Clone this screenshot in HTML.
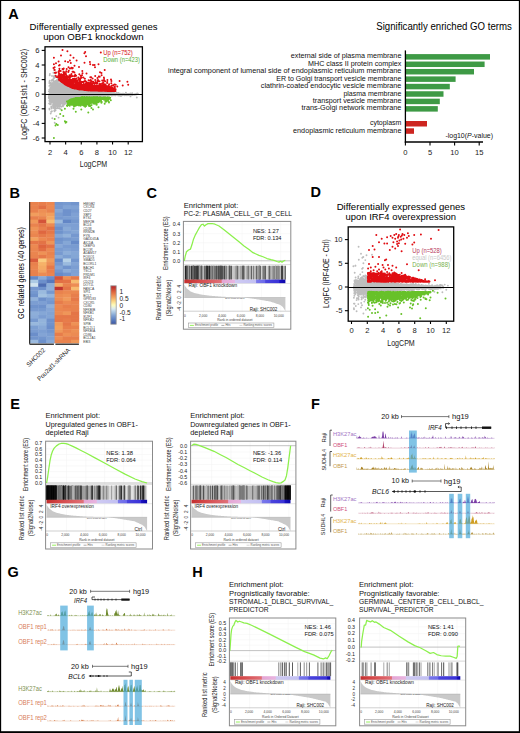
<!DOCTYPE html>
<html><head><meta charset="utf-8"><title>Figure</title>
<style>html,body{margin:0;padding:0;background:#fff;overflow:hidden}svg{display:block}text{font-family:"Liberation Sans",sans-serif}</style>
</head><body>
<svg width="520" height="733" viewBox="0 0 520 733" font-family="Liberation Sans, sans-serif"><rect x="0" y="0" width="1.15" height="733" fill="#000" />
<rect x="0" y="0" width="520" height="1" fill="#000" />
<rect x="518.85" y="0" width="1.15" height="733" fill="#000" />
<rect x="0" y="731.2" width="520" height="1.8" fill="#000" />
<text x="8.2" y="18.6" font-size="14.5" font-weight="bold">A</text>
<text x="93.6" y="29.6" font-size="9.4" text-anchor="middle" textLength="128" lengthAdjust="spacingAndGlyphs">Differentially expressed genes</text>
<text x="93.4" y="40.1" font-size="9.4" text-anchor="middle" textLength="100.5" lengthAdjust="spacingAndGlyphs">upon OBF1 knockdown</text>
<path d="M75.7 94.0h0M75.4 95.1h0M87.1 94.3h0M62.7 92.5h0M76.1 93.3h0M70.4 96.8h0M60.5 101.3h0M63.4 97.3h0M70.6 96.1h0M60.1 95.0h0M70.1 93.6h0M96.6 94.6h0M67.4 91.0h0M73.4 95.5h0M68.1 100.0h0M57.0 86.6h0M119.0 93.6h0M81.8 94.9h0M53.3 87.9h0M71.7 102.9h0M61.1 96.5h0M58.5 104.3h0M71.5 94.1h0M63.1 95.4h0M86.8 94.4h0M59.7 94.8h0M63.1 96.8h0M57.3 95.8h0M69.7 97.6h0M65.5 94.0h0M74.4 94.3h0M57.0 101.4h0M63.6 86.6h0M83.9 96.7h0M74.1 95.9h0M65.7 99.7h0M83.7 98.6h0M86.9 94.8h0M54.3 86.6h0M63.8 89.4h0M73.1 95.4h0M56.3 86.9h0M82.2 93.6h0M70.0 95.3h0M78.0 97.8h0M74.1 90.7h0M66.2 88.0h0M50.6 89.5h0M70.5 95.9h0M75.5 92.8h0M86.1 93.7h0M82.0 94.9h0M76.4 94.6h0M54.1 97.9h0M68.3 91.2h0M72.3 96.9h0M85.9 97.8h0M70.2 92.6h0M78.0 94.0h0M81.9 92.4h0M54.0 97.5h0M80.9 93.7h0M58.0 87.7h0M80.3 95.3h0M63.1 99.1h0M79.2 95.7h0M74.5 91.0h0M59.4 98.7h0M58.4 94.3h0M56.9 94.7h0M101.0 93.6h0M69.2 94.0h0M64.1 91.4h0M77.2 96.5h0M56.6 83.9h0M62.1 75.7h0M58.9 92.9h0M105.9 94.4h0M72.5 98.6h0M69.9 90.6h0M66.5 97.9h0M73.7 91.4h0M81.8 90.9h0M73.3 91.0h0M68.1 88.2h0M71.7 98.1h0M72.7 99.2h0M85.4 91.6h0M56.5 93.3h0M97.2 93.8h0M72.5 96.7h0M56.8 99.4h0M71.3 97.4h0M72.7 99.3h0M94.8 93.2h0M49.4 85.9h0M53.5 90.9h0M72.7 91.7h0M57.4 96.5h0M118.3 95.6h0M76.2 96.4h0M69.6 90.2h0M113.2 93.4h0M65.7 96.3h0M61.5 94.2h0M62.4 89.7h0M56.5 93.9h0M66.9 97.5h0M70.8 96.4h0M83.7 93.6h0M67.9 96.4h0M62.9 91.4h0M79.0 94.9h0M60.4 92.3h0M76.8 95.6h0M74.2 93.7h0M84.1 93.3h0M56.9 90.6h0M67.3 91.3h0M53.5 78.8h0M62.0 91.8h0M80.9 94.6h0M75.3 93.5h0M69.1 100.2h0M60.4 96.1h0M63.5 97.3h0M71.2 91.0h0M66.6 93.4h0M81.0 91.2h0M57.7 92.2h0M55.1 98.1h0M69.1 93.5h0M58.8 98.4h0M75.5 93.2h0M60.6 91.5h0M69.4 94.9h0M81.1 95.4h0M63.8 98.6h0M78.3 92.9h0M77.4 96.8h0M61.2 88.5h0M66.7 89.8h0M89.3 94.0h0M84.3 93.1h0M74.3 90.6h0M81.9 93.1h0M65.6 94.4h0M67.6 95.9h0M60.9 93.8h0M65.8 93.2h0M70.0 94.0h0M88.1 93.3h0M100.4 96.2h0M59.8 100.3h0M68.3 98.3h0M69.4 93.8h0M99.2 95.0h0M61.5 96.8h0M64.6 88.4h0M57.6 82.3h0M67.2 93.9h0M87.8 95.4h0M70.2 97.2h0M55.3 93.4h0M69.5 100.2h0M105.1 93.9h0M74.2 97.1h0M80.4 90.8h0M63.2 97.0h0M80.8 94.6h0M59.9 99.4h0M86.6 92.6h0M53.1 104.1h0M77.0 94.1h0M65.2 95.8h0M57.4 94.5h0M63.3 94.6h0M89.4 94.3h0M69.2 92.8h0M93.9 94.1h0M56.1 93.9h0M83.6 95.4h0M53.1 101.6h0M97.6 95.3h0M56.3 99.2h0M89.7 97.1h0M79.4 94.8h0M102.7 94.7h0M89.0 94.7h0M67.3 92.8h0M92.6 93.2h0M60.4 97.4h0M84.1 95.3h0M66.2 96.8h0M53.0 86.2h0M73.8 95.0h0M83.5 96.6h0M62.6 97.4h0M79.8 91.8h0M76.3 93.0h0M57.9 93.9h0M84.0 93.8h0M65.3 99.6h0M90.5 95.2h0M60.7 86.3h0M71.9 96.7h0M70.9 94.4h0M80.9 92.5h0M65.0 97.8h0M61.9 92.3h0M77.1 99.7h0M63.1 96.4h0M72.8 97.2h0M61.2 99.7h0M70.7 97.2h0M56.9 97.4h0M61.2 106.8h0M98.7 93.4h0M75.9 96.8h0M70.8 89.3h0M122.1 94.0h0M65.9 93.4h0M63.4 89.0h0M67.3 95.6h0M112.2 93.5h0M98.3 95.7h0M71.2 91.9h0M82.9 96.1h0M74.3 93.2h0M66.6 90.9h0M72.3 92.8h0M59.0 97.9h0M54.0 88.8h0M81.0 96.2h0M74.7 93.2h0M61.3 94.5h0M78.8 92.3h0M76.6 91.6h0M68.6 94.4h0M95.9 95.3h0M59.7 98.7h0M72.6 95.7h0M74.4 95.4h0M64.7 95.5h0M51.0 95.9h0M70.4 96.7h0M123.6 94.9h0M57.3 106.5h0M91.9 95.1h0M82.0 91.5h0M74.2 97.9h0M61.9 95.5h0M55.6 99.2h0M67.6 100.0h0M74.1 94.4h0M57.4 95.8h0M79.9 93.3h0M103.3 92.6h0M60.2 101.1h0M99.3 90.5h0M62.4 91.3h0M80.7 93.4h0M55.9 89.6h0M113.5 94.0h0M89.0 92.3h0M88.9 95.7h0M83.7 97.1h0M92.4 95.8h0M57.2 94.7h0M94.6 94.1h0M62.5 96.6h0M54.2 85.4h0M97.0 93.3h0M73.9 92.4h0M73.9 92.4h0M86.8 93.6h0M87.7 91.2h0M72.8 97.4h0M67.5 88.9h0M90.6 92.6h0M72.8 99.6h0M76.7 95.0h0M82.3 94.1h0M70.5 90.0h0M52.4 93.7h0M68.1 94.0h0M82.4 95.1h0M88.3 94.5h0M60.9 87.9h0M58.8 96.1h0M57.4 99.5h0M48.8 96.9h0M65.3 95.1h0M54.3 105.1h0M62.6 97.5h0M76.3 94.1h0M59.3 92.4h0M114.2 94.3h0M75.1 91.9h0M69.6 97.5h0M54.7 92.7h0M123.7 94.1h0M70.1 102.2h0M72.0 91.7h0M66.4 93.1h0M83.0 93.9h0M108.5 93.6h0M65.6 99.4h0M59.4 102.9h0M65.4 100.5h0M112.5 94.9h0M65.3 89.5h0M52.1 89.1h0M88.1 94.3h0M63.4 96.9h0M81.8 92.8h0M76.7 98.4h0M70.4 90.7h0M60.6 97.1h0M52.6 91.0h0M62.6 94.9h0M72.8 97.7h0M57.4 90.9h0M64.3 85.1h0M54.6 93.4h0M89.7 94.5h0M66.5 97.4h0M72.9 94.6h0M51.2 86.9h0M111.7 95.6h0M93.2 93.7h0M64.2 99.7h0M84.4 93.1h0M62.9 89.1h0M59.2 96.1h0M58.5 102.2h0M57.1 96.7h0M74.1 91.9h0M59.6 97.1h0M85.6 95.1h0M57.4 97.4h0M77.9 91.8h0M65.6 93.6h0M60.6 93.4h0M53.0 104.1h0M62.6 87.2h0M62.8 89.6h0M62.2 100.1h0M57.1 105.1h0M103.9 94.2h0M62.3 95.7h0M56.7 90.2h0M70.0 94.6h0M88.1 91.8h0M64.5 89.2h0M60.0 94.4h0M61.8 94.8h0M88.8 92.1h0M85.6 94.0h0M96.0 94.2h0M74.5 92.9h0M56.7 91.1h0M74.4 90.2h0M80.3 97.9h0M67.3 96.7h0M62.8 98.1h0M88.2 91.1h0M93.7 93.4h0M55.6 94.0h0M56.4 88.0h0M94.1 97.3h0M61.9 95.6h0M73.0 95.4h0M72.1 99.9h0M62.5 94.9h0M72.4 97.2h0M59.5 98.4h0M73.2 92.0h0M57.9 88.3h0M87.4 94.0h0M60.3 91.9h0M68.9 96.8h0M64.8 90.8h0M66.1 92.3h0M66.1 97.0h0M65.7 99.5h0M61.2 90.4h0M54.0 97.6h0M68.5 94.8h0M56.1 88.5h0M70.5 94.5h0M110.4 92.7h0M56.5 95.2h0M96.4 97.6h0M60.9 89.4h0M86.6 94.7h0M71.5 99.4h0M79.3 94.1h0M55.7 95.9h0M63.3 95.8h0M69.4 87.7h0M58.6 102.8h0M61.3 96.9h0M68.2 98.3h0M61.6 100.5h0M89.7 93.9h0M65.5 91.6h0M73.5 91.9h0M72.6 94.0h0M76.9 98.6h0M79.2 94.1h0M73.8 93.8h0M66.0 99.6h0M56.0 94.5h0M68.3 88.9h0M80.4 91.9h0M92.9 94.5h0M70.0 95.3h0M63.4 94.6h0M86.5 94.9h0M64.2 90.8h0M71.0 98.7h0M103.8 94.4h0M64.4 93.7h0M83.2 96.1h0M61.1 89.0h0M70.4 92.9h0M98.5 92.9h0M57.9 91.7h0M73.6 96.5h0M74.0 96.4h0M76.8 91.4h0M55.2 97.9h0M73.7 90.8h0M66.8 91.9h0M95.9 94.6h0M60.1 93.8h0M75.7 92.0h0M65.0 94.1h0M121.2 94.5h0M70.7 90.5h0M83.1 93.6h0M56.8 89.3h0M59.1 95.3h0M91.9 93.8h0M67.8 96.5h0M68.8 97.2h0M55.0 98.2h0M65.4 99.2h0M67.9 92.7h0M94.3 94.0h0M54.9 85.7h0M54.9 89.6h0M72.2 97.6h0M89.7 93.9h0M64.2 91.9h0M67.8 103.6h0M72.8 95.3h0M66.1 94.7h0M64.0 95.7h0M59.8 86.5h0M71.4 95.3h0M83.2 92.2h0M84.4 95.9h0M54.5 93.1h0M84.6 94.5h0M82.7 91.7h0M86.4 95.1h0M75.5 97.7h0M81.9 90.4h0M70.4 99.7h0M58.0 92.5h0M63.3 97.0h0M79.9 94.2h0M85.6 93.3h0M70.2 101.4h0M66.3 91.1h0M56.7 95.0h0M55.8 88.2h0M86.3 94.6h0M81.6 91.2h0M60.3 92.4h0M86.5 95.4h0M91.5 93.5h0M66.5 92.4h0M57.9 95.0h0M88.1 95.9h0M65.0 98.6h0M64.9 97.6h0M50.1 99.9h0M64.4 97.0h0M73.1 97.2h0M69.5 96.1h0M108.4 94.9h0M65.8 88.7h0M58.9 99.4h0M54.5 95.1h0M55.2 102.2h0M69.5 89.8h0M75.2 94.6h0M136.8 93.7h0M69.1 98.3h0M66.2 95.4h0M71.1 98.2h0M81.6 91.2h0M62.3 83.9h0M117.3 94.3h0M77.9 92.7h0M99.6 94.3h0M63.3 87.3h0M65.5 95.6h0M68.4 93.0h0M74.7 96.6h0M80.3 94.8h0M88.0 94.5h0M56.0 88.5h0M59.3 92.3h0M85.1 95.1h0M62.6 91.9h0M73.1 93.2h0M54.1 99.6h0M53.7 96.8h0M98.4 93.4h0M78.8 95.1h0M61.9 97.2h0M93.4 92.5h0M68.1 94.3h0M72.4 94.4h0M59.9 85.3h0M104.5 94.8h0M54.7 92.5h0M56.8 101.8h0M66.4 91.3h0M61.9 99.7h0M58.6 102.5h0M85.7 94.0h0M59.6 93.5h0M77.6 89.8h0M66.4 93.1h0M64.3 95.8h0M62.4 95.8h0M70.6 95.7h0M66.7 92.1h0M58.8 97.3h0M59.3 97.4h0M76.1 95.1h0M86.9 92.7h0M96.7 94.7h0M60.0 93.0h0M71.5 100.3h0M62.6 93.3h0M81.3 92.7h0M69.5 97.8h0M87.0 96.9h0M78.5 91.0h0M70.2 92.1h0M71.3 98.9h0M71.4 94.9h0M75.1 93.8h0M67.2 90.1h0M77.3 91.5h0M58.2 89.4h0M74.3 90.2h0M65.3 95.3h0M74.1 93.9h0M61.1 96.6h0M76.1 92.2h0M53.5 78.2h0M52.6 92.2h0M59.4 96.9h0M51.6 106.5h0M84.4 92.0h0M80.5 91.9h0M118.2 93.2h0M95.8 96.2h0M65.9 92.2h0M102.5 95.8h0M63.5 103.9h0M92.0 94.9h0M69.5 96.1h0M93.7 95.0h0M52.3 95.9h0M57.0 94.3h0M72.6 89.8h0M63.2 98.2h0M73.0 97.7h0M81.7 96.9h0M82.6 94.6h0M53.4 107.6h0M90.5 93.2h0M61.3 99.7h0M54.7 99.5h0M78.8 96.7h0M63.7 94.4h0M62.2 99.2h0M63.7 95.7h0M70.9 92.3h0M65.6 89.9h0M113.4 93.3h0M75.6 95.9h0M85.3 93.7h0M101.4 95.5h0M62.6 92.7h0M76.8 94.4h0M131.8 94.4h0M56.5 88.7h0M55.3 86.8h0M83.5 97.1h0M57.6 92.5h0M58.2 96.7h0M81.6 93.3h0M67.6 95.9h0M73.6 93.7h0M67.4 88.2h0M55.2 89.1h0M60.9 101.1h0M95.1 92.1h0M72.1 100.0h0M74.6 97.1h0M82.5 95.6h0M103.1 94.2h0M68.3 92.5h0M78.0 93.7h0M85.8 94.1h0M91.9 94.3h0M69.4 95.7h0M68.5 92.7h0M53.5 99.9h0M95.3 92.1h0M65.7 99.5h0M57.4 97.8h0M79.9 90.5h0M50.2 91.6h0M83.9 96.1h0M63.3 90.9h0M58.3 89.8h0M84.5 94.1h0M51.8 94.2h0M102.0 92.6h0M84.5 96.0h0M65.1 92.8h0M76.4 94.1h0M65.6 101.7h0M56.6 94.5h0M62.2 98.7h0M100.2 93.7h0M91.1 93.1h0M83.8 91.0h0M120.3 94.8h0M68.3 89.4h0M65.2 101.8h0M75.1 97.6h0M49.7 80.8h0M78.1 95.2h0M67.7 93.0h0M89.9 95.1h0M101.2 96.1h0M55.8 88.4h0M50.0 99.1h0M95.4 92.9h0M71.5 94.5h0M73.9 91.8h0M73.9 87.2h0M83.4 93.7h0M89.2 93.6h0M85.9 96.6h0M64.2 91.4h0M87.0 96.6h0M107.1 95.0h0M62.9 97.1h0M71.6 94.0h0M129.0 95.0h0M62.9 91.4h0M80.2 97.3h0M59.5 85.6h0M81.9 93.8h0M49.6 95.3h0M66.9 94.0h0M86.2 94.7h0M57.8 93.4h0M66.9 99.1h0M66.0 93.2h0M75.0 91.1h0M92.6 97.9h0M98.4 96.4h0M51.9 80.9h0M58.3 91.4h0M57.7 100.1h0M66.2 97.8h0M60.9 98.3h0M71.2 97.5h0M52.0 88.8h0M55.7 97.6h0M68.5 98.2h0M64.2 100.9h0M52.0 95.4h0M59.5 92.5h0M69.6 88.3h0M67.5 101.5h0M76.5 93.9h0M64.1 101.0h0M57.4 86.9h0M69.3 100.9h0M79.3 93.8h0M73.3 92.0h0M56.3 96.6h0M65.5 97.5h0M82.4 93.5h0M71.0 90.3h0M57.1 89.7h0M66.2 92.5h0M71.7 87.9h0M81.5 93.7h0M62.2 92.9h0M81.2 96.0h0M62.9 95.0h0M73.2 92.1h0M49.4 100.8h0M123.2 94.4h0M79.6 93.3h0M90.7 94.9h0M59.4 104.5h0M61.1 93.5h0M51.9 87.8h0M85.8 94.7h0M72.6 93.0h0M57.3 103.2h0M57.2 88.9h0M57.9 97.0h0M61.4 94.3h0M53.9 100.5h0M68.9 88.6h0M70.4 93.5h0M83.8 90.0h0M62.1 96.5h0M57.2 91.7h0M99.5 93.7h0M51.5 107.4h0M60.0 96.9h0M59.0 96.5h0M76.5 90.1h0M123.3 94.0h0M98.1 95.2h0M64.3 92.5h0M119.9 95.5h0M94.2 93.9h0M80.4 94.0h0M112.4 93.1h0M84.2 94.3h0M67.6 100.5h0M106.5 93.6h0M70.0 86.8h0M61.8 97.3h0M64.2 93.8h0M60.1 98.1h0M58.5 93.5h0M56.4 103.7h0M106.3 93.1h0M61.0 82.7h0M61.4 99.0h0M62.2 92.6h0M99.0 94.8h0M96.8 94.1h0M73.8 91.1h0M68.6 91.5h0M68.8 88.6h0M86.2 93.4h0M96.5 93.8h0M55.2 75.7h0M96.7 92.7h0M90.1 93.6h0M62.7 96.0h0M64.9 91.9h0M73.8 90.7h0M66.3 91.2h0M64.4 94.0h0M49.7 93.5h0M99.8 94.1h0M64.6 97.7h0M55.8 100.1h0M54.9 103.9h0M76.6 95.5h0M79.6 91.0h0M78.5 93.9h0M66.1 98.6h0M57.6 98.9h0M64.2 102.2h0M57.3 93.1h0M137.9 93.7h0M60.8 99.0h0M82.1 96.0h0M80.9 94.7h0M64.9 92.3h0M63.7 92.6h0M70.3 94.3h0M78.1 92.7h0M75.7 94.8h0M52.6 92.4h0M78.1 90.7h0M89.3 94.9h0M62.2 95.9h0M69.8 90.9h0M56.8 96.1h0M89.1 94.2h0M62.7 101.2h0M86.0 95.3h0M120.6 94.2h0M76.1 93.4h0M76.4 92.4h0M59.8 89.8h0M63.8 92.2h0M60.3 93.4h0M69.0 92.1h0M57.8 90.7h0M63.1 87.6h0M136.8 94.2h0M107.3 94.0h0M53.6 83.1h0M53.7 88.1h0M66.5 98.4h0M82.6 94.6h0M64.1 94.3h0M70.5 93.8h0M74.1 97.4h0M68.2 100.0h0M57.0 89.3h0M107.9 94.2h0M82.1 93.7h0M75.5 95.9h0M65.8 90.1h0M75.0 96.0h0M80.0 89.8h0M83.0 94.4h0M61.6 85.2h0M82.7 93.6h0M50.1 92.1h0M66.9 89.3h0M85.8 94.3h0M64.4 92.7h0M55.4 88.8h0M77.7 97.9h0M62.1 93.1h0M88.0 94.6h0M96.3 93.2h0M55.5 97.3h0M52.2 88.4h0M84.2 95.2h0M69.2 97.3h0M95.4 94.7h0M84.8 91.2h0M64.8 99.3h0M61.9 98.0h0M103.9 93.7h0M55.0 102.8h0M81.3 92.6h0M93.2 95.0h0M61.4 96.8h0M92.1 96.4h0M68.4 95.7h0M76.3 91.6h0M84.4 94.9h0M59.1 92.7h0M59.1 91.6h0M60.6 90.0h0M58.7 97.9h0M60.9 91.0h0M76.0 90.6h0M78.0 93.9h0M76.7 96.3h0M68.4 94.3h0M82.0 96.8h0M108.2 93.8h0M57.0 102.1h0M92.9 94.7h0M82.3 92.6h0M121.1 95.0h0M102.6 94.5h0M63.6 90.3h0M101.9 95.5h0M59.3 96.5h0M99.9 94.4h0M96.2 95.9h0M66.9 92.7h0M80.1 92.2h0M74.5 92.0h0M57.3 98.8h0M69.8 90.5h0M78.5 92.5h0M79.1 94.6h0M71.8 92.5h0M99.1 94.6h0M65.4 93.6h0M68.8 90.5h0M62.5 92.6h0M62.4 88.7h0M121.2 94.4h0M65.0 94.6h0M52.8 100.4h0M79.6 93.9h0M53.8 91.6h0M57.8 107.7h0M92.7 96.1h0M65.4 93.4h0M92.0 94.6h0M65.4 101.1h0M83.7 95.0h0M65.8 88.4h0M69.2 93.2h0M61.6 100.9h0M81.6 94.6h0M66.9 101.3h0M69.4 95.0h0M73.5 95.5h0M72.6 92.0h0M88.9 95.0h0M55.6 99.9h0M60.9 94.2h0M79.6 89.8h0M74.7 96.1h0M95.7 93.4h0M80.1 96.1h0M86.0 95.8h0M82.7 93.7h0M73.7 95.4h0M74.1 92.2h0M71.7 92.4h0M60.3 91.0h0M54.7 94.4h0M55.9 88.8h0M119.1 94.2h0M116.5 93.8h0M80.8 97.7h0M59.6 94.2h0M63.6 93.6h0M84.7 93.3h0M54.2 94.3h0M60.9 90.9h0M57.7 97.4h0M116.5 94.9h0M82.9 93.9h0M57.9 95.6h0M101.5 94.1h0M107.5 95.7h0M61.1 100.9h0M77.0 90.8h0M65.3 91.4h0M62.6 92.5h0M49.4 81.9h0M63.5 94.0h0M80.5 91.7h0M77.4 95.2h0M81.3 89.7h0M97.8 96.9h0M66.4 94.3h0M55.0 109.3h0M72.7 93.5h0M95.4 93.1h0M55.7 91.5h0M96.4 94.0h0M58.5 93.8h0M68.8 95.4h0M70.4 95.9h0M79.8 93.7h0M68.0 93.5h0M68.5 88.9h0M75.2 93.2h0M59.0 91.0h0M69.6 93.0h0M120.2 94.6h0M84.4 95.7h0M72.2 90.6h0M69.4 97.9h0M73.7 93.0h0M66.8 91.1h0M117.9 94.7h0M64.5 86.5h0M95.7 93.5h0M97.4 94.3h0M69.9 95.3h0M95.0 92.3h0M77.2 97.5h0M64.4 92.2h0M88.5 94.7h0M65.2 88.0h0M72.1 93.6h0M64.4 96.0h0M107.0 93.1h0M62.3 95.9h0M66.8 89.2h0M71.5 91.8h0M81.7 93.5h0M67.5 90.6h0M59.2 96.1h0M85.6 93.0h0M56.0 97.1h0M53.6 92.1h0M54.0 102.6h0M113.2 93.2h0M98.0 96.4h0M84.1 96.4h0M69.9 92.9h0M65.9 93.6h0M76.9 92.1h0M59.2 102.2h0M70.9 95.8h0M100.7 93.9h0M62.1 95.5h0M93.0 94.2h0M65.6 92.4h0M65.4 94.1h0M98.5 95.3h0M65.7 101.0h0M65.7 96.5h0M54.8 101.4h0M70.9 99.7h0M91.7 93.5h0M98.5 93.1h0M78.2 94.6h0M73.9 90.4h0M71.5 90.1h0M59.3 91.6h0M89.2 97.0h0M79.9 94.7h0M64.9 88.3h0M69.6 95.9h0M71.3 91.5h0M62.4 91.2h0M55.0 98.1h0M74.7 95.6h0M67.7 93.2h0M91.1 96.2h0M75.9 93.8h0M69.7 94.0h0M60.3 97.4h0M57.8 97.2h0M62.4 100.2h0M73.0 99.3h0M64.6 98.7h0M106.2 92.1h0M71.8 94.3h0M95.7 94.2h0M93.5 94.8h0M72.4 93.1h0M60.5 87.1h0M66.5 96.2h0M93.4 94.7h0M119.6 93.8h0M56.2 92.4h0M58.4 90.8h0M73.1 100.4h0M89.2 95.3h0M77.1 89.4h0M61.1 97.7h0M59.2 91.1h0M84.0 91.8h0M55.1 89.4h0M57.6 90.1h0M64.3 96.8h0M55.3 108.5h0M60.6 95.2h0M61.6 91.1h0M72.3 93.9h0M67.6 93.0h0M90.2 95.0h0M73.3 96.0h0M60.2 95.6h0M60.9 91.6h0M96.0 90.9h0M77.5 94.0h0M118.5 94.4h0M63.0 93.5h0M58.7 90.5h0M73.3 93.0h0M75.0 94.1h0M52.2 99.1h0M59.0 95.7h0M122.3 93.6h0M67.4 90.5h0M55.6 100.7h0M90.9 92.9h0M72.1 97.3h0M90.8 91.0h0M72.5 92.7h0M88.1 92.6h0M57.1 94.3h0M54.0 93.0h0M73.1 89.7h0M58.2 105.6h0M102.9 94.6h0M109.4 93.0h0M54.4 97.0h0M95.0 94.0h0M51.9 100.9h0M67.9 89.1h0M49.5 109.5h0M86.6 98.3h0M52.2 92.9h0M106.4 93.8h0M61.9 97.1h0M80.1 98.3h0M75.9 93.6h0M84.7 94.3h0M75.4 94.4h0M52.2 99.8h0M64.9 97.2h0M68.1 90.4h0M101.0 93.2h0M57.0 94.0h0M61.3 93.5h0M64.0 91.1h0M58.6 84.9h0M85.8 97.8h0M68.7 90.4h0M58.8 95.2h0M62.6 98.6h0M67.7 95.4h0M71.4 93.3h0M72.5 95.2h0M70.9 94.2h0M65.3 94.4h0M83.7 95.9h0M103.8 94.1h0M64.4 94.5h0M66.1 94.0h0M49.3 89.8h0M51.6 90.6h0M97.4 94.3h0M50.5 91.7h0M102.3 93.5h0M95.6 93.9h0M93.5 92.5h0M81.4 95.6h0M96.3 95.3h0M60.4 103.8h0M83.5 92.9h0M96.8 94.6h0M83.6 94.9h0M85.5 91.6h0M68.1 91.0h0M53.0 96.5h0M68.7 95.1h0M80.4 93.7h0M59.0 87.9h0M69.0 94.4h0M68.1 93.7h0M61.5 102.7h0M73.8 92.8h0M59.7 95.3h0M54.4 101.4h0M65.2 100.5h0M96.1 93.4h0M54.2 104.3h0M66.7 85.6h0M72.4 100.7h0M74.8 95.7h0M93.6 96.3h0M64.0 96.4h0M67.8 88.8h0M67.8 97.6h0M63.5 102.0h0M69.4 92.9h0M62.0 91.0h0M61.5 93.6h0M73.0 99.6h0M65.7 92.5h0M59.1 100.2h0M53.0 95.2h0M69.6 88.5h0M88.8 96.1h0M86.5 92.3h0M80.1 93.3h0M56.2 104.1h0M82.2 90.3h0M107.0 95.2h0M69.0 94.8h0M76.1 95.4h0M66.5 90.8h0M93.9 95.2h0M77.7 97.0h0M77.4 91.4h0M90.1 94.9h0M69.7 93.3h0M72.5 93.1h0M67.6 90.7h0M59.7 95.7h0M76.8 95.2h0M49.6 95.3h0M67.6 95.1h0M70.9 92.5h0M55.1 95.6h0M62.2 99.1h0M68.2 97.2h0M71.4 94.1h0M75.4 93.9h0M53.7 97.9h0M62.6 95.8h0M75.1 93.9h0M73.5 93.5h0M67.2 96.4h0M61.3 97.5h0M72.2 90.8h0M56.4 100.7h0M77.1 94.4h0M64.9 93.0h0M87.1 95.3h0M67.2 91.7h0M77.1 96.9h0M74.9 91.2h0M64.0 91.1h0M58.1 94.9h0M61.2 92.1h0M66.8 95.8h0M76.2 92.4h0M54.2 87.5h0M50.7 99.8h0M82.8 93.5h0M66.6 94.9h0M86.8 92.1h0M58.2 98.4h0M73.0 91.5h0M93.9 94.0h0M74.0 93.6h0M94.6 94.9h0M59.4 90.2h0M61.7 87.2h0M95.4 95.1h0M60.1 89.0h0M98.9 91.9h0M84.0 98.2h0M64.8 88.9h0M65.0 93.2h0M53.4 97.7h0M72.3 98.1h0M91.2 94.8h0M83.1 94.3h0M60.1 89.9h0M75.9 97.9h0M78.7 92.1h0M94.7 95.2h0M64.4 88.8h0M92.4 94.3h0M69.2 97.7h0M56.5 94.4h0M97.9 94.9h0M63.0 89.3h0M89.5 94.6h0M90.4 95.1h0M76.8 93.8h0M91.8 91.7h0M83.5 94.8h0M69.0 95.7h0M115.4 95.2h0M55.9 88.4h0M130.4 94.8h0M90.3 95.1h0M63.7 96.2h0M65.8 93.1h0M80.5 92.4h0M111.3 95.2h0M65.2 97.4h0M75.8 92.8h0M98.4 93.6h0M69.5 92.6h0M66.2 88.9h0M73.2 88.9h0M60.4 95.7h0M78.7 97.2h0M62.9 99.3h0M95.3 94.9h0M90.1 93.5h0M90.0 96.1h0M74.8 95.0h0M82.8 93.9h0M70.4 92.5h0M86.4 91.4h0M91.6 91.4h0M69.1 102.6h0M56.0 99.2h0M69.4 90.6h0M64.1 88.1h0M58.3 94.2h0M80.1 93.6h0M78.0 93.5h0M62.1 95.9h0M69.8 90.9h0M62.6 99.7h0M55.2 100.6h0M52.3 84.8h0M64.6 93.6h0M98.0 95.5h0M89.4 97.0h0M93.1 91.7h0M51.9 90.0h0M88.2 96.1h0M85.4 95.7h0M67.3 95.1h0M85.1 92.6h0M74.1 92.5h0M61.8 102.1h0M65.6 87.9h0M70.4 91.4h0M80.8 94.9h0M98.6 96.0h0M62.7 95.4h0M72.0 92.0h0M57.3 99.9h0M63.1 90.6h0M68.9 92.5h0M71.9 95.7h0M62.5 91.9h0M60.4 87.8h0M129.1 94.0h0M63.4 97.8h0M75.4 94.9h0M69.8 96.3h0M53.2 95.3h0M68.6 89.2h0M83.7 96.0h0M71.5 87.2h0M88.6 96.2h0M65.1 81.8h0M79.1 91.2h0M60.1 94.1h0M54.4 98.9h0M58.6 91.8h0M66.0 103.3h0M71.8 97.4h0M69.1 88.1h0M54.3 95.2h0M95.7 94.1h0M54.3 110.5h0M60.8 96.6h0M77.2 98.3h0M80.7 95.9h0M69.4 96.9h0M71.3 97.5h0M61.5 86.6h0M86.6 95.7h0M76.0 93.8h0M68.5 90.9h0M79.4 91.2h0M75.6 93.0h0M57.4 103.2h0M60.2 88.1h0M54.8 93.4h0M87.6 92.5h0M67.9 92.0h0M55.2 90.9h0M78.5 94.1h0M72.6 94.7h0M94.0 96.3h0M80.8 97.0h0M52.1 93.1h0M81.4 93.9h0M57.1 92.7h0M76.7 93.2h0M62.7 94.8h0M64.5 97.3h0M75.1 97.0h0M65.6 93.8h0M79.1 95.5h0M68.4 97.5h0M60.1 96.1h0M54.7 93.0h0M62.1 99.3h0M96.4 93.5h0M60.6 84.7h0M72.9 94.8h0M52.4 86.5h0M79.3 92.8h0M60.8 97.8h0M73.3 88.0h0M79.8 94.3h0M51.8 93.9h0M63.2 94.0h0M51.6 92.4h0M63.2 92.1h0M88.4 93.3h0M62.2 94.3h0M57.4 96.1h0M66.4 88.8h0M81.2 94.0h0M88.4 96.2h0M66.8 94.6h0M50.3 90.1h0M60.8 92.2h0M57.6 96.6h0M69.0 94.8h0M74.6 97.3h0M88.4 93.8h0M82.9 92.9h0M64.2 86.0h0M100.7 95.0h0M63.0 93.0h0M70.1 93.9h0M55.1 107.9h0M67.6 89.3h0M88.7 92.4h0M58.5 91.5h0M85.3 93.5h0M83.1 94.6h0M78.5 93.4h0M82.2 93.7h0M78.8 93.6h0M104.8 95.1h0M55.5 106.6h0M81.4 97.8h0M114.3 93.5h0M58.0 83.6h0M81.7 91.9h0M57.8 94.3h0M94.2 95.8h0M65.4 93.6h0M82.4 95.6h0M85.4 93.6h0M51.4 93.5h0M74.4 97.7h0M66.1 91.2h0M74.2 92.5h0M79.8 92.1h0M69.8 93.9h0M85.5 95.0h0M59.5 88.1h0M91.2 94.1h0M61.1 90.4h0M77.4 94.3h0M92.1 95.7h0M80.6 95.1h0M62.4 100.2h0M72.1 97.0h0M59.5 96.5h0M110.4 94.7h0M82.8 89.7h0M55.3 100.1h0M105.5 94.6h0M80.2 93.3h0M90.3 91.1h0M82.1 94.1h0M65.9 91.9h0M67.7 95.0h0M67.0 97.6h0M102.5 94.8h0M64.9 90.4h0M97.3 94.3h0M63.4 94.1h0M80.9 94.3h0M68.1 89.7h0M76.0 90.1h0M79.3 94.1h0M84.7 95.1h0M71.5 95.4h0M62.6 100.9h0M63.9 95.5h0M116.9 93.8h0M74.6 92.7h0M56.4 97.7h0M54.2 94.3h0M128.7 94.4h0M78.5 94.1h0M79.0 91.9h0M73.7 93.5h0M124.0 94.7h0M65.3 95.8h0M56.6 98.3h0M101.1 94.1h0M83.1 94.8h0M77.1 97.5h0M54.8 98.1h0M88.0 93.1h0M70.3 97.9h0M58.8 99.7h0M75.2 93.4h0M63.6 85.3h0M68.3 93.1h0M69.1 97.1h0M104.2 94.5h0M73.8 92.9h0M80.3 91.0h0M67.3 88.6h0M83.8 96.1h0M125.7 94.5h0M81.7 94.7h0M95.7 94.2h0M61.5 91.2h0M83.0 93.5h0M92.3 94.4h0M78.9 90.8h0M91.8 94.1h0M58.8 102.1h0M85.1 94.2h0M75.7 95.4h0M72.2 94.8h0M80.9 90.3h0M60.2 91.7h0M64.5 99.7h0M64.4 93.6h0M57.3 91.5h0M61.2 96.3h0M54.2 88.4h0M64.5 96.2h0M98.9 93.4h0M78.9 95.5h0M81.8 95.8h0M95.0 93.1h0M78.8 97.6h0M87.3 90.8h0M79.3 94.5h0M82.6 98.3h0M61.3 100.1h0M54.2 100.2h0M57.9 106.7h0M63.1 87.4h0M61.1 81.2h0M64.4 97.1h0M78.4 93.1h0M77.4 89.3h0M52.5 97.5h0M83.9 92.9h0M67.0 90.5h0M94.0 96.3h0M66.9 93.0h0M50.3 85.2h0M80.4 93.9h0M80.6 93.8h0M74.5 90.8h0M84.0 91.7h0M60.2 94.5h0M66.0 101.7h0M55.4 96.2h0M55.4 94.5h0M79.6 94.1h0M61.8 93.3h0M78.0 95.8h0M89.1 94.1h0M64.5 100.3h0M83.3 89.8h0M69.9 95.3h0M80.9 95.1h0M72.9 90.2h0M59.4 95.0h0M59.5 93.1h0M89.4 90.8h0M67.3 97.5h0M90.0 94.1h0M58.6 92.3h0M66.6 90.7h0M95.3 95.1h0M83.1 95.1h0M90.7 96.7h0M66.5 90.8h0M99.9 94.6h0M96.0 94.9h0M70.8 93.2h0M118.6 93.4h0M73.9 96.3h0M65.8 101.8h0M111.7 95.0h0M61.2 91.6h0M56.6 92.9h0M82.6 95.8h0M59.9 92.5h0M81.2 95.0h0M83.7 94.2h0M62.2 98.1h0M72.0 98.4h0M70.9 93.6h0M69.7 92.7h0M89.9 94.2h0M100.3 96.0h0M59.9 90.9h0M72.3 91.2h0M54.8 98.1h0M61.6 94.9h0M70.2 94.6h0M56.3 96.4h0M56.0 94.4h0M71.1 91.2h0M55.7 90.8h0M58.7 104.1h0M69.3 95.3h0M80.0 94.7h0M78.3 96.9h0M55.6 110.2h0M98.8 93.3h0M62.1 92.5h0M70.7 92.9h0M57.6 96.0h0M80.5 91.6h0M84.0 91.1h0M90.5 92.4h0M68.0 91.7h0M111.3 92.9h0M56.2 93.0h0M67.1 92.0h0M83.8 96.5h0M67.2 95.6h0M56.6 88.1h0M69.9 91.2h0M62.0 91.1h0M54.7 94.6h0M61.9 102.2h0M65.5 96.3h0M64.9 90.7h0M75.7 98.4h0M88.0 93.7h0M73.7 96.4h0M65.9 96.4h0M66.5 98.7h0M53.9 85.3h0M63.1 93.5h0M65.4 94.3h0M87.4 90.1h0M85.6 95.4h0M55.8 92.7h0M69.1 91.7h0M70.1 93.5h0M94.0 94.0h0M59.9 101.6h0M83.5 95.5h0M51.3 100.1h0M64.5 98.9h0M72.5 93.3h0M92.0 96.3h0M65.5 90.3h0M83.5 92.4h0M83.8 94.6h0M60.0 93.9h0M64.0 92.6h0M87.8 96.0h0M66.9 95.0h0M104.4 93.1h0M49.0 95.6h0M59.3 86.6h0M107.2 93.6h0M57.5 95.9h0M63.3 95.7h0M92.4 92.9h0M70.4 94.6h0M99.5 93.2h0M59.5 105.9h0M87.1 95.0h0M77.9 98.0h0M64.5 92.5h0M66.5 94.6h0M76.0 91.1h0M83.5 95.9h0M53.9 84.8h0M57.1 88.0h0M65.2 97.0h0M54.2 84.6h0M93.7 92.8h0M72.8 97.1h0M58.8 92.3h0M59.4 93.6h0M61.3 92.3h0M93.3 94.3h0M58.4 88.1h0M70.0 94.8h0M81.0 93.4h0M56.1 95.7h0M78.3 95.5h0M68.5 100.8h0M60.1 92.2h0M124.0 94.3h0M68.0 93.4h0M93.0 94.2h0M80.2 95.7h0M77.5 96.7h0M75.2 94.3h0M68.9 99.6h0M92.5 95.4h0M58.5 93.9h0M61.1 95.3h0M53.5 94.2h0M104.8 95.5h0M52.1 98.2h0M63.1 99.2h0M60.5 89.2h0M59.5 94.5h0M76.1 94.5h0M69.1 92.0h0M59.6 87.8h0M73.2 97.6h0M52.0 91.8h0M77.5 96.5h0M71.3 96.9h0M78.1 95.3h0M56.2 98.8h0M81.5 92.7h0M97.9 94.0h0M56.7 101.2h0M55.3 98.4h0M66.8 96.4h0M87.1 92.4h0M60.5 87.9h0M62.2 83.5h0M76.2 98.4h0M61.9 95.4h0M76.7 89.2h0M52.8 93.3h0M71.2 92.9h0M50.1 93.1h0M75.4 94.8h0M57.5 82.5h0M64.4 99.0h0M65.0 85.7h0M61.8 94.7h0M76.5 89.1h0M86.7 95.3h0M79.0 94.4h0M67.3 99.1h0M66.8 94.5h0M57.8 91.1h0M53.4 92.4h0M65.3 93.2h0M72.4 95.4h0M65.6 91.6h0M87.8 93.0h0M53.8 76.3h0M85.4 95.4h0M103.3 93.1h0M72.3 89.3h0M62.7 86.7h0M87.1 93.7h0M51.3 93.0h0M69.8 92.7h0M72.0 91.7h0M72.0 95.0h0M77.7 93.6h0M59.0 88.7h0M59.1 88.4h0M60.0 93.1h0M54.8 99.7h0M70.2 91.9h0M108.9 94.4h0M65.9 97.3h0M58.6 91.7h0M69.1 96.0h0M71.2 96.7h0M57.6 94.9h0M67.7 100.9h0M81.7 94.3h0M82.5 93.3h0M58.0 95.8h0M89.1 94.6h0M90.2 94.6h0M79.8 91.8h0M83.1 89.7h0M54.4 100.5h0M67.0 99.5h0M89.5 92.6h0M67.9 98.9h0M76.3 96.5h0M102.0 93.6h0M75.0 94.6h0M64.5 97.9h0M87.9 92.9h0M98.8 95.9h0M84.2 91.5h0M65.1 97.8h0M65.0 93.4h0M51.9 96.7h0M80.3 91.3h0M64.8 98.2h0M65.8 97.4h0M60.5 90.8h0M72.4 89.7h0M66.0 94.5h0M66.8 93.3h0M53.2 87.7h0M59.4 94.5h0M82.0 92.8h0M78.7 97.8h0M71.5 96.8h0M60.7 90.9h0M70.5 93.7h0M56.7 99.8h0M60.9 97.1h0M90.8 92.5h0M64.5 100.2h0M126.3 94.7h0M62.4 88.1h0M56.8 90.3h0M53.0 97.4h0M68.8 95.0h0M55.2 91.4h0M70.8 99.2h0M93.2 92.2h0M71.0 97.6h0M97.6 94.5h0M70.6 92.3h0M80.3 95.1h0M92.3 92.2h0M60.4 94.9h0M51.8 94.2h0M72.6 89.2h0M68.4 96.7h0M65.5 96.3h0M64.2 89.7h0M65.0 98.3h0M57.9 94.5h0M92.8 93.4h0M66.8 93.3h0M79.0 92.4h0M62.7 94.3h0M86.2 93.3h0M70.9 97.9h0M88.5 96.5h0M59.8 83.2h0M61.7 94.9h0M75.3 89.7h0M69.3 98.5h0M58.6 95.0h0M62.2 91.7h0M95.7 91.4h0M56.1 84.9h0M75.9 96.0h0M51.5 83.2h0M94.3 93.2h0M71.1 92.7h0M82.0 90.2h0M70.3 93.6h0M88.7 94.3h0M69.4 101.3h0M70.4 92.1h0M72.5 98.6h0M68.9 90.9h0M64.3 101.3h0M77.7 95.6h0M116.7 93.0h0M71.1 94.8h0M71.6 95.8h0M59.3 89.9h0M104.8 95.8h0M61.4 89.9h0M74.1 93.4h0M61.5 90.5h0M59.9 98.0h0M63.4 96.0h0M77.4 98.4h0M62.8 85.6h0M96.9 94.3h0M101.2 95.7h0M67.2 95.8h0M62.5 101.2h0M90.6 96.5h0M87.2 94.8h0M74.0 95.3h0M52.8 99.2h0M60.9 86.8h0M60.0 98.3h0M80.3 93.0h0M63.1 97.8h0M73.0 93.9h0M70.3 100.6h0M64.9 97.0h0M108.6 95.4h0M67.9 89.7h0M55.2 95.9h0M68.6 97.4h0M75.3 91.4h0M61.4 86.1h0M77.8 94.4h0M76.6 95.4h0M88.9 93.5h0M79.5 93.4h0M57.6 100.2h0M65.2 98.2h0M53.8 72.9h0M57.6 97.6h0M60.8 91.3h0M51.2 96.2h0M53.2 104.0h0M90.1 93.7h0M64.8 96.3h0M54.0 98.0h0M61.2 87.1h0M73.8 93.9h0M73.1 93.9h0M65.6 103.5h0M88.8 93.7h0M63.1 94.3h0M53.4 99.3h0M81.4 95.1h0M67.3 92.3h0M67.7 97.7h0M81.1 94.4h0M51.6 108.6h0M62.4 97.7h0M103.3 94.9h0M92.1 94.4h0M107.3 91.9h0M66.2 81.5h0M70.3 98.7h0M87.4 91.8h0M109.3 93.3h0M100.7 92.7h0M84.2 92.1h0M99.9 94.2h0M71.2 92.4h0M65.2 89.9h0M70.1 97.5h0M80.4 94.3h0M62.9 92.4h0M51.7 80.3h0M84.7 92.5h0M59.3 99.3h0M104.1 93.7h0M81.2 94.3h0M70.1 94.9h0M54.4 94.0h0M55.0 96.5h0M71.8 92.0h0M103.0 93.6h0M57.1 93.5h0M107.7 93.7h0M64.6 98.1h0M61.7 91.5h0M65.6 91.9h0M67.8 94.9h0M90.6 93.7h0M59.9 98.0h0M54.7 92.4h0M63.2 97.7h0M95.5 91.8h0M114.6 94.6h0M86.5 93.1h0M55.8 94.8h0M65.8 90.2h0M64.7 96.4h0M67.6 93.7h0M67.7 95.4h0M56.2 94.2h0M88.7 93.6h0M72.8 87.1h0M66.7 88.1h0M71.1 97.0h0M64.3 93.0h0M52.5 85.6h0M76.6 90.7h0M96.5 93.2h0M50.0 92.1h0M68.2 93.2h0M77.6 92.2h0M85.9 94.7h0M66.9 91.1h0M65.1 91.0h0M78.7 94.2h0M97.6 95.8h0M56.1 91.9h0M63.1 96.1h0M67.1 92.9h0M91.4 94.5h0M60.0 93.2h0M98.8 94.5h0M59.2 88.3h0M68.5 97.2h0M57.3 86.1h0M66.9 93.1h0M61.9 95.6h0M50.4 84.8h0M49.9 74.0h0M54.9 100.3h0M92.4 95.0h0M67.6 93.4h0M78.6 92.7h0M81.9 93.5h0M96.9 93.3h0M59.5 95.9h0M108.8 93.0h0M111.0 94.0h0M61.8 82.6h0M62.6 96.5h0M59.6 93.8h0M75.0 93.4h0M89.2 94.6h0M65.0 89.9h0M72.6 97.6h0M85.1 95.2h0M72.1 87.7h0M73.4 94.4h0M85.1 94.2h0M101.3 92.7h0M67.7 96.5h0M61.1 102.4h0M123.3 94.4h0M73.5 97.4h0M102.5 92.4h0M54.1 91.3h0M61.3 96.3h0M68.9 90.7h0M93.3 92.9h0M55.6 102.4h0M67.8 92.6h0M57.2 99.0h0M53.7 87.3h0M57.7 86.7h0M115.0 93.5h0M72.0 93.2h0M62.5 94.7h0M81.2 91.0h0M65.5 96.0h0M94.8 91.2h0M76.3 95.0h0M82.7 94.4h0M63.1 101.1h0M73.7 91.2h0M66.1 95.7h0M130.2 94.3h0M72.1 95.2h0M97.7 93.5h0M89.5 95.7h0M90.4 95.9h0M88.1 94.3h0M56.6 93.5h0M77.9 94.7h0M52.5 98.1h0M65.3 84.4h0M57.3 98.2h0M72.0 94.5h0M57.8 92.3h0M62.6 88.1h0M90.9 93.7h0M90.2 98.4h0M56.2 85.1h0M59.3 95.3h0M106.9 94.3h0M70.4 95.5h0M65.8 95.7h0M66.6 90.4h0M65.2 92.2h0M65.7 92.7h0M68.8 94.9h0M119.5 93.8h0M55.0 89.7h0M70.5 94.8h0M113.4 95.0h0M67.7 87.9h0M65.6 90.2h0M54.5 101.1h0M59.4 92.6h0M53.3 89.4h0M60.5 88.7h0M53.8 88.0h0M85.6 94.5h0M84.1 93.3h0M77.0 89.0h0M123.0 94.1h0M65.7 90.4h0M62.8 88.8h0M67.2 92.2h0M75.6 95.5h0M62.1 98.3h0M67.4 92.6h0M85.2 93.7h0M74.3 94.3h0M59.2 102.4h0M79.3 96.7h0M72.0 94.0h0M68.1 88.3h0M83.2 95.4h0M106.6 94.4h0M70.8 96.9h0M68.1 87.6h0M78.8 91.9h0M106.6 95.3h0M65.4 95.2h0M65.7 97.6h0M82.3 94.1h0M79.4 94.5h0M76.6 89.9h0M76.3 96.9h0M59.7 97.3h0M65.1 95.1h0M75.6 94.9h0M76.7 93.7h0M54.1 94.0h0M95.5 93.3h0M93.2 96.5h0M74.0 94.6h0M60.7 94.5h0M55.3 81.0h0M81.1 93.5h0M121.0 95.0h0M89.3 94.1h0M65.8 97.8h0M80.1 93.4h0M107.5 95.1h0M75.4 92.5h0M72.9 94.8h0M74.5 97.4h0M59.6 96.2h0M72.5 89.2h0M90.0 96.4h0M51.4 96.4h0M82.1 93.0h0M57.8 89.1h0M57.6 98.2h0M54.1 90.2h0M87.0 92.4h0M83.6 95.0h0M91.1 92.8h0M56.4 102.0h0M77.3 91.8h0M80.8 93.2h0M63.2 98.9h0M70.2 99.6h0M90.1 92.1h0M57.9 97.9h0M63.7 87.5h0M81.4 92.8h0M72.4 93.0h0M69.4 93.1h0M84.3 93.1h0M69.0 94.2h0M61.4 99.6h0M80.8 93.8h0M84.0 93.7h0M61.1 94.8h0M79.3 96.5h0M51.7 101.5h0M59.0 97.1h0M61.9 94.7h0M63.2 97.7h0M95.9 92.6h0M63.5 96.0h0M74.7 93.2h0M55.7 100.0h0M69.8 93.2h0M54.8 92.0h0M82.5 93.9h0M62.9 98.9h0M62.4 91.1h0M54.6 97.6h0M70.3 91.9h0M80.9 95.1h0M113.3 94.4h0M69.1 91.2h0M61.1 94.0h0M75.2 94.0h0M88.6 95.8h0M68.0 92.2h0M128.0 93.9h0M108.6 93.4h0M61.9 91.0h0M51.9 89.8h0M70.0 91.6h0M71.3 93.9h0M95.4 95.1h0M73.2 95.6h0M58.5 95.9h0M70.0 95.9h0M79.9 96.2h0M63.6 91.6h0M60.4 104.6h0M68.7 91.3h0M60.6 96.4h0M54.3 91.1h0M49.5 96.6h0M62.5 95.9h0M79.8 99.0h0M56.4 100.8h0M51.7 96.2h0M96.4 94.5h0M94.1 93.7h0M61.5 95.5h0M93.3 92.9h0M68.6 89.1h0M130.8 94.6h0M79.5 97.6h0M82.2 95.5h0M69.9 92.1h0M77.8 91.5h0M74.7 94.8h0M57.1 91.1h0M58.8 95.8h0M63.6 105.1h0M80.6 96.8h0M56.9 96.5h0M70.4 89.4h0M103.0 95.3h0M55.4 96.8h0M60.1 94.9h0M63.5 95.8h0M88.3 94.2h0M74.6 89.4h0M75.3 98.0h0M58.4 90.1h0M106.6 93.9h0M56.9 94.8h0M75.2 95.9h0M71.3 96.1h0M107.7 92.8h0M72.0 90.0h0M62.4 96.6h0M58.1 97.9h0M67.2 93.9h0M69.4 92.8h0M89.4 93.4h0M76.3 95.5h0M59.8 101.2h0M76.8 98.1h0M72.7 95.9h0M81.2 91.6h0M65.2 97.0h0M52.2 92.3h0M66.7 96.2h0M81.2 94.2h0M102.4 93.1h0M89.5 93.2h0M63.5 94.6h0M72.9 93.4h0M92.7 95.6h0M100.4 95.9h0M75.7 93.9h0M55.4 100.2h0M76.1 94.7h0M84.9 95.1h0M74.5 94.7h0M62.5 86.8h0M129.6 93.9h0M52.9 80.2h0M66.7 93.6h0M70.9 94.4h0M82.5 94.5h0M65.1 85.0h0M68.7 91.7h0M78.2 90.5h0M65.9 88.6h0M63.6 92.3h0M59.2 95.1h0M83.1 95.8h0M67.9 94.6h0M67.9 90.1h0M72.0 91.4h0M52.4 98.0h0M89.8 95.2h0M95.2 93.9h0M68.5 92.0h0M60.4 87.8h0M58.4 81.3h0M83.9 96.5h0M68.4 98.3h0M88.1 95.8h0M107.6 93.8h0M60.9 89.5h0M81.1 93.6h0M60.0 93.5h0M135.9 94.6h0M86.9 94.7h0M77.6 95.3h0M52.8 90.6h0M56.8 99.9h0M51.7 91.4h0M69.7 93.7h0M62.6 98.8h0M72.0 95.1h0M66.2 89.1h0M99.4 92.8h0M77.0 92.6h0M75.4 92.6h0M74.6 99.7h0M61.4 97.5h0M54.0 84.5h0M95.2 94.2h0M83.6 92.3h0M88.4 91.9h0M79.3 99.6h0M63.2 93.3h0M61.5 89.8h0M58.0 95.4h0M55.5 86.5h0M83.0 94.4h0M61.7 94.3h0M87.8 93.7h0M60.2 89.6h0M75.8 95.0h0M64.9 92.1h0M67.1 93.6h0M69.1 94.6h0M81.1 95.9h0M59.8 96.0h0M64.6 94.2h0M77.8 98.0h0M77.5 97.4h0M78.9 94.4h0M85.1 93.8h0M72.2 91.8h0M70.3 96.8h0M69.8 95.7h0M60.5 91.3h0M94.1 93.6h0M93.1 94.8h0M60.3 85.2h0M53.1 104.2h0M85.4 94.5h0M58.9 93.1h0M68.5 96.8h0M60.2 90.6h0M50.2 82.6h0M54.1 90.2h0M68.8 93.9h0M58.7 90.4h0M88.6 94.7h0M70.1 92.7h0M89.3 93.0h0M51.1 86.2h0M70.3 100.1h0M57.7 98.3h0M73.9 92.9h0M79.8 92.7h0M92.8 94.1h0M59.2 97.0h0M56.1 95.0h0M76.3 96.6h0M66.0 98.4h0M63.5 92.0h0M67.5 96.6h0M63.9 98.5h0M63.6 85.5h0M87.7 94.7h0M95.0 95.3h0M57.3 94.0h0M53.4 72.8h0M80.8 94.4h0M51.4 86.2h0M65.7 87.0h0M64.1 90.5h0M64.1 97.0h0M51.9 95.5h0M69.9 90.2h0M70.6 89.1h0M73.0 101.5h0M81.4 91.8h0M64.4 95.1h0M64.2 92.4h0M75.9 91.6h0M71.4 95.5h0M65.5 92.0h0M78.7 88.5h0M86.1 91.0h0M76.8 97.4h0M66.4 91.8h0M78.1 97.9h0M69.3 98.5h0M70.9 91.7h0M58.7 99.4h0M53.5 97.4h0M113.0 94.0h0M87.1 93.0h0M61.0 100.2h0M69.0 97.2h0M95.7 94.3h0M66.1 99.4h0M109.2 93.5h0M74.3 91.8h0M61.5 88.1h0M59.5 98.4h0M74.1 92.6h0M96.2 95.9h0M55.8 94.4h0M76.6 96.4h0M53.3 92.0h0M99.4 94.5h0M81.4 97.5h0M54.7 87.1h0M73.3 99.3h0M65.8 88.3h0M100.6 93.0h0M68.0 90.7h0M57.8 92.9h0M68.3 91.8h0M50.0 99.6h0M60.0 98.6h0M69.1 102.3h0M86.6 93.4h0M89.7 96.3h0M84.1 95.3h0M74.9 96.5h0M76.0 92.1h0M71.4 93.5h0M68.9 101.3h0M58.9 92.3h0M65.4 91.5h0M62.7 97.4h0M64.4 99.3h0M68.4 93.2h0M82.5 96.4h0M61.9 94.3h0M52.9 91.3h0M72.1 90.3h0M82.4 98.5h0M70.2 95.6h0M59.3 102.6h0M88.5 94.5h0M57.9 100.9h0M71.8 99.1h0M82.0 95.6h0M65.2 92.3h0M52.2 101.2h0M59.2 96.9h0M80.1 95.0h0M61.7 83.8h0M70.6 90.8h0M54.0 106.4h0M60.1 96.4h0M62.6 91.8h0M78.4 91.9h0M63.8 87.7h0M58.2 87.8h0M68.6 96.7h0M66.4 95.6h0M70.1 88.9h0M95.0 95.4h0M56.1 102.2h0M67.9 94.2h0M79.4 95.8h0M59.8 96.8h0M86.1 94.9h0M54.2 90.6h0M68.4 89.1h0M71.9 96.2h0M65.5 95.7h0M65.0 96.3h0M71.3 96.2h0M73.4 92.6h0M88.1 95.5h0M55.1 83.4h0M74.1 97.8h0M63.1 90.2h0M71.9 87.8h0M54.9 88.9h0M102.9 94.6h0M95.5 95.3h0M77.9 97.4h0M56.8 96.6h0M57.9 94.8h0M67.1 96.9h0M110.6 93.3h0M79.7 95.3h0M127.9 94.2h0M100.0 94.7h0M51.9 91.9h0M84.0 94.0h0M58.2 102.2h0M67.8 99.3h0M79.4 92.8h0M58.7 91.5h0M65.6 95.2h0M56.5 105.4h0M58.2 91.3h0M71.8 92.0h0M52.8 79.6h0M57.9 95.3h0M66.5 94.7h0M61.0 88.0h0M53.7 98.2h0M61.6 90.4h0M83.4 94.9h0M56.5 91.5h0M66.8 90.6h0M78.4 96.1h0M63.0 92.9h0M88.4 93.2h0M56.0 98.4h0M62.7 91.4h0M55.6 90.3h0M74.2 95.4h0M57.3 100.0h0M55.1 90.0h0M54.3 96.2h0M57.2 93.2h0M59.0 83.8h0M81.0 95.0h0M81.9 91.3h0M78.7 91.9h0M57.8 91.9h0M66.4 98.5h0M100.8 94.4h0M96.5 94.0h0M66.2 93.9h0M63.2 94.9h0M56.5 103.0h0M91.7 97.8h0M62.0 97.2h0M65.4 102.0h0M51.2 102.7h0M78.5 95.4h0M61.3 91.9h0M95.4 94.7h0M80.7 95.9h0M65.9 94.6h0M70.3 100.9h0M65.1 93.9h0M54.1 99.5h0M91.2 94.3h0M61.8 94.3h0M86.5 94.9h0M73.0 89.1h0M59.0 97.1h0M64.6 93.6h0M58.1 90.5h0M63.2 93.4h0M68.1 85.6h0M77.6 95.4h0M77.9 94.8h0M58.7 95.5h0M119.5 93.6h0M57.2 99.2h0M75.0 95.4h0M70.8 95.7h0M56.8 90.4h0M88.5 93.4h0M65.9 93.1h0M80.8 92.7h0M60.9 90.4h0M84.0 94.8h0M118.2 94.2h0M61.5 91.6h0M100.1 92.2h0M51.1 100.2h0M85.3 93.9h0M71.6 96.1h0M80.6 94.1h0M64.5 92.6h0M77.9 94.5h0M76.5 88.3h0M85.0 93.3h0M108.0 96.2h0M63.3 95.6h0M58.3 98.9h0M60.7 81.8h0M81.2 95.3h0M73.2 93.1h0M60.9 97.2h0M127.3 94.3h0M104.1 94.5h0M72.8 95.3h0M84.6 95.9h0M62.1 88.3h0M53.6 91.0h0M55.5 93.2h0M76.9 91.7h0M87.8 93.1h0M76.4 94.6h0M62.6 92.6h0M61.8 92.3h0M62.8 99.4h0M61.0 100.6h0M81.7 94.5h0M53.1 101.4h0M64.9 90.4h0M73.0 92.6h0M55.3 99.4h0M72.3 92.6h0M50.6 98.0h0M81.2 91.8h0M72.3 96.3h0M104.2 95.3h0M84.2 90.6h0M66.3 101.2h0M65.5 93.8h0M55.5 101.3h0M62.3 92.1h0M63.2 94.9h0M66.2 90.6h0M103.4 93.4h0M67.4 99.7h0M91.7 95.1h0M54.1 102.9h0M121.4 95.7h0M72.7 96.3h0M93.0 95.5h0M72.9 98.4h0M78.1 91.1h0M64.3 88.8h0M69.6 95.6h0M61.4 91.4h0M79.4 90.2h0M84.6 94.3h0M63.5 96.6h0M59.6 92.9h0M75.1 94.3h0M65.9 90.2h0M80.6 94.1h0M61.8 99.1h0M55.2 98.2h0M61.8 95.4h0M66.4 98.4h0M58.6 96.5h0M67.0 102.3h0M55.2 91.6h0M104.1 93.5h0M72.8 92.7h0M132.0 95.1h0M65.7 97.7h0M58.4 92.9h0M100.5 97.3h0M62.5 94.1h0M64.2 91.6h0M58.8 90.6h0M64.2 99.1h0M92.8 92.7h0M59.5 86.5h0M50.3 92.3h0M70.7 91.3h0M98.9 93.0h0M62.4 89.6h0M63.3 99.7h0M81.3 91.6h0M64.9 95.7h0M56.5 96.8h0M104.1 95.3h0M84.8 95.2h0M67.4 97.5h0M55.8 95.5h0M70.7 91.6h0M56.3 98.0h0M61.6 100.3h0M75.1 92.5h0M58.2 81.8h0M66.6 96.3h0M89.5 96.4h0M84.6 95.1h0M56.8 90.4h0M124.9 94.1h0M58.8 98.5h0M66.1 95.5h0M73.9 94.8h0M85.7 92.4h0M106.9 95.2h0M53.6 86.8h0M72.1 96.1h0M73.3 92.0h0M90.0 93.3h0M66.1 96.2h0M58.4 94.3h0M80.1 94.7h0M70.6 93.9h0M62.7 94.2h0M58.9 90.6h0M56.4 103.8h0M69.4 96.4h0M83.4 91.1h0M79.6 96.3h0M78.4 94.6h0M56.8 105.4h0M57.0 81.4h0M68.9 90.6h0M53.5 86.8h0M85.3 92.8h0M101.5 92.7h0M95.5 93.1h0M82.5 97.0h0M89.1 95.8h0M60.7 101.9h0M55.6 100.3h0M79.1 92.6h0M67.7 95.7h0M69.3 94.3h0M61.3 94.5h0M76.2 90.9h0M73.7 92.8h0M61.4 84.8h0M60.7 88.7h0M65.5 97.0h0M59.0 99.6h0M72.7 95.8h0M54.1 92.6h0M61.2 97.2h0M59.1 100.9h0M86.4 92.8h0M73.9 94.7h0M74.9 89.3h0M82.7 94.8h0M80.4 90.7h0M60.1 97.4h0M58.6 104.6h0M70.0 96.3h0M64.2 84.8h0M72.4 91.1h0M70.3 91.7h0M50.6 93.1h0M81.8 95.8h0M59.2 85.0h0M49.0 94.1h0M106.4 94.0h0M73.2 95.7h0M80.0 94.4h0M59.5 93.4h0M82.1 92.9h0M51.9 88.9h0M73.5 93.9h0M71.5 92.6h0M68.3 99.4h0M74.4 94.1h0M57.6 98.5h0M71.4 95.2h0M81.9 90.8h0M66.0 95.6h0M70.0 96.7h0M84.9 93.2h0M68.7 98.1h0M54.5 103.7h0M63.7 92.4h0M83.9 94.0h0M99.0 95.1h0M80.5 96.4h0M75.2 97.4h0M83.1 95.5h0M63.9 83.1h0M66.4 97.0h0M66.1 97.9h0M63.3 93.8h0M70.9 90.3h0M89.4 97.6h0M93.0 95.5h0M52.6 90.5h0M98.1 94.9h0M72.7 93.1h0M94.1 94.9h0M54.1 94.7h0M56.1 100.3h0M57.3 96.4h0M93.0 94.1h0M81.3 94.5h0M63.6 86.6h0M58.6 93.7h0M77.6 96.3h0M74.6 97.1h0M78.5 97.5h0M54.5 93.9h0M59.7 92.2h0M62.6 91.4h0M98.3 96.7h0M91.6 96.7h0M79.0 92.3h0M57.7 78.9h0M55.2 88.0h0M68.7 91.4h0M86.8 95.1h0M49.4 98.6h0M70.0 93.0h0M70.2 97.0h0M69.6 99.2h0M80.7 93.7h0M54.2 102.3h0M69.2 98.1h0M50.7 113.5h0M70.7 92.6h0M81.6 93.3h0M78.2 94.2h0M61.0 99.0h0M86.9 95.6h0M51.1 96.9h0M63.2 93.9h0M63.2 96.3h0M65.4 96.8h0M97.0 94.8h0M49.1 103.4h0M58.1 100.7h0M76.4 93.9h0M58.5 98.0h0M101.4 94.2h0M66.9 91.9h0M87.5 95.7h0M52.5 92.4h0M65.5 93.1h0M70.5 94.6h0M57.3 83.7h0M60.9 96.1h0M77.0 90.0h0M66.3 90.3h0M62.8 94.2h0M78.6 92.2h0M114.6 94.3h0M74.7 89.6h0M52.8 90.2h0M71.9 88.5h0M58.5 98.2h0M62.6 97.2h0M65.4 83.5h0M86.6 93.9h0M90.8 94.9h0M51.8 102.3h0M68.3 92.9h0M61.8 89.8h0M111.6 93.3h0M72.7 93.7h0M80.1 96.0h0M57.0 92.3h0M108.8 94.5h0M92.7 96.5h0M71.7 92.3h0M60.5 98.3h0M80.1 95.6h0M66.8 91.9h0M62.1 95.0h0M77.6 95.9h0M88.5 96.6h0M70.2 88.2h0M78.0 98.0h0M78.9 93.2h0M64.1 94.4h0M69.6 97.9h0M99.0 94.5h0M52.6 95.2h0M85.7 93.4h0M53.6 92.6h0M82.7 91.6h0M77.5 92.6h0M60.6 99.1h0M51.1 84.1h0M82.2 93.7h0M71.1 99.5h0M83.6 91.4h0M84.9 95.6h0M72.7 95.1h0M55.8 92.3h0M62.1 90.5h0M54.7 92.7h0M86.3 91.3h0M64.1 98.4h0M56.7 96.7h0M70.7 95.0h0M84.0 90.8h0M91.3 91.9h0M63.5 99.7h0M60.4 88.9h0M71.7 94.7h0M78.7 100.3h0M60.4 89.9h0M75.6 98.9h0M86.6 97.7h0M61.4 90.7h0M69.0 91.9h0M69.4 95.4h0M74.1 97.4h0M51.1 94.3h0M101.5 95.1h0M103.7 94.5h0M87.5 95.1h0M80.0 94.6h0M108.6 95.2h0M53.0 99.7h0M74.9 92.8h0M61.5 101.9h0M74.6 92.9h0M84.9 94.0h0M62.1 99.1h0M88.3 96.0h0M99.0 95.3h0M89.8 94.9h0M78.3 96.2h0M83.7 92.6h0M95.4 95.4h0M62.4 93.0h0M104.4 94.8h0M96.9 93.6h0M102.9 93.6h0M66.6 98.4h0M54.1 97.9h0M82.9 94.0h0M51.4 87.6h0M86.8 94.1h0M59.8 90.9h0M71.7 95.2h0M54.0 96.2h0M71.3 98.2h0M67.5 101.6h0M90.2 95.7h0M65.0 91.9h0M88.6 93.6h0M57.0 97.0h0M71.5 91.1h0M102.0 93.7h0M86.7 97.0h0M82.0 92.6h0M78.0 94.3h0M68.5 95.7h0M75.3 96.1h0M81.1 93.7h0M90.6 93.2h0M62.3 97.3h0M57.9 92.5h0M61.8 101.3h0M100.9 94.7h0M59.4 90.2h0M93.6 92.9h0M108.9 94.7h0M69.0 91.3h0M70.8 95.4h0M56.4 94.3h0M74.7 96.1h0M54.1 70.1h0M69.5 94.8h0M67.5 95.1h0M70.4 96.0h0M72.2 90.6h0M62.3 84.9h0M76.8 96.4h0M78.0 93.8h0M72.2 95.6h0M59.7 92.8h0M58.7 96.5h0M132.2 93.2h0M57.2 96.6h0M74.6 91.5h0M60.6 88.8h0M71.1 95.4h0M90.5 92.1h0M72.1 94.2h0M58.8 96.9h0M72.3 96.9h0M57.9 92.1h0M71.3 92.8h0M94.7 95.7h0M65.0 94.5h0M63.7 100.5h0M58.2 105.1h0M67.4 89.0h0M78.1 97.4h0M77.5 97.5h0M73.7 93.6h0M90.8 95.4h0M86.9 94.8h0M78.1 95.3h0M71.3 95.7h0M57.6 89.9h0M63.6 91.1h0M106.7 93.8h0M74.6 90.2h0M54.2 100.4h0M64.9 94.0h0M52.5 82.9h0M69.5 94.7h0M64.4 86.7h0M93.4 93.6h0M101.2 95.7h0M95.2 94.8h0M88.0 93.6h0M87.2 93.8h0M53.2 92.3h0M63.2 93.0h0M76.0 97.3h0M61.9 94.1h0M75.7 93.2h0M75.1 93.6h0M87.1 92.1h0M73.6 95.9h0M64.9 86.4h0M94.6 92.6h0M60.4 89.9h0M56.2 97.0h0M73.0 92.9h0M83.1 91.5h0M59.1 89.2h0M89.2 91.1h0M72.0 99.4h0M92.5 95.2h0M90.2 97.8h0M52.5 95.0h0M75.2 93.0h0M60.2 94.8h0M61.2 89.0h0M80.8 91.7h0M84.8 97.1h0M81.9 94.2h0M106.5 94.2h0M59.9 104.1h0M65.9 90.7h0M93.7 94.9h0M78.0 98.8h0M63.2 95.3h0M78.2 93.3h0M70.1 94.8h0M56.3 92.5h0M65.0 93.0h0M73.3 97.0h0M75.1 92.5h0M72.5 98.6h0M51.5 100.9h0M62.7 101.1h0M59.2 89.2h0M71.3 85.9h0M72.0 96.0h0M71.0 90.4h0M63.0 94.9h0M82.6 95.6h0M81.7 95.2h0M91.2 95.2h0M75.8 95.2h0M61.1 98.7h0M77.0 95.6h0M89.0 95.0h0M67.6 89.9h0M77.5 92.4h0M54.3 84.6h0M70.3 85.8h0M51.9 111.3h0M63.0 106.4h0M57.6 91.0h0M69.8 92.8h0M75.5 96.1h0M57.9 94.9h0M65.7 100.6h0M50.7 95.3h0M53.0 100.5h0M67.1 84.3h0M65.5 94.3h0M62.1 91.2h0M67.0 86.4h0M57.8 92.7h0M64.8 95.6h0M67.7 93.9h0M89.5 95.6h0M60.5 87.6h0M64.7 101.1h0M79.3 96.8h0M67.7 89.8h0M94.0 95.7h0M90.8 96.3h0M77.9 95.2h0M63.0 95.7h0M95.8 93.7h0M98.0 94.1h0M100.9 93.8h0M60.7 88.0h0M63.6 99.1h0M84.6 93.0h0M53.9 81.6h0M58.6 91.4h0M77.8 92.8h0M70.9 94.2h0M84.2 94.6h0M88.2 95.7h0M91.3 96.0h0M66.0 90.4h0M73.2 93.8h0M71.5 92.3h0M67.2 96.7h0M102.5 93.9h0M60.8 90.8h0M59.6 93.9h0M73.5 92.5h0M55.8 104.2h0M55.0 93.1h0M91.8 96.8h0M85.7 95.0h0M88.0 93.7h0M55.2 87.1h0M71.6 90.2h0M75.5 94.7h0M61.7 96.3h0M61.0 92.5h0M78.3 91.6h0M86.7 92.9h0M83.1 93.7h0M55.8 96.1h0M74.1 96.7h0M70.7 96.1h0M66.0 93.3h0M118.5 93.8h0M91.5 97.5h0M75.0 93.4h0M80.2 94.6h0M63.8 91.1h0M74.0 94.7h0M56.3 88.0h0M57.4 97.0h0M90.4 95.2h0M87.9 93.1h0M56.6 95.9h0M89.9 95.0h0M65.9 103.4h0M81.6 96.4h0M49.7 75.3h0M86.6 93.9h0M76.1 94.0h0M62.0 98.4h0M93.3 94.2h0M77.8 94.7h0M58.6 90.6h0M69.0 92.1h0M87.2 95.7h0M83.9 96.2h0M62.7 97.1h0M51.5 87.6h0M58.3 97.8h0M70.6 93.2h0M82.2 92.1h0M53.5 103.3h0M112.7 95.4h0M77.3 96.8h0M58.3 98.0h0M56.6 85.5h0M69.9 96.9h0M62.6 92.9h0M63.1 91.7h0M70.6 92.1h0M59.1 101.1h0M61.6 94.0h0M69.8 97.5h0M56.4 102.2h0M74.4 98.1h0M72.0 96.1h0M100.0 94.6h0M65.4 86.7h0M65.8 88.5h0M88.0 97.5h0M78.4 95.1h0M66.0 92.0h0M79.0 91.9h0M52.6 79.9h0M84.7 94.0h0M93.6 93.2h0M64.8 92.4h0M57.2 88.7h0M59.4 98.8h0M58.2 102.2h0M84.1 91.2h0M59.6 100.8h0M73.4 93.9h0M60.5 98.7h0M70.7 93.7h0M72.9 95.7h0M101.6 93.0h0M61.2 97.9h0M57.8 97.5h0M58.6 95.6h0M54.4 100.4h0M59.9 98.4h0M75.9 93.5h0M54.4 90.3h0M85.7 91.2h0M56.8 99.5h0M58.5 87.5h0M73.9 92.7h0M62.4 90.5h0M91.0 93.0h0M60.9 91.8h0M104.8 93.7h0M75.9 89.8h0M63.2 94.4h0M58.5 93.6h0M93.5 94.4h0M103.7 93.4h0M79.3 90.4h0M59.3 103.5h0M100.5 92.7h0M70.5 92.0h0M78.5 89.3h0M91.6 94.1h0M74.8 97.5h0M72.7 90.9h0M57.6 95.2h0M60.0 91.9h0M100.8 93.4h0M79.9 90.3h0M70.1 96.5h0M72.5 101.2h0M71.1 90.7h0M52.6 97.6h0M54.6 96.2h0M62.9 94.3h0M56.3 99.8h0M61.2 92.8h0M62.9 94.3h0M62.2 92.8h0M75.7 99.9h0M57.4 101.4h0M55.1 77.3h0M64.9 100.4h0M71.9 90.1h0M64.1 89.8h0M79.2 95.5h0M103.4 94.2h0M84.7 94.6h0M57.3 105.8h0M95.7 96.9h0M79.4 92.3h0M72.8 95.7h0M79.8 96.1h0M73.8 96.9h0M64.5 91.6h0M66.4 93.8h0M56.1 94.0h0M69.8 94.4h0M96.2 94.4h0M66.3 98.6h0M81.2 93.7h0M76.6 91.3h0M79.6 95.8h0M73.8 94.0h0M58.8 95.3h0M73.2 94.5h0M86.8 93.2h0M81.3 94.9h0M56.2 102.8h0M116.5 93.6h0M57.2 102.2h0M56.5 98.8h0M73.7 95.0h0M83.1 93.5h0M84.4 94.9h0M54.7 91.5h0M77.4 92.7h0M90.3 94.9h0M61.3 98.5h0M127.9 94.4h0M68.8 97.1h0M79.2 94.7h0M68.5 86.6h0M66.0 94.8h0M78.2 96.6h0M65.8 89.9h0M76.4 92.6h0M67.3 90.3h0M62.9 100.5h0M108.8 94.4h0M116.4 94.5h0M53.4 89.2h0M66.7 100.0h0M61.5 89.2h0M49.6 101.3h0M64.8 87.0h0M87.2 94.8h0M75.0 91.7h0M83.7 93.2h0M91.4 95.2h0M72.3 97.9h0M63.4 94.3h0M55.9 94.3h0M60.8 93.6h0M62.9 99.0h0M97.0 95.4h0M126.2 95.2h0M83.8 94.3h0M58.2 88.0h0M69.9 93.5h0M81.5 96.3h0M67.2 95.7h0M74.5 93.1h0M88.1 91.9h0M81.5 96.9h0M54.8 90.2h0M93.7 94.4h0M68.0 96.1h0M64.1 90.3h0M68.4 93.2h0M60.4 97.6h0M49.4 100.5h0M86.8 90.5h0M81.3 95.9h0M64.5 96.2h0M62.2 82.6h0M62.7 95.2h0M87.7 93.5h0M81.9 92.9h0M93.9 93.6h0M78.9 94.5h0M57.9 82.4h0M91.0 95.6h0M59.4 105.0h0M75.0 87.9h0M102.2 94.9h0M87.6 96.0h0M69.6 90.3h0M99.2 93.0h0M79.6 92.9h0M87.7 93.8h0M65.2 97.3h0M58.8 89.5h0M65.7 92.6h0M81.3 96.4h0M76.1 95.1h0M58.5 96.1h0M66.8 96.3h0M75.2 99.3h0M61.7 103.2h0M70.5 94.6h0M67.1 93.0h0M62.5 96.2h0M55.3 87.7h0M64.8 101.8h0M52.3 96.0h0M62.6 91.2h0M86.7 94.7h0M60.2 100.7h0M102.0 93.4h0M85.1 93.9h0M79.7 94.8h0M137.1 93.4h0M74.4 98.7h0M72.7 96.4h0M65.4 95.7h0M52.9 88.6h0M55.3 99.5h0M63.2 94.3h0M89.9 96.9h0M71.2 94.3h0M85.2 95.7h0M84.5 96.9h0M71.6 94.6h0M86.7 95.6h0M90.5 95.0h0M88.1 94.7h0M59.8 93.3h0M115.3 94.3h0M57.7 100.0h0M93.2 94.6h0M97.6 96.0h0M65.3 98.4h0M120.6 94.6h0M84.2 93.5h0M79.6 91.1h0M62.0 83.6h0M102.4 94.4h0M70.7 100.4h0M77.8 95.6h0M85.0 91.6h0M112.2 93.6h0M69.3 93.1h0M67.0 94.2h0M63.3 91.8h0M62.8 101.0h0M54.8 103.0h0M81.8 94.0h0M58.5 98.3h0M63.8 96.5h0M69.9 93.8h0M88.0 95.8h0M60.7 92.2h0M70.0 95.0h0M64.3 93.5h0M74.8 92.7h0M59.3 95.3h0M65.2 93.5h0M87.3 95.3h0M50.8 104.2h0M90.1 95.3h0M61.6 92.8h0M61.6 96.5h0M76.9 93.4h0M54.0 78.3h0M76.0 95.0h0M82.2 93.5h0M82.9 94.7h0M52.7 89.0h0M78.1 94.3h0M59.1 98.6h0M64.7 94.3h0M71.7 94.0h0M56.8 95.1h0M73.3 94.4h0M50.0 95.6h0M61.2 92.5h0M85.5 95.4h0M75.0 92.5h0M87.8 93.8h0M60.3 99.0h0M63.4 99.1h0M63.8 92.9h0M67.1 94.1h0M81.8 92.9h0M74.8 94.6h0M72.4 94.6h0M62.5 101.4h0M60.3 100.3h0M69.0 93.1h0M62.4 95.9h0M74.5 94.9h0M60.4 91.9h0M75.2 97.1h0M101.9 95.2h0M63.3 100.3h0M52.7 93.6h0M62.6 95.1h0M87.1 97.3h0M101.7 91.9h0M66.5 92.0h0M89.0 92.7h0M73.5 93.8h0M59.2 88.7h0M77.1 96.7h0M74.3 98.0h0M66.4 95.9h0M77.8 96.1h0M110.5 94.1h0M71.0 91.8h0M55.7 97.4h0M66.7 94.5h0M86.5 95.0h0M54.4 94.9h0M106.6 93.3h0M61.1 91.6h0M52.7 87.9h0M58.2 81.5h0M58.2 93.3h0M54.0 92.0h0M121.4 93.9h0M63.8 96.0h0M92.7 93.8h0M83.6 96.8h0M86.8 96.4h0M67.4 94.2h0M73.8 94.3h0M75.8 94.6h0M72.3 92.4h0M54.3 90.8h0M116.6 93.7h0M80.7 94.3h0M54.9 97.8h0M61.2 94.3h0M108.6 95.7h0M76.1 95.9h0M54.1 97.0h0M73.1 98.2h0M69.1 97.3h0M80.8 95.9h0M92.5 96.4h0M63.6 93.1h0M67.8 96.0h0M57.7 88.3h0M69.8 97.0h0M66.2 89.8h0M55.9 98.7h0M55.9 95.6h0M83.6 97.0h0M69.0 101.1h0M107.0 93.5h0M53.5 97.8h0M53.2 100.0h0M73.4 93.4h0M60.0 102.7h0M65.3 92.7h0M97.7 94.1h0M64.4 93.8h0M71.9 97.7h0M58.0 102.6h0M83.1 93.7h0M77.7 92.2h0M62.0 91.8h0M64.9 90.9h0M65.9 93.9h0M77.9 95.7h0M62.7 89.3h0M57.1 91.3h0M60.9 88.1h0M57.2 98.3h0M78.6 94.0h0M61.4 89.8h0M77.9 96.5h0M74.7 92.6h0M78.2 94.6h0M62.7 100.5h0M66.1 101.8h0M69.4 92.5h0M76.0 97.8h0M61.9 90.2h0M62.8 93.9h0M78.6 95.3h0M62.4 91.0h0M78.9 93.1h0M80.5 94.6h0M65.7 97.8h0M68.7 100.3h0M61.5 93.6h0M64.8 98.0h0M60.5 101.3h0M63.7 94.2h0M84.3 96.3h0M54.6 83.5h0M57.9 108.2h0M63.0 90.7h0M113.4 94.8h0M72.4 101.4h0M60.8 89.9h0M77.4 97.0h0M52.0 75.9h0M62.6 101.6h0M69.6 96.3h0M54.6 87.8h0M79.8 96.1h0M70.7 86.0h0M69.6 93.1h0M61.8 101.1h0M56.5 94.2h0M107.4 95.3h0M59.9 88.4h0M90.6 92.5h0M72.7 92.5h0M58.3 100.7h0M96.5 94.3h0M65.5 88.6h0M53.4 99.3h0M85.9 96.5h0M58.5 100.3h0M75.5 91.6h0M61.8 88.7h0M63.7 100.7h0M66.3 98.8h0M82.0 97.2h0M70.7 92.1h0M115.1 94.8h0M53.5 90.1h0M80.7 92.9h0M94.1 94.6h0M58.0 85.0h0M76.7 95.9h0M64.6 90.3h0M98.7 94.9h0M60.7 97.3h0M58.9 98.6h0M51.2 85.0h0M84.7 92.8h0M54.0 89.9h0M81.2 93.2h0M68.8 95.1h0M56.5 87.1h0M79.3 92.3h0M68.7 93.7h0M58.8 78.6h0M98.1 93.9h0M72.4 97.5h0M53.4 98.9h0M98.9 93.2h0M78.5 90.9h0M71.0 88.7h0M68.8 90.2h0M59.0 97.6h0M63.7 94.1h0M61.7 87.1h0M113.0 94.4h0M65.1 89.4h0M89.3 91.7h0M82.1 92.0h0M61.7 86.9h0M81.5 93.6h0M91.8 92.9h0M76.3 100.5h0M73.4 91.2h0M87.9 92.2h0M84.4 94.6h0M63.3 89.3h0M92.4 92.2h0M60.6 92.6h0M87.7 93.6h0M70.4 96.2h0M93.0 94.3h0M65.4 95.7h0M83.5 94.6h0M61.9 98.7h0M56.0 88.0h0M77.0 92.9h0M53.4 99.6h0M96.7 94.2h0M112.2 93.9h0M53.6 91.7h0M84.7 95.1h0M67.2 94.6h0M76.2 93.3h0M82.4 94.9h0M57.8 98.8h0M85.9 95.1h0M52.3 88.8h0M134.1 94.2h0M67.0 93.4h0M79.6 92.8h0M61.6 94.6h0M58.8 92.6h0M102.5 95.1h0M69.8 99.6h0M60.9 89.1h0M81.5 97.0h0M64.0 98.8h0M112.5 94.2h0M60.1 90.5h0M129.8 94.4h0M62.1 95.4h0M117.2 94.3h0M87.0 95.9h0M58.1 88.1h0M93.9 92.0h0M82.8 94.0h0M61.0 94.9h0M59.2 92.1h0M79.4 93.9h0M103.9 94.8h0M55.4 94.9h0M57.5 92.9h0M81.0 92.9h0M108.8 95.7h0M67.0 96.6h0M56.6 94.8h0M86.3 95.4h0M75.6 92.0h0M110.2 94.0h0M94.7 95.9h0M59.7 89.3h0M57.4 100.8h0M58.1 93.7h0M64.7 93.6h0M73.0 92.6h0M114.4 94.7h0M57.9 97.7h0M54.6 92.6h0M68.8 97.2h0M63.2 97.6h0M52.3 90.5h0M74.0 100.1h0M77.4 91.6h0M91.8 95.7h0M94.0 93.1h0M82.1 94.9h0M103.2 94.8h0M64.6 101.1h0M68.5 91.5h0M89.5 97.0h0M60.2 99.4h0M69.8 96.7h0M62.5 105.3h0M80.1 92.9h0M57.7 88.4h0M54.9 92.9h0M59.3 97.8h0M63.9 87.3h0M70.3 94.0h0M74.1 93.8h0M71.7 93.6h0M68.9 96.2h0M87.2 94.1h0M75.2 99.4h0M60.4 94.1h0M64.7 99.3h0M105.0 93.2h0M55.9 94.0h0M72.9 92.9h0M75.9 95.9h0M60.2 90.3h0M67.4 94.3h0M50.7 96.0h0M68.2 92.9h0M61.9 98.2h0M91.7 91.7h0M64.3 99.7h0M60.7 94.2h0M58.3 90.7h0M70.5 89.7h0M60.9 100.4h0M51.4 107.0h0M63.6 97.0h0M60.0 89.2h0M69.0 95.7h0M56.6 93.9h0M59.3 95.9h0M82.3 94.2h0M57.6 96.6h0M57.6 90.1h0M63.8 97.7h0M83.5 90.1h0M57.7 100.7h0M69.7 94.5h0M62.2 93.6h0M81.8 94.8h0M120.0 94.7h0M69.2 88.8h0M90.1 96.0h0M82.1 100.3h0M67.4 89.5h0M71.3 95.5h0M80.4 92.5h0M75.3 91.2h0M82.9 91.9h0M48.8 98.1h0M74.4 98.0h0M61.2 94.5h0M68.5 90.8h0M58.5 86.2h0M79.7 98.9h0M52.3 88.9h0M82.4 90.4h0M82.4 89.9h0M93.2 91.4h0M71.9 95.9h0M64.0 98.7h0M91.7 94.2h0M59.3 92.4h0M77.7 95.0h0M64.6 96.1h0M56.4 90.7h0M70.0 94.5h0M52.4 92.8h0M88.3 91.7h0M120.0 93.8h0M72.6 97.1h0M61.5 83.4h0M75.3 93.5h0M62.1 88.5h0M58.7 97.0h0M61.6 100.2h0M84.3 92.1h0M58.9 98.3h0M56.5 96.0h0M49.7 98.1h0M80.9 92.7h0M91.1 93.6h0M81.7 95.5h0M82.6 96.0h0M71.8 96.8h0M77.0 87.7h0M66.0 91.0h0M55.9 98.3h0M70.7 94.0h0M57.5 95.4h0M58.0 94.8h0M86.2 93.6h0M70.5 95.1h0M58.8 101.7h0M65.4 93.8h0M53.1 80.2h0M58.5 88.7h0M84.7 92.6h0M65.2 92.9h0M115.3 94.1h0M56.8 94.0h0M67.4 91.1h0M75.8 93.0h0M90.4 94.6h0M85.2 94.8h0M69.1 95.0h0M64.9 94.6h0M51.3 90.2h0M55.7 99.6h0M52.6 86.3h0M77.1 90.8h0M75.9 93.7h0M62.7 85.3h0M69.4 97.4h0M71.4 101.4h0M105.7 94.8h0M88.0 94.4h0M57.4 103.7h0M86.2 92.0h0M67.5 98.5h0M75.3 100.8h0M72.5 89.2h0M91.4 95.8h0M73.2 94.4h0M66.8 92.6h0M51.1 107.0h0M59.7 95.8h0M60.0 105.7h0M78.7 94.8h0M50.0 93.6h0M96.9 95.0h0M102.8 94.2h0M68.8 98.5h0M72.8 99.1h0M80.7 93.5h0M95.8 93.6h0M71.2 94.1h0M79.6 96.4h0M70.3 97.4h0M51.7 93.9h0M57.8 94.4h0M77.1 96.7h0M76.5 98.3h0M61.7 92.6h0M67.8 89.5h0M64.9 88.6h0M56.5 95.6h0M77.9 96.7h0M72.0 95.0h0M104.2 96.4h0M57.5 95.7h0M76.4 96.8h0M58.4 98.9h0M64.2 99.7h0M55.9 88.4h0M73.2 100.0h0M76.9 94.6h0M87.7 96.1h0M51.9 101.4h0M68.3 92.7h0M55.7 94.2h0M77.2 96.2h0M55.7 89.9h0M52.1 96.8h0M75.8 93.9h0M54.4 94.4h0M100.8 94.8h0M52.5 94.7h0M89.1 94.6h0M67.3 94.2h0M52.4 99.8h0M76.3 91.7h0M57.4 90.6h0M61.9 96.3h0M97.5 93.1h0M88.6 94.9h0M86.1 95.7h0M84.8 94.1h0M52.1 96.0h0M54.6 99.3h0M98.9 94.2h0M69.2 94.8h0M76.5 97.0h0M64.5 96.8h0M86.1 91.0h0M61.5 95.3h0M80.4 94.0h0M50.6 104.3h0M67.3 90.3h0M77.5 95.4h0M80.6 96.1h0M90.9 95.3h0M76.2 92.3h0M71.8 96.3h0M53.0 105.4h0M60.3 89.4h0M71.5 95.5h0M55.7 107.9h0M61.3 92.1h0M90.0 94.6h0M76.3 95.9h0M71.8 98.5h0M87.3 93.2h0M78.3 92.8h0M90.9 95.1h0M81.6 93.4h0M89.9 92.4h0M51.4 86.7h0M61.6 92.5h0M62.6 99.8h0M88.4 94.0h0M61.7 97.3h0M52.0 88.6h0M65.4 89.5h0M113.3 94.3h0M66.8 89.7h0M60.6 84.0h0M83.4 94.0h0M52.2 92.4h0M76.2 94.9h0M89.5 92.6h0M65.3 96.5h0M80.7 97.3h0M64.5 87.8h0M62.6 97.2h0M49.4 83.2h0M68.4 92.8h0M66.1 92.9h0M58.2 85.2h0M81.9 94.7h0M54.1 85.0h0M108.9 92.6h0M60.2 99.0h0M62.8 82.6h0M82.8 93.2h0M79.2 91.3h0M99.4 95.7h0M74.1 96.8h0M63.0 92.1h0M55.1 105.8h0M68.0 97.0h0M57.8 96.6h0M77.8 86.4h0M85.8 94.5h0M96.6 95.2h0M91.1 96.8h0M67.6 96.6h0M68.8 96.0h0M60.6 103.1h0M76.1 91.9h0M91.4 93.0h0M60.6 97.1h0M63.7 94.5h0M63.0 81.5h0M84.0 96.7h0M76.8 89.8h0M81.6 95.1h0M90.9 95.5h0M62.7 103.2h0M82.7 92.5h0M61.5 99.1h0M94.2 94.3h0M61.5 94.4h0M64.5 98.8h0M50.0 101.4h0M66.5 100.9h0M101.0 92.0h0M54.1 99.4h0M105.9 93.7h0M68.9 93.8h0M62.5 92.8h0M78.3 90.0h0M57.4 101.6h0M65.4 97.6h0M61.6 100.0h0M76.1 90.0h0M96.0 95.6h0M64.1 95.6h0M80.9 91.1h0M89.4 95.5h0M73.2 94.0h0M61.2 95.5h0M75.9 98.9h0M61.9 91.2h0M64.5 93.7h0M57.8 101.0h0M80.7 94.4h0M65.5 98.2h0M71.7 91.4h0M58.9 90.8h0M52.5 100.6h0M72.8 101.8h0M68.0 93.6h0M65.2 90.0h0M54.4 92.4h0M93.0 93.0h0M53.3 93.7h0M83.9 95.6h0M59.8 97.4h0M59.5 93.8h0M57.8 87.6h0M62.4 92.1h0M62.7 93.3h0M88.9 92.3h0M54.7 93.8h0M59.4 91.3h0M90.7 92.1h0M60.9 97.5h0M59.2 98.1h0M84.9 92.6h0M93.5 94.9h0M77.0 97.4h0M62.2 94.8h0M68.1 88.6h0M79.8 96.6h0M69.4 97.5h0M57.3 92.7h0M62.3 93.0h0M67.7 95.7h0M59.4 93.9h0M54.6 100.7h0M67.5 87.1h0M58.0 92.7h0M77.0 97.2h0M67.3 87.2h0M85.6 92.1h0M83.2 94.1h0M102.8 93.5h0M88.4 92.7h0M55.4 97.1h0M56.5 94.4h0M65.2 90.6h0M62.9 98.1h0M69.0 97.2h0M60.6 99.3h0M66.9 94.0h0M80.5 96.1h0M59.9 94.4h0M62.0 94.5h0M73.0 91.8h0M51.2 111.8h0M56.6 86.2h0M59.8 85.5h0M74.1 92.3h0M82.5 98.3h0M93.4 93.7h0M52.3 93.6h0M78.1 99.9h0M59.5 99.6h0M57.6 93.2h0M59.6 108.5h0M65.2 90.8h0M56.6 96.3h0M83.6 91.1h0M64.0 92.7h0M65.0 97.7h0M96.9 93.5h0M107.5 95.2h0M86.4 96.1h0M93.5 92.4h0M77.6 93.0h0M54.4 95.6h0M75.0 95.4h0M82.5 91.6h0M64.1 98.2h0M99.2 93.9h0M70.9 93.1h0M58.5 80.4h0M67.8 95.8h0M61.1 84.0h0M69.8 88.9h0M76.7 96.2h0M63.8 95.9h0M62.5 94.2h0M66.4 95.5h0M74.7 95.0h0M61.9 92.0h0M82.2 98.2h0M62.2 101.7h0M70.9 91.2h0M58.6 83.9h0M92.3 95.8h0M82.3 95.0h0M64.6 95.6h0M85.0 96.3h0M84.7 92.1h0M76.0 88.5h0M59.9 96.7h0M64.9 93.1h0M58.3 95.9h0M124.8 94.1h0M82.8 98.0h0M113.9 93.0h0M65.5 93.4h0M108.6 93.9h0M76.2 94.1h0M75.1 89.1h0M75.1 96.9h0M81.7 96.6h0M73.7 97.2h0M64.1 91.1h0M74.0 89.9h0M63.8 87.4h0M80.8 91.4h0M67.8 102.1h0M96.5 92.5h0M105.2 93.1h0M54.3 92.3h0M72.2 96.8h0M67.7 98.8h0M81.6 93.2h0M57.8 94.4h0M78.8 97.6h0M101.4 93.8h0M119.3 93.5h0M74.5 97.8h0M101.2 94.6h0M78.5 97.0h0M88.4 93.6h0M62.1 96.7h0M74.0 94.5h0M53.2 97.2h0M76.6 92.6h0M60.0 89.9h0M72.7 90.8h0M64.7 95.3h0M68.3 94.3h0M83.8 94.6h0M62.3 95.0h0M71.2 94.2h0M61.7 100.9h0M77.6 97.3h0M55.3 93.1h0M75.5 100.2h0M88.3 95.8h0M91.4 93.5h0M63.9 93.9h0M99.6 93.5h0M58.9 97.2h0M79.7 93.7h0M61.5 98.5h0M74.8 92.8h0M85.2 93.5h0M119.1 94.6h0M68.0 99.5h0M81.0 96.7h0M71.7 93.7h0M99.0 94.0h0M66.1 95.1h0M57.8 97.4h0M81.1 95.4h0M56.4 100.0h0M104.3 96.0h0M68.5 90.9h0M57.4 90.9h0M102.2 93.4h0M54.6 101.0h0M69.8 88.7h0M56.2 93.8h0M82.1 93.1h0M69.1 97.3h0M76.7 96.3h0M57.4 92.5h0M57.1 93.9h0M70.7 95.4h0M75.0 92.4h0M63.7 100.4h0M83.3 95.1h0M63.1 89.8h0M61.7 92.4h0M59.3 88.4h0M65.5 95.8h0M77.8 92.7h0M74.8 92.0h0M70.3 96.7h0M103.4 94.1h0M67.8 91.0h0M56.6 88.7h0M68.5 91.2h0M64.4 104.3h0M83.5 93.8h0M51.4 88.1h0M82.3 97.2h0M61.6 93.6h0M92.4 93.5h0M80.2 91.9h0M65.7 94.9h0M65.8 94.4h0M63.9 91.1h0M91.6 94.6h0M56.6 88.6h0M60.8 92.2h0M90.4 93.7h0M67.5 96.1h0M56.1 93.6h0M56.0 95.3h0M63.5 89.2h0M90.0 95.4h0M73.2 97.7h0M85.2 95.7h0M69.8 89.7h0M98.6 93.6h0M74.0 92.4h0M59.5 96.7h0M64.1 90.8h0M65.9 92.8h0M69.1 99.1h0M81.9 95.1h0M70.6 93.2h0M71.9 92.8h0M63.0 98.7h0M81.9 97.3h0M61.7 92.7h0M59.5 87.1h0M73.0 95.3h0M66.4 92.2h0M65.0 88.7h0M53.0 99.9h0M77.6 94.8h0M53.8 89.6h0M53.6 91.0h0M79.5 94.8h0M60.1 93.7h0M93.8 94.1h0M59.4 103.4h0M56.1 98.1h0M72.7 89.3h0M78.7 93.6h0M65.5 96.9h0M76.9 95.3h0M58.7 90.0h0M56.0 91.5h0M67.1 94.5h0M115.3 93.8h0M61.6 95.3h0M117.1 93.5h0M59.0 89.7h0M82.8 94.6h0M80.8 91.0h0M111.9 94.9h0M89.9 92.8h0M59.7 86.1h0M55.0 97.1h0M72.4 96.9h0M56.3 102.9h0M67.1 98.4h0M75.3 95.5h0M59.0 99.5h0M56.9 98.0h0M72.4 89.7h0M58.4 98.8h0M137.9 94.1h0M97.3 93.1h0M64.6 95.1h0M85.9 95.2h0M66.3 91.0h0M67.7 89.6h0M65.3 97.0h0M74.4 96.5h0M55.1 81.3h0M58.1 93.2h0M63.7 86.6h0M114.5 94.6h0M93.9 94.0h0M63.2 98.4h0M70.2 97.3h0M95.4 94.5h0M71.1 97.5h0M106.2 93.2h0M76.8 89.4h0M53.1 94.4h0M66.5 94.6h0M73.1 92.6h0M101.2 95.2h0M56.2 98.4h0M69.5 91.0h0M74.7 97.2h0M49.6 81.6h0M68.4 93.0h0M57.5 103.7h0M64.2 87.2h0M69.4 93.0h0M71.7 98.3h0M86.5 95.4h0M57.3 97.9h0M98.5 97.8h0M72.9 89.3h0M64.8 95.4h0M81.3 91.5h0M58.5 96.8h0M93.9 94.5h0M85.1 94.8h0M79.2 94.0h0M66.7 90.7h0M92.3 95.1h0M69.5 95.2h0M70.9 100.3h0M82.2 98.3h0M60.9 88.3h0M52.2 96.3h0M87.9 97.2h0M77.3 93.0h0M72.0 93.1h0M81.1 94.1h0M90.4 95.2h0M83.1 95.5h0M55.1 96.4h0M91.8 90.0h0M86.4 95.3h0M83.9 95.8h0M68.6 91.3h0M88.3 92.0h0M74.2 93.2h0M76.4 95.4h0M87.5 94.5h0M65.3 96.6h0M79.3 96.1h0M76.5 92.8h0M116.3 93.4h0M58.2 95.6h0M108.8 93.5h0M55.3 90.7h0M77.4 94.5h0M79.3 91.3h0M70.3 90.9h0M82.2 96.1h0M70.1 91.1h0M74.2 93.2h0M83.3 93.0h0M60.8 102.1h0M83.9 96.6h0M66.9 97.1h0M79.3 92.3h0M63.4 90.0h0M57.7 102.6h0M83.8 92.5h0M85.3 93.0h0M74.4 94.5h0M72.5 85.8h0M65.2 99.4h0M58.7 98.9h0M69.5 95.6h0M70.7 93.0h0M102.0 96.0h0M65.6 99.2h0M128.8 94.0h0M84.0 97.2h0M108.8 94.5h0M61.8 89.0h0M101.1 95.7h0M72.4 97.8h0M93.0 93.6h0M82.5 91.5h0M68.2 89.8h0M67.5 97.7h0M68.2 89.2h0M61.8 90.4h0M82.9 95.4h0M115.6 94.3h0M69.6 93.3h0M63.2 98.2h0M70.9 92.3h0M86.0 94.6h0M63.5 91.3h0M103.6 93.7h0M95.0 94.3h0M77.0 93.9h0M85.4 91.7h0M97.0 93.7h0M73.2 94.9h0M75.9 92.4h0M58.6 98.3h0M88.3 93.3h0M55.1 85.8h0M55.7 84.1h0M54.9 94.5h0M101.4 93.8h0M58.9 89.8h0M59.4 106.6h0M63.1 102.8h0M73.8 95.6h0M64.7 95.3h0M63.5 87.3h0M69.0 87.6h0M77.8 93.8h0M78.5 94.0h0M61.4 96.4h0M79.2 93.8h0M86.0 95.9h0M81.8 94.5h0M70.8 93.0h0M99.5 95.3h0M59.0 95.6h0M77.4 95.5h0M49.3 94.3h0M48.9 91.4h0M68.3 91.3h0M75.7 92.5h0M89.4 95.3h0M70.6 93.6h0M59.6 92.3h0M68.0 92.8h0M80.1 93.1h0M65.9 95.9h0M87.5 94.1h0M56.0 105.1h0M60.3 91.1h0M82.4 93.2h0M109.9 94.1h0M69.6 90.7h0M81.3 95.1h0M76.6 94.4h0M70.0 90.0h0M65.5 89.4h0M65.3 91.4h0M62.2 95.2h0M61.0 87.6h0M78.3 92.3h0M66.1 99.5h0M68.3 102.2h0M57.4 93.6h0M72.9 88.3h0M86.6 92.8h0M95.2 97.4h0M58.0 98.8h0M68.5 95.3h0M75.8 97.7h0M82.7 91.0h0M93.8 94.0h0M111.5 94.1h0M63.7 90.4h0M51.8 92.2h0M55.6 100.8h0M79.5 95.0h0M65.3 93.6h0M60.9 92.6h0M79.4 95.7h0M52.4 84.6h0M56.7 80.3h0M65.4 93.9h0M71.0 93.9h0M68.1 93.7h0M88.5 93.2h0M80.3 93.5h0M54.5 111.3h0M63.6 84.2h0M71.4 93.0h0M60.7 109.1h0M77.9 98.2h0M103.0 96.1h0M75.3 88.7h0M67.9 97.1h0M53.5 95.6h0M73.0 92.6h0M61.5 99.8h0M72.0 93.9h0M97.5 95.1h0M101.1 94.1h0M59.6 94.5h0M56.1 87.4h0M74.7 97.7h0M61.1 89.4h0M63.3 91.8h0M52.8 87.8h0M75.1 95.2h0M72.1 95.9h0M88.3 94.2h0M89.6 94.9h0M87.3 93.2h0M67.2 98.6h0M136.6 93.8h0M98.7 93.9h0M76.7 98.0h0M59.2 90.0h0M86.8 92.3h0M89.9 94.2h0M57.7 100.6h0M55.9 103.2h0M67.3 95.7h0M73.0 93.7h0M89.5 94.2h0M81.9 94.5h0M91.7 96.2h0M69.2 96.2h0M63.9 97.8h0M49.8 103.2h0M61.9 97.3h0M97.3 91.2h0M53.8 107.1h0M68.0 93.9h0M100.2 94.2h0M86.2 96.5h0M59.0 85.5h0M79.4 95.1h0M78.9 95.8h0M60.6 96.5h0M86.6 94.0h0M78.8 94.6h0M59.5 102.5h0M85.8 92.7h0M54.8 94.3h0M94.3 92.4h0M108.1 93.1h0M97.3 95.1h0M58.1 100.1h0M86.3 92.4h0M92.5 95.0h0M50.1 101.0h0M94.7 95.3h0M90.7 95.1h0M57.9 102.1h0M62.0 98.5h0M57.9 91.6h0M52.8 84.8h0M69.4 97.4h0M80.3 92.6h0M67.0 92.6h0M87.2 94.7h0M66.9 88.3h0M96.5 92.3h0M72.9 92.3h0M80.3 97.2h0M80.9 96.5h0M52.4 84.2h0M78.7 94.4h0M58.2 91.7h0M70.3 87.6h0M63.7 89.6h0M65.1 93.1h0M61.0 87.8h0M86.8 92.5h0M49.9 93.8h0M77.5 97.4h0M56.6 83.7h0M82.7 96.3h0M77.6 94.4h0M57.9 89.6h0M56.3 87.6h0M71.5 90.3h0M75.9 95.9h0M81.2 94.5h0M64.3 94.3h0M49.4 108.6h0M66.8 97.9h0M56.7 101.5h0M54.0 99.1h0M59.8 93.6h0M67.8 95.9h0M61.8 95.9h0M59.3 99.8h0M80.1 95.6h0M54.3 100.2h0M88.9 94.1h0M123.6 93.6h0M70.1 97.8h0M83.5 95.6h0M102.5 94.4h0M105.0 95.0h0M51.1 91.5h0M79.3 90.8h0M66.8 94.1h0M52.5 86.8h0M65.9 86.4h0M100.2 92.6h0M67.6 98.8h0M67.1 93.4h0M99.6 93.9h0M91.4 94.5h0M54.1 92.8h0M56.7 96.2h0M67.4 99.9h0M127.9 95.2h0M86.6 97.7h0M56.7 91.3h0M61.5 99.9h0M78.9 92.1h0M79.1 95.5h0M60.5 92.7h0M84.9 90.2h0M91.7 96.0h0M76.6 93.0h0M49.8 95.7h0M75.2 94.3h0M77.8 94.3h0M73.4 92.1h0M105.3 94.1h0M68.0 91.5h0M106.3 95.4h0M82.5 91.8h0M74.3 94.4h0M94.7 95.8h0M89.3 93.9h0M66.4 89.9h0M90.6 93.6h0M53.9 92.2h0M56.6 90.7h0M68.6 90.9h0M86.4 95.3h0M59.4 90.7h0M57.3 97.9h0M60.0 88.1h0M73.4 96.1h0M78.8 90.9h0M61.6 94.9h0M59.8 95.6h0M66.0 96.9h0M76.1 98.4h0M86.8 96.2h0M95.4 92.4h0M110.5 94.8h0M69.8 93.5h0M70.7 95.5h0M71.9 97.6h0M92.3 96.8h0M71.0 93.8h0M88.8 93.4h0M75.2 97.3h0M72.3 100.1h0M62.0 83.2h0M66.0 96.7h0M55.8 101.1h0M62.3 96.7h0M62.6 93.4h0M70.9 91.6h0M63.0 85.3h0M62.8 93.0h0M55.6 100.5h0M85.8 93.8h0M68.9 89.7h0M61.8 96.7h0M63.4 90.3h0M77.1 97.4h0M70.2 92.5h0M59.0 91.7h0M63.4 87.6h0M65.1 96.2h0M60.1 92.9h0M67.1 87.5h0M97.3 92.9h0M51.9 97.1h0M65.6 96.7h0M102.2 94.4h0M58.8 95.2h0M53.3 97.9h0M71.8 91.1h0M61.8 93.3h0M66.2 87.0h0M56.3 98.0h0M55.2 87.5h0M84.5 92.8h0M67.4 92.9h0M63.5 94.3h0M74.9 90.5h0M58.7 102.2h0M87.6 96.3h0M55.2 91.9h0M87.7 89.0h0M66.3 89.6h0M118.0 94.9h0M55.4 82.2h0M81.6 92.6h0M59.4 98.5h0M59.6 102.2h0M58.5 93.9h0M55.7 96.3h0M62.0 90.1h0M63.3 99.1h0M65.2 92.0h0M62.2 89.1h0M68.4 96.2h0M53.2 101.8h0M70.9 90.1h0M68.6 96.7h0M86.3 92.8h0M79.3 89.6h0M53.1 92.8h0M57.8 89.2h0M82.8 93.1h0M51.5 93.0h0M86.2 92.5h0M62.8 85.5h0M56.5 91.4h0M81.7 92.1h0M80.3 94.6h0M68.3 93.6h0M82.2 92.9h0M69.2 93.2h0M111.6 93.9h0M71.8 96.6h0M64.3 91.3h0M73.2 92.5h0M84.3 91.6h0M81.2 95.4h0M74.5 95.5h0M79.0 93.0h0M135.6 94.1h0M58.2 93.2h0M52.0 93.1h0M55.8 100.3h0M86.8 94.3h0M66.8 97.3h0M59.4 92.2h0M64.5 97.3h0M96.9 93.1h0M59.0 99.2h0M53.3 87.7h0M58.2 95.1h0M88.5 93.9h0M56.0 99.5h0M49.4 98.1h0M58.4 106.2h0M80.8 93.6h0M95.3 93.2h0M59.4 95.6h0M55.8 105.9h0M89.7 95.3h0M69.0 89.6h0M54.6 88.9h0M54.8 96.2h0M66.1 100.2h0M74.2 90.7h0M57.9 90.0h0M66.8 99.1h0M68.4 93.4h0M64.6 92.0h0M116.4 93.5h0M63.3 94.8h0M62.4 94.4h0M74.9 89.8h0M58.0 88.9h0M80.6 97.4h0M57.7 95.6h0M56.0 90.5h0M63.8 96.3h0M57.2 99.5h0M86.9 95.1h0M90.8 94.9h0M63.4 95.4h0M87.5 95.2h0M60.1 104.6h0M65.4 88.5h0M73.6 94.2h0M104.1 94.0h0M76.3 95.3h0M64.1 103.3h0M77.3 94.8h0M52.5 95.1h0M85.8 93.6h0M63.5 88.7h0M61.8 95.2h0M55.7 83.2h0M83.3 95.6h0M83.5 93.2h0M75.4 100.4h0M73.2 89.2h0M61.3 94.0h0M57.4 99.0h0M114.8 94.4h0M57.2 94.6h0M105.9 92.0h0M94.9 94.0h0M67.7 95.7h0M50.9 84.3h0M78.2 95.0h0M86.6 94.7h0M77.4 92.1h0M70.8 95.1h0M83.6 94.1h0M62.4 91.3h0M61.7 97.9h0M68.7 91.9h0M90.5 93.6h0M60.1 96.1h0M68.6 95.0h0M81.1 94.1h0M71.4 97.6h0M74.9 95.9h0M85.3 93.5h0M52.2 88.9h0M57.9 99.1h0M103.0 93.7h0M94.2 94.4h0M67.9 97.2h0M87.4 93.6h0M54.5 99.7h0M93.7 91.2h0M87.3 94.6h0M76.2 93.9h0M70.4 98.5h0M81.9 94.9h0M58.9 93.0h0M55.0 83.6h0M59.4 95.9h0M57.3 86.7h0M78.9 97.9h0M79.5 94.8h0M75.6 93.2h0M68.2 94.1h0M51.6 95.2h0M76.6 92.5h0M71.1 100.3h0M65.3 97.9h0M74.7 88.5h0M83.2 91.1h0M94.0 93.3h0M79.9 97.8h0M58.2 89.9h0M69.0 99.6h0M74.7 92.2h0M99.6 94.1h0M53.7 100.6h0M78.4 90.2h0M79.1 93.3h0M50.2 89.7h0M57.7 93.6h0M84.3 96.1h0M64.2 98.1h0M108.6 94.0h0M102.5 93.5h0M69.1 89.8h0M56.3 88.1h0M66.4 94.6h0M53.2 105.8h0M58.4 92.7h0M64.4 96.0h0M90.4 94.9h0M75.5 92.6h0M69.2 92.8h0M58.4 87.3h0M59.9 93.7h0M66.2 91.2h0M74.5 89.2h0M83.9 91.0h0M97.3 94.8h0M70.4 94.8h0M87.5 96.3h0M117.0 94.4h0M53.5 108.1h0M63.3 102.6h0M54.0 92.9h0M88.1 92.9h0M71.0 90.7h0M77.0 94.9h0M63.8 94.3h0M52.6 88.3h0M78.9 89.9h0M74.3 97.6h0M63.4 100.8h0M65.2 96.0h0M63.2 103.8h0M84.9 94.6h0M63.7 93.4h0M64.6 95.8h0M56.4 97.8h0M94.7 94.9h0M54.9 94.2h0M103.8 93.8h0M64.0 96.3h0M72.2 94.7h0M83.9 93.9h0M78.8 92.0h0M64.2 95.7h0M62.3 94.6h0M70.2 86.2h0M65.3 96.8h0M68.9 97.3h0M104.5 93.9h0M57.6 85.4h0M81.5 95.1h0M71.1 91.4h0M131.1 94.2h0M67.6 92.5h0M75.3 99.5h0M72.7 92.3h0M54.0 81.7h0M55.2 89.3h0M61.8 96.4h0M96.4 92.8h0M64.5 96.8h0M55.0 96.8h0M85.0 93.4h0M117.7 93.8h0M57.4 94.7h0M70.7 89.0h0M76.9 93.2h0M81.2 97.3h0M65.6 87.3h0M120.7 93.7h0M90.5 95.1h0M74.0 98.4h0M60.4 91.7h0M77.1 91.8h0M91.8 92.0h0M85.6 92.6h0M64.6 97.6h0M60.7 99.1h0M51.3 90.4h0M51.0 84.5h0M63.4 94.7h0M60.3 91.4h0M63.8 85.6h0M66.9 97.1h0M57.7 94.7h0M105.8 91.9h0M57.4 91.5h0M96.1 93.8h0M65.2 95.1h0M64.6 98.7h0M68.1 99.6h0M80.9 96.4h0M77.2 93.3h0M99.3 93.2h0M66.9 96.9h0M58.5 92.9h0M62.1 93.6h0M71.8 97.0h0M79.0 95.1h0M73.8 91.7h0M76.0 94.5h0M78.3 96.1h0M60.9 91.1h0M78.6 95.0h0M71.3 95.8h0M60.9 94.7h0M89.5 93.7h0M51.6 102.3h0M82.5 91.4h0M77.3 94.4h0M65.1 97.1h0M78.3 93.5h0M66.7 86.1h0M60.3 96.9h0M81.5 93.0h0M55.7 91.3h0M103.4 95.0h0M66.5 96.0h0M77.6 94.4h0M76.2 95.7h0M68.4 96.3h0M62.3 91.5h0M51.1 86.1h0M74.7 98.6h0M79.1 94.9h0M56.1 82.8h0M65.7 96.2h0M58.2 94.8h0M75.0 95.3h0M98.2 93.0h0M66.0 89.8h0M56.5 90.9h0M69.7 91.0h0M94.5 92.6h0M82.5 93.3h0M62.0 94.5h0M61.1 98.9h0M110.6 95.1h0M65.4 99.9h0M72.2 93.0h0M72.0 95.5h0M100.6 93.8h0M58.7 92.3h0M63.1 83.3h0M72.8 94.8h0M67.5 96.8h0M70.8 92.9h0M77.0 94.9h0M60.4 93.3h0M110.5 94.8h0M118.0 93.2h0M77.1 93.2h0M52.2 92.0h0M58.1 92.8h0M64.8 96.0h0M61.6 99.7h0M64.2 98.1h0M55.9 96.6h0M59.9 88.5h0M126.7 93.6h0M65.1 100.1h0M130.4 93.5h0M70.2 87.3h0M99.6 94.6h0M69.7 92.9h0M81.7 92.9h0M62.6 91.2h0M54.7 99.4h0M61.9 95.3h0M77.0 93.6h0M67.6 95.9h0M59.0 97.8h0M62.6 92.8h0M81.2 91.9h0M73.2 101.7h0M90.3 95.1h0M93.3 94.4h0M68.5 92.7h0M70.7 96.0h0M67.2 99.2h0M79.2 92.7h0M71.8 93.6h0M58.3 94.0h0M62.6 93.1h0M59.9 95.6h0M104.1 92.7h0M80.2 93.5h0M75.5 97.7h0M102.0 93.4h0M80.5 96.7h0M101.5 94.3h0M58.5 94.2h0M53.1 105.0h0M80.2 96.6h0M54.0 87.9h0M66.1 94.8h0M73.2 89.8h0M63.9 102.1h0M68.0 91.3h0M70.0 95.1h0M70.0 91.8h0M67.5 94.2h0M65.3 98.4h0M73.8 97.4h0M77.1 91.5h0M69.6 99.9h0M124.6 95.2h0M57.3 87.9h0M100.1 92.8h0M74.9 94.7h0M72.9 98.7h0M59.0 86.0h0M82.2 97.0h0M89.0 93.1h0M82.0 91.5h0M87.0 96.7h0M99.0 95.6h0M86.1 95.6h0M64.4 96.7h0M68.6 88.8h0M82.3 95.1h0M60.4 91.4h0M62.7 85.3h0M71.7 99.2h0M61.9 101.0h0M76.3 96.2h0M103.9 94.8h0M68.5 92.8h0M69.0 97.7h0M69.4 93.0h0M80.8 93.0h0M74.9 95.7h0M69.6 94.5h0M111.5 94.4h0M66.4 99.6h0M82.0 92.3h0M61.3 87.2h0M112.5 93.4h0M64.4 96.5h0M84.6 95.4h0M79.5 94.1h0M78.7 96.5h0M62.4 95.4h0M63.6 97.3h0M77.9 94.2h0M57.9 101.0h0M65.5 91.2h0M71.0 95.1h0M97.2 95.4h0M68.0 90.5h0M68.2 95.1h0M60.3 96.8h0M66.0 97.0h0M80.8 93.1h0M83.7 96.5h0M58.9 89.7h0M79.4 91.5h0M63.9 90.7h0M67.6 94.6h0M64.8 98.5h0M86.1 93.2h0M95.4 94.5h0M70.9 97.8h0M112.6 93.2h0M52.5 98.4h0M71.3 94.2h0M55.3 93.5h0M61.5 85.0h0M72.0 94.7h0M59.3 102.3h0M96.6 95.0h0M64.9 96.9h0M62.6 103.1h0M76.9 91.7h0M66.0 84.5h0M60.7 89.7h0M72.3 96.5h0M61.7 90.8h0M50.0 104.3h0M70.4 90.1h0M67.7 97.1h0M59.5 98.2h0M59.8 91.0h0M77.1 93.3h0M62.3 91.2h0M96.5 93.3h0M62.4 88.5h0M101.0 94.2h0M67.0 98.3h0M96.4 96.1h0M69.7 93.3h0M82.7 90.1h0M79.7 91.9h0M57.1 93.2h0M68.1 91.0h0M80.7 91.6h0M85.6 95.7h0M50.9 85.5h0M59.8 91.1h0M73.5 95.9h0M72.8 95.9h0M106.4 94.8h0M75.1 92.7h0M88.2 90.0h0M56.3 102.1h0M82.3 95.1h0M96.3 96.0h0M75.5 95.4h0M73.5 98.5h0M91.0 93.1h0M73.5 94.2h0M81.0 95.5h0M122.2 94.3h0M85.3 92.3h0M57.0 91.5h0M91.5 95.6h0M98.5 94.4h0M78.6 99.0h0M60.2 96.4h0M87.7 97.0h0M65.6 97.5h0M67.8 91.9h0M52.4 98.4h0M94.5 95.3h0M63.6 94.7h0M71.2 95.0h0M84.4 94.6h0M75.0 98.1h0M54.4 86.5h0M52.3 90.0h0M60.3 93.3h0M59.7 96.4h0M63.5 100.6h0M74.8 89.7h0M90.3 93.8h0M99.3 96.6h0M107.2 93.9h0M73.9 97.8h0M65.7 93.3h0M75.1 101.0h0M73.3 95.8h0M74.9 97.3h0M92.0 93.4h0M85.6 92.9h0M79.3 95.4h0M75.7 91.0h0M66.1 92.1h0M69.4 89.8h0M122.9 95.1h0M51.8 98.3h0M89.9 97.0h0M103.4 94.7h0M115.2 93.8h0M82.5 93.5h0M78.5 91.9h0M94.1 92.9h0M63.1 97.0h0M77.0 93.3h0M81.7 93.4h0M79.8 90.9h0M56.1 96.4h0M118.0 94.9h0M84.2 94.9h0M134.6 94.7h0M62.6 94.1h0M106.1 94.0h0M90.6 90.5h0M55.9 95.4h0M70.1 93.2h0M62.9 103.1h0M64.2 91.1h0M65.8 95.4h0M60.7 97.4h0M58.7 103.1h0M69.6 93.0h0M96.4 96.4h0M83.8 94.4h0M57.5 92.5h0M69.3 96.8h0M88.1 91.4h0M55.7 92.7h0M60.3 101.1h0M77.7 90.4h0M82.7 89.4h0M100.7 95.8h0M95.1 94.3h0M70.4 92.9h0M126.4 94.2h0M62.7 89.5h0M72.7 93.5h0M94.5 93.8h0M84.7 92.7h0M64.8 99.8h0M76.9 94.6h0M56.2 108.2h0M60.9 99.1h0M93.2 95.7h0M77.2 95.4h0M88.5 93.2h0M55.9 97.7h0M53.4 91.2h0M77.5 95.6h0M75.0 100.0h0M131.0 94.8h0M53.6 99.8h0M54.0 97.0h0M68.4 91.7h0M63.3 94.3h0M80.1 93.6h0M60.3 101.6h0M67.7 91.3h0M118.6 93.1h0M77.9 94.7h0M50.2 87.9h0M52.4 94.4h0M77.0 94.7h0M63.6 94.7h0M110.0 93.7h0M72.3 97.7h0M63.1 92.8h0M68.8 96.3h0M56.4 87.5h0M61.9 97.2h0M68.1 94.8h0M58.2 99.8h0M62.9 92.2h0M70.9 90.2h0M75.4 100.7h0M62.8 92.7h0M106.0 94.4h0M78.9 94.1h0M57.0 97.0h0M82.9 95.9h0M66.3 89.6h0M69.9 94.2h0M60.1 99.7h0" stroke="#b9b9b9" stroke-width="1.9" stroke-linecap="round"/>
<path d="M88.1 86.3h0M112.5 88.8h0M77.2 87.7h0M107.4 80.1h0M67.4 84.8h0M64.6 79.3h0M66.5 79.1h0M79.3 87.6h0M96.7 89.3h0M76.7 85.5h0M106.8 90.1h0M106.5 86.1h0M110.6 89.2h0M103.4 89.5h0M112.6 91.0h0M59.4 78.1h0M90.8 85.5h0M105.6 90.3h0M75.2 88.0h0M102.6 90.3h0M113.3 90.7h0M94.0 90.2h0M65.7 84.0h0M73.0 83.3h0M110.8 88.8h0M87.0 90.2h0M89.9 90.1h0M91.0 87.2h0M77.3 88.7h0M90.2 89.7h0M89.3 87.7h0M83.9 88.3h0M88.1 86.8h0M83.8 89.2h0M82.3 71.0h0M74.1 79.3h0M88.7 82.7h0M80.3 78.3h0M68.5 76.8h0M54.9 72.7h0M78.1 85.6h0M63.4 72.0h0M101.4 87.9h0M55.7 75.7h0M97.3 89.1h0M104.0 90.5h0M81.8 89.4h0M98.6 90.4h0M84.9 88.6h0M93.3 87.2h0M91.5 84.0h0M70.8 87.0h0M87.0 84.0h0M61.7 79.8h0M59.1 75.4h0M95.0 88.2h0M71.4 85.7h0M72.3 87.6h0M108.3 90.6h0M109.8 88.4h0M109.3 89.3h0M68.0 83.8h0M101.4 90.7h0M92.3 90.4h0M74.1 85.3h0M79.9 81.2h0M76.6 85.4h0M108.6 90.3h0M93.4 82.0h0M69.9 86.8h0M112.4 88.5h0M92.2 85.8h0M100.5 85.9h0M68.6 79.6h0M73.9 86.6h0M113.6 90.7h0M75.2 87.0h0M77.5 88.1h0M67.4 80.6h0M93.9 88.7h0M90.5 89.7h0M90.1 90.2h0M83.6 84.1h0M84.4 85.1h0M64.5 72.3h0M59.3 80.0h0M82.1 88.3h0M56.0 72.8h0M110.7 87.8h0M90.0 89.0h0M88.0 90.2h0M67.0 76.1h0M95.4 90.4h0M104.1 79.1h0M90.3 77.2h0M91.8 88.7h0M78.3 79.5h0M78.4 85.4h0M68.2 85.3h0M85.1 86.4h0M60.3 81.0h0M70.0 68.4h0M79.3 74.2h0M69.1 77.1h0M94.8 90.6h0M76.2 88.6h0M108.9 91.0h0M103.6 90.7h0M73.1 87.8h0M86.2 88.3h0M76.1 88.4h0M76.5 85.5h0M55.2 73.0h0M63.9 77.7h0M74.4 85.3h0M99.9 89.4h0M100.1 90.8h0M57.8 76.9h0M63.2 69.4h0M78.7 84.6h0M66.9 79.9h0M63.8 74.0h0M67.3 85.2h0M64.9 81.4h0M70.1 83.8h0M83.2 86.7h0M107.0 90.9h0M94.2 85.9h0M64.6 81.6h0M61.1 77.1h0M101.3 90.5h0M77.6 88.1h0M76.5 85.4h0M63.8 82.1h0M96.6 89.4h0M66.0 80.8h0M109.4 88.6h0M68.9 81.2h0M69.5 82.3h0M81.8 85.9h0M93.1 90.6h0M102.7 87.5h0M66.0 76.7h0M78.2 89.2h0M63.7 68.4h0M74.2 81.0h0M71.0 82.8h0M63.3 82.2h0M74.7 75.6h0M108.5 91.0h0M78.7 83.3h0M95.3 82.5h0M59.7 78.1h0M76.0 85.2h0M86.8 90.2h0M63.8 73.7h0M102.7 90.7h0M88.7 87.1h0M58.8 74.1h0M85.2 81.0h0M113.5 89.6h0M81.4 84.4h0M97.8 87.6h0M88.4 85.9h0M74.6 86.4h0M75.1 84.1h0M91.0 88.2h0M86.8 88.5h0M89.3 87.9h0M72.1 68.6h0M106.0 89.6h0M72.1 81.1h0M72.0 87.0h0M98.5 89.8h0M74.8 85.1h0M66.1 85.0h0M103.7 89.7h0M86.0 83.3h0M62.7 82.6h0M78.3 86.1h0M111.2 90.0h0M72.6 84.6h0M74.8 87.3h0M100.5 87.3h0M84.0 87.7h0M79.7 87.6h0M96.8 88.2h0M106.7 87.3h0M89.4 88.8h0M72.5 84.0h0M90.8 90.2h0M108.1 89.9h0M92.8 89.5h0M105.9 88.9h0M104.3 89.4h0M66.9 80.4h0M107.9 90.5h0M67.2 81.5h0M73.9 87.0h0M74.2 86.2h0M63.1 77.2h0M101.5 73.1h0M86.8 87.6h0M81.1 78.1h0M102.9 89.3h0M90.2 85.3h0M69.5 82.0h0M71.5 83.3h0M95.1 86.0h0M98.2 88.8h0M113.0 89.9h0M110.0 90.7h0M96.1 90.5h0M63.4 78.1h0M56.0 72.4h0M89.7 89.8h0M86.8 89.1h0M90.3 89.4h0M86.1 88.8h0M82.5 89.5h0M93.5 89.4h0M75.5 86.5h0M74.0 88.1h0M100.9 86.4h0M92.9 90.6h0M60.6 78.3h0M77.5 83.9h0M87.3 88.6h0M72.1 85.3h0M62.6 81.6h0M93.1 90.1h0M90.2 90.5h0M91.0 90.4h0M87.7 87.1h0M83.7 82.1h0M103.9 89.1h0M77.9 84.7h0M70.0 79.3h0M86.7 86.8h0M67.3 82.6h0M88.3 89.7h0M66.4 82.4h0M78.6 87.0h0M91.9 88.9h0M72.8 84.0h0M77.0 84.9h0M71.4 87.4h0M65.6 83.1h0M90.7 80.1h0M96.0 88.4h0M67.0 77.7h0M79.6 89.2h0M71.7 84.0h0M73.3 87.6h0M78.0 86.0h0M83.6 88.3h0M77.7 83.0h0M81.8 86.4h0M115.5 90.9h0M61.8 79.4h0M88.6 80.3h0M83.9 86.2h0M91.4 87.2h0M111.7 90.8h0M73.2 86.0h0M62.6 75.9h0M70.5 55.3h0M72.0 84.1h0M103.8 86.6h0M113.7 85.0h0M79.6 87.7h0M100.0 89.0h0M80.7 86.9h0M95.3 88.1h0M84.3 88.6h0M109.7 86.8h0M99.8 87.2h0M93.5 89.8h0M80.7 88.9h0M67.3 85.5h0M95.9 88.4h0M65.8 83.7h0M74.8 76.3h0M103.1 90.0h0M90.9 89.8h0M107.3 82.0h0M68.3 86.0h0M76.6 83.0h0M90.2 86.6h0M104.8 89.3h0M70.7 82.3h0M104.5 87.5h0M61.0 55.4h0M99.7 85.4h0M111.0 91.0h0M78.2 86.3h0M91.6 87.3h0M108.5 88.7h0M84.9 84.2h0M73.0 86.3h0M102.0 90.7h0M80.1 84.8h0M68.3 71.9h0M65.8 73.9h0M106.9 90.2h0M80.0 79.8h0M84.4 81.3h0M64.5 83.9h0M101.3 90.5h0M66.1 85.1h0M70.0 83.0h0M80.9 84.2h0M75.2 87.8h0M98.8 87.9h0M101.7 90.0h0M76.8 86.5h0M78.3 77.6h0M104.7 90.1h0M63.5 81.9h0M107.3 90.5h0M107.0 90.9h0M113.7 90.9h0M103.9 89.4h0M107.5 89.5h0M75.0 82.2h0M85.4 86.4h0M68.8 83.2h0M61.5 79.6h0M82.7 89.3h0M72.8 67.9h0M100.0 90.2h0M70.8 83.9h0M81.6 85.6h0M80.8 88.0h0M93.6 89.7h0M97.4 89.9h0M101.6 89.3h0M68.0 79.4h0M86.3 87.8h0M105.0 87.5h0M77.3 87.3h0M80.2 83.1h0M63.9 78.3h0M88.2 86.4h0M108.3 91.0h0M73.1 83.7h0M90.8 83.7h0M82.6 86.2h0M93.5 89.5h0M100.0 88.9h0M59.1 73.5h0M85.1 87.2h0M59.0 78.9h0M61.7 82.0h0M112.7 85.4h0M94.6 90.6h0M59.1 70.8h0M100.7 85.8h0M67.6 83.6h0M74.5 78.8h0M66.0 83.3h0M88.9 86.0h0M84.9 78.7h0M66.0 80.2h0M75.9 84.2h0M88.1 85.7h0M101.5 90.0h0M84.1 87.6h0M102.9 88.3h0M90.0 82.9h0M63.7 81.4h0M61.4 81.0h0M68.5 84.6h0M61.2 78.7h0M75.4 80.3h0M113.6 90.6h0M101.3 87.4h0M69.5 75.2h0M76.3 88.1h0M81.2 83.0h0M65.2 61.3h0M76.6 85.6h0M69.6 86.5h0M84.7 86.5h0M88.0 87.4h0M98.6 90.2h0M87.6 82.7h0M86.4 87.5h0M88.8 89.1h0M74.8 86.7h0M88.6 85.8h0M113.1 90.2h0M84.8 89.6h0M81.4 88.0h0M66.8 80.5h0M109.1 90.4h0M92.3 88.5h0M106.7 89.1h0M56.6 76.9h0M81.7 85.5h0M66.0 84.1h0M84.6 89.2h0M99.2 87.4h0M104.7 90.8h0M101.4 89.2h0M75.5 88.6h0M99.8 89.8h0M115.0 90.8h0M93.0 90.6h0M104.0 90.7h0M90.2 64.2h0M72.0 86.0h0M106.7 90.7h0M112.4 90.0h0M107.4 90.7h0M114.4 87.1h0M74.6 84.6h0M59.7 74.3h0M67.0 76.8h0M101.1 89.1h0M73.2 81.2h0M95.4 88.7h0M69.5 80.0h0M73.2 80.6h0M105.3 86.2h0M72.4 82.2h0M111.5 87.5h0M93.9 89.3h0M74.7 85.4h0M105.3 86.8h0M103.8 89.6h0M74.3 81.6h0M109.6 87.4h0M70.8 80.8h0M110.4 90.2h0M107.3 88.9h0M93.0 86.9h0M88.7 89.4h0M75.7 82.9h0M88.0 88.8h0M81.7 85.4h0M77.2 89.0h0M89.1 86.8h0M84.4 86.5h0M72.5 71.8h0M73.7 86.8h0M73.7 86.7h0M60.1 79.9h0M76.5 88.0h0M100.7 90.3h0M85.8 88.3h0M109.1 84.2h0M64.4 75.1h0M88.5 86.2h0M73.0 85.8h0M65.7 74.4h0M91.2 87.5h0M72.1 84.7h0M65.9 83.7h0M93.5 90.6h0M86.8 89.7h0M89.4 85.6h0M88.3 87.0h0M79.3 86.0h0M107.9 87.6h0M67.8 85.4h0M79.0 89.1h0M67.2 82.0h0M87.3 83.0h0M106.4 88.4h0M106.0 87.1h0M97.9 86.1h0M74.4 88.1h0M65.7 84.7h0M79.0 67.0h0M80.5 88.8h0M103.4 90.7h0M67.8 81.5h0M90.5 90.3h0M76.1 84.8h0M89.0 90.0h0M68.4 80.9h0M85.7 89.4h0M67.9 83.7h0M104.5 90.5h0M98.1 90.6h0M71.1 87.0h0M78.0 86.3h0M103.8 89.2h0M89.3 87.5h0M69.9 82.7h0M104.8 88.9h0M90.8 82.0h0M77.1 88.1h0M97.9 89.7h0M109.1 88.7h0M86.8 89.5h0M70.3 80.3h0M85.6 88.3h0M73.8 87.6h0M97.2 87.0h0M75.0 84.0h0M106.9 89.0h0M61.3 74.3h0M88.1 88.4h0M107.2 88.6h0M67.3 78.2h0M66.4 83.9h0M98.5 89.2h0M63.2 81.0h0M106.6 88.0h0M71.5 67.7h0M101.9 90.0h0M101.7 90.6h0M63.6 76.9h0M103.9 89.6h0M72.9 84.9h0M79.4 89.4h0M79.2 87.2h0M62.7 81.2h0M102.7 87.6h0M99.5 81.3h0M83.9 89.4h0M105.1 86.6h0M95.4 88.2h0M60.2 79.1h0M66.0 81.8h0M81.5 77.5h0M74.6 87.4h0M68.5 84.9h0M66.2 84.8h0M67.3 84.4h0M103.5 86.2h0M83.3 87.6h0M98.9 90.7h0M79.0 84.0h0M65.3 84.5h0M93.0 87.9h0M93.6 89.4h0M92.3 84.9h0M77.4 83.5h0M91.8 85.7h0M87.0 88.1h0M78.7 86.0h0M106.8 89.3h0M76.4 86.9h0M79.8 86.5h0M68.5 81.8h0M58.4 72.1h0M104.3 84.2h0M114.4 90.8h0M74.9 86.6h0M86.5 82.2h0M100.9 85.2h0M64.1 75.2h0M101.1 87.6h0M80.7 89.3h0M62.6 75.5h0M89.7 85.5h0M71.9 85.0h0M78.2 87.3h0M60.8 80.9h0M96.5 90.5h0M96.5 90.6h0M95.3 86.1h0M71.3 86.5h0M66.3 71.2h0M65.2 80.5h0M108.1 90.4h0M90.9 88.1h0M69.6 85.0h0M107.5 90.6h0M104.2 88.7h0M66.4 76.4h0M114.7 88.2h0M79.3 89.0h0M81.6 86.2h0M80.8 89.2h0M79.8 89.4h0M76.7 86.0h0M63.6 78.0h0M98.3 86.6h0M107.7 90.4h0M76.1 75.8h0M90.2 90.1h0M65.5 77.8h0M83.4 77.6h0M89.2 87.7h0M76.5 88.4h0M83.8 89.1h0M87.7 90.2h0M64.1 83.5h0M83.2 89.1h0M92.8 88.4h0M105.2 87.6h0M63.6 79.7h0M67.2 83.9h0M62.9 80.6h0M61.9 80.6h0M90.3 90.4h0M95.2 75.9h0M62.3 76.5h0M78.3 84.9h0M98.7 87.7h0M63.8 73.2h0M64.6 81.8h0M89.2 90.3h0M107.9 89.6h0M64.4 79.0h0M74.4 79.2h0M86.2 88.1h0M86.8 84.2h0M91.6 83.3h0M69.7 83.2h0M68.3 81.8h0M90.8 84.0h0M83.6 88.3h0M105.9 90.5h0M112.2 87.8h0M74.5 65.7h0M81.7 89.6h0M67.7 84.3h0M100.3 90.4h0M79.3 87.5h0M97.5 77.9h0M114.7 90.7h0M71.9 87.2h0M64.8 82.0h0M69.2 85.2h0M80.9 85.9h0M78.2 89.1h0M108.6 90.8h0M66.9 79.6h0M70.9 85.3h0M108.9 90.6h0M106.4 90.2h0M84.5 62.8h0M82.5 89.1h0M72.9 82.8h0M104.1 85.6h0M112.6 90.7h0M72.6 83.2h0M90.3 88.6h0M82.6 84.9h0M78.0 88.8h0M96.2 83.8h0M99.9 84.8h0M65.9 84.7h0M99.5 87.1h0M95.4 90.1h0M107.9 90.4h0M60.6 77.5h0M110.4 90.9h0M74.7 86.2h0M92.9 90.0h0M77.3 85.7h0M70.0 85.9h0M93.5 90.2h0M64.7 81.1h0M74.8 86.2h0M106.5 89.8h0M111.5 85.7h0M77.7 87.5h0M66.0 74.4h0M106.8 88.4h0M93.8 90.1h0M72.5 86.7h0M85.9 86.7h0M84.3 89.2h0M63.5 81.2h0M98.1 90.5h0M102.9 90.4h0M68.0 82.4h0M94.7 87.2h0M107.3 90.6h0M109.5 90.9h0M90.7 90.5h0M58.9 71.7h0M112.8 90.3h0M86.1 88.2h0M86.1 85.1h0M89.7 90.2h0M97.5 87.0h0M73.2 87.5h0M83.0 87.7h0M83.7 88.5h0M77.4 88.2h0M70.4 87.1h0M74.4 72.4h0M99.7 87.0h0M89.4 89.3h0M100.3 85.5h0M90.3 90.1h0M75.5 88.3h0M98.8 88.9h0M67.3 85.7h0M86.4 89.1h0M77.7 88.4h0M72.8 79.1h0M112.5 90.2h0M93.0 88.3h0M92.6 89.3h0M60.7 70.9h0M98.0 80.1h0M76.7 87.7h0M93.4 89.0h0M86.0 89.5h0M67.4 83.1h0M112.9 90.9h0M90.1 90.3h0M68.5 83.3h0M115.1 91.0h0M64.2 82.4h0M84.1 90.0h0M79.9 81.3h0M70.2 83.4h0M91.5 90.2h0M58.9 79.8h0M97.0 88.7h0M76.9 88.1h0M78.9 87.3h0M113.2 91.0h0M107.1 89.7h0M78.9 88.2h0M87.5 86.3h0M104.9 86.8h0M99.4 84.1h0M66.7 69.1h0M74.7 88.4h0M64.8 82.5h0M104.7 89.1h0M113.0 89.9h0M82.4 81.9h0M79.8 88.7h0M91.9 89.4h0M62.7 82.2h0M90.2 90.2h0M93.8 88.0h0M105.7 90.3h0M109.8 90.3h0M92.0 90.6h0M90.3 89.1h0M108.2 88.9h0M107.9 87.9h0M81.6 87.8h0M69.1 83.9h0M103.9 77.6h0M87.1 88.8h0M75.9 79.8h0M111.7 91.0h0M66.9 80.1h0M113.8 91.0h0M68.8 70.7h0M65.0 80.1h0M92.7 89.0h0M89.8 84.1h0M65.7 84.5h0M101.1 89.5h0M91.5 85.9h0M86.3 89.2h0M106.0 89.2h0M56.0 63.3h0M67.9 85.1h0M96.9 85.7h0M83.0 82.0h0M61.0 76.5h0M80.2 78.9h0M91.1 77.3h0M96.3 88.6h0M73.4 71.8h0M86.8 84.8h0M81.6 87.0h0M97.9 86.1h0M65.8 82.1h0M82.0 75.3h0M67.6 79.4h0M106.1 89.6h0M107.8 90.9h0M68.9 84.0h0M75.0 86.2h0M66.8 83.0h0M67.7 82.3h0M105.2 90.0h0M94.5 83.5h0M85.0 89.9h0M111.3 90.7h0M97.2 83.3h0M99.5 90.3h0M74.5 87.2h0M98.8 76.4h0M94.6 88.7h0M74.3 88.4h0M62.5 69.0h0M101.3 90.1h0M103.1 86.7h0M59.4 68.7h0M75.7 81.2h0M68.7 80.5h0M92.2 89.1h0M103.3 82.3h0M106.3 87.9h0M72.7 86.7h0M72.8 86.2h0M91.6 86.1h0M95.5 86.6h0M77.1 87.9h0M109.9 86.9h0M102.0 86.4h0M103.1 84.0h0M59.7 65.1h0M93.9 88.8h0M91.1 85.3h0M101.0 88.3h0M105.2 84.6h0M79.2 89.0h0M58.1 76.8h0M75.1 85.2h0M82.4 89.5h0M77.7 88.0h0M65.3 79.7h0M88.0 86.9h0M105.5 89.4h0M103.5 86.6h0M89.4 88.6h0M73.4 84.9h0M69.5 86.5h0M65.7 74.4h0M83.6 89.3h0M106.8 87.1h0M105.3 88.9h0M96.0 89.5h0M101.2 90.7h0M96.2 89.9h0M69.0 84.7h0M67.2 82.1h0M89.9 88.9h0M77.0 81.5h0M108.6 85.6h0M108.4 88.4h0M108.1 90.3h0M67.4 51.2h0M81.3 87.3h0M77.3 88.6h0M70.8 63.1h0M113.7 90.8h0M71.8 85.3h0M90.2 89.5h0M67.7 85.2h0M84.4 89.5h0M86.0 87.8h0M86.6 87.6h0M59.4 78.9h0M81.8 89.1h0M71.3 80.0h0M87.6 90.1h0M86.7 89.0h0M79.4 82.0h0M64.5 75.8h0M97.1 82.4h0M72.2 85.7h0M88.8 89.3h0M86.5 73.4h0M67.0 85.3h0M89.1 83.7h0M68.1 82.8h0M98.3 88.4h0M93.7 88.6h0M78.9 88.4h0M94.0 85.4h0M76.7 88.6h0M71.9 81.9h0M87.5 89.4h0M88.0 88.7h0M103.6 84.4h0M107.0 90.4h0M105.6 89.4h0M97.2 89.6h0M85.8 89.8h0M92.6 78.5h0M89.8 88.3h0M59.5 79.6h0M62.3 75.0h0M86.7 88.0h0M65.8 73.0h0M108.8 90.1h0M69.3 75.4h0M63.5 82.4h0M103.0 89.7h0M98.2 90.7h0M100.0 89.4h0M86.5 85.4h0M86.3 90.0h0M110.4 90.5h0M102.7 89.4h0M66.1 79.9h0M76.4 88.3h0M95.4 89.1h0M91.4 87.5h0M80.6 82.9h0M109.3 89.9h0M104.2 89.3h0M62.7 82.2h0M64.5 83.3h0M98.1 89.0h0M97.9 86.4h0M71.3 85.1h0M86.7 87.9h0M85.7 88.8h0M114.2 90.0h0M77.4 80.7h0M65.0 81.4h0M110.5 89.2h0M102.8 90.2h0M68.5 67.3h0M113.4 90.3h0M66.0 84.5h0M74.3 86.3h0M76.3 86.3h0M99.4 87.1h0M104.2 88.4h0M77.5 85.4h0M89.8 89.9h0M99.8 85.0h0M114.5 84.6h0M65.4 77.7h0M92.3 83.8h0M63.3 83.0h0M62.8 77.5h0M102.8 89.5h0M107.8 90.8h0M72.2 86.7h0M81.4 88.8h0M105.6 90.7h0M107.6 87.0h0M86.9 84.2h0M92.3 90.4h0M62.7 80.4h0M70.0 86.8h0M64.7 75.0h0M83.9 87.7h0M74.1 87.0h0M82.9 87.7h0M90.8 89.4h0M89.8 88.6h0M75.4 87.4h0M110.7 91.0h0M86.0 81.4h0M87.6 89.4h0M65.4 81.5h0M115.5 89.5h0M102.0 86.0h0M90.2 89.5h0M80.5 81.2h0M81.7 87.7h0M73.5 85.6h0M84.9 90.1h0M114.1 89.6h0M64.0 80.6h0M94.2 85.5h0M75.0 85.1h0M107.5 90.7h0M63.1 77.6h0M79.2 78.6h0M84.9 87.3h0M104.2 87.4h0M92.3 90.4h0M66.8 84.7h0M88.7 90.4h0M88.7 82.7h0M86.0 86.7h0M112.9 91.0h0M90.6 88.4h0M93.9 90.6h0M89.9 83.9h0M64.7 82.8h0M76.3 81.3h0M84.4 88.3h0M104.6 89.5h0M69.4 81.2h0M63.3 81.4h0M68.0 85.5h0M73.5 84.3h0M110.2 89.1h0M91.3 83.7h0M65.7 82.2h0M81.2 77.3h0M107.1 86.2h0M103.2 90.1h0M69.9 82.8h0M78.7 83.3h0M71.9 87.4h0M63.3 79.3h0M96.9 90.3h0M68.2 84.7h0M78.8 87.5h0M91.8 88.9h0M89.2 89.1h0M79.4 88.9h0M63.4 82.6h0M71.3 82.4h0M87.6 87.7h0M54.6 67.2h0M90.3 86.4h0M63.1 79.3h0M72.5 82.7h0M115.6 89.2h0M69.2 86.2h0M69.5 85.2h0M76.6 84.3h0M77.3 84.1h0M75.5 87.7h0M78.4 84.4h0M66.5 78.4h0M112.5 89.8h0M60.8 76.0h0M63.2 80.5h0M53.9 57.8h0M61.8 76.1h0M75.9 79.1h0M88.4 90.1h0M92.5 87.6h0M98.4 88.1h0M64.8 81.9h0M65.2 73.8h0M97.5 80.3h0M109.0 90.7h0M93.5 87.1h0M62.9 81.4h0M105.0 90.9h0M115.0 87.0h0M70.8 85.4h0M69.8 84.8h0M70.4 75.5h0M71.1 86.5h0M74.2 85.1h0M84.5 86.6h0M72.4 88.0h0M77.8 89.0h0M98.1 81.2h0M101.9 90.3h0M82.0 85.0h0M99.7 89.1h0M97.2 89.2h0M99.2 89.1h0M63.6 81.6h0M108.1 90.3h0M73.4 81.4h0M79.7 85.6h0M93.7 89.2h0M89.5 86.2h0M81.4 88.0h0M110.0 88.7h0M71.4 85.4h0M86.2 89.0h0M86.7 88.6h0M112.6 90.3h0M94.6 90.1h0M88.4 82.9h0M101.7 90.4h0M73.2 81.3h0M93.2 81.7h0M61.5 77.5h0M92.8 89.0h0M89.8 85.4h0M84.6 85.2h0M75.6 85.3h0M74.8 88.5h0M59.5 76.6h0M83.4 89.0h0M73.8 87.6h0M106.6 89.1h0M70.1 85.3h0M105.4 89.8h0M83.2 89.3h0M114.3 87.7h0M100.3 89.9h0M88.6 84.3h0M69.3 84.2h0M66.1 82.7h0M80.2 89.4h0M86.4 88.6h0M86.4 90.1h0M82.9 89.1h0M99.6 88.9h0M98.8 85.5h0M93.2 88.4h0M103.2 90.5h0M112.4 90.8h0M111.7 90.1h0M89.8 89.9h0M68.3 82.9h0M69.4 78.7h0M67.0 84.0h0M89.3 80.4h0M87.0 89.8h0M69.9 60.5h0M109.1 90.2h0M100.9 84.9h0M82.5 73.3h0M108.4 86.4h0M69.3 86.4h0M82.2 86.6h0M65.7 77.8h0M104.1 90.2h0M71.5 74.0h0M115.4 91.0h0M91.3 88.1h0M100.9 87.1h0M58.4 75.7h0M77.6 81.9h0M78.8 82.4h0M74.4 88.4h0M78.5 85.8h0M80.7 75.8h0M102.9 90.1h0M74.5 88.0h0M86.8 87.8h0M102.4 85.2h0M64.9 82.1h0M75.4 83.7h0M113.3 90.5h0M111.2 90.7h0M88.7 86.0h0M95.7 82.0h0M96.6 90.4h0M108.8 86.3h0M89.8 84.1h0M97.6 89.9h0M91.1 90.2h0M97.8 88.9h0M91.8 90.4h0M111.3 83.3h0M88.0 88.9h0M82.1 85.3h0M88.6 87.1h0M72.5 85.4h0M114.7 88.6h0M105.1 81.3h0M106.7 89.3h0M81.8 86.5h0M75.0 86.3h0M76.4 78.5h0M107.0 90.2h0M73.4 78.9h0M77.2 86.6h0M73.2 83.1h0M102.4 86.3h0M71.1 83.9h0M63.2 82.0h0M71.9 76.1h0M69.0 84.5h0M59.0 65.4h0M79.2 84.6h0M71.1 79.9h0M68.8 83.1h0M97.8 87.4h0M63.9 82.5h0M83.0 89.6h0M88.3 90.3h0M94.5 87.6h0M107.8 86.9h0M100.0 90.0h0M68.1 77.3h0M85.2 89.6h0M96.9 86.4h0M78.1 87.6h0M95.2 88.8h0M105.2 89.9h0M54.5 69.7h0M95.2 79.9h0M99.9 87.7h0M81.3 81.8h0M65.4 80.8h0M88.9 83.6h0M80.6 87.5h0M84.6 87.6h0M102.2 80.6h0M72.3 86.1h0M73.8 88.0h0M99.0 90.4h0M62.6 77.5h0M79.3 80.1h0M64.2 77.4h0M103.4 89.2h0M61.9 81.9h0M83.7 86.7h0M73.2 82.5h0M88.8 88.4h0M106.0 87.7h0M71.2 86.8h0M90.5 86.9h0M69.8 83.5h0M70.0 77.5h0M91.5 81.1h0M93.0 83.0h0M81.1 89.2h0M107.9 88.8h0M92.4 83.0h0M89.3 89.1h0M68.3 84.3h0M89.0 88.9h0M96.1 90.4h0M65.3 78.5h0M100.9 87.1h0M106.6 88.9h0M75.2 81.0h0M83.7 88.9h0M72.3 86.5h0M94.4 90.4h0M87.8 88.3h0M81.2 87.3h0M65.5 81.0h0M102.0 90.1h0M102.1 90.4h0M64.9 82.1h0M68.2 85.1h0M108.0 89.4h0M87.5 87.8h0M98.1 90.7h0M88.4 87.8h0M72.9 76.3h0M60.2 75.8h0M97.5 85.6h0M76.7 85.6h0M79.0 86.7h0M75.3 74.7h0M93.4 87.5h0M84.7 88.7h0M94.5 90.3h0M59.5 70.8h0M87.6 89.5h0M105.7 85.0h0M91.9 90.3h0M66.3 80.2h0M111.6 89.7h0M89.5 86.6h0M77.0 85.3h0M99.7 76.8h0M92.5 86.0h0M100.4 87.5h0M90.5 86.4h0M105.1 89.0h0M64.5 83.4h0M66.1 82.7h0M64.0 80.1h0M76.6 86.7h0M91.5 86.7h0M86.7 88.3h0M73.3 87.9h0M71.1 76.6h0M62.5 50.0h0M85.2 51.9h0M73.5 57.7h0M86.0 56.2h0M68.0 62.1h0M58.6 61.4h0M53.9 64.3h0M53.5 67.9h0M54.7 70.1h0M98.5 64.3h0M104.7 70.1h0M119.6 81.1h0M127.4 81.8h0M128.2 84.7h0M122.7 85.4h0M111.0 79.6h0M94.6 65.0h0M76.6 60.6h0M89.9 62.1h0M84.4 53.3h0M104.0 80.3h0M107.1 82.9h0M111.4 81.1h0M115.7 84.7h0M117.3 86.5h0M100.8 84.0h0M102.4 83.2h0M95.0 67.2h0M93.0 65.0h0M100.0 72.3h0M101.6 75.2h0" stroke="#e00d12" stroke-width="2" stroke-linecap="round"/>
<path d="M52.3 118.3h0M54.7 122.7h0M58.6 117.6h0M56.3 116.1h0M130.5 96.4h0M136.8 97.5h0M120.4 95.7h0M114.9 95.3h0M125.9 92.7h0M132.9 94.9h0" stroke="#b9b9b9" stroke-width="1.9" stroke-linecap="round"/>
<path d="M81.8 97.8h0M83.9 105.7h0M91.2 98.5h0M90.0 100.1h0M94.1 103.7h0M72.6 99.6h0M75.6 98.5h0M83.5 101.1h0M106.0 100.7h0M80.1 98.7h0M95.1 97.4h0M105.7 98.6h0M86.2 101.2h0M90.6 98.4h0M84.3 99.2h0M105.9 100.5h0M86.4 99.8h0M78.0 99.2h0M73.8 100.3h0M81.3 100.6h0M92.3 100.2h0M79.0 98.6h0M88.1 98.3h0M70.7 102.9h0M70.7 102.0h0M105.0 100.0h0M89.1 98.3h0M74.4 99.4h0M85.0 99.6h0M76.7 98.7h0M76.8 98.2h0M93.7 98.2h0M88.1 99.3h0M84.8 101.6h0M70.8 99.7h0M86.4 97.5h0M70.2 103.3h0M76.7 101.5h0M77.6 98.6h0M79.5 98.9h0M83.0 98.0h0M83.7 99.2h0M92.7 97.9h0M80.9 99.7h0M84.0 103.6h0M73.3 104.3h0M76.4 100.6h0M97.9 100.4h0M87.6 101.0h0M88.5 101.4h0M89.4 98.2h0M81.0 103.5h0M73.5 99.1h0M104.0 99.1h0M78.4 98.7h0M81.9 98.6h0M71.8 102.2h0M79.0 98.6h0M80.2 98.2h0M77.6 98.4h0M70.5 101.9h0M75.1 99.8h0M70.9 99.8h0M74.6 104.8h0M72.6 99.7h0M72.3 100.4h0M72.3 100.5h0M81.0 99.3h0M85.9 101.0h0M108.3 97.9h0M75.9 99.2h0M79.1 100.2h0M82.5 98.2h0M77.3 100.8h0M69.1 101.6h0M96.8 99.9h0M74.3 101.5h0M84.5 99.7h0M93.5 100.5h0M79.4 98.5h0M79.2 100.3h0M76.6 99.6h0M85.7 101.0h0M86.9 97.6h0M83.4 99.1h0M91.7 97.4h0M74.5 100.6h0M97.7 99.1h0M89.8 97.5h0M83.5 101.5h0M89.1 102.7h0M73.0 100.3h0M79.8 98.0h0M82.1 98.9h0M80.2 99.7h0M90.9 98.2h0M72.7 101.3h0M73.3 103.4h0M105.4 98.5h0M86.4 99.0h0M76.9 101.6h0M75.9 98.5h0M76.0 105.6h0M76.8 98.7h0M81.1 98.9h0M85.4 98.5h0M91.9 97.4h0M93.5 97.9h0M86.1 104.5h0M74.8 99.3h0M81.2 101.8h0M75.5 99.5h0M76.0 102.9h0M84.2 97.9h0M87.6 98.8h0M74.5 102.2h0M78.7 100.3h0M77.3 99.3h0M68.0 103.5h0M81.6 100.3h0M90.7 97.9h0M95.7 99.8h0M73.3 99.2h0M68.6 103.5h0M78.0 101.3h0M99.7 98.1h0M84.8 98.9h0M71.2 100.8h0M72.9 99.0h0M85.4 97.6h0M77.0 103.3h0M94.2 97.9h0M69.1 101.1h0M77.2 99.3h0M106.1 99.3h0M93.5 97.6h0M94.0 97.9h0M72.1 100.2h0M88.6 99.6h0M68.2 101.2h0M75.0 98.6h0M74.3 99.3h0M71.3 99.5h0M79.4 101.7h0M78.8 98.2h0M85.9 98.0h0M90.6 99.0h0M69.7 100.6h0M97.0 97.7h0M77.1 98.3h0M78.5 100.3h0M76.6 102.3h0M89.6 97.5h0M88.5 101.2h0M71.3 102.5h0M92.7 102.8h0M84.7 98.0h0M77.0 99.8h0M88.4 103.1h0M93.2 97.9h0M81.7 98.9h0M77.8 98.2h0M79.2 98.3h0M97.1 101.4h0M87.9 99.2h0M76.2 101.2h0M95.4 98.4h0M86.4 104.4h0M104.5 98.8h0M78.2 102.2h0M78.0 100.2h0M76.2 101.3h0M85.0 98.1h0M70.0 101.7h0M94.6 97.6h0M74.1 98.9h0M72.7 99.4h0M74.7 101.2h0M79.6 100.4h0M87.0 98.9h0M77.9 99.1h0M76.0 98.8h0M84.1 100.3h0M88.0 98.0h0M85.1 104.7h0M74.9 99.1h0M75.5 100.4h0M80.6 102.1h0M87.3 99.7h0M75.9 104.7h0M95.0 97.3h0M84.8 103.0h0M79.3 99.1h0M79.0 101.2h0M77.0 104.3h0M75.7 100.9h0M72.6 101.9h0M84.6 100.5h0M73.2 99.7h0M105.0 97.6h0M89.2 98.9h0M76.9 101.4h0M77.6 99.8h0M84.0 98.0h0M77.5 99.0h0M86.8 101.8h0M85.3 99.5h0M84.1 98.1h0M102.4 98.6h0M88.0 101.5h0M70.7 100.9h0M78.0 98.7h0M98.7 100.0h0M96.7 104.7h0M82.4 101.5h0M81.2 97.8h0M87.2 98.8h0M106.4 99.5h0M102.9 98.9h0M86.0 98.6h0M79.2 99.4h0M81.0 99.2h0M87.8 97.7h0M75.0 101.4h0M76.8 98.7h0M86.3 97.6h0M78.5 98.7h0M77.7 98.8h0M82.5 97.7h0M77.7 98.7h0M85.5 99.5h0M75.7 99.5h0M76.7 104.8h0M71.4 103.7h0M76.0 99.2h0M70.0 99.9h0M91.9 98.4h0M80.5 100.2h0M71.9 99.7h0M88.5 98.1h0M95.3 98.0h0M74.4 99.5h0M87.4 98.7h0M85.5 103.1h0M80.8 101.5h0M77.1 98.9h0M81.3 98.2h0M74.8 99.0h0M83.7 98.7h0M76.2 100.3h0M107.5 98.5h0M73.5 101.3h0M95.7 98.0h0M96.7 97.9h0M73.6 99.0h0M83.2 99.0h0M82.4 98.1h0M77.0 99.3h0M82.6 100.2h0M77.4 98.7h0M85.7 97.9h0M89.3 97.5h0M73.3 99.3h0M86.9 97.6h0M110.8 100.2h0M97.8 97.8h0M81.1 98.7h0M87.9 99.3h0M106.8 97.4h0M82.4 102.1h0M76.4 101.2h0M72.0 100.0h0M78.9 100.2h0M71.1 99.9h0M88.9 98.8h0M72.5 101.4h0M78.7 102.7h0M79.3 104.6h0M90.8 102.4h0M78.3 100.2h0M73.5 99.6h0M76.8 102.0h0M87.5 102.4h0M69.6 102.1h0M73.1 99.9h0M69.9 100.5h0M86.0 99.9h0M76.9 102.2h0M79.8 105.0h0M92.6 98.0h0M75.4 101.0h0M74.2 102.1h0M85.4 99.5h0M75.3 99.1h0M77.4 98.3h0M72.6 99.9h0M82.9 102.0h0M81.1 101.5h0M85.6 103.1h0M70.0 100.3h0M96.1 97.6h0M89.5 100.7h0M105.1 99.4h0M77.5 99.5h0M72.0 99.5h0M84.3 98.2h0M93.1 98.8h0M83.0 97.8h0M106.3 98.0h0M73.5 99.6h0M74.4 105.3h0M81.9 97.8h0M80.5 99.5h0M77.7 101.8h0M78.2 98.0h0M88.1 103.9h0M85.0 98.9h0M97.0 97.5h0M84.7 98.0h0M70.1 100.0h0M84.4 97.7h0M86.2 100.6h0M81.6 98.0h0M76.0 98.6h0M89.3 99.5h0M69.9 102.7h0M76.8 98.6h0M96.2 98.1h0M69.5 100.2h0M83.3 101.1h0M87.5 97.6h0M73.3 99.2h0M74.6 99.2h0M93.9 99.2h0M84.0 97.7h0M78.9 98.9h0M78.2 98.9h0M82.8 99.8h0M91.4 107.9h0M94.1 97.5h0M81.4 100.8h0M77.5 100.0h0M105.8 98.9h0M74.6 101.1h0M90.0 100.9h0M79.0 101.1h0M72.2 99.5h0M75.6 104.2h0M80.9 100.7h0M78.9 104.4h0M81.0 98.0h0M74.8 99.0h0M86.2 100.2h0M85.0 99.3h0M71.1 100.8h0M83.7 99.3h0M74.0 106.6h0M82.7 104.1h0M69.1 103.4h0M77.8 98.3h0M101.4 102.7h0M79.6 98.0h0M68.7 101.8h0M84.7 98.1h0M85.1 100.3h0M95.8 99.3h0M82.5 97.7h0M71.4 100.5h0M90.1 99.4h0M79.5 100.3h0M83.7 98.0h0M75.8 101.1h0M94.3 98.3h0M89.7 98.0h0M86.4 100.8h0M79.4 98.6h0M88.2 104.2h0M73.3 101.4h0M89.7 97.8h0M84.3 99.0h0M95.7 97.6h0M85.5 98.9h0M77.7 100.8h0M80.1 102.1h0M86.2 102.7h0M85.5 99.3h0M69.1 100.4h0M86.8 102.5h0M69.6 104.1h0M92.6 97.8h0M87.5 102.2h0M74.7 101.1h0M105.9 99.2h0M90.6 98.3h0M92.7 99.7h0M78.5 100.2h0M70.4 100.9h0M75.9 100.5h0M73.7 101.2h0M82.5 99.5h0M68.9 101.9h0M85.5 98.9h0M75.2 102.1h0M74.3 101.5h0M74.5 100.1h0M96.9 97.5h0M74.9 99.5h0M74.1 99.5h0M95.0 98.2h0M84.5 102.1h0M70.9 100.1h0M86.1 99.4h0M76.1 103.8h0M90.9 98.7h0M78.1 99.5h0M77.3 101.0h0M80.6 99.7h0M83.9 98.4h0M109.6 98.8h0M71.4 100.7h0M77.3 104.9h0M84.3 99.0h0M81.1 101.0h0M83.6 99.7h0M77.8 98.2h0M106.9 98.6h0M109.6 98.4h0M94.0 99.6h0M105.8 101.7h0M85.6 98.7h0M78.3 99.6h0M68.7 105.1h0M80.3 99.4h0M84.1 98.0h0M71.6 100.3h0M74.0 100.2h0M84.2 98.6h0M94.5 99.9h0M86.8 100.1h0M105.4 98.8h0M75.8 99.7h0M69.2 103.0h0M70.2 100.3h0M77.3 99.4h0M101.0 99.0h0M75.6 102.3h0M70.9 99.7h0M86.0 100.4h0M73.2 102.1h0M78.8 98.5h0M88.0 97.8h0M73.7 100.0h0M72.9 99.0h0M71.5 101.1h0M101.3 98.5h0M88.4 99.3h0M90.5 103.3h0M80.1 100.7h0M66.9 105.5h0M77.4 100.7h0M83.4 99.1h0M75.8 101.5h0M68.3 101.3h0M78.1 98.4h0M105.1 98.9h0M94.4 98.1h0M89.6 101.4h0M83.6 100.1h0M84.1 100.4h0M79.0 100.5h0M85.9 102.0h0M83.6 99.6h0M94.2 98.9h0M80.6 102.9h0M82.6 99.6h0M89.0 97.7h0M86.4 100.8h0M94.3 98.1h0M88.1 100.5h0M85.0 98.0h0M75.2 99.4h0M85.9 98.0h0M88.1 98.1h0M101.0 97.9h0M73.7 102.9h0M89.5 98.1h0M87.4 97.8h0M69.9 101.3h0M88.0 98.6h0M90.8 98.3h0M77.7 98.9h0M85.4 99.0h0M82.7 100.3h0M82.9 102.3h0M87.1 97.7h0M77.1 102.1h0M102.8 97.7h0M106.4 101.4h0M90.9 103.3h0M86.1 99.2h0M78.7 101.1h0M82.3 97.8h0M89.0 98.7h0M85.5 102.1h0M74.3 101.1h0M82.6 98.8h0M85.7 98.1h0M82.7 105.1h0M88.1 98.6h0M85.5 97.7h0M78.0 99.0h0M73.2 99.5h0M93.4 97.4h0M71.8 101.5h0M94.4 101.9h0M98.0 97.6h0M88.8 97.9h0M78.2 99.8h0M81.2 98.3h0M78.6 98.7h0M69.0 102.6h0M84.9 100.4h0M73.4 99.6h0M90.4 97.7h0M84.4 99.8h0M91.1 98.4h0M70.7 99.6h0M81.4 98.0h0M95.1 97.9h0M80.3 98.2h0M84.4 100.0h0M82.9 97.7h0M80.9 97.8h0M86.4 101.0h0M81.1 98.6h0M76.9 99.3h0M96.5 98.8h0M81.3 98.6h0M97.8 100.3h0M71.2 100.4h0M77.0 98.5h0M82.3 98.7h0M89.7 98.2h0M96.3 97.7h0M87.8 97.8h0M74.1 101.7h0M77.0 101.4h0M85.7 98.4h0M74.9 100.2h0M78.5 100.4h0M74.0 103.2h0M104.5 97.9h0M85.5 102.3h0M76.7 99.0h0M89.6 98.1h0M82.2 101.0h0M83.4 98.8h0M72.6 99.4h0M82.6 97.8h0M85.0 99.8h0M80.2 99.4h0M73.4 102.1h0M90.8 98.5h0M79.6 98.1h0M82.8 104.2h0M90.7 97.5h0M84.5 99.2h0M84.9 99.3h0M68.3 102.5h0M77.5 98.6h0M80.5 102.3h0M77.6 98.4h0M69.2 100.4h0M105.1 97.4h0M92.2 100.4h0M85.1 99.1h0M96.6 99.0h0M98.3 98.0h0M89.6 99.9h0M78.2 99.9h0M82.3 104.4h0M81.1 100.7h0M77.8 101.6h0M90.2 102.9h0M71.4 104.8h0M82.0 102.3h0M76.5 99.9h0M84.8 97.7h0M103.6 99.1h0M73.1 100.0h0M93.9 97.6h0M84.4 99.6h0M83.3 98.9h0M81.5 98.0h0M78.5 98.9h0M82.9 101.0h0M82.1 98.9h0M83.5 99.9h0M84.6 100.6h0M82.7 97.9h0M76.6 99.2h0M89.3 97.7h0M83.6 100.0h0M87.2 99.4h0M88.7 97.5h0M97.9 98.9h0M92.8 100.5h0M82.2 100.4h0M87.7 98.8h0M75.1 99.1h0M97.1 100.9h0M84.7 99.3h0M83.4 97.8h0M90.4 98.6h0M87.0 97.7h0M76.0 98.4h0M76.2 99.6h0M86.6 99.1h0M77.6 98.3h0M83.5 98.4h0M92.7 101.1h0M72.2 101.4h0M94.3 99.0h0M72.5 100.2h0M89.3 98.5h0M91.5 100.1h0M76.4 100.7h0M87.9 97.5h0M98.5 97.9h0M96.8 98.3h0M74.5 99.1h0M92.1 98.9h0M84.3 97.8h0M68.6 102.5h0M93.4 98.4h0M100.4 98.4h0M73.2 101.2h0M89.7 102.6h0M81.4 104.0h0M84.4 99.1h0M89.8 97.4h0M81.4 102.2h0M72.9 99.6h0M79.9 98.8h0M90.0 99.6h0M74.1 100.5h0M84.5 98.3h0M76.2 98.7h0M79.2 99.2h0M82.5 100.0h0M93.9 98.2h0M83.0 99.1h0M68.7 100.9h0M73.7 101.1h0M87.0 99.7h0M85.3 98.3h0M68.5 103.8h0M79.7 97.9h0M74.0 100.7h0M81.0 97.8h0M80.9 101.5h0M88.6 98.0h0M94.0 100.5h0M75.2 100.7h0M77.3 102.6h0M88.8 101.2h0M80.5 98.4h0M76.3 101.7h0M74.8 101.7h0M74.4 98.7h0M71.1 100.9h0M92.6 98.1h0M82.8 99.2h0M78.2 98.1h0M81.8 98.4h0M81.9 98.0h0M77.6 101.3h0M88.6 98.0h0M82.0 101.6h0M92.1 98.6h0M91.4 97.9h0M86.4 97.8h0M75.9 98.4h0M82.2 98.9h0M81.0 101.3h0M81.2 97.9h0M95.2 100.3h0M76.3 101.7h0M68.1 101.6h0M71.6 100.6h0M79.1 101.7h0M82.2 98.3h0M73.4 98.9h0M93.6 98.2h0M80.5 98.8h0M83.3 98.7h0M71.3 99.6h0M91.6 104.9h0M97.5 97.4h0M84.4 100.8h0M74.3 101.3h0M82.9 98.0h0M101.1 97.7h0M106.5 97.7h0M72.0 100.7h0M93.5 99.0h0M73.1 100.1h0M85.2 106.7h0M99.1 100.6h0M79.3 102.4h0M85.5 98.0h0M69.1 100.8h0M77.7 98.3h0M83.7 104.8h0M80.8 99.1h0M96.8 98.8h0M75.4 100.1h0M89.3 101.9h0M87.6 102.5h0M72.6 103.7h0M89.1 97.8h0M72.8 99.4h0M78.9 100.2h0M74.0 100.4h0M108.8 101.8h0M85.0 100.0h0M67.7 101.7h0M89.9 99.4h0M100.1 98.4h0M88.5 99.1h0M95.6 98.5h0M107.0 97.9h0M98.7 100.1h0M84.8 101.5h0M78.5 100.4h0M77.1 98.6h0M74.3 99.5h0M76.2 99.2h0M79.1 100.7h0M82.3 100.3h0M90.1 99.9h0M86.8 98.8h0M71.0 103.7h0M81.6 98.6h0M81.2 98.9h0M93.1 97.9h0M71.1 103.0h0M74.9 99.9h0M87.6 99.8h0M86.0 97.8h0M89.1 99.3h0M79.0 105.4h0M95.8 100.3h0M81.7 98.5h0M90.2 98.4h0M81.8 98.9h0M75.8 99.1h0M83.1 97.9h0M93.1 97.8h0M84.7 100.1h0M72.9 99.9h0M77.3 98.3h0M80.3 97.9h0M88.6 99.2h0M83.5 100.9h0M84.2 102.0h0M73.9 99.6h0M95.9 99.6h0M71.9 102.8h0M73.5 99.1h0M74.7 101.1h0M76.5 98.9h0M86.5 100.6h0M76.9 99.2h0M101.3 99.1h0M84.1 97.7h0M95.4 103.1h0M108.4 97.8h0M73.0 100.4h0M97.4 100.8h0M77.4 99.9h0M75.7 100.5h0M80.7 99.5h0M84.6 97.7h0M85.1 97.7h0M81.4 103.3h0M74.5 99.5h0M74.9 99.2h0M84.5 100.5h0M83.8 98.7h0M91.7 98.9h0M72.3 103.5h0M89.8 98.4h0M97.7 97.8h0M95.5 97.5h0M87.2 99.3h0M86.4 98.2h0M86.8 101.8h0M77.4 100.9h0M71.0 101.4h0M95.9 99.2h0M93.2 98.2h0M78.7 101.0h0M83.4 100.4h0M73.3 99.4h0M70.1 101.8h0M107.7 97.5h0M82.6 98.8h0M97.2 99.3h0M106.0 100.4h0M82.5 98.2h0M85.9 97.8h0M88.2 103.4h0M94.6 102.2h0M75.8 98.4h0M74.0 98.8h0M81.7 98.3h0M72.4 101.5h0M81.3 98.1h0M82.1 98.6h0M73.7 105.5h0M71.2 102.3h0M84.8 100.7h0M90.8 100.6h0M73.2 101.7h0M77.0 99.1h0M74.6 101.1h0M71.9 100.3h0M84.7 102.7h0M76.0 99.0h0M86.5 97.9h0M81.5 99.2h0M75.2 100.7h0M78.0 98.1h0M87.9 100.4h0M94.0 98.0h0M81.8 100.6h0M84.6 97.8h0M84.7 98.7h0M75.6 99.4h0M87.0 97.6h0M73.4 100.8h0M75.4 99.7h0M86.5 100.6h0M91.5 99.8h0M71.0 102.5h0M100.8 98.1h0M89.5 98.6h0M82.5 99.8h0M77.7 98.4h0M74.4 99.1h0M101.1 97.8h0M87.8 98.1h0M85.5 97.8h0M74.8 104.6h0M90.4 99.2h0M83.5 99.0h0M70.3 101.6h0M95.2 100.0h0M71.5 101.3h0M78.6 100.2h0M72.6 100.4h0M95.8 100.0h0M84.5 99.0h0M80.4 100.4h0M73.5 101.8h0M86.6 97.9h0M99.9 97.3h0M91.5 98.3h0M72.8 102.0h0M70.3 99.7h0M80.4 97.9h0M77.6 99.0h0M76.1 100.2h0M80.2 98.2h0M80.6 102.9h0M78.9 99.5h0M71.9 100.8h0M73.9 102.5h0M82.8 98.0h0M73.2 99.0h0M69.6 103.7h0M89.1 98.3h0M86.0 99.0h0M81.9 100.5h0M77.6 99.9h0M75.9 101.8h0M91.7 98.9h0M89.4 100.8h0M83.9 97.7h0M103.8 99.6h0M82.5 99.1h0M67.9 104.9h0M88.0 98.3h0M79.8 98.2h0M98.0 97.9h0M84.5 99.6h0M99.0 99.7h0M80.7 105.7h0M84.4 101.4h0M81.5 98.5h0M88.9 98.6h0M93.6 97.8h0M74.7 100.3h0M78.6 99.2h0M80.8 99.1h0M73.3 100.2h0M80.6 98.8h0M69.4 101.9h0M75.4 98.5h0M80.2 101.2h0M79.2 98.3h0M74.8 98.7h0M92.1 99.1h0M88.0 97.9h0M84.8 101.3h0M76.6 99.5h0M79.4 101.9h0M83.6 97.9h0M95.3 98.4h0M100.7 98.5h0M72.8 104.8h0M89.5 98.1h0M93.7 99.4h0M73.8 98.7h0M91.5 98.2h0M93.5 99.3h0M77.8 98.2h0M73.4 101.1h0M100.2 99.8h0M91.6 99.4h0M82.2 99.4h0M94.4 97.7h0M86.7 97.9h0M77.1 103.5h0M76.1 98.4h0M80.8 99.0h0M86.2 98.6h0M80.1 99.0h0M76.3 98.7h0M94.2 103.7h0M81.3 101.2h0M109.0 98.4h0M86.1 106.1h0M79.0 100.3h0M77.1 98.8h0M82.7 102.2h0M71.3 99.4h0M68.9 101.9h0M108.0 98.1h0M100.2 98.1h0M76.3 102.3h0M73.5 101.2h0M85.1 99.0h0M96.9 97.7h0M74.2 99.8h0M77.9 104.0h0M75.6 100.6h0M80.8 101.5h0M74.9 102.6h0M89.0 98.8h0M74.0 102.6h0M97.6 98.1h0M71.9 100.1h0M91.3 98.6h0M85.8 97.7h0M79.9 97.9h0M91.0 100.6h0M107.6 97.7h0M84.2 98.5h0M102.6 99.0h0M80.3 99.2h0M89.2 98.7h0M83.4 100.0h0M82.6 104.4h0M82.3 99.1h0M97.8 99.6h0M84.5 98.0h0M77.4 99.8h0M89.2 103.1h0M80.5 99.5h0M74.4 98.8h0M85.4 98.1h0M79.4 98.7h0M71.1 102.6h0M73.5 101.2h0M80.6 99.7h0M92.6 97.5h0M81.0 98.5h0M69.8 105.1h0M96.1 103.5h0M74.3 100.1h0M79.6 101.6h0M85.5 98.4h0M80.2 99.9h0M71.7 99.4h0M84.4 98.5h0M88.5 98.5h0M77.2 99.2h0M67.7 104.5h0M89.5 104.3h0M85.9 97.7h0M79.6 99.4h0M70.6 99.7h0M70.7 102.0h0M77.0 99.3h0M96.1 99.6h0M81.2 100.8h0M85.0 98.6h0M75.6 103.3h0M79.4 98.1h0M87.8 98.2h0M95.7 102.7h0M94.9 98.1h0M77.8 101.2h0M75.1 102.7h0M72.8 103.0h0M87.1 99.2h0M79.0 98.0h0M77.7 98.6h0M74.3 99.5h0M80.5 99.4h0M83.2 99.7h0M86.9 98.1h0M83.6 100.3h0M85.7 97.7h0M69.9 101.7h0M93.1 99.8h0M73.9 104.9h0M76.9 100.4h0M72.8 102.7h0M80.0 98.7h0M77.0 98.5h0M93.6 103.6h0M80.4 98.6h0M72.2 104.5h0M78.1 98.6h0M96.4 102.0h0M72.7 103.0h0M101.1 100.5h0M83.9 99.6h0M81.2 102.8h0M85.4 101.6h0M79.1 99.4h0M97.9 97.7h0M66.9 101.5h0M78.8 100.0h0M78.0 99.6h0M69.8 102.9h0M78.6 99.2h0M81.1 99.2h0M79.9 101.2h0M78.4 100.3h0M75.0 104.6h0M70.4 100.1h0M87.0 98.2h0M83.1 98.6h0M82.7 99.2h0M79.5 99.8h0M95.0 100.2h0M73.1 101.5h0M79.3 99.2h0M72.1 100.1h0M76.1 99.0h0M93.8 99.6h0M82.1 101.0h0M81.2 98.0h0M97.2 97.5h0M78.6 100.6h0M79.8 99.1h0M98.9 99.8h0M71.2 101.4h0M74.9 103.3h0M95.7 99.6h0M67.9 101.7h0M83.5 98.3h0M83.1 98.9h0M90.4 105.9h0M81.2 100.0h0M74.6 106.3h0M93.2 98.8h0M93.9 98.1h0M86.4 98.3h0M78.7 99.1h0M78.8 101.9h0M93.5 97.8h0M95.8 99.8h0M79.3 100.3h0M82.9 98.1h0M73.4 99.1h0M77.3 99.7h0M74.0 99.4h0M72.7 99.5h0M100.9 97.6h0M71.3 100.9h0M87.8 104.3h0M71.0 104.3h0M74.0 99.3h0M79.4 103.4h0M108.2 100.0h0M97.9 101.3h0M88.5 99.8h0M93.0 101.0h0M97.7 102.2h0M109.5 97.5h0M83.6 98.0h0M85.7 105.4h0M91.7 97.8h0M90.4 99.7h0M72.9 100.0h0M87.8 102.2h0M99.8 101.4h0M67.7 104.5h0M84.1 97.9h0M75.0 100.9h0M78.1 98.4h0M72.0 103.6h0M85.5 98.1h0M75.2 98.5h0M84.6 98.6h0M79.0 103.6h0M88.2 98.2h0M86.5 100.5h0M95.4 101.2h0M82.3 98.1h0M89.0 97.7h0M85.6 99.6h0M82.9 99.1h0M100.7 98.2h0M67.9 102.8h0M88.9 100.4h0M100.1 98.8h0M86.6 103.6h0M77.2 99.6h0M74.0 99.4h0M78.5 98.2h0M69.7 105.7h0M77.2 102.3h0M85.7 99.2h0M70.4 100.1h0M99.3 99.1h0M93.3 99.0h0M74.9 101.3h0M93.7 98.9h0M87.9 99.1h0M91.2 99.6h0M70.0 99.8h0M83.8 98.8h0M75.5 100.1h0M88.8 99.6h0M77.0 101.4h0M72.7 99.3h0M74.1 98.9h0M106.6 98.0h0M90.7 98.5h0M92.7 98.8h0M98.8 97.9h0M97.7 99.9h0M110.2 97.7h0M86.3 99.2h0M77.3 98.6h0M86.0 99.6h0M77.2 99.2h0M108.9 98.9h0M80.1 98.4h0M71.3 103.2h0M88.3 98.6h0M89.6 97.5h0M86.8 99.1h0M75.1 102.0h0M80.9 105.2h0M98.4 100.6h0M82.9 98.1h0M93.5 99.5h0M88.7 105.5h0M79.4 98.5h0M93.9 97.5h0M71.9 104.1h0M82.7 98.2h0M75.5 104.8h0M104.1 98.7h0M98.2 102.3h0M78.3 98.4h0M88.4 97.8h0M95.2 98.4h0M77.2 100.8h0M71.6 102.9h0M73.2 100.2h0M94.3 99.5h0M79.6 98.3h0M83.2 105.2h0M74.3 99.6h0M79.2 99.8h0M73.7 98.9h0M87.7 102.4h0M86.4 99.4h0M75.8 102.4h0M86.9 98.4h0M89.5 101.1h0M75.9 98.9h0M82.0 98.7h0M81.9 103.8h0M79.5 99.2h0M80.9 100.4h0M96.2 104.6h0M75.6 99.3h0M92.8 98.8h0M77.0 98.2h0M73.7 99.3h0M76.6 98.9h0M84.2 99.5h0M89.1 98.2h0M73.6 99.4h0M69.9 101.8h0M79.6 101.2h0M91.9 97.6h0M84.7 97.9h0M103.8 97.5h0M85.4 99.5h0M77.7 100.9h0M85.6 98.0h0M87.7 100.7h0M77.6 99.7h0M76.5 98.7h0M94.7 100.1h0M74.4 98.8h0M74.0 99.6h0M85.0 97.9h0M94.7 99.7h0M70.8 102.8h0M85.7 100.3h0M99.3 100.9h0M80.4 99.7h0M88.3 99.7h0M82.3 98.9h0M82.2 102.4h0M74.9 99.8h0M81.1 99.3h0M74.7 103.3h0M78.2 98.2h0M74.7 99.9h0M75.2 98.8h0M73.5 98.9h0M86.7 97.9h0M74.6 100.9h0M68.2 101.0h0M89.0 99.8h0M79.0 98.7h0M73.7 99.8h0M81.8 98.1h0M84.7 102.4h0M78.9 99.1h0M75.4 99.8h0M73.3 101.3h0M82.6 97.7h0M84.0 97.7h0M80.8 97.9h0M83.7 98.4h0M94.5 97.5h0M96.0 99.6h0M105.7 97.4h0M75.0 98.7h0M80.5 99.1h0M95.6 97.8h0M81.1 98.3h0M73.7 100.1h0M78.2 98.5h0M94.5 98.8h0M72.6 99.9h0M74.7 100.9h0M87.0 99.6h0M78.9 98.0h0M89.8 97.4h0M91.6 99.6h0M77.2 99.1h0M79.0 98.0h0M77.9 99.2h0M77.3 100.1h0M90.2 101.5h0M98.0 97.8h0M96.4 98.2h0M76.3 102.0h0M86.1 99.2h0M77.9 100.4h0M77.0 101.0h0M68.0 103.8h0M79.1 98.6h0M84.7 98.9h0M70.8 100.2h0M78.4 101.5h0M85.5 98.3h0M82.3 101.6h0M73.8 98.8h0M95.2 101.7h0M88.4 101.2h0M77.5 98.3h0M81.1 98.3h0M74.2 101.4h0M104.1 99.4h0M89.0 100.1h0M76.8 100.1h0M90.3 98.9h0M70.2 100.3h0M80.3 99.1h0M88.4 99.3h0M81.7 97.7h0M77.8 99.4h0M80.4 102.3h0M74.7 99.9h0M95.6 98.5h0M75.9 100.3h0M91.5 98.2h0M81.3 98.1h0M74.3 101.4h0M93.9 100.6h0M87.4 98.5h0M91.1 99.2h0M109.0 102.4h0M70.3 100.3h0M70.7 101.1h0M79.7 101.3h0M73.5 99.4h0M75.4 99.6h0M92.6 98.0h0M83.9 103.2h0M75.9 101.7h0M105.0 97.6h0M107.6 100.4h0M89.0 99.0h0M86.9 102.3h0M67.4 101.5h0M84.3 98.6h0M75.4 99.2h0M72.6 102.4h0M91.8 100.8h0M88.2 98.7h0M79.3 98.6h0M84.4 101.5h0M83.7 98.3h0M85.3 97.8h0M91.8 98.3h0M83.1 98.3h0M86.5 98.8h0M86.3 98.2h0M80.6 98.2h0M84.7 100.5h0M73.3 99.4h0M73.1 101.0h0M84.3 99.2h0M94.9 99.3h0M97.8 98.6h0M96.0 97.6h0M87.4 99.4h0M91.2 97.9h0M84.5 104.0h0M77.0 99.4h0M85.9 97.7h0M81.0 101.8h0M89.5 100.0h0M78.4 99.3h0M87.6 97.8h0M80.9 98.5h0M72.2 99.5h0M83.4 98.9h0M84.6 99.7h0M70.8 101.9h0M83.1 98.3h0M71.0 99.9h0M78.9 102.0h0M80.2 99.6h0M87.2 101.2h0M92.2 102.2h0M82.8 99.5h0M82.5 98.4h0M73.3 100.1h0M77.1 99.0h0M73.3 101.2h0M86.9 99.9h0M69.1 100.6h0M97.1 98.1h0M76.2 99.9h0M71.9 99.6h0M87.6 98.7h0M79.1 98.8h0M78.3 98.8h0M80.5 98.5h0M73.0 99.7h0M77.6 98.7h0M84.3 99.0h0M79.6 98.4h0M89.6 97.7h0M80.2 102.3h0M78.6 98.9h0M80.7 100.2h0M78.7 98.6h0M98.1 99.6h0M75.1 100.2h0M73.7 99.8h0M88.1 97.7h0M81.4 97.9h0M76.9 102.4h0M74.0 99.1h0M79.8 100.7h0M90.2 99.3h0M87.7 100.9h0M86.5 100.5h0M88.8 99.3h0M78.3 98.4h0M74.0 102.2h0M88.8 102.0h0M101.4 99.3h0M105.4 101.8h0M80.9 103.5h0M90.4 99.8h0M96.6 103.2h0M99.4 98.8h0M90.9 98.9h0M79.5 98.3h0M80.1 101.0h0M93.7 99.9h0M74.2 101.9h0M69.9 100.5h0M77.1 99.5h0M92.0 98.2h0M88.2 99.0h0M76.7 101.5h0M93.4 98.9h0M87.8 100.5h0M85.5 97.7h0M87.9 97.8h0M75.1 102.0h0M78.5 99.0h0M77.3 101.4h0M75.1 98.7h0M101.8 101.9h0M74.5 99.5h0M92.7 99.1h0M85.4 104.2h0M86.7 97.7h0M77.9 100.4h0M53.9 138.0h0M55.5 125.6h0M56.3 124.1h0M54.7 119.0h0M60.2 113.9h0M61.7 110.3h0M64.9 121.2h0M65.6 122.7h0M66.4 121.9h0M64.9 108.8h0M67.2 105.9h0M75.8 111.7h0M81.3 109.5h0M73.5 108.8h0M88.3 112.5h0M93.0 109.5h0M89.1 105.9h0M98.5 107.3h0M104.7 103.7h0M107.9 97.9h0M57.8 124.9h0M63.3 116.1h0" stroke="#67c129" stroke-width="2" stroke-linecap="round"/>
<line x1="45" y1="94.5" x2="142.4" y2="94.5" stroke="#000" stroke-width="1" />
<rect x="45" y="46.8" width="97.4" height="94.8" fill="none" stroke="#000" stroke-width="1.3" />
<line x1="41.7" y1="50.4" x2="45" y2="50.4" stroke="#000" stroke-width="1.1" />
<text x="39.6" y="53" font-size="7.6" text-anchor="end" fill="#222">6</text>
<line x1="41.7" y1="65" x2="45" y2="65" stroke="#000" stroke-width="1.1" />
<text x="39.6" y="67.6" font-size="7.6" text-anchor="end" fill="#222">4</text>
<line x1="41.7" y1="79.6" x2="45" y2="79.6" stroke="#000" stroke-width="1.1" />
<text x="39.6" y="82.2" font-size="7.6" text-anchor="end" fill="#222">2</text>
<line x1="41.7" y1="94.2" x2="45" y2="94.2" stroke="#000" stroke-width="1.1" />
<text x="39.6" y="96.8" font-size="7.6" text-anchor="end" fill="#222">0</text>
<line x1="41.7" y1="108.8" x2="45" y2="108.8" stroke="#000" stroke-width="1.1" />
<text x="39.6" y="111.4" font-size="7.6" text-anchor="end" fill="#222">-2</text>
<line x1="41.7" y1="123.4" x2="45" y2="123.4" stroke="#000" stroke-width="1.1" />
<text x="39.6" y="126" font-size="7.6" text-anchor="end" fill="#222">-4</text>
<line x1="41.7" y1="138" x2="45" y2="138" stroke="#000" stroke-width="1.1" />
<text x="39.6" y="140.6" font-size="7.6" text-anchor="end" fill="#222">-6</text>
<line x1="50" y1="141.6" x2="50" y2="144.4" stroke="#000" stroke-width="1.1" />
<text x="50" y="154.6" font-size="7.6" text-anchor="middle" fill="#222">2</text>
<line x1="65.64" y1="141.6" x2="65.64" y2="144.4" stroke="#000" stroke-width="1.1" />
<text x="65.64" y="154.6" font-size="7.6" text-anchor="middle" fill="#222">4</text>
<line x1="81.28" y1="141.6" x2="81.28" y2="144.4" stroke="#000" stroke-width="1.1" />
<text x="81.28" y="154.6" font-size="7.6" text-anchor="middle" fill="#222">6</text>
<line x1="96.92" y1="141.6" x2="96.92" y2="144.4" stroke="#000" stroke-width="1.1" />
<text x="96.92" y="154.6" font-size="7.6" text-anchor="middle" fill="#222">8</text>
<line x1="112.56" y1="141.6" x2="112.56" y2="144.4" stroke="#000" stroke-width="1.1" />
<text x="112.56" y="154.6" font-size="7.6" text-anchor="middle" fill="#222">10</text>
<line x1="128.2" y1="141.6" x2="128.2" y2="144.4" stroke="#000" stroke-width="1.1" />
<text x="128.2" y="154.6" font-size="7.6" text-anchor="middle" fill="#222">12</text>
<text x="93.5" y="167" font-size="9" text-anchor="middle" fill="#222" textLength="27.5" lengthAdjust="spacingAndGlyphs">LogCPM</text>
<text x="26.6" y="94.4" font-size="8.6" text-anchor="middle" fill="#222" textLength="90.8" lengthAdjust="spacingAndGlyphs" transform="rotate(-90 26.6 94.4)">LogFC (OBF1sh1 - SHC002)</text>
<text x="103.2" y="54.6" font-size="6.6" fill="#d40f14" textLength="29.4" lengthAdjust="spacingAndGlyphs">Up (n=752)</text>
<circle cx="100.8" cy="52.5" r="1" fill="#e00d12"/>
<text x="103.2" y="61.6" font-size="6.6" fill="#58ad36" textLength="36.8" lengthAdjust="spacingAndGlyphs">Down (n=423)</text>
<text x="444.1" y="30.1" font-size="10" text-anchor="middle" textLength="135.6" lengthAdjust="spacingAndGlyphs">Significantly enriched GO terms</text>
<rect x="405.6" y="54.1" width="84.4" height="5.5" fill="#3e9a45" />
<text x="401.4" y="58.45" font-size="7" text-anchor="end" fill="#111" textLength="110.6" lengthAdjust="spacingAndGlyphs">external side of plasma membrane</text>
<rect x="405.6" y="61.53" width="79" height="5.5" fill="#3e9a45" />
<text x="401.4" y="65.88" font-size="7" text-anchor="end" fill="#111" textLength="93.4" lengthAdjust="spacingAndGlyphs">MHC class II protein complex</text>
<rect x="405.6" y="68.96" width="68.4" height="5.5" fill="#3e9a45" />
<text x="401.4" y="73.31" font-size="7" text-anchor="end" fill="#111" textLength="233.4" lengthAdjust="spacingAndGlyphs">integral component of lumenal side of endoplasmic reticulum membrane</text>
<rect x="405.6" y="76.39" width="50" height="5.5" fill="#3e9a45" />
<text x="401.4" y="80.74" font-size="7" text-anchor="end" fill="#111" textLength="125.2" lengthAdjust="spacingAndGlyphs">ER to Golgi transport vesicle membrane</text>
<rect x="405.6" y="83.82" width="44.2" height="5.5" fill="#3e9a45" />
<text x="401.4" y="88.17" font-size="7" text-anchor="end" fill="#111" textLength="140.6" lengthAdjust="spacingAndGlyphs">clathrin-coated endocytic vesicle membrane</text>
<rect x="405.6" y="91.25" width="37.9" height="5.5" fill="#3e9a45" />
<text x="401.4" y="95.6" font-size="7" text-anchor="end" fill="#111">plasma membrane</text>
<rect x="405.6" y="98.68" width="34.2" height="5.5" fill="#3e9a45" />
<text x="401.4" y="103.03" font-size="7" text-anchor="end" fill="#111" textLength="88.6" lengthAdjust="spacingAndGlyphs">transport vesicle membrane</text>
<rect x="405.6" y="106.11" width="32.2" height="5.5" fill="#3e9a45" />
<text x="401.4" y="110.46" font-size="7" text-anchor="end" fill="#111" textLength="99.9" lengthAdjust="spacingAndGlyphs">trans-Golgi network membrane</text>
<rect x="405.6" y="121" width="21.4" height="5.5" fill="#cd2520" />
<text x="401.4" y="125.35" font-size="7" text-anchor="end" fill="#111">cytoplasm</text>
<rect x="405.6" y="128.3" width="8.4" height="5.5" fill="#cd2520" />
<text x="401.4" y="132.65" font-size="7" text-anchor="end" fill="#111" textLength="108.3" lengthAdjust="spacingAndGlyphs">endoplasmic reticulum membrane</text>
<line x1="405.4" y1="50.4" x2="405.4" y2="142.6" stroke="#000" stroke-width="1.3" />
<line x1="404.8" y1="142" x2="483" y2="142" stroke="#000" stroke-width="1.3" />
<line x1="405.4" y1="142" x2="405.4" y2="145.6" stroke="#000" stroke-width="1.1" />
<text x="405.4" y="155" font-size="7.6" text-anchor="middle" fill="#222">0</text>
<line x1="430" y1="142" x2="430" y2="145.6" stroke="#000" stroke-width="1.1" />
<text x="430" y="155" font-size="7.6" text-anchor="middle" fill="#222">5</text>
<line x1="454.6" y1="142" x2="454.6" y2="145.6" stroke="#000" stroke-width="1.1" />
<text x="454.6" y="155" font-size="7.6" text-anchor="middle" fill="#222">10</text>
<line x1="479.2" y1="142" x2="479.2" y2="145.6" stroke="#000" stroke-width="1.1" />
<text x="479.2" y="155" font-size="7.6" text-anchor="middle" fill="#222">15</text>
<text x="445.4" y="137.8" font-size="6.9" fill="#111" textLength="47.6" lengthAdjust="spacingAndGlyphs">-log10(<tspan font-style="italic">P</tspan>-value)</text>
<text x="9.6" y="198.2" font-size="14.5" font-weight="bold">B</text>
<rect x="30" y="202" width="8.6" height="3.93" fill="#e9824e" />
<rect x="38.2" y="202" width="8.6" height="3.93" fill="#e87e4c" />
<rect x="46.4" y="202" width="8.6" height="3.93" fill="#eb8650" />
<rect x="54.6" y="202" width="8.6" height="3.93" fill="#7396ce" />
<rect x="62.8" y="202" width="8.6" height="3.93" fill="#779ad0" />
<rect x="71" y="202" width="8.2" height="3.93" fill="#7295cd" />
<rect x="30" y="205.53" width="8.6" height="3.93" fill="#e9824e" />
<rect x="38.2" y="205.53" width="8.6" height="3.93" fill="#e27044" />
<rect x="46.4" y="205.53" width="8.6" height="3.93" fill="#ec8952" />
<rect x="54.6" y="205.53" width="8.6" height="3.93" fill="#7698cf" />
<rect x="62.8" y="205.53" width="8.6" height="3.93" fill="#82a4d5" />
<rect x="71" y="205.53" width="8.2" height="3.93" fill="#80a2d4" />
<rect x="30" y="209.06" width="8.6" height="3.93" fill="#e9814d" />
<rect x="38.2" y="209.06" width="8.6" height="3.93" fill="#ed8f55" />
<rect x="46.4" y="209.06" width="8.6" height="3.93" fill="#e9834e" />
<rect x="54.6" y="209.06" width="8.6" height="3.93" fill="#86a7d6" />
<rect x="62.8" y="209.06" width="8.6" height="3.93" fill="#6e91cc" />
<rect x="71" y="209.06" width="8.2" height="3.93" fill="#779ad0" />
<rect x="30" y="212.6" width="8.6" height="3.93" fill="#f19d5d" />
<rect x="38.2" y="212.6" width="8.6" height="3.93" fill="#ef9558" />
<rect x="46.4" y="212.6" width="8.6" height="3.93" fill="#f19d5c" />
<rect x="54.6" y="212.6" width="8.6" height="3.93" fill="#7a9cd1" />
<rect x="62.8" y="212.6" width="8.6" height="3.93" fill="#6f92cc" />
<rect x="71" y="212.6" width="8.2" height="3.93" fill="#7fa1d4" />
<rect x="30" y="216.13" width="8.6" height="3.93" fill="#e8804d" />
<rect x="38.2" y="216.13" width="8.6" height="3.93" fill="#ea854f" />
<rect x="46.4" y="216.13" width="8.6" height="3.93" fill="#f3a662" />
<rect x="54.6" y="216.13" width="8.6" height="3.93" fill="#7799d0" />
<rect x="62.8" y="216.13" width="8.6" height="3.93" fill="#7c9ed2" />
<rect x="71" y="216.13" width="8.2" height="3.93" fill="#7ea0d3" />
<rect x="30" y="219.66" width="8.6" height="3.93" fill="#f0985a" />
<rect x="38.2" y="219.66" width="8.6" height="3.93" fill="#d45439" />
<rect x="46.4" y="219.66" width="8.6" height="3.93" fill="#f7bb70" />
<rect x="54.6" y="219.66" width="8.6" height="3.93" fill="#9abade" />
<rect x="62.8" y="219.66" width="8.6" height="3.93" fill="#6286c6" />
<rect x="71" y="219.66" width="8.2" height="3.93" fill="#7497ce" />
<rect x="30" y="223.19" width="8.6" height="3.93" fill="#e9834e" />
<rect x="38.2" y="223.19" width="8.6" height="3.93" fill="#e57648" />
<rect x="46.4" y="223.19" width="8.6" height="3.93" fill="#ec8a52" />
<rect x="54.6" y="223.19" width="8.6" height="3.93" fill="#7b9ed2" />
<rect x="62.8" y="223.19" width="8.6" height="3.93" fill="#7ea0d3" />
<rect x="71" y="223.19" width="8.2" height="3.93" fill="#7d9fd3" />
<rect x="30" y="226.73" width="8.6" height="3.93" fill="#ee9457" />
<rect x="38.2" y="226.73" width="8.6" height="3.93" fill="#e9814d" />
<rect x="46.4" y="226.73" width="8.6" height="3.93" fill="#e27044" />
<rect x="54.6" y="226.73" width="8.6" height="3.93" fill="#6c8fcb" />
<rect x="62.8" y="226.73" width="8.6" height="3.93" fill="#88aad7" />
<rect x="71" y="226.73" width="8.2" height="3.93" fill="#7ea0d3" />
<rect x="30" y="230.26" width="8.6" height="3.93" fill="#ec8b53" />
<rect x="38.2" y="230.26" width="8.6" height="3.93" fill="#df6740" />
<rect x="46.4" y="230.26" width="8.6" height="3.93" fill="#e57849" />
<rect x="54.6" y="230.26" width="8.6" height="3.93" fill="#6f93cc" />
<rect x="62.8" y="230.26" width="8.6" height="3.93" fill="#7d9fd3" />
<rect x="71" y="230.26" width="8.2" height="3.93" fill="#84a6d5" />
<rect x="30" y="233.79" width="8.6" height="3.93" fill="#ea854f" />
<rect x="38.2" y="233.79" width="8.6" height="3.93" fill="#e67949" />
<rect x="46.4" y="233.79" width="8.6" height="3.93" fill="#ea834e" />
<rect x="54.6" y="233.79" width="8.6" height="3.93" fill="#85a7d6" />
<rect x="62.8" y="233.79" width="8.6" height="3.93" fill="#92b2da" />
<rect x="71" y="233.79" width="8.2" height="3.93" fill="#7598cf" />
<rect x="30" y="237.32" width="8.6" height="3.93" fill="#f2a25f" />
<rect x="38.2" y="237.32" width="8.6" height="3.93" fill="#ec8951" />
<rect x="46.4" y="237.32" width="8.6" height="3.93" fill="#e9814d" />
<rect x="54.6" y="237.32" width="8.6" height="3.93" fill="#7093cc" />
<rect x="62.8" y="237.32" width="8.6" height="3.93" fill="#7699cf" />
<rect x="71" y="237.32" width="8.2" height="3.93" fill="#7a9dd1" />
<rect x="30" y="240.86" width="8.6" height="3.93" fill="#e57648" />
<rect x="38.2" y="240.86" width="8.6" height="3.93" fill="#e37346" />
<rect x="46.4" y="240.86" width="8.6" height="3.93" fill="#ef9558" />
<rect x="54.6" y="240.86" width="8.6" height="3.93" fill="#7497ce" />
<rect x="62.8" y="240.86" width="8.6" height="3.93" fill="#85a7d6" />
<rect x="71" y="240.86" width="8.2" height="3.93" fill="#678bc8" />
<rect x="30" y="244.39" width="8.6" height="3.93" fill="#ec8951" />
<rect x="38.2" y="244.39" width="8.6" height="3.93" fill="#de643e" />
<rect x="46.4" y="244.39" width="8.6" height="3.93" fill="#e37145" />
<rect x="54.6" y="244.39" width="8.6" height="3.93" fill="#86a7d6" />
<rect x="62.8" y="244.39" width="8.6" height="3.93" fill="#799bd1" />
<rect x="71" y="244.39" width="8.2" height="3.93" fill="#789bd0" />
<rect x="30" y="247.92" width="8.6" height="3.93" fill="#ea8650" />
<rect x="38.2" y="247.92" width="8.6" height="3.93" fill="#e26e43" />
<rect x="46.4" y="247.92" width="8.6" height="3.93" fill="#eb8851" />
<rect x="54.6" y="247.92" width="8.6" height="3.93" fill="#799cd1" />
<rect x="62.8" y="247.92" width="8.6" height="3.93" fill="#80a2d4" />
<rect x="71" y="247.92" width="8.2" height="3.93" fill="#7b9dd2" />
<rect x="30" y="251.46" width="8.6" height="3.93" fill="#ea854f" />
<rect x="38.2" y="251.46" width="8.6" height="3.93" fill="#ee9256" />
<rect x="46.4" y="251.46" width="8.6" height="3.93" fill="#e9834e" />
<rect x="54.6" y="251.46" width="8.6" height="3.93" fill="#789ad0" />
<rect x="62.8" y="251.46" width="8.6" height="3.93" fill="#8daed9" />
<rect x="71" y="251.46" width="8.2" height="3.93" fill="#85a7d6" />
<rect x="30" y="254.99" width="8.6" height="3.93" fill="#e9834e" />
<rect x="38.2" y="254.99" width="8.6" height="3.93" fill="#e67949" />
<rect x="46.4" y="254.99" width="8.6" height="3.93" fill="#eb8750" />
<rect x="54.6" y="254.99" width="8.6" height="3.93" fill="#8bacd8" />
<rect x="62.8" y="254.99" width="8.6" height="3.93" fill="#7c9fd2" />
<rect x="71" y="254.99" width="8.2" height="3.93" fill="#84a6d5" />
<rect x="30" y="258.52" width="8.6" height="3.93" fill="#d95c3c" />
<rect x="38.2" y="258.52" width="8.6" height="3.93" fill="#facc7f" />
<rect x="46.4" y="258.52" width="8.6" height="3.93" fill="#f09a5b" />
<rect x="54.6" y="258.52" width="8.6" height="3.93" fill="#668ac8" />
<rect x="62.8" y="258.52" width="8.6" height="3.93" fill="#b5d0e7" />
<rect x="71" y="258.52" width="8.2" height="3.93" fill="#7396ce" />
<rect x="30" y="262.05" width="8.6" height="3.93" fill="#e8804d" />
<rect x="38.2" y="262.05" width="8.6" height="3.93" fill="#f6b268" />
<rect x="46.4" y="262.05" width="8.6" height="3.93" fill="#ed8e54" />
<rect x="54.6" y="262.05" width="8.6" height="3.93" fill="#7698cf" />
<rect x="62.8" y="262.05" width="8.6" height="3.93" fill="#9abade" />
<rect x="71" y="262.05" width="8.2" height="3.93" fill="#83a4d5" />
<rect x="30" y="265.58" width="8.6" height="3.93" fill="#ea854f" />
<rect x="38.2" y="265.58" width="8.6" height="3.93" fill="#f4aa64" />
<rect x="46.4" y="265.58" width="8.6" height="3.93" fill="#e67949" />
<rect x="54.6" y="265.58" width="8.6" height="3.93" fill="#83a5d5" />
<rect x="62.8" y="265.58" width="8.6" height="3.93" fill="#7194cd" />
<rect x="71" y="265.58" width="8.2" height="3.93" fill="#7c9ed2" />
<rect x="30" y="269.12" width="8.6" height="3.93" fill="#e9824e" />
<rect x="38.2" y="269.12" width="8.6" height="3.93" fill="#f2a25f" />
<rect x="46.4" y="269.12" width="8.6" height="3.93" fill="#e87f4c" />
<rect x="54.6" y="269.12" width="8.6" height="3.93" fill="#7396ce" />
<rect x="62.8" y="269.12" width="8.6" height="3.93" fill="#8aabd8" />
<rect x="71" y="269.12" width="8.2" height="3.93" fill="#7ea1d3" />
<rect x="30" y="272.65" width="8.6" height="3.93" fill="#e9814d" />
<rect x="38.2" y="272.65" width="8.6" height="3.93" fill="#ec8b52" />
<rect x="46.4" y="272.65" width="8.6" height="3.93" fill="#ea844f" />
<rect x="54.6" y="272.65" width="8.6" height="3.93" fill="#678bc8" />
<rect x="62.8" y="272.65" width="8.6" height="3.93" fill="#7093cd" />
<rect x="71" y="272.65" width="8.2" height="3.93" fill="#80a2d4" />
<rect x="30" y="276.18" width="8.6" height="3.93" fill="#6589c8" />
<rect x="38.2" y="276.18" width="8.6" height="3.93" fill="#88a9d7" />
<rect x="46.4" y="276.18" width="8.6" height="3.93" fill="#6a8dca" />
<rect x="54.6" y="276.18" width="8.6" height="3.93" fill="#d45439" />
<rect x="62.8" y="276.18" width="8.6" height="3.93" fill="#ed8e54" />
<rect x="71" y="276.18" width="8.2" height="3.93" fill="#e57848" />
<rect x="30" y="279.72" width="8.6" height="3.93" fill="#accae4" />
<rect x="38.2" y="279.72" width="8.6" height="3.93" fill="#6c8fcb" />
<rect x="46.4" y="279.72" width="8.6" height="3.93" fill="#5879bc" />
<rect x="54.6" y="279.72" width="8.6" height="3.93" fill="#e26f44" />
<rect x="62.8" y="279.72" width="8.6" height="3.93" fill="#e47346" />
<rect x="71" y="279.72" width="8.2" height="3.93" fill="#f7bb70" />
<rect x="30" y="283.25" width="8.6" height="3.93" fill="#d1e4ef" />
<rect x="38.2" y="283.25" width="8.6" height="3.93" fill="#4e6db3" />
<rect x="46.4" y="283.25" width="8.6" height="3.93" fill="#8cadd8" />
<rect x="54.6" y="283.25" width="8.6" height="3.93" fill="#f4aa64" />
<rect x="62.8" y="283.25" width="8.6" height="3.93" fill="#e9824e" />
<rect x="71" y="283.25" width="8.2" height="3.93" fill="#ed8d54" />
<rect x="30" y="286.78" width="8.6" height="3.93" fill="#7698cf" />
<rect x="38.2" y="286.78" width="8.6" height="3.93" fill="#6f92cc" />
<rect x="46.4" y="286.78" width="8.6" height="3.93" fill="#8fafd9" />
<rect x="54.6" y="286.78" width="8.6" height="3.93" fill="#c0352f" />
<rect x="62.8" y="286.78" width="8.6" height="3.93" fill="#e47547" />
<rect x="71" y="286.78" width="8.2" height="3.93" fill="#f7bb70" />
<rect x="30" y="290.31" width="8.6" height="3.93" fill="#7598cf" />
<rect x="38.2" y="290.31" width="8.6" height="3.93" fill="#9abade" />
<rect x="46.4" y="290.31" width="8.6" height="3.93" fill="#7699cf" />
<rect x="54.6" y="290.31" width="8.6" height="3.93" fill="#e9824e" />
<rect x="62.8" y="290.31" width="8.6" height="3.93" fill="#eb8851" />
<rect x="71" y="290.31" width="8.2" height="3.93" fill="#eb8750" />
<rect x="30" y="293.85" width="8.6" height="3.93" fill="#6e91cb" />
<rect x="38.2" y="293.85" width="8.6" height="3.93" fill="#a3c2e1" />
<rect x="46.4" y="293.85" width="8.6" height="3.93" fill="#95b5dc" />
<rect x="54.6" y="293.85" width="8.6" height="3.93" fill="#ec8c53" />
<rect x="62.8" y="293.85" width="8.6" height="3.93" fill="#ee9156" />
<rect x="71" y="293.85" width="8.2" height="3.93" fill="#e77e4c" />
<rect x="30" y="297.38" width="8.6" height="3.93" fill="#91b1da" />
<rect x="38.2" y="297.38" width="8.6" height="3.93" fill="#6d90cb" />
<rect x="46.4" y="297.38" width="8.6" height="3.93" fill="#7a9dd1" />
<rect x="54.6" y="297.38" width="8.6" height="3.93" fill="#ec8b53" />
<rect x="62.8" y="297.38" width="8.6" height="3.93" fill="#f09b5c" />
<rect x="71" y="297.38" width="8.2" height="3.93" fill="#e57849" />
<rect x="30" y="300.91" width="8.6" height="3.93" fill="#7c9ed2" />
<rect x="38.2" y="300.91" width="8.6" height="3.93" fill="#7d9fd3" />
<rect x="46.4" y="300.91" width="8.6" height="3.93" fill="#7497cf" />
<rect x="54.6" y="300.91" width="8.6" height="3.93" fill="#e77c4b" />
<rect x="62.8" y="300.91" width="8.6" height="3.93" fill="#ec8a52" />
<rect x="71" y="300.91" width="8.2" height="3.93" fill="#ea844f" />
<rect x="30" y="304.44" width="8.6" height="3.93" fill="#7093cd" />
<rect x="38.2" y="304.44" width="8.6" height="3.93" fill="#6f92cc" />
<rect x="46.4" y="304.44" width="8.6" height="3.93" fill="#90b0da" />
<rect x="54.6" y="304.44" width="8.6" height="3.93" fill="#ec8952" />
<rect x="62.8" y="304.44" width="8.6" height="3.93" fill="#e87e4c" />
<rect x="71" y="304.44" width="8.2" height="3.93" fill="#e9834e" />
<rect x="30" y="307.98" width="8.6" height="3.93" fill="#789ad0" />
<rect x="38.2" y="307.98" width="8.6" height="3.93" fill="#779ad0" />
<rect x="46.4" y="307.98" width="8.6" height="3.93" fill="#85a6d6" />
<rect x="54.6" y="307.98" width="8.6" height="3.93" fill="#eb8750" />
<rect x="62.8" y="307.98" width="8.6" height="3.93" fill="#ea844f" />
<rect x="71" y="307.98" width="8.2" height="3.93" fill="#e9824e" />
<rect x="30" y="311.51" width="8.6" height="3.93" fill="#8daed9" />
<rect x="38.2" y="311.51" width="8.6" height="3.93" fill="#85a7d6" />
<rect x="46.4" y="311.51" width="8.6" height="3.93" fill="#81a3d4" />
<rect x="54.6" y="311.51" width="8.6" height="3.93" fill="#ec8a52" />
<rect x="62.8" y="311.51" width="8.6" height="3.93" fill="#ef9659" />
<rect x="71" y="311.51" width="8.2" height="3.93" fill="#e47547" />
<rect x="30" y="315.04" width="8.6" height="3.93" fill="#8aabd8" />
<rect x="38.2" y="315.04" width="8.6" height="3.93" fill="#7b9dd2" />
<rect x="46.4" y="315.04" width="8.6" height="3.93" fill="#83a5d5" />
<rect x="54.6" y="315.04" width="8.6" height="3.93" fill="#e57848" />
<rect x="62.8" y="315.04" width="8.6" height="3.93" fill="#e57748" />
<rect x="71" y="315.04" width="8.2" height="3.93" fill="#e57647" />
<rect x="30" y="318.57" width="8.6" height="3.93" fill="#779ad0" />
<rect x="38.2" y="318.57" width="8.6" height="3.93" fill="#93b3db" />
<rect x="46.4" y="318.57" width="8.6" height="3.93" fill="#6f92cc" />
<rect x="54.6" y="318.57" width="8.6" height="3.93" fill="#e57748" />
<rect x="62.8" y="318.57" width="8.6" height="3.93" fill="#e77c4a" />
<rect x="71" y="318.57" width="8.2" height="3.93" fill="#e57648" />
<rect x="30" y="322.11" width="8.6" height="3.93" fill="#98b8dd" />
<rect x="38.2" y="322.11" width="8.6" height="3.93" fill="#92b3db" />
<rect x="46.4" y="322.11" width="8.6" height="3.93" fill="#7093cd" />
<rect x="54.6" y="322.11" width="8.6" height="3.93" fill="#f09a5b" />
<rect x="62.8" y="322.11" width="8.6" height="3.93" fill="#e57748" />
<rect x="71" y="322.11" width="8.2" height="3.93" fill="#ee9156" />
<rect x="30" y="325.64" width="8.6" height="3.93" fill="#7c9fd2" />
<rect x="38.2" y="325.64" width="8.6" height="3.93" fill="#88a9d7" />
<rect x="46.4" y="325.64" width="8.6" height="3.93" fill="#6b8eca" />
<rect x="54.6" y="325.64" width="8.6" height="3.93" fill="#f2a05e" />
<rect x="62.8" y="325.64" width="8.6" height="3.93" fill="#e87f4c" />
<rect x="71" y="325.64" width="8.2" height="3.93" fill="#e9824e" />
<rect x="30" y="329.17" width="8.6" height="3.93" fill="#7a9cd1" />
<rect x="38.2" y="329.17" width="8.6" height="3.93" fill="#7d9fd3" />
<rect x="46.4" y="329.17" width="8.6" height="3.93" fill="#7396ce" />
<rect x="54.6" y="329.17" width="8.6" height="3.93" fill="#ef985a" />
<rect x="62.8" y="329.17" width="8.6" height="3.93" fill="#ea854f" />
<rect x="71" y="329.17" width="8.2" height="3.93" fill="#ed9055" />
<rect x="30" y="332.7" width="8.6" height="3.93" fill="#6b8eca" />
<rect x="38.2" y="332.7" width="8.6" height="3.93" fill="#83a4d5" />
<rect x="46.4" y="332.7" width="8.6" height="3.93" fill="#7c9ed2" />
<rect x="54.6" y="332.7" width="8.6" height="3.93" fill="#e77d4b" />
<rect x="62.8" y="332.7" width="8.6" height="3.93" fill="#ee9055" />
<rect x="71" y="332.7" width="8.2" height="3.93" fill="#ec8b53" />
<rect x="30" y="336.24" width="8.6" height="3.93" fill="#7295cd" />
<rect x="38.2" y="336.24" width="8.6" height="3.93" fill="#7396ce" />
<rect x="46.4" y="336.24" width="8.6" height="3.93" fill="#7fa1d3" />
<rect x="54.6" y="336.24" width="8.6" height="3.93" fill="#ed8d54" />
<rect x="62.8" y="336.24" width="8.6" height="3.93" fill="#e77e4b" />
<rect x="71" y="336.24" width="8.2" height="3.93" fill="#e77e4c" />
<rect x="30" y="339.77" width="8.6" height="3.53" fill="#9bbade" />
<rect x="38.2" y="339.77" width="8.6" height="3.53" fill="#6d91cb" />
<rect x="46.4" y="339.77" width="8.6" height="3.53" fill="#89aad7" />
<rect x="54.6" y="339.77" width="8.6" height="3.53" fill="#ea844f" />
<rect x="62.8" y="339.77" width="8.6" height="3.53" fill="#e9834e" />
<rect x="71" y="339.77" width="8.2" height="3.53" fill="#ef9759" />
<line x1="29.7" y1="202" x2="29.7" y2="343.8" stroke="#000" stroke-width="1" />
<line x1="29.5" y1="344.2" x2="53.9" y2="344.2" stroke="#111" stroke-width="1.2" />
<line x1="55.4" y1="344.2" x2="78.9" y2="344.2" stroke="#111" stroke-width="1.2" />
<text x="83.2" y="204.92" font-size="3.3" fill="#444">HMGB2</text>
<text x="83.2" y="208.45" font-size="3.3" fill="#444">CXCR4</text>
<text x="83.2" y="211.98" font-size="3.3" fill="#444">CD27</text>
<text x="83.2" y="215.51" font-size="3.3" fill="#444">XBP1</text>
<text x="83.2" y="219.05" font-size="3.3" fill="#444">ETS1</text>
<text x="83.2" y="222.58" font-size="3.3" fill="#444">MEF2B</text>
<text x="83.2" y="226.11" font-size="3.3" fill="#444">BCL6</text>
<text x="83.2" y="229.64" font-size="3.3" fill="#444">CD38</text>
<text x="83.2" y="233.18" font-size="3.3" fill="#444">RRM2B</text>
<text x="83.2" y="236.71" font-size="3.3" fill="#444">FYN</text>
<text x="83.2" y="240.24" font-size="3.3" fill="#444">GADD45A</text>
<text x="83.2" y="243.77" font-size="3.3" fill="#444">AICDA</text>
<text x="83.2" y="247.31" font-size="3.3" fill="#444">CEBPG</text>
<text x="83.2" y="250.84" font-size="3.3" fill="#444">BCOR</text>
<text x="83.2" y="254.37" font-size="3.3" fill="#444">ADAM17</text>
<text x="83.2" y="257.9" font-size="3.3" fill="#444">FOXO1</text>
<text x="83.2" y="261.44" font-size="3.3" fill="#444">SMAD5</text>
<text x="83.2" y="264.97" font-size="3.3" fill="#444">BCORL1</text>
<text x="83.2" y="268.5" font-size="3.3" fill="#444">BACH1</text>
<text x="83.2" y="272.03" font-size="3.3" fill="#444">TSC1</text>
<text x="83.2" y="275.57" font-size="3.3" fill="#444">PRDM1</text>
<text x="83.2" y="279.1" font-size="3.3" fill="#444">IRF4</text>
<text x="83.2" y="282.63" font-size="3.3" fill="#444">CD274</text>
<text x="83.2" y="286.16" font-size="3.3" fill="#444">DOT1L</text>
<text x="83.2" y="289.7" font-size="3.3" fill="#444">FANCA</text>
<text x="83.2" y="293.23" font-size="3.3" fill="#444">SPI1</text>
<text x="83.2" y="296.76" font-size="3.3" fill="#444">BCL2</text>
<text x="83.2" y="300.29" font-size="3.3" fill="#444">GPR183</text>
<text x="83.2" y="303.83" font-size="3.3" fill="#444">CXCR5</text>
<text x="83.2" y="307.36" font-size="3.3" fill="#444">CD80</text>
<text x="83.2" y="310.89" font-size="3.3" fill="#444">NFKBIB</text>
<text x="83.2" y="314.42" font-size="3.3" fill="#444">NFKB1</text>
<text x="83.2" y="317.96" font-size="3.3" fill="#444">IKZF1</text>
<text x="83.2" y="321.49" font-size="3.3" fill="#444">NFKB2</text>
<text x="83.2" y="325.02" font-size="3.3" fill="#444">SPIB</text>
<text x="83.2" y="328.55" font-size="3.3" fill="#444">BCL2L1</text>
<text x="83.2" y="332.09" font-size="3.3" fill="#444">NFKBIA</text>
<text x="83.2" y="335.62" font-size="3.3" fill="#444">CD86</text>
<text x="83.2" y="339.15" font-size="3.3" fill="#444">BCL2A1</text>
<text x="83.2" y="342.68" font-size="3.3" fill="#444">EBI3</text>
<text x="24.2" y="273" font-size="8.6" text-anchor="middle" textLength="92" lengthAdjust="spacingAndGlyphs" transform="rotate(-90 24.2 273)">GC related genes (40 genes)</text>
<text x="45.6" y="350.6" font-size="6.4" text-anchor="end" fill="#222" textLength="23.5" lengthAdjust="spacingAndGlyphs" transform="rotate(-45 45.6 350.6)">SHC002</text>
<text x="70.6" y="350.6" font-size="6.4" text-anchor="end" fill="#222" textLength="43.5" lengthAdjust="spacingAndGlyphs" transform="rotate(-45 70.6 350.6)">Pou2af1-shRNA</text>
<defs><linearGradient id="cb" x1="0" y1="0" x2="0" y2="1"><stop offset="0.000" stop-color="#b6262a"/><stop offset="0.050" stop-color="#c0362f"/><stop offset="0.100" stop-color="#ce4c36"/><stop offset="0.150" stop-color="#dc623d"/><stop offset="0.200" stop-color="#e57748"/><stop offset="0.250" stop-color="#ed8d54"/><stop offset="0.300" stop-color="#f2a360"/><stop offset="0.350" stop-color="#f7bb70"/><stop offset="0.400" stop-color="#fbd485"/><stop offset="0.450" stop-color="#fee99f"/><stop offset="0.500" stop-color="#fffbbb"/><stop offset="0.550" stop-color="#eef5d7"/><stop offset="0.600" stop-color="#d9e9f2"/><stop offset="0.650" stop-color="#bed7ea"/><stop offset="0.700" stop-color="#a5c3e1"/><stop offset="0.750" stop-color="#8cadd8"/><stop offset="0.800" stop-color="#779ad0"/><stop offset="0.850" stop-color="#668ac8"/><stop offset="0.900" stop-color="#5779bc"/><stop offset="0.950" stop-color="#4967ae"/><stop offset="1.000" stop-color="#3b55a1"/></linearGradient></defs>
<rect x="110.8" y="285.8" width="5.4" height="38.4" fill="url(#cb)" stroke="#9a9a9a" stroke-width="0.8" />
<text x="119.4" y="294.3" font-size="6.6" fill="#222">1</text>
<text x="119.4" y="301.05" font-size="6.6" fill="#222">0.5</text>
<text x="119.4" y="307.8" font-size="6.6" fill="#222">0</text>
<text x="119.4" y="314.55" font-size="6.6" fill="#222">-0.5</text>
<text x="119.4" y="321.3" font-size="6.6" fill="#222">-1</text>
<defs><linearGradient id="gsbar" x1="0" y1="0" x2="1" y2="0"><stop offset="0" stop-color="#c22e2e"/><stop offset="0.122" stop-color="#d44646"/><stop offset="0.365" stop-color="#e07078"/><stop offset="0.375" stop-color="#e4a6d4"/><stop offset="0.495" stop-color="#e8b4e0"/><stop offset="0.505" stop-color="#cfcaf2"/><stop offset="0.705" stop-color="#c2c0f2"/><stop offset="0.715" stop-color="#7a78ea"/><stop offset="0.795" stop-color="#6c6aea"/><stop offset="0.805" stop-color="#4a44dc"/><stop offset="0.935" stop-color="#3a32d8"/><stop offset="0.945" stop-color="#1a12c0"/><stop offset="1" stop-color="#0c06a8"/></linearGradient><linearGradient id="gsbarH" x1="0" y1="0" x2="1" y2="0"><stop offset="0" stop-color="#c22e2e"/><stop offset="0.104" stop-color="#d44646"/><stop offset="0.310" stop-color="#e07078"/><stop offset="0.320" stop-color="#e4a6d4"/><stop offset="0.450" stop-color="#e8b4e0"/><stop offset="0.460" stop-color="#cfcaf2"/><stop offset="0.680" stop-color="#c2c0f2"/><stop offset="0.690" stop-color="#7a78ea"/><stop offset="0.775" stop-color="#6c6aea"/><stop offset="0.785" stop-color="#4a44dc"/><stop offset="0.960" stop-color="#3a32d8"/><stop offset="0.970" stop-color="#1a12c0"/><stop offset="1" stop-color="#0c06a8"/></linearGradient></defs>
<text x="146.4" y="198.2" font-size="14.5" font-weight="bold">C</text>
<text x="183.8" y="207.6" font-size="7.35" fill="#111" textLength="54.5" lengthAdjust="spacingAndGlyphs">Enrichment plot:</text>
<text x="183.8" y="215.9" font-size="7.35" fill="#111" textLength="108.3" lengthAdjust="spacingAndGlyphs">PC-2: PLASMA_CELL_GT_B_CELL</text>
<line x1="183.8" y1="224.68" x2="290.2" y2="224.68" stroke="#f2f2f2" stroke-width="0.5" />
<text x="180.1" y="226.48" font-size="5.3" text-anchor="end" fill="#222">0.4</text>
<line x1="183.8" y1="233.71" x2="290.2" y2="233.71" stroke="#f2f2f2" stroke-width="0.5" />
<text x="180.1" y="235.51" font-size="5.3" text-anchor="end" fill="#222">0.3</text>
<line x1="183.8" y1="242.74" x2="290.2" y2="242.74" stroke="#f2f2f2" stroke-width="0.5" />
<text x="180.1" y="244.54" font-size="5.3" text-anchor="end" fill="#222">0.2</text>
<line x1="183.8" y1="251.77" x2="290.2" y2="251.77" stroke="#f2f2f2" stroke-width="0.5" />
<text x="180.1" y="253.57" font-size="5.3" text-anchor="end" fill="#222">0.1</text>
<text x="180.1" y="262.6" font-size="5.3" text-anchor="end" fill="#222">0.0</text>
<line x1="203.5" y1="222.4" x2="203.5" y2="264.6" stroke="#f2f2f2" stroke-width="0.5" />
<line x1="203.5" y1="283.9" x2="203.5" y2="312.4" stroke="#f2f2f2" stroke-width="0.5" />
<line x1="222.8" y1="222.4" x2="222.8" y2="264.6" stroke="#f2f2f2" stroke-width="0.5" />
<line x1="222.8" y1="283.9" x2="222.8" y2="312.4" stroke="#f2f2f2" stroke-width="0.5" />
<line x1="242.1" y1="222.4" x2="242.1" y2="264.6" stroke="#f2f2f2" stroke-width="0.5" />
<line x1="242.1" y1="283.9" x2="242.1" y2="312.4" stroke="#f2f2f2" stroke-width="0.5" />
<line x1="261.4" y1="222.4" x2="261.4" y2="264.6" stroke="#f2f2f2" stroke-width="0.5" />
<line x1="261.4" y1="283.9" x2="261.4" y2="312.4" stroke="#f2f2f2" stroke-width="0.5" />
<line x1="280.7" y1="222.4" x2="280.7" y2="264.6" stroke="#f2f2f2" stroke-width="0.5" />
<line x1="280.7" y1="283.9" x2="280.7" y2="312.4" stroke="#f2f2f2" stroke-width="0.5" />
<line x1="183.4" y1="260.8" x2="290.8" y2="260.8" stroke="#a8a8a8" stroke-width="0.7" />
<line x1="183.4" y1="264.6" x2="290.8" y2="264.6" stroke="#c8c8c8" stroke-width="0.6" />
<polyline points="184.3,260.8 185.2,256.29 186.5,251.77 188.5,249.96 190.5,249.06 192,244.55 193.5,239.13 195.5,234.61 197.5,231 199.5,227.39 201.5,224.68 203,224.23 204.5,226.03 206,224.68 208,223.6 212,223.51 215,224.23 219,226.03 224,229.65 229,233.71 234,237.77 239,241.84 244,245.9 249,249.51 253,252.67 256,254.03 259,255.38 263,256.74 267,258.54 271,259.72 274,260.44 277,261.52 279,262.15 280.5,261.25 282,262.15 283.5,260.98 285.3,260.35" fill="none" stroke="#8cf04c" stroke-width="1.25" stroke-linejoin="round" />
<text x="252.9" y="233.2" font-size="6" fill="#111" textLength="26" lengthAdjust="spacingAndGlyphs">NES: 1.27</text>
<text x="252.9" y="240.1" font-size="6" fill="#111" textLength="28.6" lengthAdjust="spacingAndGlyphs">FDR: 0.134</text>
<defs><linearGradient id="rbg183" x1="0" y1="0" x2="1" y2="0"><stop offset="0.000" stop-color="#b0b0b0"/><stop offset="0.500" stop-color="#c8c8c8"/><stop offset="1.000" stop-color="#d8d8d8"/></linearGradient></defs>
<rect x="184.3" y="265.8" width="101.1" height="13.8" fill="url(#rbg183)" />
<line x1="197.3" y1="265.8" x2="197.3" y2="279.6" stroke="#727272" stroke-width="0.75"/>
<line x1="187.2" y1="265.8" x2="187.2" y2="279.6" stroke="#b0b0b0" stroke-width="0.75"/>
<line x1="191.42" y1="265.8" x2="191.42" y2="279.6" stroke="#b4b4b4" stroke-width="0.75"/>
<line x1="247.17" y1="265.8" x2="247.17" y2="279.6" stroke="#616161" stroke-width="0.75"/>
<line x1="251.31" y1="265.8" x2="251.31" y2="279.6" stroke="#1a1a1a" stroke-width="0.75"/>
<line x1="204.98" y1="265.8" x2="204.98" y2="279.6" stroke="#5b5b5b" stroke-width="0.75"/>
<line x1="220.02" y1="265.8" x2="220.02" y2="279.6" stroke="#2c2c2c" stroke-width="0.75"/>
<line x1="197.32" y1="265.8" x2="197.32" y2="279.6" stroke="#343434" stroke-width="0.75"/>
<line x1="192.7" y1="265.8" x2="192.7" y2="279.6" stroke="#515151" stroke-width="0.75"/>
<line x1="199.23" y1="265.8" x2="199.23" y2="279.6" stroke="#262626" stroke-width="0.75"/>
<line x1="275.43" y1="265.8" x2="275.43" y2="279.6" stroke="#060606" stroke-width="0.75"/>
<line x1="204.6" y1="265.8" x2="204.6" y2="279.6" stroke="#595959" stroke-width="0.75"/>
<line x1="218.61" y1="265.8" x2="218.61" y2="279.6" stroke="#1e1e1e" stroke-width="0.75"/>
<line x1="285.04" y1="265.8" x2="285.04" y2="279.6" stroke="#838383" stroke-width="0.75"/>
<line x1="189.83" y1="265.8" x2="189.83" y2="279.6" stroke="#a0a0a0" stroke-width="0.75"/>
<line x1="243.73" y1="265.8" x2="243.73" y2="279.6" stroke="#3c3c3c" stroke-width="0.75"/>
<line x1="193.32" y1="265.8" x2="193.32" y2="279.6" stroke="#040404" stroke-width="0.75"/>
<line x1="269.14" y1="265.8" x2="269.14" y2="279.6" stroke="#181818" stroke-width="0.75"/>
<line x1="259.04" y1="265.8" x2="259.04" y2="279.6" stroke="#0b0b0b" stroke-width="0.75"/>
<line x1="187.02" y1="265.8" x2="187.02" y2="279.6" stroke="#242424" stroke-width="0.75"/>
<line x1="193.69" y1="265.8" x2="193.69" y2="279.6" stroke="#373737" stroke-width="0.75"/>
<line x1="257.81" y1="265.8" x2="257.81" y2="279.6" stroke="#a2a2a2" stroke-width="0.75"/>
<line x1="206.26" y1="265.8" x2="206.26" y2="279.6" stroke="#313131" stroke-width="0.75"/>
<line x1="218.74" y1="265.8" x2="218.74" y2="279.6" stroke="#3b3b3b" stroke-width="0.75"/>
<line x1="259.77" y1="265.8" x2="259.77" y2="279.6" stroke="#0c0c0c" stroke-width="0.75"/>
<line x1="225.15" y1="265.8" x2="225.15" y2="279.6" stroke="#a0a0a0" stroke-width="0.75"/>
<line x1="259.3" y1="265.8" x2="259.3" y2="279.6" stroke="#7d7d7d" stroke-width="0.75"/>
<line x1="278.07" y1="265.8" x2="278.07" y2="279.6" stroke="#767676" stroke-width="0.75"/>
<line x1="198.82" y1="265.8" x2="198.82" y2="279.6" stroke="#959595" stroke-width="0.75"/>
<line x1="187.88" y1="265.8" x2="187.88" y2="279.6" stroke="#1e1e1e" stroke-width="0.75"/>
<line x1="285.28" y1="265.8" x2="285.28" y2="279.6" stroke="#2e2e2e" stroke-width="0.75"/>
<line x1="220.41" y1="265.8" x2="220.41" y2="279.6" stroke="#a5a5a5" stroke-width="0.75"/>
<line x1="248.64" y1="265.8" x2="248.64" y2="279.6" stroke="#5e5e5e" stroke-width="0.75"/>
<line x1="192.25" y1="265.8" x2="192.25" y2="279.6" stroke="#2c2c2c" stroke-width="0.75"/>
<line x1="188.21" y1="265.8" x2="188.21" y2="279.6" stroke="#696969" stroke-width="0.75"/>
<line x1="248.7" y1="265.8" x2="248.7" y2="279.6" stroke="#7a7a7a" stroke-width="0.75"/>
<line x1="219.89" y1="265.8" x2="219.89" y2="279.6" stroke="#3b3b3b" stroke-width="0.75"/>
<line x1="195.99" y1="265.8" x2="195.99" y2="279.6" stroke="#6a6a6a" stroke-width="0.75"/>
<line x1="255.09" y1="265.8" x2="255.09" y2="279.6" stroke="#999999" stroke-width="0.75"/>
<line x1="253.39" y1="265.8" x2="253.39" y2="279.6" stroke="#585858" stroke-width="0.75"/>
<line x1="189.29" y1="265.8" x2="189.29" y2="279.6" stroke="#888888" stroke-width="0.75"/>
<line x1="211.32" y1="265.8" x2="211.32" y2="279.6" stroke="#2f2f2f" stroke-width="0.75"/>
<line x1="198.24" y1="265.8" x2="198.24" y2="279.6" stroke="#5e5e5e" stroke-width="0.75"/>
<line x1="213.2" y1="265.8" x2="213.2" y2="279.6" stroke="#727272" stroke-width="0.75"/>
<line x1="208.55" y1="265.8" x2="208.55" y2="279.6" stroke="#434343" stroke-width="0.75"/>
<line x1="258.58" y1="265.8" x2="258.58" y2="279.6" stroke="#979797" stroke-width="0.75"/>
<line x1="226.27" y1="265.8" x2="226.27" y2="279.6" stroke="#7f7f7f" stroke-width="0.75"/>
<line x1="236.71" y1="265.8" x2="236.71" y2="279.6" stroke="#bababa" stroke-width="0.75"/>
<line x1="194.01" y1="265.8" x2="194.01" y2="279.6" stroke="#686868" stroke-width="0.75"/>
<line x1="187.2" y1="265.8" x2="187.2" y2="279.6" stroke="#979797" stroke-width="0.75"/>
<line x1="214.51" y1="265.8" x2="214.51" y2="279.6" stroke="#404040" stroke-width="0.75"/>
<line x1="260.11" y1="265.8" x2="260.11" y2="279.6" stroke="#1d1d1d" stroke-width="0.75"/>
<line x1="259.59" y1="265.8" x2="259.59" y2="279.6" stroke="#949494" stroke-width="0.75"/>
<line x1="229.58" y1="265.8" x2="229.58" y2="279.6" stroke="#0b0b0b" stroke-width="0.75"/>
<line x1="195.25" y1="265.8" x2="195.25" y2="279.6" stroke="#464646" stroke-width="0.75"/>
<line x1="193.5" y1="265.8" x2="193.5" y2="279.6" stroke="#565656" stroke-width="0.75"/>
<line x1="198.23" y1="265.8" x2="198.23" y2="279.6" stroke="#4e4e4e" stroke-width="0.75"/>
<line x1="237.71" y1="265.8" x2="237.71" y2="279.6" stroke="#191919" stroke-width="0.75"/>
<line x1="201.61" y1="265.8" x2="201.61" y2="279.6" stroke="#0c0c0c" stroke-width="0.75"/>
<line x1="188.77" y1="265.8" x2="188.77" y2="279.6" stroke="#656565" stroke-width="0.75"/>
<line x1="196.45" y1="265.8" x2="196.45" y2="279.6" stroke="#272727" stroke-width="0.75"/>
<line x1="256.5" y1="265.8" x2="256.5" y2="279.6" stroke="#363636" stroke-width="0.75"/>
<line x1="210.12" y1="265.8" x2="210.12" y2="279.6" stroke="#919191" stroke-width="0.75"/>
<line x1="228.4" y1="265.8" x2="228.4" y2="279.6" stroke="#8c8c8c" stroke-width="0.75"/>
<line x1="282.44" y1="265.8" x2="282.44" y2="279.6" stroke="#1e1e1e" stroke-width="0.75"/>
<line x1="220.93" y1="265.8" x2="220.93" y2="279.6" stroke="#0d0d0d" stroke-width="0.75"/>
<line x1="189.71" y1="265.8" x2="189.71" y2="279.6" stroke="#494949" stroke-width="0.75"/>
<line x1="187.25" y1="265.8" x2="187.25" y2="279.6" stroke="#555555" stroke-width="0.75"/>
<line x1="278.23" y1="265.8" x2="278.23" y2="279.6" stroke="#8d8d8d" stroke-width="0.75"/>
<line x1="221.24" y1="265.8" x2="221.24" y2="279.6" stroke="#6d6d6d" stroke-width="0.75"/>
<line x1="193.04" y1="265.8" x2="193.04" y2="279.6" stroke="#999999" stroke-width="0.75"/>
<line x1="276.85" y1="265.8" x2="276.85" y2="279.6" stroke="#161616" stroke-width="0.75"/>
<line x1="282.13" y1="265.8" x2="282.13" y2="279.6" stroke="#7f7f7f" stroke-width="0.75"/>
<line x1="222.04" y1="265.8" x2="222.04" y2="279.6" stroke="#373737" stroke-width="0.75"/>
<line x1="257.16" y1="265.8" x2="257.16" y2="279.6" stroke="#838383" stroke-width="0.75"/>
<line x1="235.07" y1="265.8" x2="235.07" y2="279.6" stroke="#b7b7b7" stroke-width="0.75"/>
<line x1="201.09" y1="265.8" x2="201.09" y2="279.6" stroke="#1e1e1e" stroke-width="0.75"/>
<line x1="279.08" y1="265.8" x2="279.08" y2="279.6" stroke="#3f3f3f" stroke-width="0.75"/>
<line x1="201.32" y1="265.8" x2="201.32" y2="279.6" stroke="#4b4b4b" stroke-width="0.75"/>
<line x1="197.16" y1="265.8" x2="197.16" y2="279.6" stroke="#4a4a4a" stroke-width="0.75"/>
<line x1="243.26" y1="265.8" x2="243.26" y2="279.6" stroke="#ababab" stroke-width="0.75"/>
<line x1="265.15" y1="265.8" x2="265.15" y2="279.6" stroke="#636363" stroke-width="0.75"/>
<line x1="224.47" y1="265.8" x2="224.47" y2="279.6" stroke="#070707" stroke-width="0.75"/>
<line x1="265.06" y1="265.8" x2="265.06" y2="279.6" stroke="#050505" stroke-width="0.75"/>
<line x1="231.46" y1="265.8" x2="231.46" y2="279.6" stroke="#525252" stroke-width="0.75"/>
<line x1="221.11" y1="265.8" x2="221.11" y2="279.6" stroke="#1e1e1e" stroke-width="0.75"/>
<line x1="185.45" y1="265.8" x2="185.45" y2="279.6" stroke="#646464" stroke-width="0.75"/>
<line x1="271.83" y1="265.8" x2="271.83" y2="279.6" stroke="#959595" stroke-width="0.75"/>
<line x1="186.11" y1="265.8" x2="186.11" y2="279.6" stroke="#717171" stroke-width="0.75"/>
<line x1="207.17" y1="265.8" x2="207.17" y2="279.6" stroke="#181818" stroke-width="0.75"/>
<line x1="222.19" y1="265.8" x2="222.19" y2="279.6" stroke="#6b6b6b" stroke-width="0.75"/>
<line x1="274.04" y1="265.8" x2="274.04" y2="279.6" stroke="#222222" stroke-width="0.75"/>
<line x1="242.74" y1="265.8" x2="242.74" y2="279.6" stroke="#494949" stroke-width="0.75"/>
<line x1="216.37" y1="265.8" x2="216.37" y2="279.6" stroke="#090909" stroke-width="0.75"/>
<line x1="240.33" y1="265.8" x2="240.33" y2="279.6" stroke="#8e8e8e" stroke-width="0.75"/>
<line x1="281.1" y1="265.8" x2="281.1" y2="279.6" stroke="#7c7c7c" stroke-width="0.75"/>
<line x1="228.99" y1="265.8" x2="228.99" y2="279.6" stroke="#a8a8a8" stroke-width="0.75"/>
<line x1="197.25" y1="265.8" x2="197.25" y2="279.6" stroke="#252525" stroke-width="0.75"/>
<line x1="225.97" y1="265.8" x2="225.97" y2="279.6" stroke="#535353" stroke-width="0.75"/>
<line x1="191.44" y1="265.8" x2="191.44" y2="279.6" stroke="#090909" stroke-width="0.75"/>
<line x1="209.44" y1="265.8" x2="209.44" y2="279.6" stroke="#818181" stroke-width="0.75"/>
<line x1="225.27" y1="265.8" x2="225.27" y2="279.6" stroke="#9d9d9d" stroke-width="0.75"/>
<line x1="212.08" y1="265.8" x2="212.08" y2="279.6" stroke="#2e2e2e" stroke-width="0.75"/>
<line x1="186.44" y1="265.8" x2="186.44" y2="279.6" stroke="#171717" stroke-width="0.75"/>
<line x1="282.77" y1="265.8" x2="282.77" y2="279.6" stroke="#3a3a3a" stroke-width="0.75"/>
<line x1="243.46" y1="265.8" x2="243.46" y2="279.6" stroke="#484848" stroke-width="0.75"/>
<line x1="194.84" y1="265.8" x2="194.84" y2="279.6" stroke="#040404" stroke-width="0.75"/>
<line x1="206.94" y1="265.8" x2="206.94" y2="279.6" stroke="#353535" stroke-width="0.75"/>
<line x1="211.69" y1="265.8" x2="211.69" y2="279.6" stroke="#a7a7a7" stroke-width="0.75"/>
<line x1="214.21" y1="265.8" x2="214.21" y2="279.6" stroke="#878787" stroke-width="0.75"/>
<line x1="202.4" y1="265.8" x2="202.4" y2="279.6" stroke="#909090" stroke-width="0.75"/>
<line x1="263.14" y1="265.8" x2="263.14" y2="279.6" stroke="#191919" stroke-width="0.75"/>
<line x1="242.57" y1="265.8" x2="242.57" y2="279.6" stroke="#494949" stroke-width="0.75"/>
<line x1="219.01" y1="265.8" x2="219.01" y2="279.6" stroke="#5b5b5b" stroke-width="0.75"/>
<line x1="269.96" y1="265.8" x2="269.96" y2="279.6" stroke="#464646" stroke-width="0.75"/>
<line x1="278" y1="265.8" x2="278" y2="279.6" stroke="#989898" stroke-width="0.75"/>
<line x1="193.68" y1="265.8" x2="193.68" y2="279.6" stroke="#626262" stroke-width="0.75"/>
<line x1="199.73" y1="265.8" x2="199.73" y2="279.6" stroke="#777777" stroke-width="0.75"/>
<line x1="199.62" y1="265.8" x2="199.62" y2="279.6" stroke="#696969" stroke-width="0.75"/>
<line x1="281.53" y1="265.8" x2="281.53" y2="279.6" stroke="#636363" stroke-width="0.75"/>
<line x1="217" y1="265.8" x2="217" y2="279.6" stroke="#737373" stroke-width="0.75"/>
<line x1="236.11" y1="265.8" x2="236.11" y2="279.6" stroke="#5f5f5f" stroke-width="0.75"/>
<line x1="230.96" y1="265.8" x2="230.96" y2="279.6" stroke="#313131" stroke-width="0.75"/>
<line x1="209.96" y1="265.8" x2="209.96" y2="279.6" stroke="#3b3b3b" stroke-width="0.75"/>
<line x1="272.09" y1="265.8" x2="272.09" y2="279.6" stroke="#bababa" stroke-width="0.75"/>
<line x1="200.89" y1="265.8" x2="200.89" y2="279.6" stroke="#929292" stroke-width="0.75"/>
<line x1="241.73" y1="265.8" x2="241.73" y2="279.6" stroke="#898989" stroke-width="0.75"/>
<line x1="229.63" y1="265.8" x2="229.63" y2="279.6" stroke="#2b2b2b" stroke-width="0.75"/>
<line x1="186.46" y1="265.8" x2="186.46" y2="279.6" stroke="#5a5a5a" stroke-width="0.75"/>
<line x1="275.85" y1="265.8" x2="275.85" y2="279.6" stroke="#9b9b9b" stroke-width="0.75"/>
<line x1="281.8" y1="265.8" x2="281.8" y2="279.6" stroke="#1f1f1f" stroke-width="0.75"/>
<line x1="207.38" y1="265.8" x2="207.38" y2="279.6" stroke="#151515" stroke-width="0.75"/>
<line x1="199.53" y1="265.8" x2="199.53" y2="279.6" stroke="#b1b1b1" stroke-width="0.75"/>
<line x1="220.81" y1="265.8" x2="220.81" y2="279.6" stroke="#565656" stroke-width="0.75"/>
<line x1="223.02" y1="265.8" x2="223.02" y2="279.6" stroke="#121212" stroke-width="0.75"/>
<line x1="213.16" y1="265.8" x2="213.16" y2="279.6" stroke="#3a3a3a" stroke-width="0.75"/>
<line x1="217.1" y1="265.8" x2="217.1" y2="279.6" stroke="#3f3f3f" stroke-width="0.75"/>
<line x1="185.53" y1="265.8" x2="185.53" y2="279.6" stroke="#0a0a0a" stroke-width="0.75"/>
<line x1="206.34" y1="265.8" x2="206.34" y2="279.6" stroke="#2e2e2e" stroke-width="0.75"/>
<line x1="236.76" y1="265.8" x2="236.76" y2="279.6" stroke="#979797" stroke-width="0.75"/>
<line x1="209.38" y1="265.8" x2="209.38" y2="279.6" stroke="#080808" stroke-width="0.75"/>
<line x1="213.4" y1="265.8" x2="213.4" y2="279.6" stroke="#ababab" stroke-width="0.75"/>
<line x1="275.51" y1="265.8" x2="275.51" y2="279.6" stroke="#bababa" stroke-width="0.75"/>
<line x1="229.65" y1="265.8" x2="229.65" y2="279.6" stroke="#646464" stroke-width="0.75"/>
<line x1="244.32" y1="265.8" x2="244.32" y2="279.6" stroke="#7f7f7f" stroke-width="0.75"/>
<line x1="188.49" y1="265.8" x2="188.49" y2="279.6" stroke="#afafaf" stroke-width="0.75"/>
<line x1="198.48" y1="265.8" x2="198.48" y2="279.6" stroke="#525252" stroke-width="0.75"/>
<line x1="272.93" y1="265.8" x2="272.93" y2="279.6" stroke="#767676" stroke-width="0.75"/>
<line x1="193.2" y1="265.8" x2="193.2" y2="279.6" stroke="#686868" stroke-width="0.75"/>
<line x1="215.61" y1="265.8" x2="215.61" y2="279.6" stroke="#555555" stroke-width="0.75"/>
<rect x="184.3" y="279.6" width="101.1" height="3.7" fill="url(#gsbar)" />
<line x1="183.4" y1="283.5" x2="290.8" y2="283.5" stroke="#d0d0d0" stroke-width="0.5" />
<text x="188.5" y="287.3" font-size="5.4" fill="#222" textLength="48.7" lengthAdjust="spacingAndGlyphs">Raji: OBF1 knockdown</text>
<polygon points="184.3,297.5 184.3,284.2 184.93,285.64 185.56,286.81 186.2,287.59 186.83,288.38 187.46,289.1 188.09,289.57 188.72,290.05 189.36,290.53 189.99,291.01 190.62,291.41 191.25,291.67 191.88,291.94 192.51,292.2 193.15,292.47 193.78,292.73 194.41,293 195.04,293.14 195.67,293.29 196.31,293.43 196.94,293.57 197.57,293.71 198.2,293.86 198.83,294 199.47,294.14 200.1,294.29 200.73,294.43 201.36,294.57 201.99,294.67 202.62,294.75 203.26,294.84 203.89,294.93 204.52,295.01 205.15,295.1 205.78,295.18 206.42,295.27 207.05,295.36 207.68,295.44 208.31,295.53 208.94,295.61 209.58,295.7 210.21,295.75 210.84,295.8 211.47,295.85 212.1,295.9 212.73,295.95 213.37,295.99 214,296.04 214.63,296.09 215.26,296.14 215.89,296.19 216.53,296.24 217.16,296.29 217.79,296.34 218.42,296.39 219.05,296.44 219.69,296.49 220.32,296.53 220.95,296.58 221.58,296.63 222.21,296.68 222.84,296.73 223.48,296.78 224.11,296.81 224.74,296.84 225.37,296.86 226,296.88 226.64,296.9 227.27,296.93 227.9,296.95 228.53,296.97 229.16,297 229.8,297.02 230.43,297.04 231.06,297.06 231.69,297.09 232.32,297.11 232.95,297.13 233.59,297.15 234.22,297.18 234.85,297.2 235.48,297.22 236.11,297.24 236.75,297.26 237.38,297.28 238.01,297.3 238.64,297.32 239.27,297.35 239.91,297.37 240.54,297.39 241.17,297.41 241.8,297.43 242.43,297.45 243.06,297.47 243.7,297.49 244.33,297.55 244.96,297.64 245.59,297.72 246.22,297.81 246.86,297.89 247.49,297.98 248.12,298.06 248.75,298.15 249.38,298.23 250.02,298.32 250.65,298.4 251.28,298.49 251.91,298.57 252.54,298.66 253.17,298.74 253.81,298.83 254.44,298.91 255.07,299 255.7,299.1 256.33,299.21 256.97,299.31 257.6,299.42 258.23,299.52 258.86,299.62 259.49,299.73 260.12,299.83 260.76,299.94 261.39,300.04 262.02,300.15 262.65,300.25 263.28,300.35 263.92,300.46 264.55,300.56 265.18,300.67 265.81,300.77 266.44,300.88 267.08,300.98 267.71,301.08 268.34,301.19 268.97,301.29 269.6,301.4 270.24,301.5 270.87,301.72 271.5,301.94 272.13,302.16 272.76,302.38 273.39,302.59 274.03,302.81 274.66,303.03 275.29,303.25 275.92,303.47 276.55,303.69 277.19,303.91 277.82,304.12 278.45,304.34 279.08,304.56 279.71,304.78 280.35,305 280.98,305.5 281.61,306 282.24,306.5 282.87,307 283.5,308.04 284.14,309.08 284.77,310.1 285.4,311.1 285.4,297.5" fill="#c9c9c9" />
<line x1="184.3" y1="297.5" x2="285.4" y2="297.5" stroke="#a9a9a9" stroke-width="0.5" />
<line x1="183.4" y1="311.2" x2="290.8" y2="311.2" stroke="#b0b0b0" stroke-width="0.6" />
<text x="234.85" y="298.8" font-size="2.4" text-anchor="middle" fill="#555">Zero cross at 5279</text>
<text x="277.3" y="310.7" font-size="6.2" text-anchor="end" fill="#222" textLength="27.6" lengthAdjust="spacingAndGlyphs">Raji: SHC002</text>
<text x="179.9" y="286.1" font-size="4.6" text-anchor="middle" fill="#333" transform="rotate(-90 179.9 286.1)" dominant-baseline="middle">4</text>
<text x="179.9" y="291.8" font-size="4.6" text-anchor="middle" fill="#333" transform="rotate(-90 179.9 291.8)" dominant-baseline="middle">2</text>
<text x="179.9" y="297.5" font-size="4.6" text-anchor="middle" fill="#333" transform="rotate(-90 179.9 297.5)" dominant-baseline="middle">0</text>
<text x="179.9" y="303.2" font-size="4.6" text-anchor="middle" fill="#333" transform="rotate(-90 179.9 303.2)" dominant-baseline="middle">-2</text>
<text x="179.9" y="308.9" font-size="4.6" text-anchor="middle" fill="#333" transform="rotate(-90 179.9 308.9)" dominant-baseline="middle">-4</text>
<text x="184.9" y="316.6" font-size="3.3" text-anchor="middle" fill="#444">0</text>
<text x="203.2" y="316.6" font-size="3.3" text-anchor="middle" fill="#444">2,000</text>
<text x="222.09" y="316.6" font-size="3.3" text-anchor="middle" fill="#444">4,000</text>
<text x="240.99" y="316.6" font-size="3.3" text-anchor="middle" fill="#444">6,000</text>
<text x="259.89" y="316.6" font-size="3.3" text-anchor="middle" fill="#444">8,000</text>
<text x="278.79" y="316.6" font-size="3.3" text-anchor="middle" fill="#444">10,000</text>
<text x="234.85" y="320.9" font-size="3.3" text-anchor="middle" fill="#444">Rank in ordered dataset</text>
<rect x="188.4" y="323" width="85.5" height="4.6" fill="#fff" stroke="#9a9a9a" stroke-width="0.6" />
<line x1="189.9" y1="325.4" x2="193.9" y2="325.4" stroke="#8cf04c" stroke-width="0.9" />
<text x="194.9" y="326.4" font-size="2.9" fill="#555">Enrichment profile</text>
<line x1="221.4" y1="325.4" x2="224.4" y2="325.4" stroke="#555" stroke-width="0.5" />
<text x="225.4" y="326.4" font-size="2.9" fill="#555">Hits</text>
<line x1="239.4" y1="325.4" x2="242.4" y2="325.4" stroke="#aaa" stroke-width="0.5" />
<text x="243.4" y="326.4" font-size="2.9" fill="#555">Ranking metric scores</text>
<rect x="183.4" y="221.4" width="107.4" height="107.8" fill="none" stroke="#8a8a8a" stroke-width="1" />
<text x="168" y="243.2" font-size="6.3" text-anchor="middle" fill="#222" textLength="53.5" lengthAdjust="spacingAndGlyphs" transform="rotate(-90 168 243.2)">Enrichment score (ES)</text>
<text x="161.5" y="298.1" font-size="6.3" text-anchor="middle" fill="#222" textLength="44.5" lengthAdjust="spacingAndGlyphs" transform="rotate(-90 161.5 298.1)">Ranked list metric</text>
<text x="170.8" y="298" font-size="6.3" text-anchor="middle" fill="#222" textLength="36.5" lengthAdjust="spacingAndGlyphs" transform="rotate(-90 170.8 298)">(Signal2Noise)</text>
<text x="10.2" y="409.2" font-size="14.5" font-weight="bold">E</text>
<text x="45.5" y="418.3" font-size="7.35" fill="#111" textLength="54.5" lengthAdjust="spacingAndGlyphs">Enrichment plot:</text>
<text x="45.5" y="426.8" font-size="7.35" fill="#111" textLength="92.3" lengthAdjust="spacingAndGlyphs">Upregulated genes in OBF1-</text>
<text x="45.5" y="435.3" font-size="7.35" fill="#111" textLength="43.1" lengthAdjust="spacingAndGlyphs">depleted Raji</text>
<line x1="46" y1="443.03" x2="151.9" y2="443.03" stroke="#f2f2f2" stroke-width="0.5" />
<text x="42.3" y="444.83" font-size="5.3" text-anchor="end" fill="#222">0.7</text>
<line x1="46" y1="448.74" x2="151.9" y2="448.74" stroke="#f2f2f2" stroke-width="0.5" />
<text x="42.3" y="450.54" font-size="5.3" text-anchor="end" fill="#222">0.6</text>
<line x1="46" y1="454.45" x2="151.9" y2="454.45" stroke="#f2f2f2" stroke-width="0.5" />
<text x="42.3" y="456.25" font-size="5.3" text-anchor="end" fill="#222">0.5</text>
<line x1="46" y1="460.16" x2="151.9" y2="460.16" stroke="#f2f2f2" stroke-width="0.5" />
<text x="42.3" y="461.96" font-size="5.3" text-anchor="end" fill="#222">0.4</text>
<line x1="46" y1="465.87" x2="151.9" y2="465.87" stroke="#f2f2f2" stroke-width="0.5" />
<text x="42.3" y="467.67" font-size="5.3" text-anchor="end" fill="#222">0.3</text>
<line x1="46" y1="471.58" x2="151.9" y2="471.58" stroke="#f2f2f2" stroke-width="0.5" />
<text x="42.3" y="473.38" font-size="5.3" text-anchor="end" fill="#222">0.2</text>
<line x1="46" y1="477.29" x2="151.9" y2="477.29" stroke="#f2f2f2" stroke-width="0.5" />
<text x="42.3" y="479.09" font-size="5.3" text-anchor="end" fill="#222">0.1</text>
<text x="42.3" y="484.8" font-size="5.3" text-anchor="end" fill="#222">0.0</text>
<line x1="66.5" y1="442.2" x2="66.5" y2="484.4" stroke="#f2f2f2" stroke-width="0.5" />
<line x1="66.5" y1="503.7" x2="66.5" y2="532.2" stroke="#f2f2f2" stroke-width="0.5" />
<line x1="85.8" y1="442.2" x2="85.8" y2="484.4" stroke="#f2f2f2" stroke-width="0.5" />
<line x1="85.8" y1="503.7" x2="85.8" y2="532.2" stroke="#f2f2f2" stroke-width="0.5" />
<line x1="104.6" y1="442.2" x2="104.6" y2="484.4" stroke="#f2f2f2" stroke-width="0.5" />
<line x1="104.6" y1="503.7" x2="104.6" y2="532.2" stroke="#f2f2f2" stroke-width="0.5" />
<line x1="123.7" y1="442.2" x2="123.7" y2="484.4" stroke="#f2f2f2" stroke-width="0.5" />
<line x1="123.7" y1="503.7" x2="123.7" y2="532.2" stroke="#f2f2f2" stroke-width="0.5" />
<line x1="142.1" y1="442.2" x2="142.1" y2="484.4" stroke="#f2f2f2" stroke-width="0.5" />
<line x1="142.1" y1="503.7" x2="142.1" y2="532.2" stroke="#f2f2f2" stroke-width="0.5" />
<line x1="45.6" y1="483" x2="152.5" y2="483" stroke="#a8a8a8" stroke-width="0.7" />
<line x1="45.6" y1="484.4" x2="152.5" y2="484.4" stroke="#c8c8c8" stroke-width="0.6" />
<polyline points="46.6,483 47.6,477.29 48.8,468.73 50,460.73 51.2,455.02 52.6,451.02 54.2,448.17 56.4,445.88 58.8,444.17 61,443.49 63.5,443.32 66,443.6 68.5,444.46 71.2,445.6 76,447.88 81,450.45 86.5,453.31 95,457.88 105,463.3 115,468.73 125,474.15 135,479 142,481.57 147.1,483" fill="none" stroke="#8cf04c" stroke-width="1.25" stroke-linejoin="round" />
<text x="106.3" y="454.6" font-size="6" fill="#111" textLength="26.6" lengthAdjust="spacingAndGlyphs">NES: 1.38</text>
<text x="106.3" y="461.5" font-size="6" fill="#111" textLength="29.5" lengthAdjust="spacingAndGlyphs">FDR: 0.064</text>
<defs><linearGradient id="rbg45" x1="0" y1="0" x2="1" y2="0"><stop offset="0.000" stop-color="#000"/><stop offset="0.100" stop-color="#111"/><stop offset="0.180" stop-color="#555"/><stop offset="0.300" stop-color="#8a8a8a"/><stop offset="0.450" stop-color="#b5b5b5"/><stop offset="0.600" stop-color="#d8d8d8"/><stop offset="1.000" stop-color="#e8e8e8"/></linearGradient></defs>
<rect x="46.5" y="485.6" width="100.6" height="14.2" fill="url(#rbg45)" />
<line x1="65.55" y1="485.6" x2="65.55" y2="499.8" stroke="#454545" stroke-width="0.75"/>
<line x1="58.08" y1="485.6" x2="58.08" y2="499.8" stroke="#ababab" stroke-width="0.75"/>
<line x1="46.78" y1="485.6" x2="46.78" y2="499.8" stroke="#151515" stroke-width="0.75"/>
<line x1="72.45" y1="485.6" x2="72.45" y2="499.8" stroke="#5a5a5a" stroke-width="0.75"/>
<line x1="72.53" y1="485.6" x2="72.53" y2="499.8" stroke="#868686" stroke-width="0.75"/>
<line x1="135.05" y1="485.6" x2="135.05" y2="499.8" stroke="#bbbbbb" stroke-width="0.75"/>
<line x1="87.55" y1="485.6" x2="87.55" y2="499.8" stroke="#9e9e9e" stroke-width="0.75"/>
<line x1="66.76" y1="485.6" x2="66.76" y2="499.8" stroke="#989898" stroke-width="0.75"/>
<line x1="48.54" y1="485.6" x2="48.54" y2="499.8" stroke="#1b1b1b" stroke-width="0.75"/>
<line x1="79.08" y1="485.6" x2="79.08" y2="499.8" stroke="#9c9c9c" stroke-width="0.75"/>
<line x1="137.65" y1="485.6" x2="137.65" y2="499.8" stroke="#2c2c2c" stroke-width="0.75"/>
<line x1="54.72" y1="485.6" x2="54.72" y2="499.8" stroke="#646464" stroke-width="0.75"/>
<line x1="128.87" y1="485.6" x2="128.87" y2="499.8" stroke="#505050" stroke-width="0.75"/>
<line x1="143.3" y1="485.6" x2="143.3" y2="499.8" stroke="#b2b2b2" stroke-width="0.75"/>
<line x1="116.4" y1="485.6" x2="116.4" y2="499.8" stroke="#2a2a2a" stroke-width="0.75"/>
<line x1="65.48" y1="485.6" x2="65.48" y2="499.8" stroke="#898989" stroke-width="0.75"/>
<line x1="54.72" y1="485.6" x2="54.72" y2="499.8" stroke="#8b8b8b" stroke-width="0.75"/>
<line x1="92.55" y1="485.6" x2="92.55" y2="499.8" stroke="#bcbcbc" stroke-width="0.75"/>
<line x1="61.13" y1="485.6" x2="61.13" y2="499.8" stroke="#181818" stroke-width="0.75"/>
<line x1="57.4" y1="485.6" x2="57.4" y2="499.8" stroke="#b1b1b1" stroke-width="0.75"/>
<line x1="124.51" y1="485.6" x2="124.51" y2="499.8" stroke="#1e1e1e" stroke-width="0.75"/>
<line x1="65.52" y1="485.6" x2="65.52" y2="499.8" stroke="#0e0e0e" stroke-width="0.75"/>
<line x1="52.26" y1="485.6" x2="52.26" y2="499.8" stroke="#9b9b9b" stroke-width="0.75"/>
<line x1="65.85" y1="485.6" x2="65.85" y2="499.8" stroke="#bababa" stroke-width="0.75"/>
<line x1="55.61" y1="485.6" x2="55.61" y2="499.8" stroke="#0b0b0b" stroke-width="0.75"/>
<line x1="47.53" y1="485.6" x2="47.53" y2="499.8" stroke="#b8b8b8" stroke-width="0.75"/>
<line x1="47.16" y1="485.6" x2="47.16" y2="499.8" stroke="#606060" stroke-width="0.75"/>
<line x1="54.38" y1="485.6" x2="54.38" y2="499.8" stroke="#9d9d9d" stroke-width="0.75"/>
<line x1="68.88" y1="485.6" x2="68.88" y2="499.8" stroke="#515151" stroke-width="0.75"/>
<line x1="72.81" y1="485.6" x2="72.81" y2="499.8" stroke="#9e9e9e" stroke-width="0.75"/>
<line x1="56.39" y1="485.6" x2="56.39" y2="499.8" stroke="#b0b0b0" stroke-width="0.75"/>
<line x1="90.07" y1="485.6" x2="90.07" y2="499.8" stroke="#b1b1b1" stroke-width="0.75"/>
<line x1="78.06" y1="485.6" x2="78.06" y2="499.8" stroke="#707070" stroke-width="0.75"/>
<line x1="50.86" y1="485.6" x2="50.86" y2="499.8" stroke="#2f2f2f" stroke-width="0.75"/>
<line x1="46.77" y1="485.6" x2="46.77" y2="499.8" stroke="#737373" stroke-width="0.75"/>
<line x1="80.91" y1="485.6" x2="80.91" y2="499.8" stroke="#080808" stroke-width="0.75"/>
<line x1="50.31" y1="485.6" x2="50.31" y2="499.8" stroke="#8a8a8a" stroke-width="0.75"/>
<line x1="68.56" y1="485.6" x2="68.56" y2="499.8" stroke="#232323" stroke-width="0.75"/>
<line x1="59.59" y1="485.6" x2="59.59" y2="499.8" stroke="#303030" stroke-width="0.75"/>
<line x1="94.65" y1="485.6" x2="94.65" y2="499.8" stroke="#737373" stroke-width="0.75"/>
<line x1="52.25" y1="485.6" x2="52.25" y2="499.8" stroke="#010101" stroke-width="0.75"/>
<line x1="142.23" y1="485.6" x2="142.23" y2="499.8" stroke="#a1a1a1" stroke-width="0.75"/>
<line x1="79.89" y1="485.6" x2="79.89" y2="499.8" stroke="#333333" stroke-width="0.75"/>
<line x1="48.77" y1="485.6" x2="48.77" y2="499.8" stroke="#898989" stroke-width="0.75"/>
<line x1="111.6" y1="485.6" x2="111.6" y2="499.8" stroke="#878787" stroke-width="0.75"/>
<line x1="50.1" y1="485.6" x2="50.1" y2="499.8" stroke="#383838" stroke-width="0.75"/>
<line x1="59.17" y1="485.6" x2="59.17" y2="499.8" stroke="#9d9d9d" stroke-width="0.75"/>
<line x1="92.25" y1="485.6" x2="92.25" y2="499.8" stroke="#9c9c9c" stroke-width="0.75"/>
<line x1="120.96" y1="485.6" x2="120.96" y2="499.8" stroke="#545454" stroke-width="0.75"/>
<line x1="138.69" y1="485.6" x2="138.69" y2="499.8" stroke="#020202" stroke-width="0.75"/>
<line x1="63.69" y1="485.6" x2="63.69" y2="499.8" stroke="#141414" stroke-width="0.75"/>
<line x1="51.93" y1="485.6" x2="51.93" y2="499.8" stroke="#a4a4a4" stroke-width="0.75"/>
<line x1="143.88" y1="485.6" x2="143.88" y2="499.8" stroke="#6f6f6f" stroke-width="0.75"/>
<line x1="114.97" y1="485.6" x2="114.97" y2="499.8" stroke="#b0b0b0" stroke-width="0.75"/>
<line x1="129.48" y1="485.6" x2="129.48" y2="499.8" stroke="#2f2f2f" stroke-width="0.75"/>
<line x1="130.1" y1="485.6" x2="130.1" y2="499.8" stroke="#c5c5c5" stroke-width="0.75"/>
<line x1="123.4" y1="485.6" x2="123.4" y2="499.8" stroke="#909090" stroke-width="0.75"/>
<line x1="76.96" y1="485.6" x2="76.96" y2="499.8" stroke="#202020" stroke-width="0.75"/>
<line x1="71.55" y1="485.6" x2="71.55" y2="499.8" stroke="#737373" stroke-width="0.75"/>
<line x1="98.48" y1="485.6" x2="98.48" y2="499.8" stroke="#1c1c1c" stroke-width="0.75"/>
<line x1="137.52" y1="485.6" x2="137.52" y2="499.8" stroke="#565656" stroke-width="0.75"/>
<line x1="49.66" y1="485.6" x2="49.66" y2="499.8" stroke="#858585" stroke-width="0.75"/>
<line x1="140.33" y1="485.6" x2="140.33" y2="499.8" stroke="#535353" stroke-width="0.75"/>
<line x1="144.92" y1="485.6" x2="144.92" y2="499.8" stroke="#b3b3b3" stroke-width="0.75"/>
<line x1="56.65" y1="485.6" x2="56.65" y2="499.8" stroke="#a8a8a8" stroke-width="0.75"/>
<line x1="103.22" y1="485.6" x2="103.22" y2="499.8" stroke="#4e4e4e" stroke-width="0.75"/>
<line x1="59.31" y1="485.6" x2="59.31" y2="499.8" stroke="#676767" stroke-width="0.75"/>
<line x1="134.29" y1="485.6" x2="134.29" y2="499.8" stroke="#9c9c9c" stroke-width="0.75"/>
<line x1="52.26" y1="485.6" x2="52.26" y2="499.8" stroke="#919191" stroke-width="0.75"/>
<line x1="124.84" y1="485.6" x2="124.84" y2="499.8" stroke="#3d3d3d" stroke-width="0.75"/>
<line x1="123.23" y1="485.6" x2="123.23" y2="499.8" stroke="#7d7d7d" stroke-width="0.75"/>
<line x1="60.34" y1="485.6" x2="60.34" y2="499.8" stroke="#c0c0c0" stroke-width="0.75"/>
<line x1="74.06" y1="485.6" x2="74.06" y2="499.8" stroke="#b9b9b9" stroke-width="0.75"/>
<line x1="56.76" y1="485.6" x2="56.76" y2="499.8" stroke="#ababab" stroke-width="0.75"/>
<line x1="76.09" y1="485.6" x2="76.09" y2="499.8" stroke="#ababab" stroke-width="0.75"/>
<line x1="65.67" y1="485.6" x2="65.67" y2="499.8" stroke="#626262" stroke-width="0.75"/>
<line x1="115.62" y1="485.6" x2="115.62" y2="499.8" stroke="#b2b2b2" stroke-width="0.75"/>
<line x1="81.13" y1="485.6" x2="81.13" y2="499.8" stroke="#2a2a2a" stroke-width="0.75"/>
<line x1="61.01" y1="485.6" x2="61.01" y2="499.8" stroke="#1f1f1f" stroke-width="0.75"/>
<line x1="92.34" y1="485.6" x2="92.34" y2="499.8" stroke="#9f9f9f" stroke-width="0.75"/>
<line x1="75.71" y1="485.6" x2="75.71" y2="499.8" stroke="#393939" stroke-width="0.75"/>
<line x1="58.22" y1="485.6" x2="58.22" y2="499.8" stroke="#6c6c6c" stroke-width="0.75"/>
<line x1="47.98" y1="485.6" x2="47.98" y2="499.8" stroke="#323232" stroke-width="0.75"/>
<line x1="116.32" y1="485.6" x2="116.32" y2="499.8" stroke="#717171" stroke-width="0.75"/>
<line x1="140.51" y1="485.6" x2="140.51" y2="499.8" stroke="#151515" stroke-width="0.75"/>
<line x1="86.2" y1="485.6" x2="86.2" y2="499.8" stroke="#4e4e4e" stroke-width="0.75"/>
<line x1="141.94" y1="485.6" x2="141.94" y2="499.8" stroke="#0b0b0b" stroke-width="0.75"/>
<line x1="47.98" y1="485.6" x2="47.98" y2="499.8" stroke="#353535" stroke-width="0.75"/>
<line x1="78.91" y1="485.6" x2="78.91" y2="499.8" stroke="#b6b6b6" stroke-width="0.75"/>
<line x1="65.13" y1="485.6" x2="65.13" y2="499.8" stroke="#040404" stroke-width="0.75"/>
<line x1="108.01" y1="485.6" x2="108.01" y2="499.8" stroke="#959595" stroke-width="0.75"/>
<line x1="53.66" y1="485.6" x2="53.66" y2="499.8" stroke="#404040" stroke-width="0.75"/>
<line x1="87.57" y1="485.6" x2="87.57" y2="499.8" stroke="#3a3a3a" stroke-width="0.75"/>
<line x1="144.34" y1="485.6" x2="144.34" y2="499.8" stroke="#636363" stroke-width="0.75"/>
<line x1="91.33" y1="485.6" x2="91.33" y2="499.8" stroke="#1a1a1a" stroke-width="0.75"/>
<line x1="106.69" y1="485.6" x2="106.69" y2="499.8" stroke="#606060" stroke-width="0.75"/>
<line x1="145.71" y1="485.6" x2="145.71" y2="499.8" stroke="#9f9f9f" stroke-width="0.75"/>
<line x1="62.74" y1="485.6" x2="62.74" y2="499.8" stroke="#9c9c9c" stroke-width="0.75"/>
<line x1="97.06" y1="485.6" x2="97.06" y2="499.8" stroke="#060606" stroke-width="0.75"/>
<line x1="124.51" y1="485.6" x2="124.51" y2="499.8" stroke="#494949" stroke-width="0.75"/>
<line x1="63.23" y1="485.6" x2="63.23" y2="499.8" stroke="#1b1b1b" stroke-width="0.75"/>
<line x1="130.53" y1="485.6" x2="130.53" y2="499.8" stroke="#818181" stroke-width="0.75"/>
<line x1="63.51" y1="485.6" x2="63.51" y2="499.8" stroke="#080808" stroke-width="0.75"/>
<line x1="142.88" y1="485.6" x2="142.88" y2="499.8" stroke="#333333" stroke-width="0.75"/>
<line x1="143.2" y1="485.6" x2="143.2" y2="499.8" stroke="#202020" stroke-width="0.75"/>
<line x1="61.83" y1="485.6" x2="61.83" y2="499.8" stroke="#494949" stroke-width="0.75"/>
<line x1="86.93" y1="485.6" x2="86.93" y2="499.8" stroke="#686868" stroke-width="0.75"/>
<line x1="72.49" y1="485.6" x2="72.49" y2="499.8" stroke="#b4b4b4" stroke-width="0.75"/>
<line x1="61.56" y1="485.6" x2="61.56" y2="499.8" stroke="#464646" stroke-width="0.75"/>
<line x1="55.4" y1="485.6" x2="55.4" y2="499.8" stroke="#292929" stroke-width="0.75"/>
<line x1="98.17" y1="485.6" x2="98.17" y2="499.8" stroke="#272727" stroke-width="0.75"/>
<line x1="118.41" y1="485.6" x2="118.41" y2="499.8" stroke="#a9a9a9" stroke-width="0.75"/>
<line x1="50.29" y1="485.6" x2="50.29" y2="499.8" stroke="#bebebe" stroke-width="0.75"/>
<line x1="99.52" y1="485.6" x2="99.52" y2="499.8" stroke="#111111" stroke-width="0.75"/>
<line x1="135.82" y1="485.6" x2="135.82" y2="499.8" stroke="#757575" stroke-width="0.75"/>
<line x1="55.79" y1="485.6" x2="55.79" y2="499.8" stroke="#949494" stroke-width="0.75"/>
<line x1="121.54" y1="485.6" x2="121.54" y2="499.8" stroke="#030303" stroke-width="0.75"/>
<line x1="100.55" y1="485.6" x2="100.55" y2="499.8" stroke="#505050" stroke-width="0.75"/>
<line x1="143.25" y1="485.6" x2="143.25" y2="499.8" stroke="#090909" stroke-width="0.75"/>
<line x1="48.92" y1="485.6" x2="48.92" y2="499.8" stroke="#666666" stroke-width="0.75"/>
<line x1="51.31" y1="485.6" x2="51.31" y2="499.8" stroke="#1a1a1a" stroke-width="0.75"/>
<line x1="78.35" y1="485.6" x2="78.35" y2="499.8" stroke="#4c4c4c" stroke-width="0.75"/>
<line x1="99.35" y1="485.6" x2="99.35" y2="499.8" stroke="#121212" stroke-width="0.75"/>
<line x1="73.36" y1="485.6" x2="73.36" y2="499.8" stroke="#c1c1c1" stroke-width="0.75"/>
<line x1="61.39" y1="485.6" x2="61.39" y2="499.8" stroke="#8c8c8c" stroke-width="0.75"/>
<line x1="49.18" y1="485.6" x2="49.18" y2="499.8" stroke="#636363" stroke-width="0.75"/>
<line x1="96.12" y1="485.6" x2="96.12" y2="499.8" stroke="#8a8a8a" stroke-width="0.75"/>
<line x1="54.82" y1="485.6" x2="54.82" y2="499.8" stroke="#a4a4a4" stroke-width="0.75"/>
<line x1="120.07" y1="485.6" x2="120.07" y2="499.8" stroke="#3a3a3a" stroke-width="0.75"/>
<line x1="61.07" y1="485.6" x2="61.07" y2="499.8" stroke="#949494" stroke-width="0.75"/>
<line x1="92.5" y1="485.6" x2="92.5" y2="499.8" stroke="#171717" stroke-width="0.75"/>
<line x1="48.97" y1="485.6" x2="48.97" y2="499.8" stroke="#a9a9a9" stroke-width="0.75"/>
<line x1="56.62" y1="485.6" x2="56.62" y2="499.8" stroke="#959595" stroke-width="0.75"/>
<line x1="128.98" y1="485.6" x2="128.98" y2="499.8" stroke="#a2a2a2" stroke-width="0.75"/>
<line x1="48.41" y1="485.6" x2="48.41" y2="499.8" stroke="#646464" stroke-width="0.75"/>
<line x1="128.07" y1="485.6" x2="128.07" y2="499.8" stroke="#828282" stroke-width="0.75"/>
<line x1="104.95" y1="485.6" x2="104.95" y2="499.8" stroke="#878787" stroke-width="0.75"/>
<line x1="54.96" y1="485.6" x2="54.96" y2="499.8" stroke="#7f7f7f" stroke-width="0.75"/>
<line x1="135.36" y1="485.6" x2="135.36" y2="499.8" stroke="#737373" stroke-width="0.75"/>
<line x1="119.93" y1="485.6" x2="119.93" y2="499.8" stroke="#272727" stroke-width="0.75"/>
<line x1="46.5" y1="485.6" x2="46.5" y2="499.8" stroke="#000" stroke-width="0.6"/>
<line x1="46.85" y1="485.6" x2="46.85" y2="499.8" stroke="#000" stroke-width="0.6"/>
<line x1="47.2" y1="485.6" x2="47.2" y2="499.8" stroke="#000" stroke-width="0.6"/>
<line x1="47.55" y1="485.6" x2="47.55" y2="499.8" stroke="#000" stroke-width="0.6"/>
<line x1="47.9" y1="485.6" x2="47.9" y2="499.8" stroke="#000" stroke-width="0.6"/>
<line x1="48.25" y1="485.6" x2="48.25" y2="499.8" stroke="#000" stroke-width="0.6"/>
<line x1="48.6" y1="485.6" x2="48.6" y2="499.8" stroke="#000" stroke-width="0.6"/>
<line x1="48.95" y1="485.6" x2="48.95" y2="499.8" stroke="#000" stroke-width="0.6"/>
<line x1="49.3" y1="485.6" x2="49.3" y2="499.8" stroke="#000" stroke-width="0.6"/>
<line x1="49.65" y1="485.6" x2="49.65" y2="499.8" stroke="#000" stroke-width="0.6"/>
<line x1="50" y1="485.6" x2="50" y2="499.8" stroke="#000" stroke-width="0.6"/>
<line x1="50.35" y1="485.6" x2="50.35" y2="499.8" stroke="#000" stroke-width="0.6"/>
<line x1="50.7" y1="485.6" x2="50.7" y2="499.8" stroke="#000" stroke-width="0.6"/>
<line x1="51.05" y1="485.6" x2="51.05" y2="499.8" stroke="#000" stroke-width="0.6"/>
<line x1="51.4" y1="485.6" x2="51.4" y2="499.8" stroke="#000" stroke-width="0.6"/>
<line x1="51.75" y1="485.6" x2="51.75" y2="499.8" stroke="#000" stroke-width="0.6"/>
<line x1="52.1" y1="485.6" x2="52.1" y2="499.8" stroke="#000" stroke-width="0.6"/>
<line x1="52.45" y1="485.6" x2="52.45" y2="499.8" stroke="#000" stroke-width="0.6"/>
<line x1="52.8" y1="485.6" x2="52.8" y2="499.8" stroke="#000" stroke-width="0.6"/>
<line x1="53.15" y1="485.6" x2="53.15" y2="499.8" stroke="#000" stroke-width="0.6"/>
<line x1="53.5" y1="485.6" x2="53.5" y2="499.8" stroke="#000" stroke-width="0.6"/>
<line x1="53.85" y1="485.6" x2="53.85" y2="499.8" stroke="#000" stroke-width="0.6"/>
<line x1="54.2" y1="485.6" x2="54.2" y2="499.8" stroke="#000" stroke-width="0.6"/>
<line x1="54.55" y1="485.6" x2="54.55" y2="499.8" stroke="#000" stroke-width="0.6"/>
<line x1="54.9" y1="485.6" x2="54.9" y2="499.8" stroke="#000" stroke-width="0.6"/>
<line x1="55.25" y1="485.6" x2="55.25" y2="499.8" stroke="#000" stroke-width="0.6"/>
<line x1="55.6" y1="485.6" x2="55.6" y2="499.8" stroke="#000" stroke-width="0.6"/>
<line x1="55.95" y1="485.6" x2="55.95" y2="499.8" stroke="#000" stroke-width="0.6"/>
<line x1="56.3" y1="485.6" x2="56.3" y2="499.8" stroke="#000" stroke-width="0.6"/>
<line x1="56.65" y1="485.6" x2="56.65" y2="499.8" stroke="#000" stroke-width="0.6"/>
<rect x="46.5" y="499.8" width="100.6" height="3.7" fill="url(#gsbar)" />
<line x1="45.6" y1="503.7" x2="152.5" y2="503.7" stroke="#d0d0d0" stroke-width="0.5" />
<text x="50.3" y="508.2" font-size="5.4" fill="#222" textLength="43.6" lengthAdjust="spacingAndGlyphs">IRF4 overexpression</text>
<polygon points="46.5,517.3 46.5,504 47.13,505.44 47.76,506.61 48.39,507.39 49.02,508.17 49.64,508.9 50.27,509.37 50.9,509.85 51.53,510.33 52.16,510.81 52.79,511.21 53.42,511.47 54.05,511.74 54.67,512 55.3,512.27 55.93,512.53 56.56,512.8 57.19,512.94 57.82,513.09 58.45,513.23 59.08,513.37 59.7,513.51 60.33,513.66 60.96,513.8 61.59,513.94 62.22,514.09 62.85,514.23 63.48,514.37 64.1,514.47 64.73,514.55 65.36,514.64 65.99,514.73 66.62,514.81 67.25,514.9 67.88,514.98 68.51,515.07 69.13,515.16 69.76,515.24 70.39,515.33 71.02,515.41 71.65,515.5 72.28,515.55 72.91,515.6 73.54,515.65 74.16,515.7 74.79,515.75 75.42,515.79 76.05,515.84 76.68,515.89 77.31,515.94 77.94,515.99 78.57,516.04 79.19,516.09 79.82,516.14 80.45,516.19 81.08,516.24 81.71,516.29 82.34,516.33 82.97,516.38 83.6,516.43 84.22,516.48 84.85,516.53 85.48,516.58 86.11,516.61 86.74,516.64 87.37,516.66 88,516.68 88.63,516.7 89.25,516.73 89.88,516.75 90.51,516.77 91.14,516.8 91.77,516.82 92.4,516.84 93.03,516.86 93.66,516.89 94.28,516.91 94.91,516.93 95.54,516.95 96.17,516.98 96.8,517 97.43,517.02 98.06,517.03 98.69,517.05 99.31,517.07 99.94,517.08 100.57,517.1 101.2,517.11 101.83,517.13 102.46,517.15 103.09,517.16 103.72,517.18 104.34,517.2 104.97,517.21 105.6,517.23 106.23,517.24 106.86,517.26 107.49,517.28 108.12,517.29 108.75,517.35 109.38,517.44 110,517.52 110.63,517.61 111.26,517.69 111.89,517.78 112.52,517.86 113.15,517.95 113.78,518.03 114.41,518.12 115.03,518.2 115.66,518.29 116.29,518.37 116.92,518.46 117.55,518.54 118.18,518.63 118.81,518.71 119.43,518.8 120.06,518.9 120.69,519.01 121.32,519.11 121.95,519.22 122.58,519.32 123.21,519.42 123.84,519.53 124.47,519.63 125.09,519.74 125.72,519.84 126.35,519.95 126.98,520.05 127.61,520.15 128.24,520.26 128.87,520.36 129.5,520.47 130.12,520.57 130.75,520.67 131.38,520.78 132.01,520.88 132.64,520.99 133.27,521.09 133.9,521.2 134.52,521.3 135.15,521.59 135.78,521.88 136.41,522.17 137.04,522.47 137.67,522.76 138.3,523.05 138.93,523.34 139.56,523.63 140.18,523.92 140.81,524.22 141.44,524.51 142.07,524.8 142.7,525.3 143.33,525.8 143.96,526.3 144.58,526.8 145.21,527.84 145.84,528.88 146.47,529.9 147.1,530.9 147.1,517.3" fill="#c9c9c9" />
<line x1="46.5" y1="517.3" x2="147.1" y2="517.3" stroke="#a9a9a9" stroke-width="0.5" />
<line x1="45.6" y1="531" x2="152.5" y2="531" stroke="#b0b0b0" stroke-width="0.6" />
<text x="96.8" y="518.6" font-size="2.4" text-anchor="middle" fill="#555">Zero cross at 5279</text>
<text x="142" y="530.5" font-size="6.2" text-anchor="end" fill="#222" textLength="7.5" lengthAdjust="spacingAndGlyphs">Ctrl</text>
<text x="42.1" y="505.9" font-size="4.6" text-anchor="middle" fill="#333" transform="rotate(-90 42.1 505.9)" dominant-baseline="middle">4</text>
<text x="42.1" y="511.6" font-size="4.6" text-anchor="middle" fill="#333" transform="rotate(-90 42.1 511.6)" dominant-baseline="middle">2</text>
<text x="42.1" y="517.3" font-size="4.6" text-anchor="middle" fill="#333" transform="rotate(-90 42.1 517.3)" dominant-baseline="middle">0</text>
<text x="42.1" y="523" font-size="4.6" text-anchor="middle" fill="#333" transform="rotate(-90 42.1 523)" dominant-baseline="middle">-2</text>
<text x="42.1" y="528.7" font-size="4.6" text-anchor="middle" fill="#333" transform="rotate(-90 42.1 528.7)" dominant-baseline="middle">-4</text>
<text x="47.1" y="536.4" font-size="3.3" text-anchor="middle" fill="#444">0</text>
<text x="65.3" y="536.4" font-size="3.3" text-anchor="middle" fill="#444">2,000</text>
<text x="84.11" y="536.4" font-size="3.3" text-anchor="middle" fill="#444">4,000</text>
<text x="102.91" y="536.4" font-size="3.3" text-anchor="middle" fill="#444">6,000</text>
<text x="121.71" y="536.4" font-size="3.3" text-anchor="middle" fill="#444">8,000</text>
<text x="140.52" y="536.4" font-size="3.3" text-anchor="middle" fill="#444">10,000</text>
<text x="96.8" y="540.7" font-size="3.3" text-anchor="middle" fill="#444">Rank in ordered dataset</text>
<rect x="50.6" y="542.8" width="85.5" height="4.6" fill="#fff" stroke="#9a9a9a" stroke-width="0.6" />
<line x1="52.1" y1="545.2" x2="56.1" y2="545.2" stroke="#8cf04c" stroke-width="0.9" />
<text x="57.1" y="546.2" font-size="2.9" fill="#555">Enrichment profile</text>
<line x1="83.6" y1="545.2" x2="86.6" y2="545.2" stroke="#555" stroke-width="0.5" />
<text x="87.6" y="546.2" font-size="2.9" fill="#555">Hits</text>
<line x1="101.6" y1="545.2" x2="104.6" y2="545.2" stroke="#aaa" stroke-width="0.5" />
<text x="105.6" y="546.2" font-size="2.9" fill="#555">Ranking metric scores</text>
<rect x="45.6" y="441.2" width="106.9" height="107.8" fill="none" stroke="#8a8a8a" stroke-width="1" />
<text x="28.4" y="464.6" font-size="6.3" text-anchor="middle" fill="#222" textLength="53.5" lengthAdjust="spacingAndGlyphs" transform="rotate(-90 28.4 464.6)">Enrichment score (ES)</text>
<text x="23.7" y="517.9" font-size="6.3" text-anchor="middle" fill="#222" textLength="44.5" lengthAdjust="spacingAndGlyphs" transform="rotate(-90 23.7 517.9)">Ranked list metric</text>
<text x="33" y="517.8" font-size="6.3" text-anchor="middle" fill="#222" textLength="36.5" lengthAdjust="spacingAndGlyphs" transform="rotate(-90 33 517.8)">(Signal2Noise)</text>
<text x="190.2" y="418.3" font-size="7.35" fill="#111" textLength="54.5" lengthAdjust="spacingAndGlyphs">Enrichment plot:</text>
<text x="190.2" y="426.8" font-size="7.35" fill="#111" textLength="100.4" lengthAdjust="spacingAndGlyphs">Downregulated genes in OBF1-</text>
<text x="190.2" y="435.3" font-size="7.35" fill="#111" textLength="43.1" lengthAdjust="spacingAndGlyphs">depleted Raji</text>
<text x="187.3" y="447.5" font-size="5.3" text-anchor="end" fill="#222">0.0</text>
<line x1="191" y1="451.95" x2="295.3" y2="451.95" stroke="#f2f2f2" stroke-width="0.5" />
<text x="187.3" y="453.75" font-size="5.3" text-anchor="end" fill="#222">-0.1</text>
<line x1="191" y1="458.2" x2="295.3" y2="458.2" stroke="#f2f2f2" stroke-width="0.5" />
<text x="187.3" y="460" font-size="5.3" text-anchor="end" fill="#222">-0.2</text>
<line x1="191" y1="464.45" x2="295.3" y2="464.45" stroke="#f2f2f2" stroke-width="0.5" />
<text x="187.3" y="466.25" font-size="5.3" text-anchor="end" fill="#222">-0.3</text>
<line x1="191" y1="470.7" x2="295.3" y2="470.7" stroke="#f2f2f2" stroke-width="0.5" />
<text x="187.3" y="472.5" font-size="5.3" text-anchor="end" fill="#222">-0.4</text>
<line x1="191" y1="476.95" x2="295.3" y2="476.95" stroke="#f2f2f2" stroke-width="0.5" />
<text x="187.3" y="478.75" font-size="5.3" text-anchor="end" fill="#222">-0.5</text>
<line x1="191" y1="483.2" x2="295.3" y2="483.2" stroke="#f2f2f2" stroke-width="0.5" />
<text x="187.3" y="485" font-size="5.3" text-anchor="end" fill="#222">-0.6</text>
<line x1="211.6" y1="442.2" x2="211.6" y2="484.4" stroke="#f2f2f2" stroke-width="0.5" />
<line x1="211.6" y1="503.7" x2="211.6" y2="532.2" stroke="#f2f2f2" stroke-width="0.5" />
<line x1="230.9" y1="442.2" x2="230.9" y2="484.4" stroke="#f2f2f2" stroke-width="0.5" />
<line x1="230.9" y1="503.7" x2="230.9" y2="532.2" stroke="#f2f2f2" stroke-width="0.5" />
<line x1="250.2" y1="442.2" x2="250.2" y2="484.4" stroke="#f2f2f2" stroke-width="0.5" />
<line x1="250.2" y1="503.7" x2="250.2" y2="532.2" stroke="#f2f2f2" stroke-width="0.5" />
<line x1="269.5" y1="442.2" x2="269.5" y2="484.4" stroke="#f2f2f2" stroke-width="0.5" />
<line x1="269.5" y1="503.7" x2="269.5" y2="532.2" stroke="#f2f2f2" stroke-width="0.5" />
<line x1="288.8" y1="442.2" x2="288.8" y2="484.4" stroke="#f2f2f2" stroke-width="0.5" />
<line x1="288.8" y1="503.7" x2="288.8" y2="532.2" stroke="#f2f2f2" stroke-width="0.5" />
<line x1="190.6" y1="445.7" x2="295.9" y2="445.7" stroke="#a8a8a8" stroke-width="0.7" />
<line x1="190.6" y1="484.4" x2="295.9" y2="484.4" stroke="#c8c8c8" stroke-width="0.6" />
<polyline points="191.5,445.7 192.5,444.95 194,444.14 196,444.45 199,445.39 203,446.95 208,448.82 214,451.32 220,454.45 226,457.57 232,461.01 238,464.45 244,467.57 250,470.7 256,473.82 262,476.95 268,479.76 273,481.64 276,482.57 279,483.2 281,482.89 283,481.64 285,480.07 286.5,475.7 287.8,467.57 289,458.2 290,450.7 290.6,445.7" fill="none" stroke="#8cf04c" stroke-width="1.25" stroke-linejoin="round" />
<text x="252.9" y="454.6" font-size="6" fill="#111" textLength="28.3" lengthAdjust="spacingAndGlyphs">NES: -1.36</text>
<text x="252.9" y="461.5" font-size="6" fill="#111" textLength="29.3" lengthAdjust="spacingAndGlyphs">FDR: 0.114</text>
<defs><linearGradient id="rbg190" x1="0" y1="0" x2="1" y2="0"><stop offset="0.000" stop-color="#b8b8b8"/><stop offset="0.500" stop-color="#c0c0c0"/><stop offset="0.850" stop-color="#a0a0a0"/><stop offset="0.930" stop-color="#404040"/><stop offset="1.000" stop-color="#000"/></linearGradient></defs>
<rect x="191.5" y="485.6" width="99" height="14.2" fill="url(#rbg190)" />
<line x1="271.79" y1="485.6" x2="271.79" y2="499.8" stroke="#2c2c2c" stroke-width="0.75"/>
<line x1="285.2" y1="485.6" x2="285.2" y2="499.8" stroke="#1e1e1e" stroke-width="0.75"/>
<line x1="199.66" y1="485.6" x2="199.66" y2="499.8" stroke="#b5b5b5" stroke-width="0.75"/>
<line x1="231.96" y1="485.6" x2="231.96" y2="499.8" stroke="#333333" stroke-width="0.75"/>
<line x1="272.09" y1="485.6" x2="272.09" y2="499.8" stroke="#4b4b4b" stroke-width="0.75"/>
<line x1="244.8" y1="485.6" x2="244.8" y2="499.8" stroke="#d5d5d5" stroke-width="0.75"/>
<line x1="194.48" y1="485.6" x2="194.48" y2="499.8" stroke="#d0d0d0" stroke-width="0.75"/>
<line x1="203.12" y1="485.6" x2="203.12" y2="499.8" stroke="#838383" stroke-width="0.75"/>
<line x1="263.01" y1="485.6" x2="263.01" y2="499.8" stroke="#838383" stroke-width="0.75"/>
<line x1="196.6" y1="485.6" x2="196.6" y2="499.8" stroke="#595959" stroke-width="0.75"/>
<line x1="256.81" y1="485.6" x2="256.81" y2="499.8" stroke="#a5a5a5" stroke-width="0.75"/>
<line x1="238.81" y1="485.6" x2="238.81" y2="499.8" stroke="#8d8d8d" stroke-width="0.75"/>
<line x1="265.45" y1="485.6" x2="265.45" y2="499.8" stroke="#848484" stroke-width="0.75"/>
<line x1="278.11" y1="485.6" x2="278.11" y2="499.8" stroke="#4f4f4f" stroke-width="0.75"/>
<line x1="243.95" y1="485.6" x2="243.95" y2="499.8" stroke="#3b3b3b" stroke-width="0.75"/>
<line x1="246.89" y1="485.6" x2="246.89" y2="499.8" stroke="#1e1e1e" stroke-width="0.75"/>
<line x1="232.96" y1="485.6" x2="232.96" y2="499.8" stroke="#d0d0d0" stroke-width="0.75"/>
<line x1="281.42" y1="485.6" x2="281.42" y2="499.8" stroke="#404040" stroke-width="0.75"/>
<line x1="269.84" y1="485.6" x2="269.84" y2="499.8" stroke="#595959" stroke-width="0.75"/>
<line x1="257.48" y1="485.6" x2="257.48" y2="499.8" stroke="#737373" stroke-width="0.75"/>
<line x1="221.51" y1="485.6" x2="221.51" y2="499.8" stroke="#606060" stroke-width="0.75"/>
<line x1="199.53" y1="485.6" x2="199.53" y2="499.8" stroke="#5f5f5f" stroke-width="0.75"/>
<line x1="271.61" y1="485.6" x2="271.61" y2="499.8" stroke="#7b7b7b" stroke-width="0.75"/>
<line x1="282.28" y1="485.6" x2="282.28" y2="499.8" stroke="#aeaeae" stroke-width="0.75"/>
<line x1="263.73" y1="485.6" x2="263.73" y2="499.8" stroke="#727272" stroke-width="0.75"/>
<line x1="220.77" y1="485.6" x2="220.77" y2="499.8" stroke="#777777" stroke-width="0.75"/>
<line x1="244.4" y1="485.6" x2="244.4" y2="499.8" stroke="#636363" stroke-width="0.75"/>
<line x1="265.97" y1="485.6" x2="265.97" y2="499.8" stroke="#3f3f3f" stroke-width="0.75"/>
<line x1="269.49" y1="485.6" x2="269.49" y2="499.8" stroke="#898989" stroke-width="0.75"/>
<line x1="288.75" y1="485.6" x2="288.75" y2="499.8" stroke="#7f7f7f" stroke-width="0.75"/>
<line x1="219.6" y1="485.6" x2="219.6" y2="499.8" stroke="#cfcfcf" stroke-width="0.75"/>
<line x1="261.62" y1="485.6" x2="261.62" y2="499.8" stroke="#585858" stroke-width="0.75"/>
<line x1="222.52" y1="485.6" x2="222.52" y2="499.8" stroke="#767676" stroke-width="0.75"/>
<line x1="279.93" y1="485.6" x2="279.93" y2="499.8" stroke="#3e3e3e" stroke-width="0.75"/>
<line x1="244.28" y1="485.6" x2="244.28" y2="499.8" stroke="#939393" stroke-width="0.75"/>
<line x1="234.75" y1="485.6" x2="234.75" y2="499.8" stroke="#8a8a8a" stroke-width="0.75"/>
<line x1="195.76" y1="485.6" x2="195.76" y2="499.8" stroke="#4e4e4e" stroke-width="0.75"/>
<line x1="197.52" y1="485.6" x2="197.52" y2="499.8" stroke="#a8a8a8" stroke-width="0.75"/>
<line x1="281.46" y1="485.6" x2="281.46" y2="499.8" stroke="#525252" stroke-width="0.75"/>
<line x1="240.66" y1="485.6" x2="240.66" y2="499.8" stroke="#6b6b6b" stroke-width="0.75"/>
<line x1="217.03" y1="485.6" x2="217.03" y2="499.8" stroke="#535353" stroke-width="0.75"/>
<line x1="283.41" y1="485.6" x2="283.41" y2="499.8" stroke="#505050" stroke-width="0.75"/>
<line x1="200.56" y1="485.6" x2="200.56" y2="499.8" stroke="#323232" stroke-width="0.75"/>
<line x1="200.97" y1="485.6" x2="200.97" y2="499.8" stroke="#969696" stroke-width="0.75"/>
<line x1="243.61" y1="485.6" x2="243.61" y2="499.8" stroke="#9e9e9e" stroke-width="0.75"/>
<line x1="290.21" y1="485.6" x2="290.21" y2="499.8" stroke="#333333" stroke-width="0.75"/>
<line x1="222.92" y1="485.6" x2="222.92" y2="499.8" stroke="#bfbfbf" stroke-width="0.75"/>
<line x1="233.2" y1="485.6" x2="233.2" y2="499.8" stroke="#8e8e8e" stroke-width="0.75"/>
<line x1="276.16" y1="485.6" x2="276.16" y2="499.8" stroke="#8c8c8c" stroke-width="0.75"/>
<line x1="252.49" y1="485.6" x2="252.49" y2="499.8" stroke="#606060" stroke-width="0.75"/>
<line x1="206.89" y1="485.6" x2="206.89" y2="499.8" stroke="#4d4d4d" stroke-width="0.75"/>
<line x1="233.36" y1="485.6" x2="233.36" y2="499.8" stroke="#5c5c5c" stroke-width="0.75"/>
<line x1="258.88" y1="485.6" x2="258.88" y2="499.8" stroke="#b5b5b5" stroke-width="0.75"/>
<line x1="272.11" y1="485.6" x2="272.11" y2="499.8" stroke="#808080" stroke-width="0.75"/>
<line x1="264.55" y1="485.6" x2="264.55" y2="499.8" stroke="#898989" stroke-width="0.75"/>
<line x1="280.37" y1="485.6" x2="280.37" y2="499.8" stroke="#343434" stroke-width="0.75"/>
<line x1="222.81" y1="485.6" x2="222.81" y2="499.8" stroke="#8b8b8b" stroke-width="0.75"/>
<line x1="289.82" y1="485.6" x2="289.82" y2="499.8" stroke="#b7b7b7" stroke-width="0.75"/>
<line x1="196.09" y1="485.6" x2="196.09" y2="499.8" stroke="#818181" stroke-width="0.75"/>
<line x1="215.74" y1="485.6" x2="215.74" y2="499.8" stroke="#656565" stroke-width="0.75"/>
<line x1="239.42" y1="485.6" x2="239.42" y2="499.8" stroke="#6f6f6f" stroke-width="0.75"/>
<line x1="200.25" y1="485.6" x2="200.25" y2="499.8" stroke="#818181" stroke-width="0.75"/>
<line x1="229.87" y1="485.6" x2="229.87" y2="499.8" stroke="#878787" stroke-width="0.75"/>
<line x1="243.12" y1="485.6" x2="243.12" y2="499.8" stroke="#464646" stroke-width="0.75"/>
<line x1="241.16" y1="485.6" x2="241.16" y2="499.8" stroke="#434343" stroke-width="0.75"/>
<line x1="243" y1="485.6" x2="243" y2="499.8" stroke="#434343" stroke-width="0.75"/>
<line x1="213.23" y1="485.6" x2="213.23" y2="499.8" stroke="#a6a6a6" stroke-width="0.75"/>
<line x1="224.83" y1="485.6" x2="224.83" y2="499.8" stroke="#a4a4a4" stroke-width="0.75"/>
<line x1="193.65" y1="485.6" x2="193.65" y2="499.8" stroke="#363636" stroke-width="0.75"/>
<line x1="242.59" y1="485.6" x2="242.59" y2="499.8" stroke="#717171" stroke-width="0.75"/>
<line x1="267.51" y1="485.6" x2="267.51" y2="499.8" stroke="#272727" stroke-width="0.75"/>
<line x1="284.34" y1="485.6" x2="284.34" y2="499.8" stroke="#6a6a6a" stroke-width="0.75"/>
<line x1="206.57" y1="485.6" x2="206.57" y2="499.8" stroke="#999999" stroke-width="0.75"/>
<line x1="280.04" y1="485.6" x2="280.04" y2="499.8" stroke="#353535" stroke-width="0.75"/>
<line x1="266.44" y1="485.6" x2="266.44" y2="499.8" stroke="#a2a2a2" stroke-width="0.75"/>
<line x1="208.41" y1="485.6" x2="208.41" y2="499.8" stroke="#656565" stroke-width="0.75"/>
<line x1="272.51" y1="485.6" x2="272.51" y2="499.8" stroke="#6e6e6e" stroke-width="0.75"/>
<line x1="274.54" y1="485.6" x2="274.54" y2="499.8" stroke="#323232" stroke-width="0.75"/>
<line x1="200.55" y1="485.6" x2="200.55" y2="499.8" stroke="#444444" stroke-width="0.75"/>
<line x1="227.06" y1="485.6" x2="227.06" y2="499.8" stroke="#7f7f7f" stroke-width="0.75"/>
<line x1="230.28" y1="485.6" x2="230.28" y2="499.8" stroke="#b5b5b5" stroke-width="0.75"/>
<line x1="277.22" y1="485.6" x2="277.22" y2="499.8" stroke="#535353" stroke-width="0.75"/>
<line x1="290.44" y1="485.6" x2="290.44" y2="499.8" stroke="#c1c1c1" stroke-width="0.75"/>
<line x1="253.61" y1="485.6" x2="253.61" y2="499.8" stroke="#8b8b8b" stroke-width="0.75"/>
<line x1="246.21" y1="485.6" x2="246.21" y2="499.8" stroke="#747474" stroke-width="0.75"/>
<line x1="268.23" y1="485.6" x2="268.23" y2="499.8" stroke="#363636" stroke-width="0.75"/>
<line x1="212.44" y1="485.6" x2="212.44" y2="499.8" stroke="#232323" stroke-width="0.75"/>
<line x1="259.89" y1="485.6" x2="259.89" y2="499.8" stroke="#656565" stroke-width="0.75"/>
<line x1="233.11" y1="485.6" x2="233.11" y2="499.8" stroke="#303030" stroke-width="0.75"/>
<line x1="283.3" y1="485.6" x2="283.3" y2="499.8" stroke="#989898" stroke-width="0.75"/>
<line x1="260.45" y1="485.6" x2="260.45" y2="499.8" stroke="#c5c5c5" stroke-width="0.75"/>
<line x1="278.43" y1="485.6" x2="278.43" y2="499.8" stroke="#515151" stroke-width="0.75"/>
<line x1="273.23" y1="485.6" x2="273.23" y2="499.8" stroke="#cecece" stroke-width="0.75"/>
<line x1="286.83" y1="485.6" x2="286.83" y2="499.8" stroke="#cccccc" stroke-width="0.75"/>
<line x1="277.1" y1="485.6" x2="277.1" y2="499.8" stroke="#5d5d5d" stroke-width="0.75"/>
<line x1="286.23" y1="485.6" x2="286.23" y2="499.8" stroke="#9f9f9f" stroke-width="0.75"/>
<line x1="214.7" y1="485.6" x2="214.7" y2="499.8" stroke="#252525" stroke-width="0.75"/>
<line x1="217.64" y1="485.6" x2="217.64" y2="499.8" stroke="#282828" stroke-width="0.75"/>
<line x1="237.92" y1="485.6" x2="237.92" y2="499.8" stroke="#d4d4d4" stroke-width="0.75"/>
<line x1="239.78" y1="485.6" x2="239.78" y2="499.8" stroke="#7f7f7f" stroke-width="0.75"/>
<line x1="203.69" y1="485.6" x2="203.69" y2="499.8" stroke="#1f1f1f" stroke-width="0.75"/>
<line x1="221.19" y1="485.6" x2="221.19" y2="499.8" stroke="#3f3f3f" stroke-width="0.75"/>
<line x1="282.28" y1="485.6" x2="282.28" y2="499.8" stroke="#222222" stroke-width="0.75"/>
<line x1="216.86" y1="485.6" x2="216.86" y2="499.8" stroke="#515151" stroke-width="0.75"/>
<line x1="239.48" y1="485.6" x2="239.48" y2="499.8" stroke="#4b4b4b" stroke-width="0.75"/>
<line x1="237.57" y1="485.6" x2="237.57" y2="499.8" stroke="#9f9f9f" stroke-width="0.75"/>
<line x1="290.27" y1="485.6" x2="290.27" y2="499.8" stroke="#2c2c2c" stroke-width="0.75"/>
<line x1="206.48" y1="485.6" x2="206.48" y2="499.8" stroke="#cccccc" stroke-width="0.75"/>
<line x1="197.84" y1="485.6" x2="197.84" y2="499.8" stroke="#686868" stroke-width="0.75"/>
<line x1="215.8" y1="485.6" x2="215.8" y2="499.8" stroke="#aaaaaa" stroke-width="0.75"/>
<line x1="267.79" y1="485.6" x2="267.79" y2="499.8" stroke="#414141" stroke-width="0.75"/>
<line x1="210.42" y1="485.6" x2="210.42" y2="499.8" stroke="#454545" stroke-width="0.75"/>
<line x1="243.25" y1="485.6" x2="243.25" y2="499.8" stroke="#909090" stroke-width="0.75"/>
<line x1="287.69" y1="485.6" x2="287.69" y2="499.8" stroke="#2e2e2e" stroke-width="0.75"/>
<line x1="285.05" y1="485.6" x2="285.05" y2="499.8" stroke="#3e3e3e" stroke-width="0.75"/>
<line x1="215.74" y1="485.6" x2="215.74" y2="499.8" stroke="#525252" stroke-width="0.75"/>
<line x1="237.96" y1="485.6" x2="237.96" y2="499.8" stroke="#d0d0d0" stroke-width="0.75"/>
<line x1="233.75" y1="485.6" x2="233.75" y2="499.8" stroke="#585858" stroke-width="0.75"/>
<line x1="239.28" y1="485.6" x2="239.28" y2="499.8" stroke="#979797" stroke-width="0.75"/>
<line x1="224.67" y1="485.6" x2="224.67" y2="499.8" stroke="#737373" stroke-width="0.75"/>
<line x1="263.67" y1="485.6" x2="263.67" y2="499.8" stroke="#303030" stroke-width="0.75"/>
<line x1="281.93" y1="485.6" x2="281.93" y2="499.8" stroke="#c5c5c5" stroke-width="0.75"/>
<line x1="274.96" y1="485.6" x2="274.96" y2="499.8" stroke="#c2c2c2" stroke-width="0.75"/>
<line x1="258.89" y1="485.6" x2="258.89" y2="499.8" stroke="#1e1e1e" stroke-width="0.75"/>
<line x1="254.06" y1="485.6" x2="254.06" y2="499.8" stroke="#bebebe" stroke-width="0.75"/>
<line x1="290.5" y1="485.6" x2="290.5" y2="499.8" stroke="#000" stroke-width="0.6"/>
<line x1="290.1" y1="485.6" x2="290.1" y2="499.8" stroke="#000" stroke-width="0.6"/>
<line x1="289.7" y1="485.6" x2="289.7" y2="499.8" stroke="#000" stroke-width="0.6"/>
<line x1="289.3" y1="485.6" x2="289.3" y2="499.8" stroke="#000" stroke-width="0.6"/>
<line x1="288.9" y1="485.6" x2="288.9" y2="499.8" stroke="#000" stroke-width="0.6"/>
<line x1="288.5" y1="485.6" x2="288.5" y2="499.8" stroke="#000" stroke-width="0.6"/>
<line x1="288.1" y1="485.6" x2="288.1" y2="499.8" stroke="#000" stroke-width="0.6"/>
<line x1="287.7" y1="485.6" x2="287.7" y2="499.8" stroke="#000" stroke-width="0.6"/>
<line x1="287.3" y1="485.6" x2="287.3" y2="499.8" stroke="#000" stroke-width="0.6"/>
<line x1="286.9" y1="485.6" x2="286.9" y2="499.8" stroke="#000" stroke-width="0.6"/>
<line x1="286.5" y1="485.6" x2="286.5" y2="499.8" stroke="#000" stroke-width="0.6"/>
<line x1="286.1" y1="485.6" x2="286.1" y2="499.8" stroke="#000" stroke-width="0.6"/>
<line x1="285.7" y1="485.6" x2="285.7" y2="499.8" stroke="#000" stroke-width="0.6"/>
<line x1="285.3" y1="485.6" x2="285.3" y2="499.8" stroke="#000" stroke-width="0.6"/>
<rect x="191.5" y="499.8" width="99" height="3.7" fill="url(#gsbar)" />
<line x1="190.6" y1="503.7" x2="295.9" y2="503.7" stroke="#d0d0d0" stroke-width="0.5" />
<text x="194.6" y="508.2" font-size="5.4" fill="#222" textLength="43.6" lengthAdjust="spacingAndGlyphs">IRF4 overexpression</text>
<polygon points="191.5,517.3 191.5,504 192.12,505.44 192.74,506.61 193.36,507.39 193.97,508.17 194.59,508.9 195.21,509.37 195.83,509.85 196.45,510.33 197.07,510.81 197.69,511.21 198.31,511.47 198.93,511.74 199.54,512 200.16,512.27 200.78,512.53 201.4,512.8 202.02,512.94 202.64,513.09 203.26,513.23 203.88,513.37 204.49,513.51 205.11,513.66 205.73,513.8 206.35,513.94 206.97,514.09 207.59,514.23 208.21,514.37 208.82,514.47 209.44,514.55 210.06,514.64 210.68,514.73 211.3,514.81 211.92,514.9 212.54,514.98 213.16,515.07 213.78,515.16 214.39,515.24 215.01,515.33 215.63,515.41 216.25,515.5 216.87,515.55 217.49,515.6 218.11,515.65 218.72,515.7 219.34,515.75 219.96,515.79 220.58,515.84 221.2,515.89 221.82,515.94 222.44,515.99 223.06,516.04 223.68,516.09 224.29,516.14 224.91,516.19 225.53,516.24 226.15,516.29 226.77,516.33 227.39,516.38 228.01,516.43 228.62,516.48 229.24,516.53 229.86,516.58 230.48,516.61 231.1,516.64 231.72,516.66 232.34,516.68 232.96,516.7 233.57,516.73 234.19,516.75 234.81,516.77 235.43,516.8 236.05,516.82 236.67,516.84 237.29,516.86 237.91,516.89 238.53,516.91 239.14,516.93 239.76,516.95 240.38,516.98 241,517 241.62,517.02 242.24,517.03 242.86,517.05 243.47,517.07 244.09,517.08 244.71,517.1 245.33,517.11 245.95,517.13 246.57,517.15 247.19,517.16 247.81,517.18 248.43,517.2 249.04,517.21 249.66,517.23 250.28,517.24 250.9,517.26 251.52,517.28 252.14,517.29 252.76,517.35 253.38,517.44 253.99,517.52 254.61,517.61 255.23,517.69 255.85,517.78 256.47,517.86 257.09,517.95 257.71,518.03 258.32,518.12 258.94,518.2 259.56,518.29 260.18,518.37 260.8,518.46 261.42,518.54 262.04,518.63 262.66,518.71 263.27,518.8 263.89,518.9 264.51,519.01 265.13,519.11 265.75,519.22 266.37,519.32 266.99,519.42 267.61,519.53 268.23,519.63 268.84,519.74 269.46,519.84 270.08,519.95 270.7,520.05 271.32,520.15 271.94,520.26 272.56,520.36 273.18,520.47 273.79,520.57 274.41,520.67 275.03,520.78 275.65,520.88 276.27,520.99 276.89,521.09 277.51,521.2 278.12,521.3 278.74,521.59 279.36,521.88 279.98,522.17 280.6,522.47 281.22,522.76 281.84,523.05 282.46,523.34 283.07,523.63 283.69,523.92 284.31,524.22 284.93,524.51 285.55,524.8 286.17,525.3 286.79,525.8 287.41,526.3 288.02,526.8 288.64,527.84 289.26,528.88 289.88,529.9 290.5,530.9 290.5,517.3" fill="#c9c9c9" />
<line x1="191.5" y1="517.3" x2="290.5" y2="517.3" stroke="#a9a9a9" stroke-width="0.5" />
<line x1="190.6" y1="531" x2="295.9" y2="531" stroke="#b0b0b0" stroke-width="0.6" />
<text x="241" y="518.6" font-size="2.4" text-anchor="middle" fill="#555">Zero cross at 5279</text>
<text x="285.4" y="530.5" font-size="6.2" text-anchor="end" fill="#222" textLength="7.5" lengthAdjust="spacingAndGlyphs">Ctrl</text>
<text x="187.1" y="505.9" font-size="4.6" text-anchor="middle" fill="#333" transform="rotate(-90 187.1 505.9)" dominant-baseline="middle">4</text>
<text x="187.1" y="511.6" font-size="4.6" text-anchor="middle" fill="#333" transform="rotate(-90 187.1 511.6)" dominant-baseline="middle">2</text>
<text x="187.1" y="517.3" font-size="4.6" text-anchor="middle" fill="#333" transform="rotate(-90 187.1 517.3)" dominant-baseline="middle">0</text>
<text x="187.1" y="523" font-size="4.6" text-anchor="middle" fill="#333" transform="rotate(-90 187.1 523)" dominant-baseline="middle">-2</text>
<text x="187.1" y="528.7" font-size="4.6" text-anchor="middle" fill="#333" transform="rotate(-90 187.1 528.7)" dominant-baseline="middle">-4</text>
<text x="192.1" y="536.4" font-size="3.3" text-anchor="middle" fill="#444">0</text>
<text x="210" y="536.4" font-size="3.3" text-anchor="middle" fill="#444">2,000</text>
<text x="228.51" y="536.4" font-size="3.3" text-anchor="middle" fill="#444">4,000</text>
<text x="247.01" y="536.4" font-size="3.3" text-anchor="middle" fill="#444">6,000</text>
<text x="265.52" y="536.4" font-size="3.3" text-anchor="middle" fill="#444">8,000</text>
<text x="284.02" y="536.4" font-size="3.3" text-anchor="middle" fill="#444">10,000</text>
<text x="241" y="540.7" font-size="3.3" text-anchor="middle" fill="#444">Rank in ordered dataset</text>
<rect x="195.6" y="542.8" width="85.5" height="4.6" fill="#fff" stroke="#9a9a9a" stroke-width="0.6" />
<line x1="197.1" y1="545.2" x2="201.1" y2="545.2" stroke="#8cf04c" stroke-width="0.9" />
<text x="202.1" y="546.2" font-size="2.9" fill="#555">Enrichment profile</text>
<line x1="228.6" y1="545.2" x2="231.6" y2="545.2" stroke="#555" stroke-width="0.5" />
<text x="232.6" y="546.2" font-size="2.9" fill="#555">Hits</text>
<line x1="246.6" y1="545.2" x2="249.6" y2="545.2" stroke="#aaa" stroke-width="0.5" />
<text x="250.6" y="546.2" font-size="2.9" fill="#555">Ranking metric scores</text>
<rect x="190.6" y="441.2" width="105.3" height="107.8" fill="none" stroke="#8a8a8a" stroke-width="1" />
<text x="171.5" y="464.2" font-size="6.3" text-anchor="middle" fill="#222" textLength="53.5" lengthAdjust="spacingAndGlyphs" transform="rotate(-90 171.5 464.2)">Enrichment score (ES)</text>
<text x="168.7" y="517.9" font-size="6.3" text-anchor="middle" fill="#222" textLength="44.5" lengthAdjust="spacingAndGlyphs" transform="rotate(-90 168.7 517.9)">Ranked list metric</text>
<text x="178" y="517.8" font-size="6.3" text-anchor="middle" fill="#222" textLength="36.5" lengthAdjust="spacingAndGlyphs" transform="rotate(-90 178 517.8)">(Signal2Noise)</text>
<text x="192.2" y="577.2" font-size="14.5" font-weight="bold">H</text>
<text x="229.1" y="587.1" font-size="7.35" fill="#111" textLength="54.5" lengthAdjust="spacingAndGlyphs">Enrichment plot:</text>
<text x="229.1" y="595.55" font-size="7.35" fill="#111" textLength="80.5" lengthAdjust="spacingAndGlyphs">Prognistically favorable:</text>
<text x="229.1" y="604" font-size="7.35" fill="#111" textLength="104.2" lengthAdjust="spacingAndGlyphs">STROMAL-1_DLBCL_SURVIVAL_</text>
<text x="229.1" y="612.45" font-size="7.35" fill="#111" textLength="39.6" lengthAdjust="spacingAndGlyphs">PREDICTOR</text>
<line x1="229.8" y1="623.65" x2="335.2" y2="623.65" stroke="#f2f2f2" stroke-width="0.5" />
<text x="226.1" y="625.45" font-size="5.3" text-anchor="end" fill="#222">0.5</text>
<line x1="229.8" y1="629.04" x2="335.2" y2="629.04" stroke="#f2f2f2" stroke-width="0.5" />
<text x="226.1" y="630.84" font-size="5.3" text-anchor="end" fill="#222">0.4</text>
<line x1="229.8" y1="634.43" x2="335.2" y2="634.43" stroke="#f2f2f2" stroke-width="0.5" />
<text x="226.1" y="636.23" font-size="5.3" text-anchor="end" fill="#222">0.3</text>
<line x1="229.8" y1="639.82" x2="335.2" y2="639.82" stroke="#f2f2f2" stroke-width="0.5" />
<text x="226.1" y="641.62" font-size="5.3" text-anchor="end" fill="#222">0.2</text>
<line x1="229.8" y1="645.21" x2="335.2" y2="645.21" stroke="#f2f2f2" stroke-width="0.5" />
<text x="226.1" y="647.01" font-size="5.3" text-anchor="end" fill="#222">0.1</text>
<text x="226.1" y="652.4" font-size="5.3" text-anchor="end" fill="#222">0.0</text>
<line x1="229.8" y1="655.99" x2="335.2" y2="655.99" stroke="#f2f2f2" stroke-width="0.5" />
<text x="226.1" y="657.79" font-size="5.3" text-anchor="end" fill="#222">-0.1</text>
<line x1="229.8" y1="661.38" x2="335.2" y2="661.38" stroke="#f2f2f2" stroke-width="0.5" />
<text x="226.1" y="663.18" font-size="5.3" text-anchor="end" fill="#222">-0.2</text>
<line x1="249.6" y1="619" x2="249.6" y2="661.2" stroke="#f2f2f2" stroke-width="0.5" />
<line x1="249.6" y1="680.5" x2="249.6" y2="709" stroke="#f2f2f2" stroke-width="0.5" />
<line x1="268.9" y1="619" x2="268.9" y2="661.2" stroke="#f2f2f2" stroke-width="0.5" />
<line x1="268.9" y1="680.5" x2="268.9" y2="709" stroke="#f2f2f2" stroke-width="0.5" />
<line x1="288.2" y1="619" x2="288.2" y2="661.2" stroke="#f2f2f2" stroke-width="0.5" />
<line x1="288.2" y1="680.5" x2="288.2" y2="709" stroke="#f2f2f2" stroke-width="0.5" />
<line x1="307.5" y1="619" x2="307.5" y2="661.2" stroke="#f2f2f2" stroke-width="0.5" />
<line x1="307.5" y1="680.5" x2="307.5" y2="709" stroke="#f2f2f2" stroke-width="0.5" />
<line x1="326.8" y1="619" x2="326.8" y2="661.2" stroke="#f2f2f2" stroke-width="0.5" />
<line x1="326.8" y1="680.5" x2="326.8" y2="709" stroke="#f2f2f2" stroke-width="0.5" />
<line x1="229.4" y1="650.6" x2="335.8" y2="650.6" stroke="#a8a8a8" stroke-width="0.7" />
<line x1="229.4" y1="661.2" x2="335.8" y2="661.2" stroke="#c8c8c8" stroke-width="0.6" />
<polyline points="229.9,650.6 230.3,645.21 231,634.43 231.6,629.58 232.7,626.35 233.8,625.27 235,622.03 236,620.42 237.8,622.03 239.4,621.22 241.6,622.03 243.8,622.84 247.1,623.38 251.5,625.27 256,627.42 269.2,633.89 282.5,640.63 295.8,647.37 304.6,651.68 313.5,654.91 320.1,658.15 323.4,658.95 325.6,657.88 327.2,658.69 328.9,655.99 331.1,651.41 332.3,650.06" fill="none" stroke="#8cf04c" stroke-width="1.25" stroke-linejoin="round" />
<text x="304.4" y="628.9" font-size="6" fill="#111" textLength="26.5" lengthAdjust="spacingAndGlyphs">NES: 1.46</text>
<text x="304.4" y="635.8" font-size="6" fill="#111" textLength="29.2" lengthAdjust="spacingAndGlyphs">FDR: 0.075</text>
<line x1="230.1" y1="662.4" x2="230.1" y2="676.2" stroke="#5d5d5d" stroke-width="0.7"/>
<line x1="230.6" y1="662.4" x2="230.6" y2="676.2" stroke="#707070" stroke-width="0.7"/>
<line x1="231.2" y1="662.4" x2="231.2" y2="676.2" stroke="#030303" stroke-width="0.7"/>
<line x1="231.8" y1="662.4" x2="231.8" y2="676.2" stroke="#717171" stroke-width="0.7"/>
<line x1="232.4" y1="662.4" x2="232.4" y2="676.2" stroke="#414141" stroke-width="0.7"/>
<line x1="233" y1="662.4" x2="233" y2="676.2" stroke="#484848" stroke-width="0.7"/>
<line x1="233.9" y1="662.4" x2="233.9" y2="676.2" stroke="#585858" stroke-width="0.7"/>
<line x1="235.4" y1="662.4" x2="235.4" y2="676.2" stroke="#282828" stroke-width="0.7"/>
<line x1="237.5" y1="662.4" x2="237.5" y2="676.2" stroke="#898989" stroke-width="0.7"/>
<line x1="240.7" y1="662.4" x2="240.7" y2="676.2" stroke="#070707" stroke-width="0.7"/>
<line x1="241.8" y1="662.4" x2="241.8" y2="676.2" stroke="#262626" stroke-width="0.7"/>
<line x1="242.4" y1="662.4" x2="242.4" y2="676.2" stroke="#353535" stroke-width="0.7"/>
<line x1="278.8" y1="662.4" x2="278.8" y2="676.2" stroke="#4f4f4f" stroke-width="0.7"/>
<line x1="280.9" y1="662.4" x2="280.9" y2="676.2" stroke="#393939" stroke-width="0.7"/>
<line x1="282.6" y1="662.4" x2="282.6" y2="676.2" stroke="#121212" stroke-width="0.7"/>
<line x1="284.7" y1="662.4" x2="284.7" y2="676.2" stroke="#060606" stroke-width="0.7"/>
<line x1="286.2" y1="662.4" x2="286.2" y2="676.2" stroke="#000000" stroke-width="0.7"/>
<line x1="289.3" y1="662.4" x2="289.3" y2="676.2" stroke="#060606" stroke-width="0.7"/>
<line x1="292.5" y1="662.4" x2="292.5" y2="676.2" stroke="#141414" stroke-width="0.7"/>
<line x1="297.8" y1="662.4" x2="297.8" y2="676.2" stroke="#8b8b8b" stroke-width="0.7"/>
<line x1="300.4" y1="662.4" x2="300.4" y2="676.2" stroke="#1a1a1a" stroke-width="0.7"/>
<line x1="304.2" y1="662.4" x2="304.2" y2="676.2" stroke="#5b5b5b" stroke-width="0.7"/>
<line x1="306.7" y1="662.4" x2="306.7" y2="676.2" stroke="#696969" stroke-width="0.7"/>
<line x1="309.4" y1="662.4" x2="309.4" y2="676.2" stroke="#202020" stroke-width="0.7"/>
<line x1="317.9" y1="662.4" x2="317.9" y2="676.2" stroke="#272727" stroke-width="0.7"/>
<line x1="321.1" y1="662.4" x2="321.1" y2="676.2" stroke="#3c3c3c" stroke-width="0.7"/>
<line x1="323.2" y1="662.4" x2="323.2" y2="676.2" stroke="#242424" stroke-width="0.7"/>
<line x1="324.9" y1="662.4" x2="324.9" y2="676.2" stroke="#888888" stroke-width="0.7"/>
<line x1="326.4" y1="662.4" x2="326.4" y2="676.2" stroke="#181818" stroke-width="0.7"/>
<line x1="327.5" y1="662.4" x2="327.5" y2="676.2" stroke="#7d7d7d" stroke-width="0.7"/>
<line x1="328.5" y1="662.4" x2="328.5" y2="676.2" stroke="#6f6f6f" stroke-width="0.7"/>
<line x1="329.5" y1="662.4" x2="329.5" y2="676.2" stroke="#767676" stroke-width="0.7"/>
<line x1="330.6" y1="662.4" x2="330.6" y2="676.2" stroke="#101010" stroke-width="0.7"/>
<rect x="230.3" y="676.2" width="100.1" height="3.7" fill="url(#gsbarH)" />
<line x1="229.4" y1="680.1" x2="335.8" y2="680.1" stroke="#d0d0d0" stroke-width="0.5" />
<text x="234.9" y="683.9" font-size="5.4" fill="#222" textLength="48.7" lengthAdjust="spacingAndGlyphs">Raji: OBF1 knockdown</text>
<polygon points="230.3,694.1 230.3,680.8 230.93,682.24 231.55,683.41 232.18,684.19 232.8,684.98 233.43,685.7 234.05,686.18 234.68,686.65 235.31,687.13 235.93,687.61 236.56,688.01 237.18,688.27 237.81,688.54 238.43,688.8 239.06,689.07 239.68,689.33 240.31,689.6 240.94,689.74 241.56,689.89 242.19,690.03 242.81,690.17 243.44,690.31 244.06,690.46 244.69,690.6 245.32,690.74 245.94,690.89 246.57,691.03 247.19,691.17 247.82,691.27 248.44,691.35 249.07,691.44 249.69,691.53 250.32,691.61 250.95,691.7 251.57,691.78 252.2,691.87 252.82,691.96 253.45,692.04 254.07,692.13 254.7,692.21 255.33,692.3 255.95,692.35 256.58,692.4 257.2,692.45 257.83,692.5 258.45,692.55 259.08,692.59 259.7,692.64 260.33,692.69 260.96,692.74 261.58,692.79 262.21,692.84 262.83,692.89 263.46,692.94 264.08,692.99 264.71,693.04 265.34,693.09 265.96,693.13 266.59,693.18 267.21,693.23 267.84,693.28 268.46,693.33 269.09,693.38 269.71,693.41 270.34,693.44 270.97,693.46 271.59,693.48 272.22,693.5 272.84,693.53 273.47,693.55 274.09,693.57 274.72,693.6 275.35,693.62 275.97,693.64 276.6,693.66 277.22,693.69 277.85,693.71 278.47,693.73 279.1,693.75 279.72,693.78 280.35,693.8 280.98,693.84 281.6,693.88 282.23,693.91 282.85,693.95 283.48,693.99 284.1,694.02 284.73,694.06 285.36,694.1 285.98,694.19 286.61,694.27 287.23,694.36 287.86,694.44 288.48,694.53 289.11,694.61 289.73,694.7 290.36,694.78 290.99,694.87 291.61,694.95 292.24,695.04 292.86,695.12 293.49,695.21 294.11,695.29 294.74,695.38 295.37,695.46 295.99,695.55 296.62,695.64 297.24,695.75 297.87,695.85 298.49,695.95 299.12,696.06 299.74,696.16 300.37,696.27 301,696.37 301.62,696.48 302.25,696.58 302.87,696.68 303.5,696.79 304.12,696.89 304.75,697 305.38,697.1 306,697.2 306.63,697.31 307.25,697.41 307.88,697.52 308.5,697.62 309.13,697.73 309.75,697.83 310.38,697.93 311.01,698.04 311.63,698.16 312.26,698.32 312.88,698.48 313.51,698.63 314.13,698.79 314.76,698.94 315.39,699.1 316.01,699.26 316.64,699.41 317.26,699.57 317.89,699.73 318.51,699.88 319.14,700.04 319.76,700.19 320.39,700.35 321.02,700.51 321.64,700.66 322.27,700.82 322.89,700.98 323.52,701.13 324.14,701.29 324.77,701.44 325.4,701.6 326.02,702.1 326.65,702.6 327.27,703.1 327.9,703.6 328.52,704.64 329.15,705.68 329.77,706.7 330.4,707.7 330.4,694.1" fill="#c9c9c9" />
<line x1="230.3" y1="694.1" x2="330.4" y2="694.1" stroke="#a9a9a9" stroke-width="0.5" />
<line x1="229.4" y1="707.8" x2="335.8" y2="707.8" stroke="#b0b0b0" stroke-width="0.6" />
<text x="280.35" y="695.4" font-size="2.4" text-anchor="middle" fill="#555">Zero cross at 5279</text>
<text x="324" y="707.3" font-size="6.2" text-anchor="end" fill="#222" textLength="27.6" lengthAdjust="spacingAndGlyphs">Raji: SHC002</text>
<text x="225.8" y="684.3" font-size="4.6" text-anchor="end" fill="#333">4</text>
<text x="225.8" y="690" font-size="4.6" text-anchor="end" fill="#333">2</text>
<text x="225.8" y="695.7" font-size="4.6" text-anchor="end" fill="#333">0</text>
<text x="225.8" y="701.4" font-size="4.6" text-anchor="end" fill="#333">-2</text>
<text x="225.8" y="707.1" font-size="4.6" text-anchor="end" fill="#333">-4</text>
<text x="230.9" y="713.2" font-size="3.3" text-anchor="middle" fill="#444">0</text>
<text x="249.01" y="713.2" font-size="3.3" text-anchor="middle" fill="#444">2,000</text>
<text x="267.72" y="713.2" font-size="3.3" text-anchor="middle" fill="#444">4,000</text>
<text x="286.43" y="713.2" font-size="3.3" text-anchor="middle" fill="#444">6,000</text>
<text x="305.14" y="713.2" font-size="3.3" text-anchor="middle" fill="#444">8,000</text>
<text x="323.85" y="713.2" font-size="3.3" text-anchor="middle" fill="#444">10,000</text>
<text x="280.35" y="717.5" font-size="3.3" text-anchor="middle" fill="#444">Rank in Ordered Dataset</text>
<rect x="234.4" y="719.6" width="85.5" height="4.6" fill="#fff" stroke="#9a9a9a" stroke-width="0.6" />
<line x1="235.9" y1="722" x2="239.9" y2="722" stroke="#8cf04c" stroke-width="0.9" />
<text x="240.9" y="723" font-size="2.9" fill="#555">Enrichment profile</text>
<line x1="267.4" y1="722" x2="270.4" y2="722" stroke="#555" stroke-width="0.5" />
<text x="271.4" y="723" font-size="2.9" fill="#555">Hits</text>
<line x1="285.4" y1="722" x2="288.4" y2="722" stroke="#aaa" stroke-width="0.5" />
<text x="289.4" y="723" font-size="2.9" fill="#555">Ranking metric scores</text>
<rect x="229.4" y="618" width="106.4" height="107.8" fill="none" stroke="#8a8a8a" stroke-width="1" />
<text x="214.2" y="639.8" font-size="6.3" text-anchor="middle" fill="#222" textLength="53.5" lengthAdjust="spacingAndGlyphs" transform="rotate(-90 214.2 639.8)">Enrichment score (ES)</text>
<text x="207.5" y="694.7" font-size="6.3" text-anchor="middle" fill="#222" textLength="44.5" lengthAdjust="spacingAndGlyphs" transform="rotate(-90 207.5 694.7)">Ranked list metric</text>
<text x="216.8" y="694.6" font-size="6.3" text-anchor="middle" fill="#222" textLength="36.5" lengthAdjust="spacingAndGlyphs" transform="rotate(-90 216.8 694.6)">(Signal2Noise)</text>
<text x="359" y="587.1" font-size="7.35" fill="#111" textLength="54.5" lengthAdjust="spacingAndGlyphs">Enrichment plot:</text>
<text x="359" y="595.55" font-size="7.35" fill="#111" textLength="80.5" lengthAdjust="spacingAndGlyphs">Prognistically favorable:</text>
<text x="359" y="604" font-size="7.35" fill="#111" textLength="124.6" lengthAdjust="spacingAndGlyphs">GERMINAL_CENTER_B_CELL_DLBCL_</text>
<text x="359" y="612.45" font-size="7.35" fill="#111" textLength="74.5" lengthAdjust="spacingAndGlyphs">SURVIVAL_PREDICTOR</text>
<line x1="360" y1="620.06" x2="465.1" y2="620.06" stroke="#f2f2f2" stroke-width="0.5" />
<text x="355" y="621.86" font-size="5.3" text-anchor="end" fill="#222">0.4</text>
<line x1="360" y1="626.82" x2="465.1" y2="626.82" stroke="#f2f2f2" stroke-width="0.5" />
<text x="355" y="628.62" font-size="5.3" text-anchor="end" fill="#222">0.3</text>
<line x1="360" y1="633.58" x2="465.1" y2="633.58" stroke="#f2f2f2" stroke-width="0.5" />
<text x="355" y="635.38" font-size="5.3" text-anchor="end" fill="#222">0.2</text>
<line x1="360" y1="640.34" x2="465.1" y2="640.34" stroke="#f2f2f2" stroke-width="0.5" />
<text x="355" y="642.14" font-size="5.3" text-anchor="end" fill="#222">0.1</text>
<text x="355" y="648.9" font-size="5.3" text-anchor="end" fill="#222">0.0</text>
<line x1="360" y1="653.86" x2="465.1" y2="653.86" stroke="#f2f2f2" stroke-width="0.5" />
<text x="355" y="655.66" font-size="5.3" text-anchor="end" fill="#222">-0.1</text>
<line x1="360" y1="660.62" x2="465.1" y2="660.62" stroke="#f2f2f2" stroke-width="0.5" />
<text x="355" y="662.42" font-size="5.3" text-anchor="end" fill="#222">-0.2</text>
<line x1="379.8" y1="619" x2="379.8" y2="661.2" stroke="#f2f2f2" stroke-width="0.5" />
<line x1="379.8" y1="680.5" x2="379.8" y2="709" stroke="#f2f2f2" stroke-width="0.5" />
<line x1="399.1" y1="619" x2="399.1" y2="661.2" stroke="#f2f2f2" stroke-width="0.5" />
<line x1="399.1" y1="680.5" x2="399.1" y2="709" stroke="#f2f2f2" stroke-width="0.5" />
<line x1="418.4" y1="619" x2="418.4" y2="661.2" stroke="#f2f2f2" stroke-width="0.5" />
<line x1="418.4" y1="680.5" x2="418.4" y2="709" stroke="#f2f2f2" stroke-width="0.5" />
<line x1="437.7" y1="619" x2="437.7" y2="661.2" stroke="#f2f2f2" stroke-width="0.5" />
<line x1="437.7" y1="680.5" x2="437.7" y2="709" stroke="#f2f2f2" stroke-width="0.5" />
<line x1="457" y1="619" x2="457" y2="661.2" stroke="#f2f2f2" stroke-width="0.5" />
<line x1="457" y1="680.5" x2="457" y2="709" stroke="#f2f2f2" stroke-width="0.5" />
<line x1="359.6" y1="647.1" x2="465.7" y2="647.1" stroke="#a8a8a8" stroke-width="0.7" />
<line x1="359.6" y1="661.2" x2="465.7" y2="661.2" stroke="#c8c8c8" stroke-width="0.6" />
<polyline points="361.2,647.44 361.6,641.69 362.7,634.26 364.3,625.13 365.6,625.13 366.7,620.4 368.3,621.21 370.5,621.95 372.2,620.74 374.5,622.36 376,621.95 379.3,624.12 383.7,627.5 390.4,630.34 399.2,636.28 408,641.89 414.7,645.61 420.2,647.78 425.8,650.68 430.2,653.39 433.5,652.51 436.8,654.54 441.2,655.75 445.7,656.16 450.1,656.16 453.4,657.24 456.3,658.32 457.2,656.16 457.8,646.42 458.6,646.02 460,646.42" fill="none" stroke="#8cf04c" stroke-width="1.25" stroke-linejoin="round" />
<text x="428" y="628.6" font-size="6" fill="#111" textLength="25.8" lengthAdjust="spacingAndGlyphs">NES: 1.41</text>
<text x="428" y="635.5" font-size="6" fill="#111" textLength="29.9" lengthAdjust="spacingAndGlyphs">FDR: 0.090</text>
<line x1="362.2" y1="662.4" x2="362.2" y2="676.2" stroke="#363636" stroke-width="0.7"/>
<line x1="363.3" y1="662.4" x2="363.3" y2="676.2" stroke="#575757" stroke-width="0.7"/>
<line x1="365.4" y1="662.4" x2="365.4" y2="676.2" stroke="#454545" stroke-width="0.7"/>
<line x1="366.9" y1="662.4" x2="366.9" y2="676.2" stroke="#5d5d5d" stroke-width="0.7"/>
<line x1="371.1" y1="662.4" x2="371.1" y2="676.2" stroke="#5e5e5e" stroke-width="0.7"/>
<line x1="374.5" y1="662.4" x2="374.5" y2="676.2" stroke="#5c5c5c" stroke-width="0.7"/>
<line x1="375.3" y1="662.4" x2="375.3" y2="676.2" stroke="#080808" stroke-width="0.7"/>
<line x1="383.8" y1="662.4" x2="383.8" y2="676.2" stroke="#868686" stroke-width="0.7"/>
<line x1="387.2" y1="662.4" x2="387.2" y2="676.2" stroke="#4d4d4d" stroke-width="0.7"/>
<line x1="389.3" y1="662.4" x2="389.3" y2="676.2" stroke="#7e7e7e" stroke-width="0.7"/>
<line x1="406.7" y1="662.4" x2="406.7" y2="676.2" stroke="#262626" stroke-width="0.7"/>
<line x1="408.1" y1="662.4" x2="408.1" y2="676.2" stroke="#323232" stroke-width="0.7"/>
<line x1="408.8" y1="662.4" x2="408.8" y2="676.2" stroke="#7b7b7b" stroke-width="0.7"/>
<line x1="413.4" y1="662.4" x2="413.4" y2="676.2" stroke="#1a1a1a" stroke-width="0.7"/>
<line x1="414.7" y1="662.4" x2="414.7" y2="676.2" stroke="#080808" stroke-width="0.7"/>
<line x1="416.2" y1="662.4" x2="416.2" y2="676.2" stroke="#343434" stroke-width="0.7"/>
<line x1="417.2" y1="662.4" x2="417.2" y2="676.2" stroke="#5f5f5f" stroke-width="0.7"/>
<line x1="419.3" y1="662.4" x2="419.3" y2="676.2" stroke="#111111" stroke-width="0.7"/>
<line x1="421" y1="662.4" x2="421" y2="676.2" stroke="#797979" stroke-width="0.7"/>
<line x1="427.8" y1="662.4" x2="427.8" y2="676.2" stroke="#2f2f2f" stroke-width="0.7"/>
<line x1="429.9" y1="662.4" x2="429.9" y2="676.2" stroke="#1f1f1f" stroke-width="0.7"/>
<line x1="432.5" y1="662.4" x2="432.5" y2="676.2" stroke="#4c4c4c" stroke-width="0.7"/>
<line x1="434.2" y1="662.4" x2="434.2" y2="676.2" stroke="#7d7d7d" stroke-width="0.7"/>
<line x1="437.3" y1="662.4" x2="437.3" y2="676.2" stroke="#7b7b7b" stroke-width="0.7"/>
<line x1="438.4" y1="662.4" x2="438.4" y2="676.2" stroke="#7a7a7a" stroke-width="0.7"/>
<line x1="441.6" y1="662.4" x2="441.6" y2="676.2" stroke="#2a2a2a" stroke-width="0.7"/>
<line x1="443.7" y1="662.4" x2="443.7" y2="676.2" stroke="#020202" stroke-width="0.7"/>
<line x1="449" y1="662.4" x2="449" y2="676.2" stroke="#6c6c6c" stroke-width="0.7"/>
<line x1="451.1" y1="662.4" x2="451.1" y2="676.2" stroke="#636363" stroke-width="0.7"/>
<line x1="452.1" y1="662.4" x2="452.1" y2="676.2" stroke="#6b6b6b" stroke-width="0.7"/>
<line x1="457" y1="662.4" x2="457" y2="676.2" stroke="#000000" stroke-width="0.7"/>
<line x1="457.8" y1="662.4" x2="457.8" y2="676.2" stroke="#050505" stroke-width="0.7"/>
<rect x="360.5" y="676.2" width="99.8" height="3.7" fill="url(#gsbarH)" />
<line x1="359.6" y1="680.1" x2="465.7" y2="680.1" stroke="#d0d0d0" stroke-width="0.5" />
<text x="365.1" y="683.9" font-size="5.4" fill="#222" textLength="48.7" lengthAdjust="spacingAndGlyphs">Raji: OBF1 knockdown</text>
<polygon points="360.5,694.1 360.5,680.8 361.12,682.24 361.75,683.41 362.37,684.19 363,684.98 363.62,685.7 364.24,686.18 364.87,686.65 365.49,687.13 366.11,687.61 366.74,688.01 367.36,688.27 367.99,688.54 368.61,688.8 369.23,689.07 369.86,689.33 370.48,689.6 371.1,689.74 371.73,689.89 372.35,690.03 372.98,690.17 373.6,690.31 374.22,690.46 374.85,690.6 375.47,690.74 376.09,690.89 376.72,691.03 377.34,691.17 377.96,691.27 378.59,691.35 379.21,691.44 379.84,691.53 380.46,691.61 381.08,691.7 381.71,691.78 382.33,691.87 382.95,691.96 383.58,692.04 384.2,692.13 384.83,692.21 385.45,692.3 386.07,692.35 386.7,692.4 387.32,692.45 387.94,692.5 388.57,692.55 389.19,692.59 389.82,692.64 390.44,692.69 391.06,692.74 391.69,692.79 392.31,692.84 392.94,692.89 393.56,692.94 394.18,692.99 394.81,693.04 395.43,693.09 396.05,693.13 396.68,693.18 397.3,693.23 397.93,693.28 398.55,693.33 399.17,693.38 399.8,693.41 400.42,693.44 401.04,693.46 401.67,693.48 402.29,693.5 402.92,693.53 403.54,693.55 404.16,693.57 404.79,693.6 405.41,693.62 406.03,693.64 406.66,693.66 407.28,693.69 407.9,693.71 408.53,693.73 409.15,693.75 409.78,693.78 410.4,693.8 411.02,693.84 411.65,693.88 412.27,693.91 412.89,693.95 413.52,693.99 414.14,694.02 414.77,694.06 415.39,694.1 416.01,694.19 416.64,694.27 417.26,694.36 417.88,694.44 418.51,694.53 419.13,694.61 419.76,694.7 420.38,694.78 421,694.87 421.63,694.95 422.25,695.04 422.88,695.12 423.5,695.21 424.12,695.29 424.75,695.38 425.37,695.46 425.99,695.55 426.62,695.64 427.24,695.75 427.87,695.85 428.49,695.95 429.11,696.06 429.74,696.16 430.36,696.27 430.98,696.37 431.61,696.48 432.23,696.58 432.86,696.68 433.48,696.79 434.1,696.89 434.73,697 435.35,697.1 435.97,697.2 436.6,697.31 437.22,697.41 437.85,697.52 438.47,697.62 439.09,697.73 439.72,697.83 440.34,697.93 440.96,698.04 441.59,698.16 442.21,698.32 442.84,698.48 443.46,698.63 444.08,698.79 444.71,698.94 445.33,699.1 445.95,699.26 446.58,699.41 447.2,699.57 447.83,699.73 448.45,699.88 449.07,700.04 449.7,700.19 450.32,700.35 450.94,700.51 451.57,700.66 452.19,700.82 452.81,700.98 453.44,701.13 454.06,701.29 454.69,701.44 455.31,701.6 455.93,702.1 456.56,702.6 457.18,703.1 457.81,703.6 458.43,704.64 459.05,705.68 459.68,706.7 460.3,707.7 460.3,694.1" fill="#c9c9c9" />
<line x1="360.5" y1="694.1" x2="460.3" y2="694.1" stroke="#a9a9a9" stroke-width="0.5" />
<line x1="359.6" y1="707.8" x2="465.7" y2="707.8" stroke="#b0b0b0" stroke-width="0.6" />
<text x="410.4" y="695.4" font-size="2.4" text-anchor="middle" fill="#555">Zero cross at 5279</text>
<text x="453.9" y="707.3" font-size="6.2" text-anchor="end" fill="#222" textLength="27.6" lengthAdjust="spacingAndGlyphs">Raji: SHC002</text>
<text x="355" y="684.3" font-size="4.6" text-anchor="end" fill="#333">4</text>
<text x="355" y="690" font-size="4.6" text-anchor="end" fill="#333">2</text>
<text x="355" y="695.7" font-size="4.6" text-anchor="end" fill="#333">0</text>
<text x="355" y="701.4" font-size="4.6" text-anchor="end" fill="#333">-2</text>
<text x="355" y="707.1" font-size="4.6" text-anchor="end" fill="#333">-4</text>
<text x="361.1" y="713.2" font-size="3.3" text-anchor="middle" fill="#444">0</text>
<text x="379.15" y="713.2" font-size="3.3" text-anchor="middle" fill="#444">2,000</text>
<text x="397.81" y="713.2" font-size="3.3" text-anchor="middle" fill="#444">4,000</text>
<text x="416.46" y="713.2" font-size="3.3" text-anchor="middle" fill="#444">6,000</text>
<text x="435.12" y="713.2" font-size="3.3" text-anchor="middle" fill="#444">8,000</text>
<text x="453.77" y="713.2" font-size="3.3" text-anchor="middle" fill="#444">10,000</text>
<text x="410.4" y="717.5" font-size="3.3" text-anchor="middle" fill="#444">Rank in Ordered Dataset</text>
<rect x="364.6" y="719.6" width="85.5" height="4.6" fill="#fff" stroke="#9a9a9a" stroke-width="0.6" />
<line x1="366.1" y1="722" x2="370.1" y2="722" stroke="#8cf04c" stroke-width="0.9" />
<text x="371.1" y="723" font-size="2.9" fill="#555">Enrichment profile</text>
<line x1="397.6" y1="722" x2="400.6" y2="722" stroke="#555" stroke-width="0.5" />
<text x="401.6" y="723" font-size="2.9" fill="#555">Hits</text>
<line x1="415.6" y1="722" x2="418.6" y2="722" stroke="#aaa" stroke-width="0.5" />
<text x="419.6" y="723" font-size="2.9" fill="#555">Ranking metric scores</text>
<rect x="359.6" y="618" width="106.1" height="107.8" fill="none" stroke="#8a8a8a" stroke-width="1" />
<text x="310.4" y="197.3" font-size="14.5" font-weight="bold">D</text>
<text x="400.9" y="209.8" font-size="9.4" text-anchor="middle" textLength="128.5" lengthAdjust="spacingAndGlyphs">Differentially expressed genes</text>
<text x="400.8" y="220" font-size="9.4" text-anchor="middle" textLength="110.4" lengthAdjust="spacingAndGlyphs">upon IRF4 overexpression</text>
<path d="M396.5 289.8h0M436.4 287.7h0M377.7 287.5h0M408.2 286.2h0M370.6 283.4h0M412.0 285.5h0M375.5 285.6h0M393.5 287.0h0M386.7 286.8h0M432.5 286.5h0M399.7 288.7h0M413.4 287.2h0M397.3 286.6h0M380.0 285.0h0M383.7 288.9h0M384.5 287.2h0M390.8 287.5h0M423.8 288.3h0M418.3 287.8h0M386.3 288.9h0M378.6 288.4h0M379.6 285.1h0M388.2 287.0h0M382.0 289.0h0M403.3 287.2h0M393.2 284.7h0M384.7 286.6h0M377.2 285.1h0M404.5 286.0h0M414.5 287.3h0M370.7 287.8h0M377.3 286.3h0M372.3 287.6h0M383.0 284.3h0M374.9 290.0h0M394.5 284.2h0M397.4 285.6h0M389.1 287.0h0M421.6 288.1h0M388.1 288.4h0M376.9 284.2h0M405.0 285.3h0M369.3 288.7h0M374.0 286.8h0M373.2 291.6h0M375.9 288.2h0M395.7 287.8h0M401.6 286.0h0M379.7 289.1h0M380.7 287.4h0M382.8 284.9h0M380.4 289.4h0M380.2 286.0h0M377.1 288.5h0M408.7 287.9h0M397.4 287.1h0M390.5 286.3h0M398.8 285.3h0M384.7 287.9h0M393.2 286.1h0M407.5 287.1h0M384.9 289.1h0M382.6 285.5h0M370.6 286.4h0M402.8 287.9h0M397.7 290.4h0M378.8 285.1h0M414.6 286.8h0M391.0 290.5h0M387.7 288.1h0M380.4 287.6h0M374.5 287.0h0M380.6 287.1h0M371.6 288.0h0M370.4 286.0h0M379.9 283.6h0M384.2 283.3h0M383.8 287.8h0M372.6 286.5h0M382.6 286.1h0M378.1 287.6h0M379.3 286.4h0M386.9 285.2h0M413.4 288.1h0M385.0 285.3h0M376.0 286.5h0M420.1 288.1h0M385.7 285.5h0M398.5 287.9h0M395.1 288.2h0M383.9 287.0h0M396.0 287.9h0M369.0 284.4h0M369.1 284.9h0M386.8 284.9h0M372.2 288.3h0M378.8 287.0h0M402.1 287.2h0M423.2 286.7h0M391.9 287.1h0M403.7 286.9h0M413.4 286.5h0M408.9 287.3h0M435.7 285.9h0M375.1 289.3h0M379.9 288.1h0M413.2 285.9h0M393.0 285.3h0M395.8 286.5h0M375.2 285.6h0M391.1 285.7h0M384.3 286.4h0M395.5 287.7h0M391.5 283.1h0M383.3 287.6h0M377.4 286.2h0M376.5 285.3h0M430.0 286.0h0M394.7 286.3h0M413.7 284.9h0M421.6 286.5h0M376.0 287.2h0M395.7 288.7h0M382.2 285.6h0M402.7 285.9h0M422.2 287.4h0M395.1 287.5h0M402.1 287.3h0M427.2 286.2h0M384.5 287.0h0M383.6 289.2h0M382.8 288.1h0M389.0 286.5h0M384.0 284.5h0M401.0 286.8h0M408.2 284.7h0M440.5 286.2h0M411.5 284.1h0M394.2 286.8h0M399.4 286.6h0M373.6 291.1h0M370.7 288.1h0M387.7 289.0h0M379.0 287.6h0M410.4 285.5h0M399.7 285.7h0M400.2 288.8h0M397.2 285.9h0M385.5 287.0h0M392.7 286.4h0M390.7 288.4h0M375.8 288.3h0M401.1 285.3h0M387.6 291.4h0M370.8 286.6h0M395.3 286.7h0M400.6 287.2h0M422.3 287.7h0M391.2 287.3h0M386.4 285.5h0M428.4 286.6h0M414.3 286.8h0M399.0 288.2h0M402.0 287.1h0M381.9 284.0h0M420.9 288.2h0M373.6 287.6h0M395.0 287.2h0M401.0 283.6h0M402.1 288.8h0M375.7 285.0h0M406.1 288.5h0M395.0 286.1h0M414.5 288.2h0M390.3 284.4h0M389.0 287.6h0M370.8 286.1h0M383.3 290.3h0M391.2 287.0h0M403.1 286.1h0M378.8 288.6h0M375.3 283.7h0M403.6 288.8h0M381.2 284.8h0M381.7 285.9h0M384.7 290.8h0M377.9 284.7h0M416.6 289.0h0M381.7 284.5h0M382.9 283.4h0M388.8 287.6h0M391.0 286.9h0M391.4 283.8h0M380.1 287.5h0M368.6 286.3h0M372.9 290.5h0M395.8 285.0h0M373.5 285.7h0M437.6 287.6h0M415.4 287.1h0M399.0 287.3h0M405.0 288.3h0M406.5 288.3h0M398.7 286.0h0M389.6 288.3h0M393.6 283.9h0M388.9 283.4h0M369.2 289.0h0M426.1 286.4h0M390.2 286.1h0M379.8 289.1h0M378.7 287.2h0M420.0 288.0h0M374.6 285.8h0M378.4 288.2h0M391.0 286.0h0M410.9 287.1h0M376.6 285.7h0M377.0 289.6h0M393.5 285.5h0M397.8 285.0h0M402.0 288.6h0M377.6 287.8h0M368.8 287.4h0M409.4 285.0h0M402.3 288.0h0M392.4 289.8h0M379.4 283.6h0M375.3 286.5h0M387.7 288.1h0M398.7 287.4h0M398.1 286.7h0M383.6 286.4h0M416.8 286.5h0M375.8 287.3h0M403.8 286.4h0M387.5 286.0h0M389.4 285.7h0M387.4 285.6h0M382.4 285.6h0M379.0 288.8h0M372.1 283.3h0M377.8 284.6h0M432.5 287.6h0M437.9 286.9h0M407.1 287.6h0M387.2 286.4h0M379.7 285.1h0M385.5 285.1h0M381.5 285.1h0M397.6 287.2h0M399.2 285.3h0M381.7 284.3h0M422.4 285.5h0M384.0 289.6h0M404.1 287.3h0M391.8 286.0h0M370.6 284.2h0M380.6 288.5h0M403.9 288.2h0M372.2 286.1h0M407.8 285.9h0M419.4 287.2h0M405.1 287.6h0M369.9 290.1h0M382.4 288.0h0M392.5 285.3h0M380.8 283.2h0M397.7 289.9h0M429.3 287.1h0M385.5 284.9h0M371.8 282.3h0M393.3 286.8h0M385.3 287.0h0M392.5 288.9h0M385.2 284.9h0M389.2 288.5h0M387.4 287.1h0M391.8 284.9h0M408.4 288.5h0M378.5 286.6h0M407.3 286.7h0M393.1 288.2h0M395.2 286.1h0M369.6 283.2h0M395.3 287.4h0M373.8 283.7h0M411.9 286.3h0M425.7 285.4h0M390.6 287.8h0M383.2 284.3h0M429.1 285.9h0M395.8 288.9h0M389.8 288.0h0M386.1 288.7h0M382.5 287.7h0M413.7 285.9h0M388.7 285.1h0M391.4 284.8h0M371.9 288.7h0M378.5 280.1h0M423.0 289.2h0M396.0 287.8h0M388.8 285.4h0M389.5 290.6h0M396.2 285.7h0M390.4 287.4h0M374.8 285.8h0M417.0 286.3h0M373.3 287.3h0M395.5 285.3h0M384.9 284.3h0M389.5 288.4h0M391.0 285.8h0M387.7 287.3h0M435.1 285.7h0M389.8 286.2h0M383.7 290.6h0M370.3 291.0h0M383.9 288.7h0M384.6 285.5h0M406.2 286.1h0M438.9 288.3h0M386.6 285.5h0M400.3 289.2h0M426.9 286.0h0M400.3 288.1h0M403.0 288.2h0M374.8 288.9h0M378.7 285.7h0M381.8 287.7h0M388.1 286.8h0M386.4 287.5h0M375.4 283.1h0M377.6 284.3h0M381.4 290.1h0M387.5 289.1h0M378.7 286.3h0M394.9 285.9h0M386.5 284.9h0M373.9 285.4h0M421.2 287.0h0M390.8 285.3h0M393.7 286.6h0M375.3 289.2h0M389.8 287.2h0M400.6 288.6h0M397.9 288.8h0M381.6 286.9h0M377.6 286.5h0M402.9 288.7h0M412.0 288.1h0M388.4 289.0h0M407.0 289.6h0M407.4 286.5h0M393.2 287.6h0M374.7 288.7h0M379.6 289.3h0M379.0 286.2h0M372.3 287.3h0M381.5 285.1h0M416.5 285.5h0M389.9 288.8h0M386.4 289.2h0M382.2 284.9h0M403.0 287.6h0M374.1 286.6h0M382.0 290.0h0M407.2 285.9h0M384.3 285.0h0M370.8 290.8h0M386.6 287.8h0M413.8 287.7h0M380.4 288.7h0M379.2 284.0h0M390.1 286.4h0M384.9 288.1h0M376.6 290.2h0M374.1 287.0h0M412.8 287.3h0M393.4 289.3h0M397.0 285.9h0M380.8 286.4h0M380.8 285.1h0M395.1 286.9h0M380.6 288.1h0M382.1 289.5h0M398.4 284.9h0M378.6 286.5h0M401.1 286.3h0M372.6 291.4h0M402.5 288.0h0M388.4 288.9h0M396.5 286.5h0M401.8 285.1h0M397.7 287.3h0M388.2 285.7h0M398.9 285.5h0M374.8 286.5h0M416.0 288.2h0M374.1 285.3h0M429.3 288.2h0M386.2 288.9h0M390.1 286.8h0M383.7 285.9h0M400.9 290.1h0M368.5 286.1h0M403.3 286.9h0M368.0 288.6h0M384.7 290.6h0M405.4 288.4h0M371.6 285.1h0M400.0 285.7h0M395.5 286.0h0M387.9 285.1h0M397.4 285.9h0M392.7 287.8h0M375.5 286.5h0M398.3 286.7h0M383.0 286.1h0M398.7 287.7h0M395.7 286.7h0M419.1 287.9h0M382.0 287.5h0M379.4 287.4h0M395.2 286.9h0M389.7 286.6h0M399.3 285.4h0M386.9 286.4h0M376.0 286.1h0M388.1 286.3h0M385.8 287.0h0M383.8 290.7h0M398.4 286.5h0M386.3 288.5h0M431.2 287.2h0M376.7 284.2h0M391.8 285.8h0M398.1 288.9h0M373.2 285.4h0M378.5 286.7h0M416.9 287.8h0M405.9 286.3h0M380.5 284.0h0M376.7 285.8h0M381.3 283.4h0M393.6 286.5h0M410.3 288.5h0M378.6 289.3h0M384.1 285.0h0M431.5 286.6h0M438.3 287.9h0M417.1 287.6h0M393.5 286.8h0M397.3 286.4h0M394.1 287.1h0M416.6 287.5h0M373.2 286.5h0M387.7 288.8h0M381.1 287.4h0M412.6 287.4h0M400.3 288.1h0M376.7 286.0h0M402.4 287.3h0M443.1 286.5h0M393.8 289.5h0M400.9 287.0h0M376.3 284.4h0M409.6 286.6h0M382.8 286.1h0M406.8 286.9h0M380.6 288.0h0M419.8 287.9h0M378.2 288.4h0M375.0 285.6h0M405.2 287.2h0M369.2 289.4h0M384.0 285.3h0M377.8 283.5h0M389.1 285.5h0M398.3 286.0h0M376.7 286.7h0M371.1 284.5h0M373.9 284.8h0M388.2 284.8h0M373.1 288.9h0M389.7 285.3h0M375.4 286.9h0M399.3 287.5h0M374.1 286.1h0M398.9 287.9h0M400.5 285.1h0M386.4 287.6h0M402.6 289.0h0M402.8 289.4h0M391.7 285.9h0M377.6 292.3h0M379.9 287.3h0M417.8 288.2h0M375.0 288.4h0M395.1 287.1h0M390.9 286.0h0M416.0 287.3h0M387.2 285.6h0M404.2 284.8h0M399.5 287.8h0M405.9 288.2h0M391.5 288.7h0M398.1 288.0h0M410.4 285.6h0M395.8 284.7h0M383.5 285.0h0M434.6 286.7h0M394.7 287.5h0M400.4 285.4h0M414.5 287.0h0M405.9 287.5h0M426.0 288.8h0M381.9 290.3h0M393.9 287.7h0M412.1 286.1h0M390.0 286.9h0M389.7 287.5h0M384.1 286.4h0M395.9 287.9h0M411.0 285.7h0M386.6 286.1h0M418.0 286.7h0M393.4 286.9h0M410.4 286.8h0M387.9 285.4h0M380.1 285.0h0M398.5 286.7h0M380.9 288.4h0M395.6 288.5h0M408.5 284.9h0M374.5 287.4h0M407.5 289.1h0M403.6 288.1h0M414.9 286.4h0M425.8 286.8h0M379.3 288.0h0M372.4 282.4h0M372.2 289.8h0M404.5 288.7h0M412.6 286.4h0M381.0 284.8h0M384.0 286.2h0M377.9 283.8h0M391.3 288.9h0M403.0 288.7h0M406.6 285.8h0M391.8 285.0h0M391.2 289.0h0M398.1 287.1h0M389.6 288.6h0M386.0 283.2h0M406.8 284.1h0M373.5 288.7h0M389.3 287.3h0M401.4 287.5h0M410.7 286.2h0M401.4 289.0h0M380.6 288.4h0M405.7 286.9h0M372.3 284.6h0M407.9 286.1h0M417.4 286.6h0M384.9 286.7h0M389.8 287.8h0M398.5 287.5h0M376.6 286.2h0M409.5 287.1h0M400.4 288.3h0M403.4 287.4h0M406.8 286.5h0M375.5 288.7h0M385.1 286.9h0M386.6 288.2h0M440.8 284.9h0M386.5 286.7h0M380.5 284.3h0M387.4 283.6h0M379.7 284.0h0M371.2 285.4h0M403.9 288.2h0M411.9 286.7h0M377.1 287.7h0M389.0 286.2h0M373.4 287.4h0M435.4 287.1h0M393.3 283.6h0M400.0 284.5h0M392.1 287.8h0M388.3 284.2h0M406.8 286.7h0M380.1 289.5h0M380.6 288.0h0M406.4 286.3h0M408.6 284.9h0M380.0 289.5h0M404.5 284.5h0M373.8 285.3h0M386.2 286.3h0M381.2 287.1h0M418.0 289.6h0M373.9 286.3h0M393.4 285.7h0M370.2 283.8h0M371.6 284.5h0M382.6 289.8h0M397.0 287.8h0M398.8 288.6h0M389.2 288.3h0M369.5 284.9h0M380.1 287.9h0M397.9 285.8h0M390.7 286.2h0M384.0 287.4h0M400.8 286.8h0M406.5 286.8h0M388.1 287.4h0M398.0 289.2h0M372.4 289.2h0M396.5 288.2h0M395.2 284.6h0M393.0 285.2h0M413.3 284.5h0M371.8 287.6h0M378.2 286.9h0M374.8 288.7h0M379.5 285.8h0M387.2 288.1h0M411.7 287.3h0M407.1 287.9h0M390.7 285.2h0M391.6 286.7h0M375.5 283.8h0M406.2 286.9h0M439.5 285.3h0M423.7 287.2h0M371.4 284.1h0M440.4 286.8h0M396.2 287.0h0M376.6 286.4h0M383.0 288.2h0M382.0 286.4h0M396.4 287.3h0M380.6 293.5h0M397.3 285.5h0M370.3 287.7h0M388.0 286.7h0M389.8 287.0h0M379.9 284.6h0M378.4 285.5h0M371.8 290.0h0M381.5 287.4h0M430.8 286.7h0M420.4 287.3h0M388.4 284.9h0M369.8 280.4h0M392.5 282.7h0M410.7 286.7h0M371.2 283.2h0M372.0 291.2h0M394.3 288.2h0M378.7 287.4h0M406.2 285.7h0M377.2 285.3h0M378.7 288.0h0M371.3 285.2h0M393.8 287.0h0M389.5 288.5h0M378.6 288.1h0M419.4 285.1h0M383.1 288.8h0M409.4 287.2h0M371.9 285.0h0M378.8 289.4h0M405.1 286.4h0M427.1 287.3h0M383.5 290.2h0M396.6 287.5h0M412.2 288.8h0M423.3 286.9h0M377.5 286.1h0M400.2 285.9h0M390.4 286.9h0M398.3 286.5h0M376.7 289.4h0M402.8 287.9h0M379.9 288.9h0M402.8 285.7h0M380.4 290.9h0M411.0 285.3h0M405.8 286.2h0M379.8 284.3h0M419.9 287.0h0M368.4 288.2h0M405.3 286.1h0M377.9 285.5h0M379.6 283.7h0M404.8 286.4h0M393.1 287.0h0M388.1 287.0h0M375.6 287.3h0M410.8 286.7h0M372.3 281.9h0M388.4 285.6h0M387.7 287.8h0M388.7 285.6h0M380.9 284.8h0M393.0 288.8h0M388.1 285.9h0M391.3 285.1h0M394.4 285.0h0M401.7 285.2h0M395.8 284.4h0M386.9 290.7h0M432.9 287.2h0M386.0 290.3h0M388.7 285.3h0M401.9 285.3h0M396.0 287.2h0M396.4 285.6h0M381.4 286.3h0M400.7 286.8h0M404.2 287.4h0M397.8 287.0h0M421.6 284.9h0M403.6 287.3h0M418.7 285.1h0M384.6 289.3h0M385.1 286.1h0M393.9 286.7h0M385.3 286.5h0M378.1 282.4h0M397.9 287.7h0M382.7 289.5h0M373.6 289.0h0M377.4 285.4h0M383.3 288.9h0M402.8 286.1h0M374.6 287.0h0M379.1 286.8h0M400.9 286.7h0M372.5 290.0h0M379.2 285.9h0M391.8 289.1h0M377.3 289.9h0M376.9 286.9h0M398.9 289.3h0M374.9 286.4h0M379.5 288.6h0M379.8 286.7h0M378.8 289.2h0M377.4 292.3h0M373.6 288.5h0M417.8 288.3h0M386.3 286.7h0M374.8 287.7h0M380.6 287.4h0M421.6 286.7h0M422.1 285.8h0M427.3 287.8h0M394.8 289.0h0M375.8 285.0h0M413.3 286.7h0M396.8 284.2h0M406.0 289.3h0M370.9 285.4h0M403.1 287.1h0M395.6 286.0h0M370.8 288.5h0M377.0 287.4h0M387.3 289.2h0M376.0 287.0h0M397.4 286.5h0M376.8 286.6h0M390.2 288.5h0M378.1 286.4h0M400.7 286.0h0M374.7 281.3h0M373.1 284.6h0M381.6 290.0h0M379.5 283.8h0M381.1 285.9h0M436.9 287.7h0M372.0 286.5h0M370.4 283.9h0M424.7 287.5h0M407.3 286.7h0M373.0 281.3h0M374.7 288.8h0M377.2 285.4h0M373.8 288.7h0M396.5 289.5h0M429.7 287.3h0M368.5 284.2h0M409.4 290.6h0M394.3 287.4h0M374.3 288.4h0M391.5 288.2h0M406.4 286.6h0M382.5 289.2h0M394.8 292.1h0M371.9 282.0h0M423.3 285.7h0M375.4 287.9h0M376.1 287.4h0M413.0 282.7h0M379.0 285.0h0M391.6 288.2h0M405.9 287.3h0M378.0 287.3h0M369.9 282.2h0M375.6 285.1h0M398.4 286.4h0M386.2 288.7h0M400.0 286.9h0M396.4 287.7h0M389.8 291.3h0M376.4 287.1h0M395.0 284.7h0M431.0 286.0h0M368.3 283.1h0M385.4 286.4h0M398.8 287.1h0M371.6 285.0h0M409.4 287.8h0M382.7 289.9h0M397.9 283.7h0M394.1 289.6h0M385.9 285.6h0M396.4 288.3h0M376.5 290.2h0M412.4 288.3h0M385.0 286.6h0M399.6 284.7h0M401.9 288.8h0M392.2 287.9h0M395.3 287.8h0M425.5 290.2h0M379.3 287.3h0M389.6 285.6h0M378.3 285.9h0M413.4 286.6h0M405.3 288.0h0M393.6 288.1h0M390.7 283.7h0M404.9 287.1h0M386.0 287.4h0M382.3 287.1h0M384.0 289.5h0M396.2 287.8h0M378.2 295.8h0M379.7 285.1h0M380.1 290.5h0M373.3 289.5h0M433.9 286.6h0M394.9 286.9h0M369.5 285.3h0M407.5 284.9h0M390.9 287.9h0M381.8 288.1h0M383.7 289.0h0M372.1 287.9h0M412.8 286.6h0M383.4 288.9h0M387.2 288.9h0M376.5 289.5h0M387.7 289.1h0M389.0 289.6h0M394.7 289.4h0M388.4 285.3h0M385.4 286.6h0M389.7 287.8h0M399.5 285.2h0M394.4 283.4h0M382.0 284.2h0M394.6 285.8h0M382.4 283.9h0M386.7 286.0h0M379.2 286.9h0M383.6 286.0h0M369.1 288.8h0M400.6 286.2h0M420.5 285.6h0M374.9 287.6h0M372.7 284.8h0M404.5 289.7h0M381.9 290.8h0M374.7 285.4h0M409.5 286.6h0M392.3 290.6h0M384.5 288.8h0M405.7 287.9h0M413.3 288.8h0M372.2 286.3h0M375.8 287.4h0M432.8 288.3h0M372.7 288.5h0M378.0 289.2h0M407.4 288.5h0M427.1 285.7h0M380.3 284.5h0M368.6 288.3h0M380.1 287.5h0M384.8 288.9h0M387.0 286.9h0M375.3 285.9h0M384.8 287.3h0M406.0 282.4h0M428.2 286.1h0M380.7 285.4h0M426.1 287.5h0M394.1 287.6h0M399.4 287.9h0M438.9 288.4h0M399.5 286.2h0M371.3 284.9h0M374.8 285.0h0M372.7 289.5h0M387.3 284.7h0M419.8 286.5h0M376.9 283.9h0M393.0 284.8h0M383.7 286.3h0M394.6 287.1h0M384.5 291.1h0M382.9 284.5h0M417.8 288.4h0M402.9 287.9h0M376.4 288.1h0M373.5 283.7h0M386.8 290.6h0M375.3 285.7h0M412.3 287.7h0M375.7 290.1h0M406.9 288.5h0M375.1 284.4h0M394.1 288.1h0M376.7 285.2h0M416.5 288.4h0M379.7 285.2h0M395.3 285.4h0M401.5 285.3h0M395.1 287.5h0M382.3 287.0h0M396.0 283.4h0M415.1 286.6h0M378.8 285.8h0M395.7 291.2h0M387.4 284.5h0M393.8 286.0h0M376.1 286.0h0M378.3 286.5h0M388.0 289.3h0M379.0 286.9h0M391.9 283.4h0M371.2 285.7h0M378.8 288.1h0M385.4 286.0h0M394.2 289.1h0M423.1 288.0h0M420.0 287.3h0M387.6 289.6h0M390.4 287.9h0M386.6 285.0h0M378.6 285.6h0M416.8 286.0h0M389.9 284.4h0M386.1 286.3h0M386.5 285.7h0M384.5 286.5h0M374.5 287.9h0M395.2 288.2h0M369.9 290.3h0M414.3 287.8h0M387.3 285.5h0M403.3 287.1h0M371.8 285.8h0M377.8 287.1h0M397.7 288.4h0M402.3 289.6h0M383.0 287.3h0M367.9 282.4h0M372.3 282.8h0M397.3 287.3h0M372.5 285.9h0M377.0 285.6h0M378.1 292.8h0M407.0 288.6h0M389.4 287.7h0M396.9 287.6h0M376.6 287.2h0M380.9 284.7h0M383.3 285.9h0M413.9 288.0h0M419.0 287.7h0M377.9 290.0h0M377.6 285.0h0M410.1 284.5h0M378.9 285.1h0M384.0 287.9h0M396.1 285.6h0M406.9 289.9h0M394.4 287.0h0M377.2 286.6h0M383.2 285.9h0M376.3 286.4h0M405.7 287.5h0M376.0 286.3h0M390.3 289.4h0M387.8 287.4h0M398.3 285.6h0M388.6 286.7h0M440.3 286.8h0M408.3 285.6h0M431.0 287.0h0M383.2 287.9h0M396.5 287.2h0M380.8 287.7h0M411.8 289.8h0M388.1 291.1h0M398.3 285.4h0M380.8 287.8h0M391.9 286.5h0M415.2 287.0h0M396.1 286.0h0M434.5 287.2h0M397.5 286.4h0M378.2 288.1h0M385.5 285.0h0M373.2 286.2h0M400.0 288.1h0M386.5 284.9h0M378.3 287.1h0M394.2 289.1h0M388.5 282.6h0M394.0 287.3h0M370.5 284.6h0M415.6 287.6h0M374.4 286.5h0M387.8 287.6h0M393.1 286.6h0M425.4 286.5h0M376.3 288.7h0M386.2 288.4h0M374.6 290.2h0M376.2 284.0h0M383.0 288.7h0M372.1 286.5h0M403.9 287.2h0M382.6 284.8h0M382.2 287.9h0M370.2 289.8h0M392.8 286.7h0M374.9 285.5h0M370.6 285.2h0M386.0 288.7h0M390.2 286.5h0M382.0 290.5h0M406.4 287.2h0M386.1 286.6h0M382.3 284.7h0M381.5 285.1h0M396.8 287.7h0M393.3 286.6h0M372.4 289.0h0M416.4 289.2h0M413.0 286.9h0M412.8 286.3h0M380.2 288.9h0M386.6 288.2h0M442.8 286.4h0M390.4 286.8h0M382.1 290.0h0M385.4 286.8h0M381.7 285.7h0M379.7 283.8h0M381.8 287.5h0M404.4 288.5h0M387.6 289.0h0M371.9 288.0h0M402.9 287.9h0M405.2 285.3h0M402.0 285.0h0M387.3 286.7h0M382.2 287.8h0M381.6 283.6h0M371.6 287.7h0M381.5 285.5h0M372.0 285.9h0M403.1 287.7h0M369.3 283.6h0M389.8 287.8h0M379.4 290.6h0M396.5 285.8h0M381.4 285.9h0M402.7 288.6h0M371.2 289.3h0M399.7 288.9h0M381.2 287.7h0M385.9 287.7h0M378.8 290.7h0M380.3 287.3h0M393.7 286.6h0M384.5 285.8h0M374.8 286.4h0M399.0 288.1h0M391.3 288.6h0M440.1 288.1h0M414.3 287.5h0M369.3 290.0h0M387.8 286.9h0M370.8 288.6h0M391.6 285.4h0M380.2 287.3h0M393.1 285.1h0M376.9 284.5h0M387.4 287.7h0M379.9 284.8h0M381.0 288.9h0M375.8 283.9h0M380.8 287.1h0M422.4 287.8h0M416.1 286.0h0M387.5 286.9h0M371.9 292.8h0M436.1 287.0h0M425.8 288.1h0M385.3 287.0h0M399.4 288.7h0M391.6 288.5h0M369.8 286.9h0M397.8 284.5h0M383.3 287.5h0M383.1 286.8h0M390.5 286.2h0M370.0 288.3h0M383.1 289.2h0M408.8 287.5h0M404.7 287.3h0M389.2 286.7h0M398.5 287.0h0M377.5 285.7h0M399.2 287.7h0M373.1 285.8h0M377.5 286.4h0M379.1 282.9h0M394.6 287.1h0M379.1 289.2h0M423.1 289.1h0M412.2 287.9h0M422.4 285.8h0M380.4 285.0h0M392.5 286.5h0M373.2 286.8h0M433.0 286.2h0M396.7 287.9h0M390.2 288.0h0M382.7 285.8h0M382.4 285.7h0M378.9 286.1h0M370.2 283.9h0M406.2 286.9h0M412.0 288.7h0M390.9 287.1h0M381.4 288.1h0M387.8 286.9h0M384.2 289.0h0M389.6 287.6h0M397.0 285.6h0M430.8 287.9h0M367.8 287.3h0M406.0 286.2h0M379.7 286.7h0M373.1 287.1h0M389.6 287.2h0M369.1 287.4h0M409.9 286.3h0M414.9 287.8h0M390.5 287.4h0M430.0 286.0h0M381.3 284.2h0M425.7 287.3h0M400.2 287.2h0M410.1 286.5h0M403.1 287.1h0M412.2 287.6h0M372.1 290.5h0M370.8 285.7h0M375.5 284.6h0M379.8 283.0h0M386.3 287.7h0M379.7 288.2h0M412.8 286.8h0M379.7 285.0h0M433.6 287.7h0M379.4 286.7h0M374.3 288.5h0M379.3 286.3h0M373.3 284.9h0M381.0 287.9h0M393.9 284.6h0M393.4 287.4h0M371.5 285.8h0M387.3 284.7h0M399.2 288.9h0M412.3 285.8h0M404.8 286.4h0M376.8 286.4h0M373.5 281.2h0M382.9 289.5h0M376.1 289.4h0M397.7 289.5h0M418.4 286.8h0M416.5 286.7h0M371.2 285.3h0M376.8 285.0h0M381.7 287.5h0M398.0 285.9h0M374.2 290.0h0M382.8 288.8h0M386.4 285.0h0M383.8 286.8h0M372.1 286.8h0M437.0 288.7h0M370.3 287.9h0M402.4 289.0h0M377.7 286.3h0M418.5 288.1h0M373.3 289.5h0M421.7 288.9h0M378.1 286.8h0M405.3 287.4h0M367.5 291.8h0M401.7 287.0h0M422.2 288.1h0M402.9 284.1h0M377.6 288.2h0M387.1 286.0h0M372.9 285.8h0M390.5 289.3h0M406.5 285.4h0M370.5 287.9h0M377.9 288.5h0M397.0 287.5h0M378.1 289.6h0M388.1 288.4h0M391.5 288.9h0M392.4 288.6h0M376.3 283.3h0M411.6 287.1h0M387.6 288.6h0M384.2 286.7h0M376.7 282.0h0M376.1 286.2h0M389.7 286.2h0M400.6 287.8h0M385.4 286.7h0M376.8 286.0h0M389.1 286.7h0M419.2 286.5h0M380.8 288.6h0M381.9 286.8h0M398.4 285.8h0M419.8 286.3h0M403.4 287.0h0M400.9 287.2h0M383.6 286.3h0M395.7 286.5h0M409.4 286.7h0M432.1 287.5h0M409.0 287.3h0M408.0 288.9h0M386.1 288.4h0M419.3 289.3h0M400.0 286.3h0M370.4 286.7h0M379.5 289.4h0M373.5 281.7h0M401.8 284.8h0M376.2 289.6h0M433.5 286.6h0M397.6 288.1h0M376.4 287.2h0M392.0 288.0h0M376.7 285.8h0M374.1 285.3h0M381.4 287.9h0M383.0 289.6h0M378.4 288.3h0M410.3 284.9h0M397.5 285.9h0M390.3 286.3h0M381.0 287.8h0M382.1 286.2h0M389.4 284.5h0M407.6 287.5h0M409.0 286.7h0M372.4 284.1h0M418.9 287.5h0M421.7 287.5h0M376.5 288.0h0M388.5 286.1h0M372.8 284.4h0M372.6 288.2h0M381.2 288.1h0M385.0 289.2h0M408.4 287.8h0M377.6 280.7h0M404.9 286.6h0M420.8 285.9h0M401.1 290.7h0M373.8 283.9h0M375.3 290.7h0M382.5 285.6h0M386.1 282.5h0M393.9 287.1h0M404.6 286.9h0M404.1 286.9h0M409.6 288.4h0M396.6 287.6h0M372.3 285.2h0M393.8 285.8h0M413.9 289.7h0M377.2 291.5h0M385.5 288.2h0M410.6 285.4h0M424.1 286.4h0M411.8 286.8h0M393.7 283.5h0M403.6 286.4h0M385.2 286.8h0M369.4 287.5h0M374.0 290.0h0M401.8 286.7h0M394.1 289.5h0M391.9 286.4h0M392.7 287.7h0M381.7 290.2h0M383.9 284.0h0M420.6 288.0h0M399.2 286.5h0M390.5 287.1h0M398.0 286.4h0M418.7 287.9h0M401.9 286.5h0M372.1 287.6h0M377.1 286.2h0M379.2 287.8h0M392.0 288.2h0M374.6 285.9h0M426.9 288.2h0M384.4 281.2h0M382.3 290.8h0M419.4 287.6h0M377.9 287.3h0M434.9 286.2h0M379.7 288.2h0M408.6 287.7h0M402.8 285.0h0M407.9 285.5h0M407.0 285.8h0M388.0 286.1h0M383.6 287.9h0M393.7 288.3h0M374.2 286.6h0M374.6 287.5h0M392.1 288.9h0M387.8 285.0h0M373.1 285.8h0M402.8 289.7h0M400.1 285.1h0M394.0 283.8h0M393.8 288.3h0M405.7 285.1h0M375.5 285.2h0M373.6 286.5h0M398.2 286.6h0M389.2 286.7h0M393.4 284.1h0M373.0 285.5h0M384.4 288.4h0M387.5 287.6h0M413.1 286.4h0M375.0 289.6h0M375.9 287.9h0M371.0 284.7h0M374.8 288.8h0M412.3 288.3h0M373.7 287.1h0M438.1 286.5h0M382.2 288.1h0M412.3 286.4h0M413.4 286.7h0M424.4 288.7h0M389.6 287.8h0M375.4 282.5h0M376.6 285.7h0M369.4 284.2h0M442.4 285.5h0M394.9 288.6h0M378.6 290.3h0M371.4 287.1h0M376.1 288.5h0M378.2 288.2h0M370.5 286.5h0M387.8 287.1h0M398.2 287.8h0M392.8 286.4h0M389.6 286.8h0M386.6 287.4h0M389.9 286.0h0M400.2 286.4h0M388.9 289.2h0M391.2 284.0h0M414.1 286.3h0M408.8 287.5h0M375.3 291.1h0M402.7 286.5h0M401.8 287.6h0M379.0 287.6h0M376.6 290.0h0M386.4 284.3h0M391.7 286.3h0M374.8 284.1h0M380.6 286.7h0M379.3 287.7h0M404.9 288.1h0M394.9 285.9h0M398.9 287.5h0M389.6 285.5h0M423.7 285.5h0M382.3 287.4h0M375.2 287.7h0M385.2 289.4h0M385.7 285.8h0M429.0 288.9h0M373.3 288.1h0M421.6 288.1h0M377.9 281.5h0M375.9 289.0h0M379.4 286.9h0M380.3 286.1h0M420.1 286.6h0M385.8 287.1h0M404.2 286.8h0M391.5 290.1h0M368.2 284.9h0M376.3 285.1h0M398.5 288.2h0M386.8 284.9h0M386.9 286.5h0M407.3 287.9h0M368.2 283.5h0M375.6 285.5h0M442.7 286.7h0M402.2 289.3h0M389.4 289.3h0M385.1 287.3h0M403.2 286.1h0M383.2 286.6h0M378.4 287.7h0M387.7 288.9h0M393.2 286.7h0M378.9 285.0h0M388.3 288.1h0M396.7 286.1h0M398.2 284.8h0M380.9 284.9h0M405.2 287.5h0M394.0 283.0h0M393.5 286.9h0M373.7 288.4h0M373.4 286.7h0M384.7 290.9h0M381.7 285.6h0M375.9 288.5h0M384.0 285.6h0M382.8 283.9h0M373.2 285.9h0M392.0 285.9h0M369.9 286.0h0M374.9 286.7h0M372.9 289.1h0M387.4 287.1h0M427.1 287.5h0M389.4 287.7h0M430.1 286.1h0M416.5 287.8h0M372.2 282.9h0M414.1 287.5h0M372.2 286.5h0M380.5 286.6h0M379.6 288.8h0M389.1 284.2h0M368.7 285.2h0M404.9 286.1h0M372.2 282.8h0M400.2 284.4h0M432.0 287.3h0M423.1 286.1h0M400.3 288.1h0M409.2 286.5h0M404.6 286.7h0M392.8 284.4h0M374.1 289.6h0M386.2 287.9h0M379.1 286.3h0M395.8 287.8h0M420.0 287.3h0M384.0 286.6h0M392.2 285.4h0M373.0 285.7h0M372.2 285.1h0M380.9 286.8h0M409.8 288.8h0M390.9 287.5h0M395.1 288.4h0M418.1 285.7h0M373.0 288.4h0M373.7 289.8h0M402.5 287.4h0M438.1 288.8h0M374.4 288.2h0M384.2 288.4h0M369.7 287.7h0M424.8 287.7h0M392.9 286.3h0M406.8 288.3h0M390.2 289.5h0M397.6 289.3h0M411.9 287.2h0M397.5 286.8h0M400.0 285.8h0M374.2 286.9h0M435.3 288.2h0M377.7 289.3h0M374.9 289.1h0M387.7 289.4h0M376.4 286.2h0M420.8 286.4h0M370.6 287.5h0M379.0 290.6h0M384.2 287.4h0M389.4 287.1h0M375.9 283.1h0M400.9 287.2h0M408.5 287.2h0M384.8 289.0h0M379.2 284.2h0M369.3 285.6h0M402.3 288.7h0M433.9 286.4h0M380.5 288.1h0M406.1 285.5h0M388.6 286.5h0M381.1 286.3h0M380.5 286.3h0M403.0 286.5h0M395.4 287.3h0M394.1 286.6h0M368.3 291.4h0M373.1 288.8h0M392.0 288.2h0M371.4 285.9h0M370.6 285.1h0M398.1 287.4h0M378.4 286.6h0M421.8 285.4h0M377.8 284.7h0M382.7 288.4h0M403.1 285.2h0M389.8 287.6h0M376.2 288.5h0M398.4 283.4h0M390.5 288.1h0M405.7 284.8h0M394.5 283.7h0M388.1 287.1h0M375.8 287.0h0M386.0 286.9h0M380.4 284.9h0M399.9 286.4h0M417.0 287.8h0M386.2 288.4h0M389.4 283.3h0M388.9 289.7h0M370.5 286.7h0M380.0 290.1h0M406.2 286.6h0M393.0 285.8h0M372.0 284.1h0M393.4 287.0h0M394.1 289.5h0M377.2 286.9h0M401.3 286.2h0M432.4 287.1h0M402.3 286.5h0M404.8 286.5h0M413.4 285.9h0M395.8 287.5h0M381.2 287.6h0M381.5 285.3h0M386.2 282.8h0M404.9 287.6h0M427.8 287.7h0M391.6 285.3h0M398.4 286.0h0M370.8 290.3h0M377.1 287.0h0M369.6 284.3h0M385.1 289.3h0M370.6 285.7h0M416.9 286.6h0M423.3 287.7h0M374.5 285.5h0M393.5 287.8h0M370.0 286.1h0M394.3 289.2h0M394.4 287.3h0M396.3 285.9h0M379.2 286.6h0M400.4 286.7h0M376.3 288.7h0M372.2 286.6h0M439.2 286.9h0M385.4 285.1h0M401.1 285.2h0M374.1 285.8h0M420.6 288.4h0M372.9 285.8h0M389.9 284.4h0M369.6 287.7h0M388.2 285.5h0M392.6 285.9h0M389.5 286.5h0M371.8 286.6h0M372.5 284.5h0M416.3 286.5h0M402.6 286.9h0M397.8 286.7h0M427.8 287.0h0M374.8 285.7h0M368.9 288.8h0M403.2 287.5h0M401.7 286.5h0M368.4 284.6h0M376.3 282.9h0M371.5 288.8h0M410.1 287.6h0M435.8 288.1h0M416.3 285.4h0M438.6 286.7h0M378.1 287.0h0M397.0 287.1h0M393.3 286.0h0M396.8 286.9h0M369.7 287.0h0M386.5 287.6h0M388.4 284.8h0M373.9 283.0h0M390.4 284.6h0M379.8 288.1h0M405.6 285.4h0M395.0 287.4h0M406.3 288.3h0M374.1 289.3h0M398.4 288.7h0M407.7 286.6h0M393.1 287.7h0M372.1 288.3h0M390.7 287.5h0M386.2 285.7h0M392.9 286.5h0M386.9 290.1h0M372.3 284.7h0M401.4 284.7h0M373.9 287.8h0M388.0 287.1h0M386.0 288.3h0M414.5 286.7h0M391.1 287.9h0M402.8 287.4h0M388.0 290.4h0M382.6 284.0h0M402.0 287.7h0M382.7 287.6h0M398.8 289.8h0M393.1 290.4h0M415.3 285.7h0M379.5 287.0h0M378.6 285.0h0M410.6 287.4h0M380.4 291.8h0M378.7 289.7h0M380.5 285.7h0M387.0 286.4h0M379.5 288.6h0M370.2 282.0h0M402.9 289.4h0M427.6 287.1h0M411.1 287.7h0M396.7 286.9h0M387.1 284.7h0M370.4 286.6h0M404.4 285.9h0M425.0 286.8h0M389.2 287.8h0M380.0 290.2h0M432.6 288.1h0M379.2 284.7h0M386.0 287.0h0M379.1 284.4h0M404.7 288.1h0M387.4 289.3h0M379.3 287.6h0M406.5 287.7h0M390.9 286.6h0M401.9 289.6h0M372.1 285.1h0M384.1 285.8h0M379.8 288.7h0M382.4 285.8h0M425.0 287.4h0M394.4 285.9h0M372.1 290.8h0M397.3 288.1h0M389.6 288.0h0M372.8 286.2h0M399.7 286.6h0M390.7 285.4h0M375.2 291.4h0M425.0 287.7h0M387.6 287.1h0M394.7 288.9h0M387.4 285.5h0M378.7 288.2h0M405.4 286.7h0M390.2 284.6h0M385.9 286.0h0M386.3 284.4h0M385.4 283.7h0M396.1 287.1h0M406.7 286.4h0M410.9 287.2h0M369.7 287.2h0M383.8 287.1h0M410.6 287.7h0M378.8 287.4h0M425.1 288.3h0M377.3 287.8h0M393.1 287.1h0M385.7 288.1h0M404.0 287.2h0M372.1 287.8h0M423.0 286.2h0M370.3 286.5h0M374.4 287.4h0M390.5 285.9h0M401.3 285.7h0M369.8 289.0h0M382.9 285.6h0M398.5 286.2h0M380.7 286.2h0M398.3 287.6h0M441.4 285.3h0M406.1 288.5h0M375.6 289.7h0M381.7 285.1h0M403.2 286.5h0M379.0 287.8h0M373.6 289.8h0M374.2 289.3h0M394.0 286.3h0M399.8 286.7h0M380.8 287.4h0M396.3 285.3h0M379.0 289.3h0M394.3 288.4h0M388.9 286.5h0M425.8 287.0h0M410.3 286.0h0M381.2 288.6h0M383.3 287.8h0M392.6 286.6h0M424.9 288.4h0M384.6 284.8h0M440.5 287.4h0M375.9 285.1h0M390.4 287.1h0M382.1 286.6h0M385.0 289.3h0M380.7 283.1h0M380.5 285.3h0M379.5 285.3h0M405.8 284.9h0M384.5 286.5h0M417.2 288.7h0M418.5 286.8h0M370.9 290.1h0M420.8 287.1h0M408.8 286.9h0M393.5 288.4h0M399.6 289.5h0M382.3 289.1h0M410.0 288.4h0M397.7 289.4h0M402.9 288.5h0M398.7 286.1h0M398.6 286.6h0M414.2 287.9h0M396.8 285.1h0M417.1 285.1h0M401.7 287.3h0M398.4 286.7h0M422.6 287.0h0M394.1 285.6h0M371.2 292.1h0M392.2 285.2h0M386.8 287.1h0M378.3 289.8h0M384.2 281.6h0M392.4 287.6h0M416.3 286.4h0M384.0 285.5h0M385.6 287.6h0M382.1 287.0h0M408.5 287.6h0M377.8 287.1h0M386.2 287.8h0M382.9 286.5h0M380.9 286.5h0M382.9 287.4h0M392.9 287.6h0M374.6 284.0h0M386.3 286.9h0M375.4 285.5h0M412.3 288.4h0M369.3 285.0h0M373.4 293.4h0M375.5 284.1h0M370.9 283.7h0M409.5 286.7h0M371.6 287.2h0M374.9 288.5h0M384.6 286.7h0M402.0 288.7h0M389.7 288.2h0M406.9 284.8h0M382.4 289.0h0M406.1 285.9h0M408.4 287.6h0M402.0 287.9h0M388.4 285.9h0M377.5 289.0h0M390.9 285.5h0M399.1 287.2h0M373.6 283.4h0M393.8 284.5h0M399.0 286.7h0M377.1 286.4h0M373.7 281.8h0M387.2 288.1h0M405.3 286.9h0M374.6 288.3h0M402.0 286.9h0M374.7 287.9h0M414.9 288.3h0M379.9 285.2h0M412.5 286.5h0M377.8 283.6h0M376.8 289.6h0M384.7 288.6h0M381.4 284.6h0M392.0 287.0h0M386.1 286.5h0M380.1 287.9h0M401.8 286.4h0M415.2 285.7h0M413.7 289.9h0M374.4 283.6h0M396.0 286.3h0M375.5 286.5h0M392.4 288.6h0M384.2 285.6h0M409.6 287.6h0M393.9 284.9h0M378.5 285.5h0M421.0 287.1h0M398.8 287.2h0M368.7 287.6h0M374.1 289.8h0M396.1 288.2h0M384.4 290.4h0M375.0 287.8h0M373.2 287.3h0M384.9 283.3h0M404.0 287.0h0M385.7 287.3h0M383.9 286.8h0M425.2 285.6h0M392.2 288.7h0M392.1 287.9h0M398.0 289.0h0M384.5 290.8h0M418.6 284.4h0M385.3 288.7h0M414.6 287.5h0M409.2 288.1h0M386.1 288.3h0M379.8 288.1h0M400.8 285.0h0M381.3 288.7h0M400.2 285.8h0M374.5 289.0h0M380.5 286.1h0M402.9 287.2h0M400.7 288.8h0M377.1 287.3h0M399.3 287.6h0M380.9 287.5h0M379.7 288.0h0M380.9 289.2h0M369.0 286.1h0M412.8 286.2h0M397.3 286.5h0M381.3 284.9h0M424.6 287.1h0M376.5 289.6h0M382.5 289.8h0M369.9 291.9h0M379.5 288.9h0M406.8 285.7h0M393.8 285.6h0M368.3 289.7h0M373.4 286.6h0M376.0 285.7h0M384.8 288.5h0M392.5 290.8h0M381.9 289.4h0M378.9 290.3h0M387.1 284.7h0M416.7 286.5h0M385.7 289.0h0M371.7 286.8h0M382.2 285.5h0M374.2 287.3h0M396.4 287.2h0M408.9 284.9h0M381.7 290.7h0M382.8 284.0h0M393.5 285.8h0M405.1 289.3h0M412.1 286.3h0M400.0 288.1h0M390.2 287.0h0M392.0 288.0h0M376.9 288.2h0M408.3 286.6h0M392.1 287.4h0M383.7 289.1h0M380.2 285.9h0M381.2 288.1h0M397.1 287.8h0M372.1 288.0h0M408.1 284.9h0M403.0 287.4h0M386.2 288.3h0M369.2 284.2h0M369.1 292.1h0M375.7 290.0h0M388.7 288.3h0M394.9 284.6h0M375.9 287.5h0M372.2 285.3h0M384.1 286.2h0M368.9 285.9h0M384.2 286.8h0M371.1 288.1h0M379.5 285.5h0M369.7 282.7h0M427.9 287.8h0M368.6 286.0h0M377.0 284.2h0M388.4 287.1h0M371.5 286.7h0M405.0 287.9h0M390.7 285.9h0M403.7 284.7h0M395.6 285.1h0M377.1 286.3h0M399.0 288.0h0M369.4 286.7h0M436.0 286.6h0M373.2 286.1h0M390.4 284.7h0M381.7 288.8h0M371.0 286.6h0M394.8 288.9h0M385.5 285.7h0M395.9 285.3h0M373.6 285.2h0M414.8 286.7h0M373.3 285.1h0M377.2 290.6h0M394.2 286.6h0M399.3 286.9h0M401.6 286.3h0M374.1 288.9h0M369.6 291.0h0M370.3 283.2h0M431.7 287.3h0M371.8 281.4h0M379.6 286.4h0M372.5 290.4h0M393.6 287.4h0M395.8 284.8h0M415.6 285.9h0M416.3 285.2h0M382.0 287.2h0M410.1 288.1h0M383.3 286.2h0M402.4 284.5h0M406.6 287.0h0M399.5 287.2h0M403.1 289.0h0M375.6 288.0h0M397.0 286.8h0M391.8 288.1h0M368.8 283.9h0M382.2 286.1h0M377.2 288.8h0M424.3 288.3h0M376.4 291.7h0M374.2 285.8h0M375.8 283.5h0M378.3 283.7h0M378.0 287.1h0M394.0 286.6h0M392.8 285.7h0M409.2 287.2h0M424.0 286.3h0M386.6 288.0h0M391.3 286.1h0M378.9 286.6h0M421.2 285.7h0M374.4 283.4h0M390.6 288.9h0M383.5 288.8h0M374.4 289.3h0M410.0 285.6h0M377.7 283.9h0M376.0 282.8h0M381.1 288.3h0M379.3 285.8h0M394.0 288.0h0M391.5 286.4h0M386.6 282.2h0M440.4 287.1h0M377.9 286.9h0M392.7 286.8h0M397.7 287.7h0M402.3 287.9h0M385.4 287.6h0M384.7 287.2h0M385.1 285.2h0M396.3 285.4h0M383.1 285.0h0M424.7 285.9h0M394.4 286.3h0M374.9 286.2h0M416.1 288.7h0M392.7 282.4h0M377.8 289.1h0M378.5 285.1h0M401.6 286.7h0M376.4 285.7h0M391.5 287.2h0M412.3 284.9h0M393.2 286.9h0M401.0 287.8h0M393.5 283.8h0M414.5 286.6h0M393.2 286.7h0M427.8 287.9h0M383.5 283.2h0M393.3 287.8h0M433.9 288.9h0M377.0 290.6h0M421.9 288.5h0M381.0 288.2h0M439.2 287.0h0M387.2 284.6h0M387.5 287.5h0M410.5 286.7h0M389.0 287.8h0M417.1 288.5h0M376.8 288.7h0M411.7 284.9h0M382.3 284.3h0M370.8 284.4h0M383.1 280.1h0M396.2 283.7h0M391.5 286.3h0M412.9 286.2h0M434.9 287.4h0M399.1 289.1h0M414.8 286.1h0M370.9 284.9h0M372.6 286.0h0M400.4 288.6h0M392.3 285.6h0M402.2 288.6h0M415.7 286.3h0M388.4 287.7h0M374.9 286.4h0M379.7 286.7h0M400.8 287.4h0M387.8 285.0h0M389.1 284.2h0M403.1 287.6h0M370.7 286.1h0M394.8 285.3h0M389.4 285.8h0M380.3 287.2h0M403.1 287.7h0M395.4 286.4h0M370.4 289.3h0M390.2 287.2h0M401.8 284.8h0M375.4 285.7h0M374.8 287.2h0M425.5 287.1h0M370.9 288.6h0M392.0 289.8h0M386.4 288.6h0M394.4 283.4h0M408.6 287.8h0M389.3 284.4h0M385.5 288.3h0M397.1 286.8h0M383.9 285.1h0M371.1 287.4h0M401.0 288.9h0M382.8 289.3h0M373.9 291.1h0M381.8 284.9h0M379.5 284.1h0M375.4 286.7h0M415.8 284.0h0M403.8 286.2h0M399.9 286.2h0M382.0 283.9h0M409.7 287.7h0M399.8 286.3h0M424.1 287.4h0M403.1 286.0h0M389.1 287.0h0M405.6 287.8h0M425.1 286.3h0M407.8 286.9h0M376.6 286.9h0M381.9 286.3h0M408.9 285.6h0M384.6 285.6h0M382.0 288.5h0M425.9 287.7h0M395.7 289.3h0M431.0 288.4h0M394.2 287.3h0M388.1 285.6h0M408.6 289.9h0M398.9 285.3h0M370.9 286.0h0M387.3 285.9h0M391.4 286.9h0M405.3 286.9h0M391.8 286.3h0M382.2 288.8h0M375.9 287.6h0M377.8 287.9h0M377.6 286.7h0M407.7 285.6h0M382.1 288.9h0M412.0 290.4h0M381.3 287.5h0M404.5 287.0h0M379.1 286.6h0M407.7 287.1h0M382.9 285.7h0M409.1 286.5h0M378.6 287.4h0M432.9 288.4h0M406.3 285.1h0M424.0 287.8h0M378.1 285.5h0M376.0 289.4h0M383.0 287.0h0M399.1 289.9h0M404.3 290.1h0M410.5 286.0h0M387.9 287.0h0M397.6 285.6h0M373.2 287.2h0M388.6 286.7h0M434.5 286.8h0M406.0 288.5h0M382.5 285.1h0M376.1 288.6h0M378.2 283.9h0M375.5 284.6h0M368.6 285.9h0M374.7 289.0h0M432.5 287.5h0M439.9 287.4h0M377.0 285.1h0M370.2 287.9h0M389.9 288.6h0M374.5 285.3h0M388.0 286.7h0M410.1 287.0h0M380.3 287.6h0M420.8 287.3h0M389.5 288.4h0M386.0 283.3h0M382.7 288.9h0M434.0 286.6h0M410.9 287.4h0M372.0 288.7h0M425.9 287.8h0M376.8 283.1h0M412.1 286.7h0M394.8 286.2h0M372.6 289.6h0M406.3 285.0h0M415.0 287.7h0M390.6 286.6h0M384.3 288.7h0M372.1 290.0h0M376.6 286.7h0M375.9 289.6h0M399.9 288.1h0M377.9 289.5h0M398.1 287.3h0M400.4 285.6h0M382.8 286.0h0M387.7 286.3h0M400.6 285.7h0M377.4 288.2h0M386.4 286.8h0M413.5 288.4h0M382.7 283.9h0M381.9 287.9h0M376.3 286.0h0M385.3 287.5h0M383.6 284.9h0M385.9 285.2h0M389.0 285.4h0M410.9 289.7h0M383.3 287.9h0M415.6 286.3h0M377.8 289.1h0M393.0 286.6h0M385.5 288.2h0M388.3 286.3h0M383.3 286.3h0M420.6 287.8h0M370.5 286.0h0M393.0 285.3h0M385.0 285.2h0M412.7 286.7h0M407.3 287.3h0M397.9 288.0h0M381.0 285.0h0M410.3 284.4h0M371.1 288.6h0M376.8 283.5h0M402.7 287.9h0M387.1 284.3h0M374.9 286.0h0M381.9 287.4h0M389.1 285.7h0M376.1 284.7h0M369.6 286.6h0M388.1 287.6h0M424.2 287.7h0M436.5 286.1h0M406.0 286.9h0M398.6 287.4h0M386.2 287.0h0M439.3 286.8h0M375.1 289.3h0M382.6 289.4h0M378.0 287.2h0M381.1 285.6h0M371.4 289.5h0M408.5 287.3h0M378.0 285.4h0M413.3 283.9h0M414.1 291.5h0M415.2 285.7h0M379.6 288.0h0M439.0 286.9h0M379.2 282.1h0M383.0 290.5h0M394.3 289.9h0M397.0 284.9h0M406.6 288.8h0M388.5 283.8h0M409.2 287.7h0M392.5 283.6h0M399.3 288.8h0M427.0 287.2h0M369.9 290.4h0M399.0 285.8h0M394.7 290.2h0M385.0 286.6h0M410.8 287.6h0M394.8 286.5h0M374.7 288.6h0M386.5 289.5h0M384.1 286.4h0M380.0 286.4h0M382.7 286.0h0M384.7 285.2h0M386.1 282.7h0M381.1 288.9h0M403.2 288.4h0M395.4 287.9h0M420.5 287.3h0M378.6 284.1h0M379.5 288.7h0M375.7 288.3h0M371.2 290.7h0M381.6 289.4h0M370.9 283.0h0M435.3 287.0h0M375.3 288.9h0M398.0 285.5h0M442.7 286.9h0M373.4 285.1h0M379.4 288.0h0M378.5 288.2h0M400.6 284.6h0M400.8 286.8h0M382.8 287.7h0M370.4 288.1h0M374.9 286.6h0M404.5 286.1h0M394.6 286.7h0M397.3 287.9h0M395.4 289.2h0M374.0 287.3h0M375.8 283.2h0M398.1 284.2h0M375.5 284.6h0M408.5 287.3h0M392.5 286.6h0M386.8 290.8h0M393.5 289.0h0M421.1 287.4h0M386.3 287.4h0M423.8 286.6h0M414.4 287.5h0M394.0 287.3h0M372.8 282.8h0M374.0 287.2h0M376.7 286.7h0M431.5 285.7h0M432.1 287.3h0M412.6 288.2h0M372.2 292.7h0M388.8 290.4h0M390.5 287.6h0M402.0 287.6h0M388.8 287.3h0M401.0 286.9h0M429.0 286.2h0M378.9 288.2h0M374.5 290.5h0M414.6 287.3h0M386.3 286.8h0M381.4 285.9h0M383.0 287.2h0M397.6 286.6h0M388.3 288.5h0M371.6 287.7h0M385.2 283.5h0M375.5 288.8h0M427.1 288.3h0M437.1 285.2h0M393.3 286.3h0M378.1 288.3h0M383.6 285.1h0M373.3 284.9h0M396.2 288.6h0M383.8 285.7h0M415.1 287.1h0M397.0 288.8h0M381.0 286.4h0M400.6 288.4h0M389.1 287.0h0M413.0 286.9h0M387.3 286.0h0M383.0 287.4h0M406.5 286.2h0M371.9 282.5h0M395.5 285.6h0M385.6 289.9h0M408.1 288.6h0M425.4 288.7h0M440.1 284.9h0M393.2 288.6h0M388.7 286.9h0M426.8 288.0h0M386.4 288.0h0M389.9 288.1h0M377.3 289.6h0M369.7 284.6h0M379.3 286.0h0M389.8 285.0h0M380.4 285.7h0M378.0 285.6h0M382.6 287.9h0M420.0 287.4h0M392.2 287.0h0M388.8 288.4h0M396.8 288.3h0M391.4 288.2h0M380.1 285.5h0M385.1 287.0h0M373.8 289.7h0M371.4 286.0h0M393.3 286.6h0M431.5 287.6h0M399.8 287.2h0M371.9 289.6h0M381.5 288.9h0M391.4 286.4h0M405.1 289.3h0M373.1 287.6h0M374.2 284.9h0M383.6 288.1h0M395.1 286.6h0M374.5 290.2h0M425.9 288.2h0M404.6 286.7h0M386.7 286.5h0M387.7 287.7h0M373.4 286.7h0M400.8 286.2h0M368.6 286.1h0M402.8 288.9h0M428.0 287.4h0M369.8 289.0h0M378.0 287.2h0M388.3 284.9h0M404.9 285.6h0M378.3 280.3h0M386.8 287.1h0M407.2 286.3h0M390.5 286.2h0M373.6 285.5h0M435.0 289.1h0M373.3 290.2h0M374.8 287.3h0M385.8 283.9h0M414.5 285.0h0M435.4 287.1h0M378.6 287.5h0M370.8 284.3h0M421.6 286.4h0M390.9 288.7h0M389.5 284.1h0M410.9 285.5h0M380.5 290.3h0M396.6 287.4h0M393.4 286.1h0M377.0 287.9h0M404.2 287.2h0M414.6 288.8h0M371.6 285.5h0M406.8 286.5h0M375.5 284.6h0M386.1 287.5h0M404.2 288.1h0M379.5 282.1h0M375.6 288.8h0M386.0 286.3h0M383.9 290.0h0M372.9 288.4h0M376.5 285.3h0M390.4 286.4h0M406.4 287.4h0M383.5 286.2h0M380.1 285.6h0M375.9 287.8h0M395.2 288.4h0M410.8 285.2h0M378.6 289.2h0M427.3 286.1h0M436.8 286.2h0M384.5 284.9h0M421.9 287.7h0M382.2 283.7h0M373.9 289.0h0M384.6 285.0h0M376.6 289.2h0M410.0 288.1h0M378.6 285.9h0M386.8 287.5h0M385.6 288.5h0M386.1 289.9h0M390.3 285.4h0M398.4 286.2h0M379.7 286.6h0M396.3 288.3h0M389.5 287.0h0M375.0 286.9h0M384.3 287.1h0M383.7 285.4h0M424.4 286.9h0M383.5 286.4h0M404.8 287.2h0M380.9 287.9h0M377.8 286.7h0M418.9 284.8h0M370.0 285.6h0M383.6 285.8h0M392.8 284.6h0M397.3 286.1h0M432.0 289.1h0M407.5 288.2h0M392.8 286.6h0M387.8 288.4h0M385.2 288.4h0M366.9 281.9h0M360.1 293.2h0M354.1 284.0h0M366.6 284.6h0M354.8 282.2h0M358.4 286.8h0M366.4 291.0h0M362.5 292.6h0M367.1 288.8h0M355.6 277.5h0M358.7 286.0h0M354.7 287.4h0M362.0 283.3h0M365.2 293.2h0M357.8 281.8h0M363.7 281.5h0M366.5 283.7h0M358.0 285.4h0M359.5 290.0h0M361.8 286.4h0M361.9 286.7h0M359.6 283.2h0M358.4 298.2h0M359.7 288.5h0M359.4 290.8h0M362.0 287.2h0M362.0 284.0h0M360.3 287.2h0M363.6 280.5h0M355.2 286.7h0M358.6 284.7h0M364.2 293.3h0M359.4 285.4h0M360.1 290.5h0M358.9 281.9h0M363.3 278.7h0M362.0 283.7h0M357.0 282.3h0M365.6 284.4h0M361.2 287.0h0M363.5 279.4h0M359.5 287.3h0M364.5 282.5h0M364.8 283.9h0M360.5 285.5h0M357.8 283.0h0M359.3 286.9h0M358.2 283.0h0M362.4 277.5h0M359.9 289.0h0M362.9 292.1h0M358.0 283.7h0M360.8 282.5h0M359.2 284.9h0M360.4 286.4h0M363.0 281.9h0M364.8 288.3h0M363.5 289.6h0M357.4 292.5h0M360.3 286.0h0M356.6 284.2h0M364.0 285.3h0M362.1 293.7h0M362.5 287.0h0M365.6 284.5h0M364.4 287.0h0M364.8 287.1h0M360.9 285.1h0M366.6 281.6h0M363.8 288.5h0M365.2 291.2h0M356.5 280.2h0M366.4 281.5h0M359.6 285.4h0M361.3 291.0h0M358.6 291.2h0M355.0 288.1h0M366.1 293.5h0M361.3 285.9h0M358.9 287.0h0M355.8 289.9h0M361.6 286.3h0M354.2 290.5h0M366.0 282.9h0M366.7 288.7h0M359.8 292.9h0M361.8 284.1h0M358.9 288.0h0M366.2 284.0h0M364.1 279.9h0M365.3 279.0h0M363.7 287.4h0M356.4 285.4h0M359.1 282.4h0M358.4 284.8h0M360.2 286.5h0M362.1 285.0h0M358.0 285.1h0M366.8 279.0h0M364.8 288.6h0M364.4 289.8h0M358.4 295.8h0M356.9 298.3h0M362.1 287.0h0M363.2 288.4h0M363.2 286.1h0M357.0 282.9h0M357.9 291.9h0M361.2 287.7h0M358.6 287.6h0M362.1 285.2h0M366.6 286.9h0M359.8 294.1h0M361.9 280.4h0M365.3 288.7h0M363.6 288.3h0M361.8 283.1h0M358.8 284.0h0M361.9 281.3h0M363.2 282.8h0M367.1 287.7h0M358.4 287.0h0M356.7 282.5h0M366.2 285.1h0M366.0 290.5h0M359.1 289.9h0M354.6 285.3h0M356.8 289.5h0M358.5 286.6h0M361.2 294.1h0M358.4 287.3h0M364.7 286.8h0M363.0 285.9h0M363.4 290.5h0M366.9 294.4h0M363.5 281.7h0M357.5 285.9h0M365.8 287.7h0M360.8 294.6h0M354.8 286.5h0M358.1 287.5h0M356.7 282.4h0M363.6 287.5h0M363.4 285.7h0M360.4 289.8h0M362.5 286.6h0M362.7 284.2h0M360.9 290.2h0M367.0 286.0h0M354.5 284.7h0M366.8 279.1h0M366.3 288.0h0M360.6 283.7h0M357.5 286.0h0M363.3 282.1h0M365.5 288.4h0M358.5 290.1h0M355.0 288.6h0M362.4 286.2h0M358.4 283.3h0M354.8 285.9h0M358.5 284.8h0M359.8 279.5h0M358.2 289.2h0M361.5 284.6h0M356.3 287.3h0M362.0 282.3h0M360.9 292.5h0M358.0 291.9h0M366.8 279.7h0M354.6 281.5h0M354.8 286.1h0M360.3 286.1h0M361.0 282.5h0M360.9 286.2h0M364.9 288.5h0M367.2 291.2h0M366.2 289.1h0M360.2 280.5h0M358.8 286.9h0M363.6 291.2h0M360.2 284.5h0M366.3 286.7h0M365.6 284.5h0M354.7 285.0h0M359.8 285.1h0M355.9 279.9h0M366.2 287.2h0M360.5 284.3h0M363.3 297.9h0M361.7 297.7h0M357.6 287.6h0M361.6 281.6h0M364.5 286.6h0M361.7 287.7h0M359.9 284.8h0M366.0 281.5h0M366.8 292.7h0M363.4 275.9h0M364.7 288.9h0M357.5 290.7h0M363.0 285.7h0M360.5 288.2h0M359.7 284.7h0M359.8 292.5h0M365.9 288.3h0M366.2 293.0h0M357.8 284.8h0M362.3 288.7h0M357.9 284.3h0M359.9 288.5h0M356.6 300.1h0M360.1 282.3h0M362.2 291.5h0M360.8 288.8h0M357.7 290.2h0M365.3 287.9h0M366.5 288.2h0M357.5 290.3h0M356.0 281.2h0M366.8 285.3h0M366.5 288.4h0M361.6 290.3h0M359.0 288.8h0M364.2 288.5h0M361.3 284.7h0M364.6 289.8h0M358.3 276.5h0M362.8 286.1h0M361.0 285.1h0M366.0 297.2h0M361.6 292.4h0M364.9 288.7h0M365.9 287.8h0M358.2 290.8h0M364.9 289.6h0M366.1 295.4h0M354.9 281.6h0M357.9 283.9h0M359.3 294.0h0M366.8 287.5h0M360.8 284.0h0M360.0 282.1h0M366.2 282.7h0M358.1 282.0h0M364.0 290.9h0M363.8 279.9h0M362.0 291.9h0M362.7 280.2h0M367.3 282.3h0M354.7 285.6h0M359.7 294.2h0M356.5 288.0h0M364.4 287.9h0M364.2 282.6h0M363.6 280.0h0M358.8 296.5h0M366.4 285.7h0M363.0 292.1h0M359.6 288.3h0M360.7 281.3h0M367.2 283.7h0M360.2 288.7h0M361.9 283.0h0M361.0 293.9h0M355.7 283.3h0M358.8 286.4h0M355.2 287.5h0M361.9 283.3h0M365.6 288.0h0M357.9 291.2h0M362.4 272.1h0M367.0 294.1h0M358.6 294.4h0M366.1 297.0h0M364.4 284.7h0M358.7 292.7h0M365.9 282.8h0M363.7 287.7h0M365.5 290.1h0M354.7 281.2h0M360.1 283.8h0M359.3 283.5h0M363.7 285.8h0M357.5 282.2h0M358.5 290.3h0M365.8 284.5h0M360.0 283.7h0M363.9 287.8h0M365.9 287.3h0M363.6 289.4h0M365.7 285.4h0M358.4 287.5h0M364.5 293.2h0M364.4 287.8h0M364.2 276.6h0M357.9 286.7h0M366.1 288.5h0M358.5 285.4h0M358.6 287.0h0M364.6 286.9h0M357.6 285.8h0M354.3 284.1h0M357.0 284.8h0M353.9 288.5h0M358.3 286.9h0M366.3 282.7h0M365.0 279.3h0M361.9 285.4h0M353.9 286.3h0M360.2 291.0h0M365.1 283.6h0M360.1 291.3h0M366.4 293.6h0M354.9 292.2h0M363.4 285.1h0M357.9 284.2h0M354.7 288.0h0M363.8 288.9h0M363.5 295.9h0M362.8 284.2h0M356.0 290.4h0M359.2 290.3h0M363.7 285.3h0M363.4 283.7h0M357.2 280.6h0M361.5 294.1h0M366.0 286.3h0M367.1 283.9h0M357.5 289.8h0M360.3 292.4h0M355.6 292.7h0M362.5 290.2h0M360.6 286.1h0M363.4 288.9h0M367.1 290.4h0M366.3 290.3h0M355.4 293.7h0M363.2 295.9h0M355.9 287.4h0M359.9 284.5h0M365.4 283.7h0M365.0 286.2h0M367.1 291.7h0M354.3 286.6h0M360.4 286.2h0M364.5 288.4h0M365.4 282.6h0M364.3 289.4h0M367.1 283.2h0M359.7 291.7h0M363.0 285.9h0M358.9 287.2h0M360.6 291.1h0M364.3 285.2h0M359.0 289.6h0M364.9 282.2h0M359.8 291.1h0M364.3 301.6h0M354.2 289.3h0M357.6 289.3h0M364.4 286.2h0M361.5 287.6h0M365.4 282.1h0M360.6 289.1h0M366.4 282.6h0M357.7 298.2h0M365.4 288.4h0M364.6 288.8h0M358.9 284.2h0M358.0 288.2h0M365.0 292.0h0M357.7 295.1h0M358.8 281.3h0M357.5 286.5h0M358.5 281.7h0M358.2 294.4h0M365.9 290.1h0M354.8 280.7h0M360.4 290.0h0M362.3 285.8h0M361.3 294.6h0M366.6 285.0h0M359.3 285.2h0M363.7 292.0h0M358.1 286.0h0M364.5 282.0h0M358.2 278.3h0M355.3 292.5h0M364.4 284.1h0M366.3 284.4h0M362.1 287.3h0M366.6 289.0h0M360.6 285.9h0M365.8 290.1h0M362.0 283.0h0M363.7 295.2h0M354.4 295.8h0M363.0 290.0h0M363.0 290.2h0M365.3 289.0h0M360.2 284.9h0M355.2 291.2h0M365.7 289.1h0M360.8 291.7h0M366.8 290.7h0M362.6 293.2h0M365.6 287.8h0M365.5 282.4h0M361.7 284.1h0M366.4 288.2h0M358.8 284.3h0M364.3 281.7h0M365.8 290.4h0M356.9 287.8h0M364.7 283.1h0M361.7 292.9h0M367.2 294.6h0M365.4 284.9h0M360.1 286.1h0M365.4 285.2h0M359.1 289.8h0M354.8 286.4h0M360.3 284.9h0M364.5 283.4h0M362.6 283.8h0M358.6 283.2h0M356.6 280.2h0M362.0 277.2h0M366.6 281.2h0M360.6 283.3h0M367.2 279.8h0M357.7 282.5h0M355.9 280.0h0M364.4 283.4h0M366.8 288.4h0M358.6 286.9h0M358.8 287.4h0M362.1 283.9h0M367.3 286.4h0M360.9 278.0h0M361.1 288.2h0M365.6 289.1h0M363.5 290.9h0M359.7 286.7h0M365.7 285.8h0M366.6 286.7h0M358.2 288.6h0M357.5 286.6h0M362.1 287.5h0M358.4 290.7h0M366.2 277.4h0M362.6 289.1h0M359.5 288.0h0M356.0 290.3h0M364.5 285.2h0M364.0 290.4h0M355.9 288.8h0M362.2 281.9h0M364.1 286.3h0M365.9 289.9h0M366.6 286.8h0M365.3 292.2h0M359.7 293.1h0M366.2 285.6h0M364.2 287.0h0M355.4 294.1h0M365.6 277.5h0M360.2 280.2h0M367.1 290.7h0M357.7 288.0h0M359.1 291.6h0M359.3 294.0h0M361.0 285.7h0M362.4 288.8h0M357.5 280.4h0M366.9 292.1h0M360.6 284.6h0M358.4 287.0h0M360.7 287.2h0M360.9 291.0h0M358.7 286.3h0M355.8 286.2h0M354.5 293.1h0M362.1 285.6h0M363.8 281.4h0M358.2 282.4h0M360.4 286.3h0M357.7 281.8h0M363.5 284.2h0M367.1 292.9h0M358.2 281.7h0M366.9 292.3h0M362.2 282.5h0M357.2 290.9h0M365.4 282.8h0M357.5 286.5h0M367.0 293.6h0M364.1 280.7h0M361.2 279.2h0M361.7 288.9h0M359.6 290.1h0M364.3 280.4h0M365.0 291.5h0M357.4 283.6h0M363.8 290.4h0M361.7 282.1h0M360.4 287.8h0M358.5 293.7h0M359.2 284.2h0M366.1 289.5h0M367.0 290.6h0M364.1 284.8h0M357.9 289.1h0M359.6 285.7h0M355.8 287.2h0M357.7 292.3h0M359.2 290.5h0M364.5 287.9h0M360.3 290.9h0M365.4 291.0h0M360.0 281.5h0M367.3 285.7h0M359.9 282.1h0M361.3 288.1h0M359.5 287.2h0M366.6 294.1h0M366.1 286.7h0M366.4 286.5h0M366.2 289.7h0M359.1 285.7h0M362.5 285.3h0M363.3 286.1h0M354.9 288.1h0M363.5 276.1h0M360.5 289.9h0M357.0 288.8h0M365.4 289.6h0M365.2 293.9h0M354.1 286.4h0M365.6 289.3h0M363.8 294.9h0M364.0 288.1h0M360.8 282.7h0M366.4 289.9h0M359.9 281.4h0M363.2 294.2h0M365.3 292.5h0M360.2 283.7h0M363.1 290.7h0M366.5 291.5h0M360.7 284.7h0M360.1 288.0h0M359.7 291.5h0M361.2 287.1h0M364.3 290.6h0M366.6 289.3h0M361.5 285.7h0M354.3 293.5h0M364.0 293.9h0M360.1 286.9h0M358.5 282.0h0M361.8 286.3h0M356.1 282.0h0M364.5 285.4h0M357.6 287.2h0M362.0 286.8h0M359.2 282.9h0M367.1 287.4h0M355.0 283.3h0M356.9 288.0h0M362.9 289.6h0M360.0 284.6h0M354.5 280.4h0M360.9 281.7h0M365.7 284.6h0M365.9 289.2h0M366.5 286.8h0M360.9 294.2h0M364.7 289.2h0M365.3 290.7h0M360.2 274.5h0M355.9 287.3h0M356.8 289.0h0M365.4 285.5h0M360.8 285.5h0M359.2 289.8h0M357.7 282.9h0M359.8 290.8h0M358.6 283.8h0M365.9 288.5h0M365.6 283.2h0M358.5 278.4h0M363.5 284.2h0M363.5 276.1h0M361.5 280.3h0M357.5 288.2h0M364.6 296.9h0M363.5 293.1h0M360.8 287.6h0M364.8 289.3h0M360.4 285.9h0M358.4 289.8h0M362.9 286.7h0M358.5 283.9h0M366.9 287.2h0M363.9 281.0h0M360.8 292.6h0M357.5 293.0h0M357.9 283.3h0M360.1 284.8h0M358.1 284.4h0M366.6 291.7h0M357.9 290.6h0M360.0 281.4h0M364.2 292.8h0M361.9 282.6h0M361.4 297.2h0M362.1 287.1h0M362.4 286.4h0M365.5 289.2h0M365.3 280.6h0M362.8 285.4h0M367.1 295.3h0M361.9 287.9h0M356.1 289.2h0M358.9 287.6h0M366.5 291.1h0M357.8 293.2h0M360.4 286.4h0M358.7 287.5h0M365.9 290.8h0M355.7 283.1h0M359.7 287.8h0M358.2 288.3h0M356.8 290.3h0M363.2 285.0h0M359.8 288.3h0M360.4 279.4h0M361.6 299.4h0M359.7 290.5h0M365.9 290.3h0M357.6 290.1h0M364.2 290.5h0M364.3 289.4h0M363.6 282.5h0M363.7 292.1h0M359.3 282.7h0M364.3 290.2h0M360.8 292.5h0M366.4 294.5h0M358.4 281.1h0M356.6 311.3h0M354.5 303.8h0M355.8 306.0h0M362.3 257.8h0M365.9 309.7h0M354.0 309.2h0M365.3 279.5h0M358.6 299.5h0M363.9 287.7h0M361.2 303.0h0M359.6 281.0h0M363.2 290.6h0M353.9 297.8h0M358.8 259.8h0M363.4 263.2h0M355.5 265.8h0M365.3 299.8h0M363.3 257.0h0M361.4 288.6h0M353.4 266.2h0M365.3 260.1h0M362.3 278.5h0M362.9 267.9h0M362.0 305.2h0M367.0 275.9h0M356.3 281.2h0M358.9 284.7h0M354.4 293.3h0M362.1 268.7h0M365.3 275.5h0M358.3 304.1h0M360.3 291.4h0M354.5 292.1h0M358.6 246.7h0M361.0 253.8h0M366.5 255.2h0M372.0 254.8h0M355.4 265.7h0M354.7 272.8h0M353.9 303.6h0M353.9 308.3h0M363.4 313.5h0M361.0 307.4h0M432.1 285.1h0M438.4 286.1h0M440.8 288.4h0M436.0 288.9h0M444.7 284.6h0M446.3 289.8h0M430.5 289.4h0M442.4 292.2h0M434.4 291.7h0M428.9 283.7h0M447.9 285.6h0M443.1 287.9h0" stroke="#bdbdbd" stroke-width="1.9" stroke-linecap="round"/>
<path d="M410.9 281.5h0M406.7 280.9h0M420.7 281.4h0M401.5 280.4h0M425.0 281.2h0M382.4 274.5h0M395.6 277.8h0M381.0 276.3h0M407.2 280.9h0M368.0 281.4h0M393.9 281.3h0M428.6 281.6h0M403.5 278.3h0M417.4 281.7h0M412.1 278.8h0M381.5 281.7h0M404.2 280.5h0M397.6 276.5h0M392.3 281.2h0M419.3 281.3h0M406.3 277.2h0M391.1 277.5h0M406.5 278.5h0M412.1 280.9h0M422.6 280.6h0M373.7 277.9h0M402.3 281.3h0M417.7 279.4h0M375.6 276.7h0M382.7 280.0h0M369.4 279.1h0M384.0 274.7h0M377.5 281.0h0M371.7 278.8h0M401.4 280.3h0M388.0 281.7h0M419.7 279.8h0M417.2 281.3h0M397.9 276.8h0M413.2 281.7h0M399.0 277.6h0M389.0 280.0h0M404.8 278.4h0M381.0 277.0h0M421.6 280.9h0M400.2 277.8h0M384.1 274.5h0M395.5 274.9h0M383.2 273.8h0M414.6 279.2h0M367.9 277.6h0M374.0 276.1h0M422.6 280.7h0M413.1 280.3h0M397.9 278.8h0M409.3 279.8h0M392.3 278.0h0M395.0 281.3h0M376.7 281.5h0M405.2 279.1h0M413.2 279.8h0M408.7 279.4h0M425.6 281.5h0M424.0 281.2h0M375.9 278.0h0M387.0 279.3h0M372.0 276.4h0M371.4 275.8h0M419.6 279.8h0M378.3 279.2h0M401.1 279.5h0M373.6 279.6h0M396.0 278.6h0M371.2 276.7h0M387.3 275.8h0M427.1 281.6h0M426.8 281.6h0M404.6 278.6h0M428.1 281.8h0M389.9 279.1h0M369.8 279.0h0M406.2 276.2h0M396.6 276.3h0M401.4 280.6h0M376.1 280.4h0M409.2 278.9h0M385.4 279.8h0M400.8 278.2h0M408.0 281.1h0M389.4 280.9h0M380.1 276.2h0M409.6 277.7h0M375.5 273.7h0M419.5 281.6h0M415.9 280.1h0M408.7 281.8h0M369.4 278.9h0M382.1 280.4h0M395.2 274.1h0M403.7 275.8h0M372.4 273.6h0M382.5 276.8h0M419.7 279.6h0M417.3 280.1h0M381.8 279.1h0M408.3 279.2h0M393.9 279.3h0M369.6 273.9h0M373.8 280.8h0M368.0 281.1h0M389.3 273.3h0M419.8 281.0h0M382.5 278.0h0M378.4 278.7h0M417.3 280.3h0M412.9 280.1h0M403.8 280.9h0M383.4 281.1h0M387.4 274.4h0M419.9 280.4h0M386.2 281.7h0M394.3 273.5h0M420.5 280.1h0M380.0 281.1h0M375.7 277.3h0M390.3 280.8h0M404.8 276.6h0M412.3 281.8h0M426.8 281.6h0M399.4 280.1h0M369.1 274.7h0M373.3 275.7h0M408.9 278.1h0M417.8 280.9h0M397.6 281.4h0M427.0 281.6h0M379.2 277.0h0M409.2 277.7h0M372.9 279.1h0M375.3 275.4h0M410.3 280.3h0M380.7 273.9h0M379.5 281.6h0M408.9 278.6h0M419.1 280.6h0M401.7 279.6h0M412.4 279.0h0M421.5 280.4h0M371.5 275.2h0M419.6 280.7h0M414.0 279.7h0M390.7 279.4h0M399.7 278.2h0M371.5 281.5h0M390.2 281.1h0M368.0 278.9h0M372.4 274.3h0M393.6 273.9h0M401.8 276.8h0M372.8 280.6h0M418.7 280.2h0M415.1 279.9h0M394.7 280.9h0M409.5 281.4h0M388.8 280.9h0M406.0 278.8h0M408.7 278.2h0M373.0 276.7h0M392.4 280.3h0M379.8 277.7h0M390.1 277.2h0M383.2 278.2h0M421.5 281.4h0M403.7 279.9h0M397.1 281.0h0M412.0 279.8h0M395.7 280.9h0M405.3 280.9h0M404.8 279.2h0M381.7 273.7h0M412.4 278.2h0M410.4 281.3h0M374.3 281.4h0M368.0 274.3h0M417.9 280.7h0M379.8 278.6h0M402.9 281.6h0M420.0 280.2h0M418.2 280.2h0M382.4 279.2h0M380.2 275.6h0M415.5 281.1h0M399.2 278.8h0M402.0 281.8h0M400.8 278.5h0M398.4 277.0h0M377.1 275.7h0M397.5 274.7h0M369.6 281.7h0M423.7 281.2h0M405.9 280.7h0M369.0 281.7h0M420.7 281.7h0M392.0 279.9h0M410.8 280.2h0M403.0 281.8h0M369.8 276.1h0M407.1 276.7h0M408.0 280.2h0M402.4 279.1h0M378.7 281.6h0M403.0 278.6h0M404.2 275.5h0M367.9 277.0h0M376.6 274.5h0M375.5 273.9h0M379.9 280.3h0M418.2 281.7h0M371.9 274.3h0M390.8 280.7h0M405.2 281.7h0M384.6 275.7h0M385.2 280.3h0M373.9 278.6h0M403.2 277.4h0M375.1 277.1h0M404.1 275.9h0M382.0 273.1h0M394.0 278.2h0M385.4 278.2h0M410.4 279.5h0M416.9 281.1h0M417.7 279.2h0M367.9 276.7h0M375.3 280.5h0M415.9 281.0h0M405.1 281.0h0M375.4 279.8h0M420.6 281.1h0M378.9 276.5h0M380.7 277.0h0M422.5 280.5h0M367.9 278.6h0M420.8 281.7h0M393.6 273.3h0M415.3 281.5h0M376.5 280.5h0M393.0 276.2h0M408.2 277.2h0M371.4 279.3h0M386.9 276.9h0M373.1 276.8h0M404.4 280.3h0M388.9 278.9h0M384.2 280.9h0M402.2 276.1h0M375.9 279.1h0M414.6 278.9h0M420.8 281.1h0M375.2 275.8h0M407.8 278.8h0M395.2 278.9h0M409.5 279.0h0M400.5 276.7h0M400.7 280.0h0M402.4 280.3h0M389.8 276.6h0M409.1 280.7h0M421.4 281.5h0M413.4 281.4h0M375.6 280.9h0M392.5 280.6h0M381.8 277.5h0M415.4 281.4h0M400.5 278.0h0M374.2 281.2h0M384.3 275.5h0M414.4 278.2h0M397.8 279.4h0M395.6 281.7h0M388.1 274.6h0M405.1 281.3h0M428.9 281.8h0M412.2 277.8h0M374.7 281.1h0M412.0 277.9h0M395.6 273.3h0M421.5 280.6h0M397.4 275.7h0M391.5 278.7h0M418.3 281.8h0M410.1 281.1h0M406.7 277.8h0M411.2 280.3h0M417.7 281.6h0M414.8 280.1h0M412.0 279.0h0M397.9 281.1h0M387.4 275.4h0M371.5 274.5h0M412.6 279.6h0M407.6 278.8h0M401.7 276.9h0M404.7 281.4h0M373.6 274.5h0M417.2 279.7h0M416.1 281.1h0M389.8 276.3h0M407.6 280.4h0M369.8 281.6h0M400.9 278.6h0M403.8 278.9h0M374.6 278.6h0M396.8 276.9h0M398.9 276.6h0M424.6 281.3h0M380.6 276.7h0M412.3 279.9h0M372.7 279.7h0M418.5 279.8h0M406.7 281.6h0M417.9 280.7h0M411.2 281.3h0M417.7 280.4h0M378.6 278.8h0M401.6 278.9h0M394.8 279.6h0M373.4 280.5h0M385.1 277.7h0M389.2 280.3h0M409.6 281.4h0M411.1 279.9h0M383.0 280.8h0M379.7 275.1h0M395.0 281.4h0M411.7 280.1h0M390.5 279.2h0M401.3 279.3h0M377.0 279.2h0M406.1 280.4h0M412.1 279.4h0M396.5 281.6h0M398.8 281.4h0M404.0 278.3h0M387.5 280.4h0M418.0 280.0h0M414.4 280.5h0M381.0 275.3h0M419.8 281.5h0M382.1 281.2h0M377.1 273.8h0M396.7 274.1h0M407.2 277.8h0M398.7 278.7h0M384.1 274.6h0M386.9 276.1h0M401.2 277.0h0M413.9 281.4h0M402.7 280.4h0M428.4 281.6h0M418.1 280.0h0M423.6 281.1h0M427.6 281.7h0M420.6 281.7h0M411.2 279.5h0M396.6 280.4h0M407.8 278.2h0M404.8 281.3h0M413.9 281.4h0M413.5 280.9h0M399.3 281.6h0M404.5 281.1h0M415.7 278.6h0M400.5 279.5h0M397.8 275.7h0M374.3 277.0h0M376.9 275.4h0M418.8 281.2h0M378.9 280.3h0M386.5 275.9h0M394.7 276.5h0M415.8 278.8h0M407.1 280.9h0M374.0 276.2h0M416.9 280.3h0M397.5 280.9h0M383.0 280.8h0M391.6 278.5h0M424.2 281.6h0M390.0 278.3h0M408.5 279.3h0M426.2 281.8h0M404.4 281.3h0M404.7 280.5h0M376.4 273.8h0M418.5 281.5h0M388.2 278.0h0M410.9 281.2h0M409.7 278.2h0M371.8 279.0h0M369.6 278.3h0M408.9 278.7h0M406.7 281.8h0M381.4 281.3h0M388.5 281.7h0M415.9 280.6h0M393.1 277.6h0M416.0 280.0h0M415.4 280.6h0M381.5 275.3h0M396.2 281.6h0M375.5 275.4h0M367.9 274.1h0M406.9 278.4h0M376.2 277.5h0M404.5 280.9h0M397.5 278.8h0M422.8 281.8h0M382.1 273.8h0M404.0 278.3h0M386.2 279.4h0M393.6 274.1h0M383.8 281.7h0M396.1 280.2h0M396.5 281.0h0M383.8 279.5h0M415.7 281.0h0M407.8 280.2h0M376.1 279.4h0M380.9 281.8h0M381.5 276.0h0M384.4 279.0h0M377.6 274.8h0M378.5 273.0h0M411.2 280.9h0M411.6 281.4h0M392.5 278.0h0M387.1 275.3h0M386.9 277.3h0M422.0 280.3h0M379.8 276.0h0M392.4 273.5h0M376.6 279.7h0M409.4 276.8h0M423.7 281.1h0M374.7 273.5h0M419.0 281.4h0M413.0 277.9h0M395.8 277.8h0M368.3 277.6h0M418.5 280.7h0M393.2 280.3h0M395.1 277.8h0M413.9 279.1h0M418.6 280.0h0M380.3 275.2h0M385.2 274.8h0M392.3 277.7h0M407.9 281.2h0M375.7 275.0h0M415.7 281.1h0M389.5 275.1h0M406.3 281.4h0M403.8 280.5h0M370.7 281.7h0M422.3 280.4h0M399.1 277.1h0M387.1 276.0h0M381.7 280.0h0M421.7 280.3h0M429.0 281.6h0M367.9 277.6h0M389.6 274.4h0M418.7 280.8h0M394.6 281.8h0M375.9 278.6h0M368.3 275.6h0M395.7 275.6h0M369.3 279.1h0M391.9 281.5h0M388.2 281.8h0M413.9 281.4h0M407.1 281.3h0M392.7 273.3h0M377.1 281.6h0M419.0 280.2h0M378.8 273.0h0M388.3 277.7h0M369.6 279.2h0M423.8 281.4h0M401.7 276.3h0M395.2 279.1h0M413.7 281.5h0M368.7 280.1h0M404.3 279.4h0M370.0 275.6h0M418.0 279.4h0M370.6 278.6h0M387.1 278.3h0M368.5 281.7h0M414.5 281.6h0M369.0 276.5h0M367.9 274.0h0M377.3 277.8h0M414.6 279.1h0M384.8 280.5h0M377.6 273.7h0M398.5 275.0h0M415.4 279.0h0M374.8 274.7h0M418.4 281.2h0M392.2 275.5h0M374.0 281.4h0M368.4 278.4h0M428.8 281.6h0M409.0 280.6h0M395.1 274.2h0M415.5 278.9h0M385.3 275.7h0M419.7 280.8h0M384.6 275.8h0M408.2 279.4h0M429.4 281.7h0M416.3 278.8h0M383.2 281.8h0M391.8 276.3h0M420.1 280.7h0M400.6 279.8h0M393.4 277.8h0M415.2 281.7h0M396.5 280.7h0M367.9 281.7h0M412.4 280.5h0M417.5 280.1h0M369.2 276.8h0M402.7 276.3h0M412.6 281.1h0M415.3 280.1h0M385.9 280.8h0M394.9 278.6h0M390.7 280.3h0M394.2 280.0h0M396.2 276.1h0M403.7 280.9h0M383.6 275.2h0M416.0 280.4h0M389.4 275.1h0M384.2 280.1h0M373.7 277.9h0M379.9 277.2h0M397.6 280.4h0M390.8 277.4h0M423.3 281.2h0M406.6 278.6h0M420.2 281.3h0M393.6 278.0h0M388.1 278.6h0M367.9 277.0h0M369.0 281.2h0M382.3 281.7h0M405.8 278.0h0M381.9 280.9h0M413.2 277.9h0M414.7 279.9h0M376.5 278.4h0M410.1 277.1h0M422.7 281.0h0M423.9 281.0h0M412.7 279.5h0M404.3 280.2h0M427.1 281.6h0M410.6 281.6h0M367.9 280.4h0M374.3 273.4h0M399.2 279.8h0M417.1 279.5h0M401.9 277.9h0M371.0 274.0h0M391.0 280.1h0M415.4 279.8h0M410.6 281.2h0M402.4 277.5h0M372.0 279.7h0M423.3 280.7h0M406.4 281.8h0M397.7 276.4h0M392.3 278.9h0M395.9 281.5h0M383.8 279.9h0M384.6 280.2h0M378.0 277.7h0M428.0 281.7h0M413.6 278.1h0M424.5 281.4h0M369.6 277.6h0M407.2 278.3h0M401.7 276.4h0M423.4 281.0h0M420.1 281.4h0M395.3 275.5h0M413.2 281.2h0M386.6 278.6h0M392.6 279.2h0M379.2 276.2h0M372.8 273.5h0M374.9 275.5h0M409.2 279.1h0M413.8 278.0h0M368.2 276.9h0M406.5 277.9h0M413.4 280.1h0M385.5 281.7h0M398.1 277.5h0M374.1 277.9h0M369.5 281.4h0M405.3 278.0h0M379.6 279.8h0M425.6 281.4h0M370.2 281.6h0M377.8 278.5h0M394.1 278.0h0M399.1 277.4h0M390.7 279.6h0M393.0 277.0h0M372.2 281.1h0M409.4 279.8h0M395.0 273.8h0M395.5 279.8h0M373.6 278.1h0M398.7 280.4h0M381.2 275.9h0M423.2 280.9h0M418.0 279.9h0M368.8 277.7h0M381.8 278.3h0M425.7 281.5h0M418.3 279.6h0M373.1 275.2h0M381.0 278.2h0M396.2 276.0h0M394.5 279.4h0M401.1 281.6h0M401.1 280.3h0M419.8 280.9h0M372.1 280.5h0M405.0 281.7h0M392.2 276.6h0M384.6 281.7h0M391.6 280.4h0M374.4 276.1h0M385.5 280.8h0M387.0 280.8h0M390.8 278.6h0M407.6 280.9h0M378.2 277.8h0M394.9 275.9h0M383.3 276.4h0M411.8 280.5h0M380.5 281.1h0M369.1 272.8h0M421.7 280.3h0M401.7 275.7h0M400.9 278.4h0M394.6 280.0h0M381.1 279.4h0M417.2 279.1h0M385.5 274.5h0M417.3 280.4h0M377.8 277.1h0M421.3 280.6h0M400.7 279.3h0M415.8 281.5h0M378.3 281.0h0M394.3 279.3h0M385.7 281.7h0M425.9 281.4h0M380.5 279.9h0M382.4 277.3h0M382.1 274.1h0M369.7 278.0h0M394.2 277.2h0M375.0 278.6h0M407.1 281.3h0M398.4 281.0h0M376.2 273.7h0M382.8 280.0h0M414.2 280.5h0M376.8 275.8h0M395.9 279.3h0M387.1 275.5h0M411.3 279.5h0M413.8 281.6h0M387.4 274.3h0M416.0 280.7h0M378.9 280.3h0M412.4 279.9h0M418.5 281.6h0M385.2 279.8h0M397.9 278.8h0M382.5 274.3h0M391.0 278.4h0M423.7 281.5h0M375.8 280.3h0M420.0 281.8h0M370.9 280.8h0M372.0 273.2h0M372.6 275.2h0M394.0 273.7h0M386.4 281.7h0M378.2 278.7h0M379.8 275.4h0M398.3 276.1h0M392.7 281.3h0M368.0 281.6h0M389.7 274.1h0M376.1 281.5h0M395.8 280.8h0M379.0 280.3h0M367.9 273.0h0M377.9 281.2h0M405.6 278.9h0M398.9 276.2h0M409.8 281.0h0M414.5 279.8h0M415.3 279.3h0M402.7 276.7h0M399.4 281.3h0M377.7 273.4h0M384.0 276.6h0M374.6 279.1h0M407.8 281.7h0M409.6 279.0h0M396.3 281.4h0M385.8 275.5h0M409.0 281.3h0M412.7 279.8h0M429.5 281.6h0M404.6 277.7h0M409.7 277.3h0M403.1 281.0h0M410.7 281.7h0M415.3 278.7h0M378.8 280.2h0M418.4 279.7h0M402.9 276.5h0M371.6 280.5h0M428.2 281.7h0M406.2 276.8h0M416.8 281.7h0M413.1 281.7h0M424.1 281.7h0M417.4 280.2h0M413.7 281.7h0M369.3 278.7h0M399.1 279.6h0M377.9 281.5h0M376.1 280.0h0M367.9 280.8h0M386.5 276.7h0M402.5 280.6h0M427.0 281.5h0M400.0 277.4h0M384.2 276.7h0M377.6 281.2h0M383.6 273.4h0M418.3 280.3h0M418.4 280.2h0M396.3 280.1h0M373.9 273.1h0M383.6 274.4h0M395.6 280.4h0M385.1 279.8h0M396.3 274.0h0M383.6 277.5h0M373.2 274.9h0M399.0 278.8h0M383.6 278.8h0M417.5 281.8h0M410.4 281.6h0M422.1 281.0h0M388.5 279.1h0M386.8 274.5h0M368.4 280.0h0M381.8 275.8h0M402.0 276.0h0M373.6 277.7h0M405.9 280.3h0M417.2 281.3h0M382.2 279.4h0M395.5 278.7h0M377.1 278.9h0M376.5 276.4h0M368.9 273.6h0M397.6 281.3h0M389.7 279.6h0M416.8 281.4h0M386.8 280.9h0M380.4 273.6h0M416.5 280.1h0M384.8 273.5h0M375.1 273.9h0M397.5 281.0h0M420.1 281.0h0M395.5 278.8h0M378.1 277.8h0M378.1 274.0h0M393.5 279.6h0M394.6 278.0h0M414.7 280.3h0M413.2 280.2h0M391.3 277.4h0M391.6 280.8h0M413.3 277.8h0M382.3 281.1h0M374.4 275.3h0M414.2 278.6h0M421.8 281.6h0M392.5 274.5h0M401.7 277.2h0M413.0 281.1h0M416.6 281.2h0M390.1 278.5h0M389.9 276.9h0M386.4 276.1h0M399.4 281.7h0M407.0 277.2h0M391.0 281.7h0M413.1 281.0h0M419.6 280.1h0M370.3 273.1h0M388.0 277.4h0M376.9 273.4h0M391.5 279.8h0M423.6 281.0h0M387.3 280.8h0M371.9 278.7h0M419.7 281.2h0M397.5 277.6h0M386.6 280.8h0M420.1 280.6h0M410.4 280.0h0M394.1 279.3h0M369.0 280.7h0M374.3 276.1h0M402.3 280.0h0M417.9 281.2h0M420.0 280.9h0M385.1 280.4h0M385.7 281.8h0M379.5 281.6h0M400.3 280.3h0M375.8 279.6h0M395.1 281.2h0M424.0 281.2h0M425.3 281.3h0M369.7 280.8h0M399.5 278.8h0M390.8 274.9h0M394.8 280.4h0M373.0 276.5h0M386.7 277.5h0M384.5 280.6h0M382.3 281.1h0M376.1 279.4h0M417.1 281.3h0M425.1 281.5h0M419.8 280.5h0M403.2 275.6h0M371.5 277.7h0M425.5 281.8h0M416.8 279.0h0M392.7 276.5h0M383.3 281.4h0M383.7 277.6h0M407.8 278.6h0M405.0 280.5h0M383.0 274.3h0M384.3 280.9h0M414.4 281.3h0M374.8 277.1h0M402.1 276.7h0M414.9 281.1h0M419.0 280.0h0M398.3 276.6h0M370.9 273.9h0M370.5 273.3h0M371.4 278.8h0M393.8 280.0h0M396.6 276.4h0M401.5 280.7h0M421.0 280.7h0M417.9 279.4h0M377.5 281.6h0M398.9 278.7h0M393.5 275.1h0M424.8 281.7h0M414.6 280.6h0M379.1 278.9h0M406.4 278.3h0M403.6 276.2h0M400.1 229.6h0M438.6 230.0h0M376.3 235.0h0M390.7 235.9h0M396.2 234.1h0M398.9 235.0h0M402.5 234.1h0M404.3 235.0h0M407.9 233.2h0M414.2 235.0h0M420.9 234.5h0M381.7 238.7h0M387.1 237.2h0M392.5 237.7h0M395.2 238.7h0M398.0 237.7h0M400.7 236.8h0M403.4 238.7h0M407.0 237.7h0M408.8 235.9h0M379.0 242.3h0M384.4 243.5h0M387.1 243.5h0M393.4 242.3h0M397.1 241.4h0M398.9 243.2h0M405.2 243.7h0M412.4 244.4h0M414.2 242.6h0M431.0 238.7h0M372.7 245.9h0M392.5 246.8h0M398.0 245.9h0M389.8 250.0h0M395.2 248.6h0M401.6 251.3h0M369.0 250.0h0M374.5 249.5h0M372.7 257.1h0M379.0 257.1h0M384.9 260.3h0M386.2 259.4h0M388.0 264.9h0M378.1 264.0h0M382.6 264.9h0M369.0 264.0h0M368.1 268.5h0M370.8 267.6h0M375.4 266.7h0M379.0 269.4h0M383.5 267.6h0M385.3 269.4h0M388.9 268.5h0M391.6 270.3h0M392.5 265.8h0M396.2 267.6h0M407.0 264.3h0M418.7 270.3h0M435.0 280.2h0M425.1 279.3h0M421.5 280.2h0M399.8 274.8h0M401.6 273.0h0M405.2 274.8h0M408.8 276.6h0M412.4 278.4h0M398.3 236.5h0M401.2 239.6h0M397.1 244.1h0M401.9 235.4h0M399.4 240.5h0M394.3 235.0h0M370.8 271.2h0M373.6 270.3h0M377.2 271.2h0M380.8 272.1h0M387.1 272.1h0M394.3 272.6h0M381.7 271.2h0" stroke="#e00d12" stroke-width="2" stroke-linecap="round"/>
<path d="M400.9 292.3h0M423.4 293.3h0M419.4 294.7h0M392.0 293.3h0M426.8 293.1h0M417.2 293.8h0M378.2 296.6h0M408.0 295.7h0M398.2 293.9h0M401.7 296.8h0M415.6 292.1h0M373.9 292.3h0M424.5 292.4h0M375.6 292.8h0M369.3 296.0h0M425.2 293.7h0M415.0 293.2h0M424.6 293.0h0M376.4 294.5h0M375.8 297.8h0M406.2 292.6h0M378.2 296.5h0M391.8 298.8h0M412.1 295.3h0M421.5 292.0h0M422.7 294.0h0M392.9 293.0h0M394.1 294.8h0M406.5 293.4h0M384.8 295.9h0M409.3 294.1h0M398.7 298.6h0M405.8 293.2h0M390.2 298.6h0M397.5 291.9h0M397.6 299.2h0M381.7 295.6h0M420.5 294.7h0M399.7 296.6h0M405.0 293.2h0M387.7 292.6h0M409.8 295.7h0M400.6 293.5h0M369.1 294.2h0M392.0 293.7h0M404.6 297.8h0M415.4 296.4h0M388.7 297.1h0M375.1 292.6h0M383.0 293.7h0M417.7 294.9h0M399.7 298.6h0M406.0 292.8h0M396.3 292.5h0M375.1 297.1h0M399.2 297.7h0M410.8 294.5h0M392.9 295.0h0M371.7 294.1h0M369.3 298.1h0M390.2 294.3h0M393.1 294.3h0M417.8 292.0h0M428.9 292.5h0M367.9 295.4h0M382.4 294.6h0M428.2 292.5h0M391.0 295.8h0M375.5 294.2h0M419.0 292.3h0M420.0 293.9h0M369.8 295.2h0M415.5 292.1h0M377.1 297.7h0M411.9 294.5h0M388.9 299.0h0M415.4 295.5h0M382.0 294.4h0M409.8 297.3h0M416.9 295.6h0M386.4 294.5h0M398.5 294.2h0M415.2 295.2h0M403.0 291.8h0M403.0 294.3h0M417.9 293.8h0M421.7 292.9h0M373.6 295.8h0M404.5 295.1h0M429.5 292.0h0M379.4 296.1h0M390.3 299.3h0M398.9 294.8h0M410.1 296.1h0M429.2 292.2h0M377.0 295.4h0M419.1 294.9h0M373.5 292.4h0M375.6 298.1h0M393.8 293.3h0M395.7 292.4h0M407.6 296.7h0M386.3 299.5h0M393.4 295.4h0M429.5 292.2h0M420.3 293.9h0M398.0 296.4h0M372.8 295.4h0M421.9 292.5h0M422.5 292.1h0M393.7 296.3h0M387.8 293.5h0M371.6 296.7h0M418.3 293.1h0M369.1 292.6h0M387.2 293.0h0M414.8 294.3h0M372.5 292.2h0M416.0 291.9h0M418.5 293.2h0M425.0 293.6h0M380.1 296.8h0M406.3 297.4h0M388.1 292.6h0M397.6 295.3h0M378.9 299.6h0M421.9 294.4h0M414.5 296.7h0M420.5 293.7h0M426.1 291.9h0M421.2 292.2h0M397.3 292.3h0M419.1 293.7h0M391.2 295.4h0M404.0 294.2h0M402.9 294.8h0M397.9 295.8h0M408.8 296.3h0M372.9 296.0h0M392.0 294.0h0M415.2 292.3h0M410.3 296.2h0M370.0 297.7h0M422.9 292.9h0M408.7 294.9h0M396.9 298.0h0M401.6 292.7h0M413.0 294.6h0M424.5 292.2h0M386.2 297.9h0M394.8 298.2h0M410.1 296.3h0M405.1 292.1h0M375.3 292.5h0M404.4 298.3h0M428.7 292.5h0M372.9 297.8h0M393.0 299.0h0M372.9 296.9h0M410.0 291.9h0M369.4 292.1h0M409.4 292.4h0M385.2 294.8h0M389.9 292.0h0M377.9 291.9h0M414.1 293.4h0M420.4 293.1h0M368.2 292.1h0M373.8 298.5h0M422.2 293.8h0M388.4 296.3h0M382.0 295.8h0M420.8 292.0h0M409.6 294.5h0M421.3 293.0h0M397.1 293.3h0M396.1 298.0h0M367.9 295.9h0M385.5 294.6h0M418.3 295.0h0M422.7 292.0h0M389.8 294.6h0M380.5 292.0h0M412.9 294.9h0M396.6 292.2h0M369.3 292.0h0M392.4 293.8h0M417.8 293.5h0M374.7 297.2h0M371.9 293.6h0M369.8 291.9h0M384.0 293.4h0M423.9 293.6h0M425.0 291.8h0M406.4 297.6h0M429.4 292.1h0M376.7 295.3h0M387.7 298.1h0M406.8 295.3h0M387.9 298.4h0M391.8 294.9h0M388.4 298.2h0M401.7 297.3h0M396.0 298.7h0M368.9 292.7h0M383.4 292.2h0M418.2 295.1h0M373.0 291.9h0M373.2 295.8h0M419.2 295.2h0M400.0 292.6h0M404.8 293.6h0M387.7 293.1h0M385.4 296.9h0M374.4 291.9h0M380.0 295.5h0M373.8 297.8h0M423.7 292.8h0M394.8 295.2h0M404.6 294.4h0M383.0 294.6h0M379.0 295.8h0M370.2 292.4h0M423.5 292.0h0M379.4 293.5h0M371.1 291.8h0M413.2 293.5h0M385.6 294.4h0M404.1 295.4h0M416.0 295.3h0M378.2 293.0h0M375.3 292.6h0M419.7 293.8h0M395.6 296.7h0M382.3 292.4h0M389.9 295.8h0M392.4 292.3h0M403.6 296.2h0M400.8 298.8h0M372.6 293.0h0M420.3 294.0h0M375.6 294.0h0M396.0 295.6h0M415.9 292.8h0M377.2 296.8h0M368.9 294.7h0M378.5 297.1h0M384.4 293.1h0M382.7 296.3h0M374.3 294.3h0M380.8 292.9h0M424.9 292.6h0M417.0 293.5h0M382.6 294.7h0M379.2 299.2h0M390.9 299.1h0M368.6 293.3h0M408.1 292.6h0M372.7 294.2h0M399.6 296.0h0M402.1 296.7h0M408.9 294.7h0M382.5 296.8h0M377.1 292.9h0M372.0 295.5h0M421.5 292.0h0M415.4 292.4h0M382.5 295.1h0M401.7 292.4h0M427.6 293.3h0M381.2 295.6h0M372.0 292.8h0M417.2 292.2h0M373.4 292.0h0M377.8 296.2h0M420.7 292.0h0M419.4 294.8h0M386.2 298.2h0M406.5 295.9h0M393.2 293.7h0M387.9 296.1h0M368.8 296.7h0M406.5 294.1h0M373.6 299.2h0M419.7 294.7h0M396.9 294.6h0M379.9 292.0h0M420.3 292.6h0M392.4 298.9h0M395.2 292.2h0M378.0 292.8h0M392.8 292.4h0M416.6 291.9h0M377.6 297.4h0M394.2 293.6h0M401.3 292.6h0M390.4 293.4h0M417.7 295.1h0M421.5 294.9h0M416.4 296.0h0M395.3 297.7h0M384.4 296.4h0M391.3 297.6h0M393.0 298.1h0M407.9 294.1h0M391.2 298.9h0M403.6 293.9h0M373.3 298.0h0M376.5 292.6h0M408.8 294.2h0M408.8 296.2h0M409.0 294.3h0M368.1 293.0h0M408.1 296.2h0M422.3 293.6h0M411.5 293.2h0M400.4 292.0h0M379.5 297.6h0M383.7 292.8h0M400.2 298.3h0M390.4 292.3h0M390.8 298.3h0M411.6 294.4h0M391.9 296.9h0M421.6 291.9h0M381.6 292.1h0M402.8 294.8h0M406.3 298.2h0M397.8 293.0h0M403.7 292.5h0M378.8 293.8h0M394.7 294.8h0M386.9 298.4h0M430.5 291.9h0M388.6 292.6h0M381.2 293.2h0M406.6 293.6h0M395.3 299.1h0M420.2 293.9h0M386.4 291.9h0M426.3 292.5h0M369.0 295.1h0M408.5 297.2h0M370.5 296.3h0M379.8 293.4h0M384.9 298.1h0M393.1 291.8h0M430.2 292.4h0M380.6 293.4h0M407.5 293.1h0M397.4 292.7h0M421.5 291.9h0M374.2 292.3h0M413.6 295.9h0M427.4 292.5h0M390.5 295.0h0M415.0 295.4h0M387.1 294.1h0M391.8 294.8h0M422.7 294.2h0M425.4 293.0h0M367.9 294.1h0M389.8 298.1h0M383.2 293.8h0M419.7 293.2h0M412.5 294.3h0M400.5 298.1h0M421.4 294.8h0M425.8 292.7h0M416.8 296.2h0M419.5 292.2h0M391.6 294.9h0M409.1 292.8h0M421.0 292.4h0M411.2 295.6h0M416.5 294.4h0M368.0 296.3h0M389.0 294.9h0M403.8 292.7h0M384.6 295.1h0M370.7 298.3h0M380.2 293.5h0M373.8 299.6h0M409.2 295.8h0M391.5 292.7h0M372.8 297.0h0M412.1 294.6h0M412.9 292.1h0M400.1 297.1h0M419.8 292.3h0M413.0 295.8h0M418.6 293.9h0M392.7 294.3h0M424.2 292.6h0M377.0 297.5h0M417.5 292.9h0M398.8 297.3h0M406.4 293.1h0M407.7 296.1h0M410.1 292.7h0M398.1 293.4h0M406.4 292.5h0M380.6 297.0h0M392.2 296.9h0M390.0 297.9h0M412.1 297.2h0M388.7 291.9h0M421.1 292.7h0M395.6 293.4h0M400.6 298.8h0M415.9 294.8h0M388.8 292.8h0M368.9 292.5h0M425.4 292.5h0M397.7 293.5h0M420.5 292.1h0M386.9 293.4h0M377.8 294.7h0M383.7 293.0h0M414.0 294.9h0M403.2 297.5h0M372.6 297.0h0M411.7 293.2h0M418.9 293.2h0M374.1 293.3h0M395.8 294.1h0M382.8 295.9h0M373.7 297.2h0M420.4 293.3h0M402.3 296.9h0M421.0 293.4h0M407.6 295.8h0M377.8 296.5h0M421.5 292.3h0M381.4 291.8h0M386.3 297.1h0M391.7 293.8h0M368.9 298.6h0M382.0 299.5h0M379.9 295.6h0M390.6 297.1h0M391.1 296.1h0M429.9 292.5h0M407.4 296.3h0M388.4 292.3h0M406.5 296.1h0M396.8 295.8h0M404.0 292.7h0M391.6 297.3h0M411.6 293.0h0M412.7 293.5h0M410.4 296.0h0M393.6 298.9h0M421.2 291.9h0M430.2 292.0h0M396.4 292.3h0M396.7 297.1h0M408.6 296.3h0M428.7 292.7h0M416.7 292.9h0M388.2 292.0h0M385.5 297.5h0M385.7 292.2h0M390.6 298.6h0M404.1 292.2h0M419.6 294.4h0M394.2 296.8h0M391.4 298.0h0M379.0 298.9h0M386.1 296.3h0M373.9 298.2h0M412.2 297.0h0M381.6 293.8h0M376.9 299.4h0M418.2 293.3h0M406.0 296.0h0M376.6 293.4h0M411.4 293.5h0M403.5 295.9h0M425.6 293.4h0M404.9 293.6h0M418.3 294.3h0M399.4 291.8h0M394.5 297.6h0M397.9 296.2h0M375.4 292.2h0M398.8 292.2h0M383.1 297.0h0M409.8 292.2h0M372.5 296.8h0M428.0 292.0h0M426.8 293.4h0M406.8 296.1h0M389.2 293.7h0M403.2 295.2h0M410.0 294.5h0M393.6 294.4h0M372.6 295.4h0M379.7 294.4h0M388.0 292.2h0M394.2 296.4h0M420.8 294.2h0M370.1 295.2h0M411.9 297.1h0M384.8 292.4h0M418.4 293.0h0M393.8 294.8h0M419.5 294.8h0M424.5 293.8h0M402.2 293.8h0M409.5 296.6h0M377.8 298.0h0M408.5 295.8h0M387.5 296.2h0M410.5 296.8h0M384.0 299.1h0M379.2 292.4h0M382.6 292.1h0M401.6 293.3h0M380.2 297.7h0M418.5 292.9h0M399.9 297.2h0M389.9 293.1h0M380.5 294.7h0M411.1 292.8h0M420.9 295.1h0M408.0 292.2h0M412.6 293.2h0M383.0 296.7h0M415.6 295.9h0M383.9 297.1h0M393.5 292.7h0M413.9 295.2h0M416.9 293.4h0M369.3 297.6h0M374.9 292.3h0M390.9 293.5h0M426.2 292.3h0M415.9 292.2h0M376.5 293.6h0M371.0 299.1h0M400.6 298.2h0M413.5 296.7h0M417.7 295.7h0M419.0 291.9h0M396.9 295.3h0M410.8 294.0h0M410.6 295.9h0M376.3 297.1h0M399.4 299.0h0M411.8 296.4h0M402.5 294.8h0M425.9 293.6h0M412.0 293.4h0M411.9 292.5h0M422.8 291.9h0M406.1 295.0h0M400.8 292.4h0M374.1 299.6h0M430.5 292.3h0M409.7 294.4h0M385.6 294.3h0M420.2 294.4h0M422.7 294.2h0M387.0 294.6h0M424.5 292.3h0M416.1 293.0h0M420.8 292.3h0M383.0 292.4h0M398.4 293.3h0M421.3 293.2h0M429.4 292.3h0M389.0 292.2h0M420.8 293.2h0M402.1 297.3h0M402.3 291.9h0M414.9 292.0h0M390.4 298.2h0M410.9 297.5h0M403.9 296.8h0M427.3 293.0h0M411.8 292.6h0M419.8 294.6h0M388.5 293.8h0M413.2 293.7h0M406.5 297.3h0M369.1 294.7h0M392.5 292.9h0M381.4 293.8h0M368.1 298.4h0M402.0 298.3h0M411.3 296.0h0M397.2 292.0h0M390.9 296.6h0M407.7 291.9h0M403.0 298.6h0M383.4 299.2h0M373.5 294.4h0M425.8 293.0h0M419.4 291.9h0M394.0 298.9h0M379.1 297.4h0M384.1 297.9h0M389.7 297.1h0M396.0 297.1h0M425.1 293.0h0M408.5 295.2h0M404.9 293.6h0M429.9 292.2h0M419.2 292.0h0M394.5 298.6h0M390.4 293.6h0M380.2 297.0h0M377.0 294.1h0M373.5 295.9h0M405.8 292.3h0M412.4 297.3h0M404.9 293.2h0M372.7 292.8h0M398.5 295.8h0M376.6 291.9h0M404.1 294.5h0M370.4 298.0h0M404.3 293.4h0M420.8 294.5h0M404.4 292.9h0M373.0 291.9h0M387.4 296.2h0M403.3 298.6h0M417.7 291.9h0M386.5 293.8h0M374.5 296.6h0M372.8 298.6h0M428.8 292.5h0M368.4 298.3h0M368.4 296.1h0M425.8 292.6h0M399.8 295.6h0M411.5 293.9h0M410.1 296.4h0M412.1 295.7h0M390.2 297.2h0M410.6 293.9h0M386.7 292.0h0M383.3 299.5h0M417.4 292.5h0M369.4 296.6h0M418.0 293.6h0M393.4 296.1h0M418.7 293.0h0M406.2 292.2h0M381.8 292.8h0M428.4 291.9h0M429.5 292.0h0M400.3 295.2h0M399.9 292.3h0M399.7 292.5h0M404.2 293.6h0M407.1 292.4h0M374.7 296.9h0M374.4 294.7h0M405.3 292.0h0M376.4 296.0h0M410.5 293.4h0M393.5 293.1h0M401.9 297.1h0M370.9 295.3h0M412.0 295.7h0M395.1 292.3h0M379.3 295.5h0M385.5 299.4h0M367.9 293.2h0M411.6 292.9h0M418.0 292.6h0M419.4 292.0h0M383.3 292.3h0M417.9 292.7h0M387.5 291.8h0M417.1 292.0h0M396.9 297.8h0M389.4 292.1h0M423.7 294.5h0M377.0 296.6h0M377.5 294.2h0M378.6 294.4h0M369.2 291.8h0M412.6 297.0h0M400.3 295.1h0M389.7 296.5h0M394.3 292.3h0M404.5 295.9h0M400.9 294.3h0M391.6 292.2h0M384.7 294.8h0M397.9 291.9h0M394.8 295.5h0M401.4 292.4h0M418.8 292.5h0M397.4 294.1h0M393.6 292.9h0M376.0 292.8h0M386.4 294.0h0M374.7 296.1h0M370.5 292.3h0M385.3 291.9h0M414.5 293.2h0M367.9 298.0h0M398.3 294.9h0M368.0 296.8h0M387.9 295.0h0M397.8 292.2h0M387.6 292.2h0M421.6 294.1h0M421.3 293.1h0M420.1 292.5h0M395.7 295.7h0M419.8 292.9h0M418.1 295.5h0M383.7 292.3h0M422.8 292.1h0M370.4 298.3h0M413.3 294.7h0M374.7 298.5h0M392.7 298.9h0M408.7 295.4h0M369.3 299.5h0M373.9 299.6h0M395.6 293.8h0M399.3 291.9h0M393.6 295.0h0M408.1 295.3h0M369.7 292.5h0M408.3 291.9h0M373.3 295.4h0M378.0 297.8h0M370.2 295.3h0M396.6 293.9h0M380.3 296.5h0M384.8 294.3h0M414.5 291.9h0M410.8 295.3h0M400.6 293.1h0M402.3 294.1h0M389.8 298.0h0M391.5 295.8h0M374.3 297.9h0M415.1 296.4h0M381.7 295.7h0M420.0 293.2h0M385.0 298.5h0M418.5 292.4h0M411.4 294.1h0M381.4 292.6h0M403.2 292.7h0M421.7 294.4h0M391.1 293.9h0M411.6 291.9h0M419.8 294.8h0M381.8 297.5h0M420.3 294.4h0M376.6 294.4h0M382.6 291.9h0M419.0 294.4h0M368.1 298.8h0M395.7 294.8h0M414.1 292.4h0M403.6 297.3h0M406.8 294.9h0M406.3 294.2h0M401.7 297.0h0M413.2 292.1h0M419.3 292.5h0M423.2 293.4h0M381.7 292.6h0M409.9 294.0h0M419.3 292.3h0M380.0 293.2h0M415.9 293.9h0M389.5 292.2h0M416.4 293.3h0M421.2 292.0h0M373.5 295.8h0M399.8 296.7h0M389.7 296.4h0M372.4 293.5h0M414.6 292.1h0M388.7 291.8h0M375.9 297.2h0M409.9 296.2h0M380.6 292.5h0M395.0 293.2h0M385.5 299.5h0M408.4 294.4h0M427.4 292.5h0M421.2 292.4h0M389.3 297.9h0M380.7 292.0h0M403.9 293.6h0M379.1 296.2h0M402.8 294.6h0M406.0 292.4h0M376.6 292.1h0M412.5 294.1h0M423.9 293.2h0M372.8 292.0h0M369.8 293.3h0M399.2 293.2h0M387.8 294.6h0M393.0 297.2h0M423.9 292.8h0M411.0 296.6h0M428.1 292.7h0M375.0 299.1h0M411.0 297.2h0M416.5 294.6h0M412.9 295.1h0M389.9 292.2h0M416.4 293.2h0M419.8 294.1h0M375.7 298.6h0M411.7 294.8h0M427.0 292.4h0M388.9 297.2h0M405.8 298.3h0M381.4 294.3h0M400.0 297.4h0M381.2 298.0h0M369.3 297.7h0M415.7 292.7h0M413.1 295.4h0M412.0 296.5h0M418.6 292.2h0M413.6 294.4h0M425.0 292.1h0M405.0 295.6h0M391.9 298.6h0M419.6 291.9h0M394.3 298.5h0M410.9 293.1h0M412.0 291.8h0M379.3 295.9h0M387.8 295.8h0M420.6 295.1h0M403.8 298.2h0M398.7 294.0h0M404.4 296.5h0M394.3 296.6h0M416.2 294.9h0M391.0 291.9h0M398.4 293.4h0M417.0 292.4h0M399.6 297.0h0M405.2 292.3h0M374.1 292.5h0M417.5 293.2h0M369.9 296.1h0M403.4 296.2h0M379.7 295.3h0M421.7 292.6h0M430.4 292.0h0M390.7 297.8h0M380.8 297.7h0M407.7 294.9h0M400.9 298.2h0M418.9 294.0h0M390.7 298.2h0M368.2 292.0h0M420.3 295.2h0M405.2 294.3h0M370.9 292.9h0M408.6 292.4h0M406.6 293.1h0M424.8 292.0h0M377.9 297.7h0M400.2 298.9h0M415.3 294.2h0M398.2 298.1h0M379.6 293.9h0M370.1 291.9h0M405.1 297.0h0M370.5 291.9h0M373.7 298.6h0M385.4 293.3h0M429.4 292.2h0M389.1 296.1h0M410.6 296.7h0M412.5 294.7h0M402.5 296.7h0M389.1 294.6h0M391.6 296.2h0M401.0 293.5h0M382.0 292.8h0M378.7 294.9h0M370.5 294.4h0M380.7 292.2h0M387.2 295.0h0M371.1 299.6h0M407.8 296.7h0M395.7 298.7h0M380.9 293.0h0M382.5 298.1h0M382.3 297.5h0M400.9 296.2h0M408.5 296.3h0M371.4 293.2h0M390.2 291.8h0M407.5 293.3h0M409.9 292.6h0M404.0 297.4h0M371.5 293.0h0M409.8 296.9h0M419.1 291.9h0M402.2 292.2h0M381.1 293.8h0M397.9 294.7h0M394.2 292.8h0M405.0 294.5h0M389.7 295.0h0M419.0 293.0h0M386.3 296.2h0M381.4 294.5h0M414.7 293.7h0M398.7 298.7h0M381.8 297.5h0M411.4 294.0h0M410.3 292.9h0M398.1 295.0h0M419.3 293.0h0M424.0 292.6h0M424.8 293.7h0M401.7 294.3h0M382.9 292.9h0M403.2 295.7h0M385.2 296.7h0M411.0 295.1h0M413.5 294.2h0M429.0 292.0h0M383.5 297.4h0M381.8 294.7h0M371.2 299.5h0M419.7 294.7h0M423.0 293.7h0M389.5 299.4h0M402.5 295.8h0M371.6 296.6h0M404.7 294.5h0M407.3 296.8h0M402.7 293.0h0M371.4 293.6h0M416.6 292.5h0M417.7 295.5h0M390.2 293.9h0M399.8 292.3h0M405.6 294.7h0M424.0 293.0h0M416.2 292.7h0M408.6 292.7h0M421.5 293.2h0M417.0 295.2h0M396.9 296.8h0M425.0 293.8h0M426.4 293.0h0M386.7 298.8h0M374.8 299.5h0M418.5 294.8h0M369.3 294.2h0M374.6 293.3h0M394.7 293.2h0M377.8 292.7h0M378.9 294.4h0M404.6 292.2h0M415.4 295.8h0M372.3 298.6h0M372.1 297.9h0M385.0 293.4h0M411.2 293.2h0M406.1 292.8h0M411.9 292.2h0M404.9 292.1h0M402.1 292.0h0M383.4 292.5h0M405.4 292.1h0M422.7 293.0h0M416.3 292.6h0M408.3 292.7h0M371.6 294.8h0M375.8 291.9h0M378.8 296.6h0M404.1 297.6h0M387.4 292.1h0M377.0 292.4h0M374.2 297.8h0M409.6 294.2h0M375.0 297.2h0M411.5 293.4h0M411.0 293.6h0M385.5 293.6h0M395.5 298.3h0M423.3 292.1h0M412.5 297.0h0M390.0 305.6h0M378.6 299.8h0M395.2 299.8h0M381.1 301.6h0M413.2 304.3h0M416.1 297.3h0M408.0 299.8h0M412.8 305.3h0M395.5 300.3h0M415.2 299.1h0M382.0 302.3h0M369.3 300.0h0M417.5 297.9h0M374.1 302.6h0M387.5 306.8h0M376.1 300.9h0M412.5 298.3h0M378.2 301.0h0M385.7 300.0h0M420.4 297.0h0M373.4 301.5h0M403.8 302.5h0M425.4 298.4h0M411.3 300.0h0M380.3 301.3h0M371.9 302.8h0M379.3 304.0h0M368.4 302.4h0M413.2 297.5h0M394.7 300.9h0M390.5 303.2h0M412.0 297.7h0M379.1 300.1h0M410.7 303.6h0M382.6 301.6h0M370.8 300.1h0M368.5 303.6h0M377.8 300.8h0M415.0 299.0h0M376.5 302.2h0M369.7 301.0h0M374.8 302.7h0M388.4 304.5h0M389.2 300.8h0M391.4 300.8h0M395.0 300.0h0M395.3 299.5h0M368.3 300.8h0M396.8 299.4h0M400.0 300.2h0M405.8 298.8h0M403.7 298.9h0M409.7 297.8h0M397.4 301.9h0M412.0 308.6h0M395.4 300.4h0M414.2 299.9h0M393.7 301.4h0M368.1 316.7h0M386.2 299.9h0M367.9 302.5h0M392.8 301.3h0M368.2 300.2h0M400.1 303.1h0M372.6 305.8h0M402.7 300.1h0M408.6 298.6h0M423.6 297.5h0M414.9 297.0h0M421.3 296.0h0M381.7 301.1h0M371.9 303.1h0M380.8 302.3h0M393.9 300.6h0M415.4 299.5h0M380.8 305.6h0M377.1 299.7h0M388.8 301.5h0M387.1 302.8h0M417.4 298.1h0M426.4 299.3h0M371.5 300.4h0M401.8 300.4h0M424.6 294.6h0M369.9 300.5h0M415.3 297.4h0M368.4 301.9h0M394.9 304.0h0M412.1 300.4h0M367.9 308.3h0M399.5 303.4h0M375.1 309.2h0M373.9 299.8h0M385.6 300.8h0M417.9 304.0h0M368.8 304.9h0M378.3 301.3h0M377.9 312.2h0M380.7 302.1h0M372.3 300.3h0M382.9 303.1h0M401.3 301.1h0M393.0 304.4h0M406.6 299.9h0M420.7 299.7h0M385.0 303.0h0M425.5 299.0h0M396.4 304.2h0M413.9 300.9h0M413.5 300.4h0M369.7 309.8h0M372.0 313.1h0M375.2 313.1h0M386.3 315.4h0M401.3 314.0h0M420.2 318.3h0M398.1 307.4h0M410.0 307.4h0M425.8 308.3h0M437.6 292.7h0M445.5 298.4h0M432.9 290.8h0M428.1 294.6h0M379.9 317.8h0M430.5 297.4h0M429.7 300.3h0" stroke="#67c129" stroke-width="2" stroke-linecap="round"/>
<line x1="348.2" y1="287.5" x2="453.7" y2="287.5" stroke="#000" stroke-width="1" />
<rect x="348.2" y="226.9" width="105.5" height="94.3" fill="none" stroke="#000" stroke-width="1.3" />
<line x1="344.9" y1="239.6" x2="348.2" y2="239.6" stroke="#000" stroke-width="1.1" />
<text x="342.6" y="242.2" font-size="7.6" text-anchor="end" fill="#222">10</text>
<line x1="344.9" y1="263.3" x2="348.2" y2="263.3" stroke="#000" stroke-width="1.1" />
<text x="342.6" y="265.9" font-size="7.6" text-anchor="end" fill="#222">5</text>
<line x1="344.9" y1="287" x2="348.2" y2="287" stroke="#000" stroke-width="1.1" />
<text x="342.6" y="289.6" font-size="7.6" text-anchor="end" fill="#222">0</text>
<line x1="344.9" y1="310.7" x2="348.2" y2="310.7" stroke="#000" stroke-width="1.1" />
<text x="342.6" y="313.3" font-size="7.6" text-anchor="end" fill="#222">-5</text>
<line x1="351.5" y1="321.2" x2="351.5" y2="324" stroke="#000" stroke-width="1.1" />
<text x="351.5" y="333.4" font-size="7.6" text-anchor="middle" fill="#222">0</text>
<line x1="367.3" y1="321.2" x2="367.3" y2="324" stroke="#000" stroke-width="1.1" />
<text x="367.3" y="333.4" font-size="7.6" text-anchor="middle" fill="#222">2</text>
<line x1="383.1" y1="321.2" x2="383.1" y2="324" stroke="#000" stroke-width="1.1" />
<text x="383.1" y="333.4" font-size="7.6" text-anchor="middle" fill="#222">4</text>
<line x1="398.9" y1="321.2" x2="398.9" y2="324" stroke="#000" stroke-width="1.1" />
<text x="398.9" y="333.4" font-size="7.6" text-anchor="middle" fill="#222">6</text>
<line x1="414.7" y1="321.2" x2="414.7" y2="324" stroke="#000" stroke-width="1.1" />
<text x="414.7" y="333.4" font-size="7.6" text-anchor="middle" fill="#222">8</text>
<line x1="430.5" y1="321.2" x2="430.5" y2="324" stroke="#000" stroke-width="1.1" />
<text x="430.5" y="333.4" font-size="7.6" text-anchor="middle" fill="#222">10</text>
<line x1="446.3" y1="321.2" x2="446.3" y2="324" stroke="#000" stroke-width="1.1" />
<text x="446.3" y="333.4" font-size="7.6" text-anchor="middle" fill="#222">12</text>
<text x="401" y="346" font-size="9" text-anchor="middle" fill="#222" textLength="27.5" lengthAdjust="spacingAndGlyphs">LogCPM</text>
<text x="328.6" y="273.6" font-size="8.6" text-anchor="middle" fill="#222" textLength="68.6" lengthAdjust="spacingAndGlyphs" transform="rotate(-90 328.6 273.6)">LogFC (IRF4OE - Ctrl)</text>
<text x="412.3" y="252.6" font-size="6.6" fill="#b8385c" textLength="29.5" lengthAdjust="spacingAndGlyphs">Up (n=528)</text>
<text x="412.3" y="259.5" font-size="6.6" fill="#c9c9c9" textLength="39.2" lengthAdjust="spacingAndGlyphs">equal (n=6456)</text>
<text x="412.3" y="266.5" font-size="6.6" fill="#78b04e" textLength="37.7" lengthAdjust="spacingAndGlyphs">Down (n=988)</text>
<text x="311" y="408.8" font-size="14.5" font-weight="bold">F</text>
<text x="381.2" y="418.8" font-size="7.2" fill="#111" textLength="17.6" lengthAdjust="spacingAndGlyphs">20 kb</text>
<line x1="401.5" y1="416.6" x2="448.9" y2="416.6" stroke="#222" stroke-width="0.6" />
<line x1="401.5" y1="415.1" x2="401.5" y2="418.1" stroke="#222" stroke-width="0.6" />
<line x1="448.9" y1="415.1" x2="448.9" y2="418.1" stroke="#222" stroke-width="0.6" />
<text x="452" y="419" font-size="7.2" fill="#111" textLength="16.8" lengthAdjust="spacingAndGlyphs">hg19</text>
<text x="428.2" y="430" font-size="6.8" fill="#111" font-style="italic" textLength="13.4" lengthAdjust="spacingAndGlyphs">IRF4</text>
<line x1="445.5" y1="427.7" x2="491.2" y2="427.7" stroke="#111" stroke-width="0.7" />
<line x1="445.5" y1="427.7" x2="445.5" y2="423.6" stroke="#111" stroke-width="0.7" />
<line x1="445.5" y1="423.6" x2="449.5" y2="423.6" stroke="#111" stroke-width="0.7" />
<polyline points="448.3,422.5 449.6,423.6 448.3,424.7" fill="none" stroke="#111" stroke-width="0.6" stroke-linejoin="round" />
<line x1="446.5" y1="426.4" x2="446.5" y2="429" stroke="#111" stroke-width="0.8" />
<line x1="452" y1="426.4" x2="452" y2="429" stroke="#111" stroke-width="0.8" />
<line x1="456.5" y1="426.4" x2="456.5" y2="429" stroke="#111" stroke-width="0.8" />
<line x1="461" y1="426.4" x2="461" y2="429" stroke="#111" stroke-width="0.8" />
<line x1="466" y1="426.4" x2="466" y2="429" stroke="#111" stroke-width="0.8" />
<line x1="471.5" y1="426.4" x2="471.5" y2="429" stroke="#111" stroke-width="0.8" />
<line x1="476" y1="426.4" x2="476" y2="429" stroke="#111" stroke-width="0.8" />
<rect x="482" y="426.5" width="9.2" height="2.4" fill="#111" />
<line x1="356.5" y1="438.3" x2="494.6" y2="438.3" stroke="#7b3fa6" stroke-width="0.45" stroke-opacity="0.55"/>
<polygon points="356.50,438.30 356.50,438.28 356.95,435.57 357.40,438.22 357.85,438.06 358.30,437.24 358.75,436.70 359.20,436.80 359.65,435.13 360.10,437.45 360.55,436.67 361.00,437.01 361.45,438.20 361.90,438.25 362.35,437.99 362.80,438.00 363.25,437.57 363.70,437.78 364.15,438.23 364.60,437.71 365.05,438.30 365.50,438.30 365.95,437.90 366.40,438.28 366.85,437.16 367.30,438.30 367.75,438.30 368.20,438.14 368.65,438.10 369.10,438.30 369.55,438.29 370.00,438.28 370.45,438.27 370.90,438.11 371.35,437.24 371.80,437.85 372.25,436.86 372.70,436.83 373.15,437.26 373.60,436.02 374.05,437.16 374.50,435.96 374.95,436.01 375.40,436.48 375.85,437.26 376.30,438.15 376.75,436.84 377.20,438.25 377.65,438.27 378.10,438.22 378.55,438.13 379.00,434.54 379.45,438.19 379.90,437.81 380.35,438.04 380.80,438.28 381.25,438.14 381.70,437.39 382.15,435.93 382.60,430.93 383.05,432.82 383.50,430.83 383.95,436.80 384.40,437.92 384.85,437.68 385.30,434.52 385.75,433.26 386.20,437.36 386.65,438.11 387.10,437.90 387.55,438.23 388.00,438.30 388.45,436.41 388.90,438.28 389.35,438.30 389.80,438.01 390.25,437.01 390.70,438.23 391.15,438.30 391.60,438.30 392.05,437.32 392.50,438.11 392.95,437.82 393.40,438.30 393.85,438.30 394.30,437.80 394.75,438.24 395.20,438.30 395.65,437.33 396.10,438.30 396.55,438.30 397.00,437.26 397.45,437.65 397.90,437.73 398.35,438.24 398.80,438.30 399.25,438.30 399.70,438.19 400.15,438.30 400.60,438.09 401.05,438.30 401.50,435.92 401.95,438.17 402.40,438.21 402.85,437.95 403.30,438.14 403.75,438.30 404.20,438.23 404.65,438.14 405.10,438.02 405.55,438.25 406.00,438.21 406.45,438.01 406.90,437.21 407.35,438.30 407.80,438.24 408.25,438.30 408.70,438.30 409.15,438.28 409.60,437.30 410.05,438.04 410.50,437.18 410.95,433.01 411.40,434.50 411.85,431.25 412.30,434.98 412.75,437.72 413.20,436.54 413.65,435.01 414.10,434.28 414.55,432.89 415.00,434.95 415.45,437.76 415.90,438.18 416.35,438.27 416.80,436.56 417.25,438.30 417.70,437.66 418.15,438.00 418.60,437.78 419.05,436.73 419.50,438.30 419.95,438.30 420.40,438.08 420.85,438.18 421.30,438.30 421.75,437.14 422.20,438.20 422.65,437.77 423.10,438.30 423.55,436.98 424.00,438.14 424.45,438.30 424.90,436.34 425.35,438.28 425.80,438.30 426.25,438.11 426.70,437.71 427.15,438.13 427.60,438.04 428.05,437.85 428.50,437.98 428.95,438.30 429.40,437.00 429.85,438.30 430.30,438.30 430.75,438.30 431.20,437.54 431.65,438.29 432.10,437.41 432.55,437.08 433.00,435.09 433.45,437.83 433.90,438.23 434.35,438.29 434.80,438.14 435.25,436.80 435.70,438.26 436.15,438.02 436.60,438.30 437.05,438.22 437.50,438.30 437.95,438.19 438.40,437.27 438.85,438.05 439.30,438.30 439.75,438.30 440.20,438.30 440.65,437.21 441.10,438.30 441.55,437.41 442.00,438.30 442.45,438.17 442.90,438.30 443.35,438.30 443.80,438.30 444.25,438.30 444.70,438.29 445.15,438.30 445.60,435.88 446.05,438.26 446.50,438.12 446.95,438.30 447.40,438.30 447.85,438.16 448.30,438.30 448.75,437.93 449.20,437.63 449.65,438.30 450.10,438.23 450.55,437.89 451.00,435.58 451.45,437.18 451.90,438.30 452.35,438.30 452.80,438.30 453.25,438.30 453.70,438.18 454.15,437.11 454.60,438.30 455.05,437.46 455.50,437.10 455.95,438.30 456.40,438.30 456.85,437.51 457.30,438.30 457.75,438.10 458.20,438.30 458.65,437.58 459.10,438.30 459.55,436.39 460.00,437.58 460.45,438.25 460.90,438.14 461.35,438.28 461.80,437.66 462.25,437.67 462.70,436.06 463.15,436.86 463.60,437.11 464.05,438.14 464.50,438.26 464.95,437.83 465.40,438.23 465.85,437.92 466.30,438.30 466.75,438.30 467.20,438.30 467.65,437.66 468.10,437.82 468.55,437.46 469.00,437.99 469.45,438.30 469.90,438.27 470.35,438.19 470.80,438.30 471.25,437.14 471.70,437.94 472.15,437.95 472.60,437.64 473.05,438.30 473.50,438.30 473.95,438.30 474.40,437.31 474.85,438.30 475.30,438.29 475.75,435.73 476.20,438.30 476.65,438.01 477.10,438.18 477.55,438.29 478.00,438.26 478.45,438.05 478.90,437.17 479.35,437.57 479.80,437.76 480.25,437.80 480.70,438.30 481.15,438.16 481.60,438.27 482.05,437.37 482.50,437.21 482.95,438.14 483.40,437.43 483.85,437.90 484.30,438.30 484.75,435.45 485.20,437.84 485.65,436.48 486.10,438.30 486.55,438.04 487.00,438.30 487.45,437.83 487.90,437.45 488.35,438.30 488.80,438.07 489.25,438.30 489.70,437.89 490.15,438.25 490.60,438.30 491.05,437.86 491.50,437.58 491.95,438.30 492.40,438.19 492.85,437.87 493.30,438.30 493.75,438.19 494.20,438.30 494.60,438.30" fill="#7b3fa6"/>
<line x1="356.5" y1="448.1" x2="494.6" y2="448.1" stroke="#b2436a" stroke-width="0.45" stroke-opacity="0.55"/>
<polygon points="356.50,448.10 356.50,448.09 356.95,448.10 357.40,447.87 357.85,447.63 358.30,447.97 358.75,447.27 359.20,447.15 359.65,447.94 360.10,448.07 360.55,448.10 361.00,447.80 361.45,448.10 361.90,448.10 362.35,448.10 362.80,448.10 363.25,448.10 363.70,448.10 364.15,448.00 364.60,446.85 365.05,447.73 365.50,448.10 365.95,448.10 366.40,448.00 366.85,448.10 367.30,448.10 367.75,448.10 368.20,448.09 368.65,447.82 369.10,447.77 369.55,447.75 370.00,447.81 370.45,448.10 370.90,446.51 371.35,448.10 371.80,448.10 372.25,448.10 372.70,448.10 373.15,448.10 373.60,447.95 374.05,448.10 374.50,448.10 374.95,448.10 375.40,448.10 375.85,447.74 376.30,448.10 376.75,447.94 377.20,448.10 377.65,448.08 378.10,448.10 378.55,448.10 379.00,447.29 379.45,448.10 379.90,448.10 380.35,448.10 380.80,448.10 381.25,447.75 381.70,448.08 382.15,447.81 382.60,447.62 383.05,444.48 383.50,440.52 383.95,445.61 384.40,447.44 384.85,447.97 385.30,447.61 385.75,447.13 386.20,447.57 386.65,448.10 387.10,448.10 387.55,448.10 388.00,448.10 388.45,447.00 388.90,448.10 389.35,447.94 389.80,447.95 390.25,447.88 390.70,447.78 391.15,447.68 391.60,448.10 392.05,448.00 392.50,448.10 392.95,448.10 393.40,448.03 393.85,448.10 394.30,448.10 394.75,448.10 395.20,448.10 395.65,447.96 396.10,448.10 396.55,448.10 397.00,448.10 397.45,448.10 397.90,448.10 398.35,448.10 398.80,448.10 399.25,448.10 399.70,448.10 400.15,448.04 400.60,448.10 401.05,447.72 401.50,447.85 401.95,448.10 402.40,448.10 402.85,448.10 403.30,448.10 403.75,447.96 404.20,447.66 404.65,447.60 405.10,447.40 405.55,448.09 406.00,448.10 406.45,448.10 406.90,447.77 407.35,448.10 407.80,448.10 408.25,447.08 408.70,447.69 409.15,447.77 409.60,448.05 410.05,446.84 410.50,447.79 410.95,446.30 411.40,444.68 411.85,447.15 412.30,447.92 412.75,448.04 413.20,447.82 413.65,447.00 414.10,445.24 414.55,446.55 415.00,447.89 415.45,447.96 415.90,448.09 416.35,448.10 416.80,448.10 417.25,447.21 417.70,448.10 418.15,448.10 418.60,448.10 419.05,448.10 419.50,447.92 419.95,447.59 420.40,448.10 420.85,448.00 421.30,448.02 421.75,448.10 422.20,448.10 422.65,448.10 423.10,447.71 423.55,448.10 424.00,448.10 424.45,448.08 424.90,448.01 425.35,447.57 425.80,447.55 426.25,447.98 426.70,448.10 427.15,448.10 427.60,447.96 428.05,448.10 428.50,447.06 428.95,447.76 429.40,448.10 429.85,448.08 430.30,448.10 430.75,447.94 431.20,448.10 431.65,448.10 432.10,448.10 432.55,448.10 433.00,448.10 433.45,448.10 433.90,447.83 434.35,448.10 434.80,448.10 435.25,448.10 435.70,448.10 436.15,448.10 436.60,447.72 437.05,447.63 437.50,447.79 437.95,447.60 438.40,448.10 438.85,448.10 439.30,447.84 439.75,446.83 440.20,448.10 440.65,447.04 441.10,446.84 441.55,447.81 442.00,448.10 442.45,448.10 442.90,448.10 443.35,448.10 443.80,448.05 444.25,447.63 444.70,446.28 445.15,448.10 445.60,447.92 446.05,448.10 446.50,448.10 446.95,448.10 447.40,447.93 447.85,448.10 448.30,448.10 448.75,447.30 449.20,447.75 449.65,448.10 450.10,447.25 450.55,448.10 451.00,446.84 451.45,448.10 451.90,447.54 452.35,447.84 452.80,448.10 453.25,447.69 453.70,448.10 454.15,447.61 454.60,448.10 455.05,447.91 455.50,448.10 455.95,447.74 456.40,448.10 456.85,447.90 457.30,448.10 457.75,448.10 458.20,448.10 458.65,447.53 459.10,448.04 459.55,447.21 460.00,448.04 460.45,448.10 460.90,448.10 461.35,448.00 461.80,447.34 462.25,447.97 462.70,446.52 463.15,448.10 463.60,448.10 464.05,448.10 464.50,447.90 464.95,447.82 465.40,448.10 465.85,448.09 466.30,447.58 466.75,447.81 467.20,448.10 467.65,448.10 468.10,447.77 468.55,448.10 469.00,448.10 469.45,448.10 469.90,448.10 470.35,448.10 470.80,448.10 471.25,447.66 471.70,447.83 472.15,447.63 472.60,447.73 473.05,447.59 473.50,447.94 473.95,447.51 474.40,448.00 474.85,448.03 475.30,446.12 475.75,447.54 476.20,448.10 476.65,447.93 477.10,448.10 477.55,448.10 478.00,448.10 478.45,448.10 478.90,448.10 479.35,448.09 479.80,447.47 480.25,448.10 480.70,448.10 481.15,448.10 481.60,447.74 482.05,447.88 482.50,448.10 482.95,448.10 483.40,448.10 483.85,447.99 484.30,448.10 484.75,448.10 485.20,448.02 485.65,447.52 486.10,447.90 486.55,448.10 487.00,447.71 487.45,448.10 487.90,447.81 488.35,448.10 488.80,448.06 489.25,448.10 489.70,448.10 490.15,448.10 490.60,448.10 491.05,448.10 491.50,447.74 491.95,447.52 492.40,448.09 492.85,448.10 493.30,448.04 493.75,448.10 494.20,447.76 494.60,448.10" fill="#b2436a"/>
<line x1="356.5" y1="459" x2="494.6" y2="459" stroke="#cf9e22" stroke-width="0.45" stroke-opacity="0.55"/>
<polygon points="356.50,459.00 356.50,458.81 356.95,458.95 357.40,459.00 357.85,457.72 358.30,457.97 358.75,458.74 359.20,458.98 359.65,458.69 360.10,458.59 360.55,457.45 361.00,456.89 361.45,457.08 361.90,458.56 362.35,458.58 362.80,458.65 363.25,459.00 363.70,459.00 364.15,458.56 364.60,458.49 365.05,458.93 365.50,458.92 365.95,457.19 366.40,459.00 366.85,457.03 367.30,459.00 367.75,458.89 368.20,458.90 368.65,457.78 369.10,458.59 369.55,459.00 370.00,459.00 370.45,459.00 370.90,458.30 371.35,458.05 371.80,458.92 372.25,459.00 372.70,459.00 373.15,459.00 373.60,459.00 374.05,458.38 374.50,459.00 374.95,459.00 375.40,458.07 375.85,459.00 376.30,458.87 376.75,459.00 377.20,459.00 377.65,459.00 378.10,458.90 378.55,458.15 379.00,458.70 379.45,458.61 379.90,459.00 380.35,458.68 380.80,458.78 381.25,455.82 381.70,458.94 382.15,459.00 382.60,456.70 383.05,459.00 383.50,459.00 383.95,457.92 384.40,458.91 384.85,459.00 385.30,459.00 385.75,458.94 386.20,458.94 386.65,459.00 387.10,459.00 387.55,459.00 388.00,457.76 388.45,458.34 388.90,458.50 389.35,458.57 389.80,458.67 390.25,458.88 390.70,457.98 391.15,456.96 391.60,457.76 392.05,458.22 392.50,458.64 392.95,458.85 393.40,459.00 393.85,459.00 394.30,458.95 394.75,458.80 395.20,459.00 395.65,458.97 396.10,459.00 396.55,459.00 397.00,459.00 397.45,459.00 397.90,458.50 398.35,458.71 398.80,459.00 399.25,458.63 399.70,457.14 400.15,459.00 400.60,459.00 401.05,458.46 401.50,458.88 401.95,458.78 402.40,459.00 402.85,459.00 403.30,457.44 403.75,458.42 404.20,459.00 404.65,458.76 405.10,458.90 405.55,458.93 406.00,458.43 406.45,459.00 406.90,458.35 407.35,458.73 407.80,457.89 408.25,459.00 408.70,457.31 409.15,458.25 409.60,458.13 410.05,458.88 410.50,458.65 410.95,455.27 411.40,454.19 411.85,455.55 412.30,453.01 412.75,456.47 413.20,458.33 413.65,457.98 414.10,457.20 414.55,454.86 415.00,457.63 415.45,458.76 415.90,457.58 416.35,458.99 416.80,459.00 417.25,458.64 417.70,458.77 418.15,458.98 418.60,459.00 419.05,459.00 419.50,459.00 419.95,458.83 420.40,459.00 420.85,458.84 421.30,459.00 421.75,459.00 422.20,458.60 422.65,458.87 423.10,458.57 423.55,458.99 424.00,457.79 424.45,459.00 424.90,458.76 425.35,458.82 425.80,458.02 426.25,458.63 426.70,458.93 427.15,459.00 427.60,458.82 428.05,458.98 428.50,458.41 428.95,459.00 429.40,458.00 429.85,459.00 430.30,458.05 430.75,458.78 431.20,459.00 431.65,459.00 432.10,459.00 432.55,458.68 433.00,459.00 433.45,456.49 433.90,459.00 434.35,459.00 434.80,458.62 435.25,459.00 435.70,459.00 436.15,458.89 436.60,459.00 437.05,458.43 437.50,459.00 437.95,457.04 438.40,459.00 438.85,458.99 439.30,458.89 439.75,458.65 440.20,459.00 440.65,459.00 441.10,457.81 441.55,459.00 442.00,458.56 442.45,458.51 442.90,459.00 443.35,459.00 443.80,459.00 444.25,458.84 444.70,458.38 445.15,459.00 445.60,458.05 446.05,458.09 446.50,458.84 446.95,458.95 447.40,459.00 447.85,459.00 448.30,459.00 448.75,458.95 449.20,459.00 449.65,459.00 450.10,457.76 450.55,458.29 451.00,458.43 451.45,458.39 451.90,457.77 452.35,458.86 452.80,458.54 453.25,459.00 453.70,459.00 454.15,459.00 454.60,459.00 455.05,459.00 455.50,459.00 455.95,458.59 456.40,459.00 456.85,459.00 457.30,458.02 457.75,458.19 458.20,459.00 458.65,458.91 459.10,457.22 459.55,458.88 460.00,459.00 460.45,458.25 460.90,458.96 461.35,458.91 461.80,458.52 462.25,459.00 462.70,457.83 463.15,458.96 463.60,459.00 464.05,459.00 464.50,458.72 464.95,458.78 465.40,458.84 465.85,455.29 466.30,458.44 466.75,458.95 467.20,459.00 467.65,458.83 468.10,458.80 468.55,459.00 469.00,458.78 469.45,459.00 469.90,458.20 470.35,458.96 470.80,456.99 471.25,458.34 471.70,458.98 472.15,458.60 472.60,458.63 473.05,458.84 473.50,458.20 473.95,458.67 474.40,459.00 474.85,458.48 475.30,458.09 475.75,457.22 476.20,458.41 476.65,459.00 477.10,458.83 477.55,458.77 478.00,458.72 478.45,458.69 478.90,458.32 479.35,458.69 479.80,458.22 480.25,459.00 480.70,459.00 481.15,458.66 481.60,458.98 482.05,458.22 482.50,458.46 482.95,458.36 483.40,456.75 483.85,459.00 484.30,458.92 484.75,459.00 485.20,458.19 485.65,458.32 486.10,459.00 486.55,457.95 487.00,459.00 487.45,458.59 487.90,459.00 488.35,458.87 488.80,458.81 489.25,458.55 489.70,459.00 490.15,459.00 490.60,459.00 491.05,458.67 491.50,458.43 491.95,458.68 492.40,459.00 492.85,459.00 493.30,458.39 493.75,459.00 494.20,457.90 494.60,459.00" fill="#cf9e22"/>
<line x1="356.5" y1="469.4" x2="494.6" y2="469.4" stroke="#aa8426" stroke-width="0.45" stroke-opacity="0.55"/>
<polygon points="356.50,469.40 356.50,466.62 356.95,469.40 357.40,469.40 357.85,468.74 358.30,468.21 358.75,469.40 359.20,469.39 359.65,469.36 360.10,468.91 360.55,469.13 361.00,467.79 361.45,466.66 361.90,467.10 362.35,467.16 362.80,467.73 363.25,468.80 363.70,469.28 364.15,468.54 364.60,468.98 365.05,469.39 365.50,469.07 365.95,468.40 366.40,468.94 366.85,468.74 367.30,468.85 367.75,468.77 368.20,468.41 368.65,469.40 369.10,469.25 369.55,469.20 370.00,469.05 370.45,469.20 370.90,468.98 371.35,468.70 371.80,468.60 372.25,467.47 372.70,467.88 373.15,466.46 373.60,467.67 374.05,468.43 374.50,469.12 374.95,467.32 375.40,469.37 375.85,466.83 376.30,468.74 376.75,468.85 377.20,468.04 377.65,468.82 378.10,469.40 378.55,467.34 379.00,469.40 379.45,468.75 379.90,468.54 380.35,469.00 380.80,468.96 381.25,467.99 381.70,468.56 382.15,468.99 382.60,468.55 383.05,469.40 383.50,469.10 383.95,468.22 384.40,466.69 384.85,468.54 385.30,469.03 385.75,467.97 386.20,467.29 386.65,468.15 387.10,468.65 387.55,469.40 388.00,469.40 388.45,469.40 388.90,467.93 389.35,469.40 389.80,465.66 390.25,469.09 390.70,469.14 391.15,469.36 391.60,468.39 392.05,469.40 392.50,469.32 392.95,468.15 393.40,469.01 393.85,469.03 394.30,467.89 394.75,467.89 395.20,468.49 395.65,468.19 396.10,469.17 396.55,468.41 397.00,468.44 397.45,468.77 397.90,469.40 398.35,468.41 398.80,469.01 399.25,469.24 399.70,469.28 400.15,469.25 400.60,469.36 401.05,468.65 401.50,469.33 401.95,468.66 402.40,469.40 402.85,469.29 403.30,468.98 403.75,469.11 404.20,468.30 404.65,469.07 405.10,468.25 405.55,468.74 406.00,469.38 406.45,469.40 406.90,469.40 407.35,469.40 407.80,468.56 408.25,469.30 408.70,469.23 409.15,469.39 409.60,469.35 410.05,469.08 410.50,468.58 410.95,467.23 411.40,465.12 411.85,466.84 412.30,464.22 412.75,466.12 413.20,469.08 413.65,466.92 414.10,469.15 414.55,468.41 415.00,466.40 415.45,468.21 415.90,469.10 416.35,469.37 416.80,468.94 417.25,467.98 417.70,468.88 418.15,467.34 418.60,466.65 419.05,469.07 419.50,469.15 419.95,469.40 420.40,468.82 420.85,467.72 421.30,467.87 421.75,468.69 422.20,468.35 422.65,468.58 423.10,469.40 423.55,469.21 424.00,469.40 424.45,469.40 424.90,469.21 425.35,469.14 425.80,469.28 426.25,469.37 426.70,469.21 427.15,469.40 427.60,468.52 428.05,469.40 428.50,468.90 428.95,469.34 429.40,467.88 429.85,469.23 430.30,468.98 430.75,469.12 431.20,468.83 431.65,468.65 432.10,469.40 432.55,467.98 433.00,469.26 433.45,469.04 433.90,469.40 434.35,469.30 434.80,468.92 435.25,468.59 435.70,468.98 436.15,467.66 436.60,469.40 437.05,467.32 437.50,469.40 437.95,469.32 438.40,468.20 438.85,468.79 439.30,469.40 439.75,468.67 440.20,469.40 440.65,468.04 441.10,468.89 441.55,468.85 442.00,468.66 442.45,468.75 442.90,469.25 443.35,469.11 443.80,469.40 444.25,469.40 444.70,463.57 445.15,469.40 445.60,468.95 446.05,469.16 446.50,468.78 446.95,469.40 447.40,468.28 447.85,465.53 448.30,469.40 448.75,468.34 449.20,469.01 449.65,467.07 450.10,469.19 450.55,467.97 451.00,469.22 451.45,468.60 451.90,469.19 452.35,468.17 452.80,468.41 453.25,468.10 453.70,469.25 454.15,469.35 454.60,469.40 455.05,467.24 455.50,469.40 455.95,469.10 456.40,469.40 456.85,468.14 457.30,469.16 457.75,469.15 458.20,469.40 458.65,469.40 459.10,468.35 459.55,468.05 460.00,468.99 460.45,468.69 460.90,469.40 461.35,468.56 461.80,466.70 462.25,468.26 462.70,468.84 463.15,468.74 463.60,469.40 464.05,468.48 464.50,469.40 464.95,469.40 465.40,468.97 465.85,469.40 466.30,469.38 466.75,469.31 467.20,468.48 467.65,468.42 468.10,468.96 468.55,469.40 469.00,468.91 469.45,469.40 469.90,468.76 470.35,467.94 470.80,467.23 471.25,466.77 471.70,467.70 472.15,468.46 472.60,469.00 473.05,468.98 473.50,469.28 473.95,469.24 474.40,467.96 474.85,469.12 475.30,468.87 475.75,468.73 476.20,469.19 476.65,469.29 477.10,469.13 477.55,469.19 478.00,469.29 478.45,469.00 478.90,468.89 479.35,467.51 479.80,469.17 480.25,467.89 480.70,468.85 481.15,469.07 481.60,466.29 482.05,469.40 482.50,469.33 482.95,467.00 483.40,469.14 483.85,469.36 484.30,469.37 484.75,468.90 485.20,465.03 485.65,466.13 486.10,467.97 486.55,468.01 487.00,469.40 487.45,469.17 487.90,468.60 488.35,461.33 488.80,467.12 489.25,468.93 489.70,467.88 490.15,467.73 490.60,468.46 491.05,468.34 491.50,468.12 491.95,469.09 492.40,467.42 492.85,469.14 493.30,464.83 493.75,469.40 494.20,469.18 494.60,469.40" fill="#aa8426"/>
<rect x="409" y="430.5" width="7.8" height="42.1" fill="#44a6d8" fill-opacity="0.68"/>
<text x="332.9" y="436.1" font-size="6.1" fill="#a274c4" textLength="23.6" lengthAdjust="spacingAndGlyphs">H3K27ac</text>
<text x="332.9" y="446.5" font-size="6.1" fill="#d0507c" textLength="14.4" lengthAdjust="spacingAndGlyphs">OBF1</text>
<text x="332.9" y="457" font-size="6.1" fill="#e2b24a" textLength="23.6" lengthAdjust="spacingAndGlyphs">H3K27ac</text>
<text x="332.9" y="467.7" font-size="6.1" fill="#c59a4e" textLength="14.4" lengthAdjust="spacingAndGlyphs">OBF1</text>
<polyline points="332,430.2 330,430.2 330,446" fill="none" stroke="#333" stroke-width="0.8" stroke-linejoin="round" />
<polyline points="332,451.5 330,451.5 330,466.2" fill="none" stroke="#333" stroke-width="0.8" stroke-linejoin="round" />
<text x="325.6" y="437.6" font-size="6" text-anchor="middle" fill="#222" textLength="10" lengthAdjust="spacingAndGlyphs" transform="rotate(-90 325.6 437.6)">Raji</text>
<text x="325.6" y="459.8" font-size="6" text-anchor="middle" fill="#222" textLength="21.5" lengthAdjust="spacingAndGlyphs" transform="rotate(-90 325.6 459.8)">SUDHL4</text>
<text x="391.6" y="483.4" font-size="7.2" fill="#111" textLength="17.4" lengthAdjust="spacingAndGlyphs">10 kb</text>
<line x1="412.2" y1="481" x2="441" y2="481" stroke="#222" stroke-width="0.6" />
<line x1="412.2" y1="479.5" x2="412.2" y2="482.5" stroke="#222" stroke-width="0.6" />
<line x1="441" y1="479.5" x2="441" y2="482.5" stroke="#222" stroke-width="0.6" />
<text x="443.8" y="483.6" font-size="7.2" fill="#111" textLength="16.7" lengthAdjust="spacingAndGlyphs">hg19</text>
<text x="372" y="494.2" font-size="6.8" fill="#111" font-style="italic" textLength="16.9" lengthAdjust="spacingAndGlyphs">BCL6</text>
<line x1="392.5" y1="491.5" x2="461.2" y2="491.5" stroke="#111" stroke-width="0.7" />
<polygon points="391.8,491.5 394.8,490 394.8,493" fill="#111" />
<line x1="398" y1="490.3" x2="398" y2="492.7" stroke="#111" stroke-width="0.8" />
<line x1="402" y1="490.3" x2="402" y2="492.7" stroke="#111" stroke-width="0.8" />
<line x1="406" y1="490.3" x2="406" y2="492.7" stroke="#111" stroke-width="0.8" />
<line x1="410" y1="490.3" x2="410" y2="492.7" stroke="#111" stroke-width="0.8" />
<line x1="420" y1="490.3" x2="420" y2="492.7" stroke="#111" stroke-width="0.8" />
<line x1="425" y1="490.3" x2="425" y2="492.7" stroke="#111" stroke-width="0.8" />
<circle cx="414.8" cy="491.5" r="1.3" fill="#111"/>
<line x1="461.2" y1="491.5" x2="461.2" y2="487" stroke="#111" stroke-width="0.7" />
<line x1="461.2" y1="487" x2="458" y2="487" stroke="#111" stroke-width="0.7" />
<polyline points="459.2,485.9 457.9,487 459.2,488.1" fill="none" stroke="#111" stroke-width="0.6" stroke-linejoin="round" />
<line x1="358.2" y1="503" x2="494.6" y2="503" stroke="#7b3fa6" stroke-width="0.45" stroke-opacity="0.55"/>
<polygon points="358.20,503.00 358.20,503.00 358.65,503.00 359.10,502.45 359.55,503.00 360.00,503.00 360.45,502.74 360.90,502.47 361.35,503.00 361.80,501.66 362.25,503.00 362.70,503.00 363.15,503.00 363.60,502.90 364.05,502.94 364.50,503.00 364.95,503.00 365.40,503.00 365.85,502.93 366.30,503.00 366.75,502.89 367.20,502.52 367.65,503.00 368.10,503.00 368.55,502.63 369.00,503.00 369.45,501.86 369.90,503.00 370.35,503.00 370.80,502.90 371.25,502.84 371.70,503.00 372.15,502.97 372.60,503.00 373.05,503.00 373.50,502.56 373.95,503.00 374.40,502.64 374.85,503.00 375.30,503.00 375.75,502.81 376.20,502.87 376.65,502.04 377.10,501.87 377.55,502.75 378.00,502.96 378.45,502.99 378.90,503.00 379.35,502.54 379.80,503.00 380.25,502.80 380.70,502.96 381.15,503.00 381.60,503.00 382.05,502.95 382.50,501.99 382.95,503.00 383.40,501.82 383.85,503.00 384.30,502.63 384.75,502.48 385.20,503.00 385.65,503.00 386.10,502.62 386.55,503.00 387.00,502.92 387.45,503.00 387.90,503.00 388.35,502.58 388.80,503.00 389.25,503.00 389.70,503.00 390.15,503.00 390.60,503.00 391.05,502.51 391.50,502.04 391.95,503.00 392.40,502.05 392.85,502.92 393.30,502.99 393.75,502.95 394.20,502.54 394.65,502.10 395.10,501.60 395.55,502.04 396.00,502.74 396.45,502.97 396.90,502.99 397.35,503.00 397.80,501.96 398.25,503.00 398.70,502.63 399.15,503.00 399.60,502.78 400.05,502.95 400.50,501.44 400.95,502.71 401.40,502.61 401.85,503.00 402.30,501.94 402.75,503.00 403.20,503.00 403.65,503.00 404.10,502.41 404.55,503.00 405.00,502.85 405.45,503.00 405.90,502.86 406.35,501.74 406.80,503.00 407.25,503.00 407.70,502.83 408.15,503.00 408.60,503.00 409.05,502.81 409.50,502.47 409.95,503.00 410.40,502.98 410.85,502.62 411.30,503.00 411.75,502.74 412.20,502.74 412.65,503.00 413.10,503.00 413.55,502.59 414.00,503.00 414.45,502.99 414.90,502.85 415.35,502.94 415.80,502.96 416.25,503.00 416.70,502.82 417.15,503.00 417.60,502.68 418.05,503.00 418.50,503.00 418.95,502.28 419.40,503.00 419.85,503.00 420.30,503.00 420.75,502.65 421.20,503.00 421.65,502.46 422.10,503.00 422.55,503.00 423.00,503.00 423.45,502.25 423.90,502.59 424.35,502.96 424.80,502.49 425.25,503.00 425.70,503.00 426.15,503.00 426.60,503.00 427.05,503.00 427.50,502.55 427.95,502.99 428.40,503.00 428.85,502.92 429.30,502.91 429.75,502.63 430.20,501.98 430.65,502.13 431.10,503.00 431.55,503.00 432.00,503.00 432.45,502.87 432.90,503.00 433.35,502.23 433.80,502.81 434.25,503.00 434.70,503.00 435.15,502.92 435.60,503.00 436.05,503.00 436.50,502.60 436.95,503.00 437.40,503.00 437.85,502.98 438.30,503.00 438.75,503.00 439.20,503.00 439.65,502.99 440.10,502.23 440.55,502.61 441.00,503.00 441.45,503.00 441.90,503.00 442.35,503.00 442.80,501.82 443.25,503.00 443.70,502.90 444.15,502.88 444.60,503.00 445.05,502.94 445.50,502.65 445.95,502.32 446.40,502.95 446.85,502.90 447.30,502.28 447.75,503.00 448.20,502.94 448.65,502.99 449.10,502.90 449.55,502.89 450.00,502.47 450.45,501.89 450.90,498.22 451.35,499.81 451.80,497.86 452.25,498.65 452.70,502.38 453.15,502.69 453.60,502.38 454.05,502.43 454.50,502.99 454.95,503.00 455.40,502.83 455.85,503.00 456.30,502.85 456.75,503.00 457.20,503.00 457.65,502.64 458.10,502.48 458.55,502.21 459.00,502.03 459.45,499.21 459.90,499.52 460.35,498.27 460.80,501.21 461.25,502.75 461.70,502.90 462.15,502.98 462.60,503.00 463.05,501.80 463.50,501.82 463.95,502.75 464.40,502.41 464.85,499.85 465.30,500.86 465.75,502.66 466.20,502.49 466.65,502.36 467.10,501.37 467.55,495.56 468.00,499.51 468.45,496.00 468.90,500.89 469.35,502.70 469.80,502.24 470.25,502.93 470.70,502.59 471.15,501.21 471.60,499.84 472.05,499.67 472.50,498.68 472.95,502.28 473.40,502.60 473.85,501.96 474.30,501.06 474.75,499.02 475.20,499.33 475.65,498.69 476.10,499.62 476.55,500.71 477.00,502.56 477.45,502.76 477.90,502.40 478.35,501.93 478.80,501.95 479.25,501.42 479.70,500.98 480.15,502.78 480.60,502.93 481.05,502.98 481.50,502.72 481.95,503.00 482.40,502.64 482.85,503.00 483.30,502.77 483.75,503.00 484.20,503.00 484.65,503.00 485.10,502.38 485.55,503.00 486.00,503.00 486.45,502.26 486.90,502.78 487.35,502.88 487.80,502.94 488.25,503.00 488.70,503.00 489.15,503.00 489.60,503.00 490.05,501.70 490.50,503.00 490.95,503.00 491.40,503.00 491.85,502.91 492.30,503.00 492.75,502.62 493.20,502.67 493.65,503.00 494.10,502.09 494.55,503.00 494.60,503.00" fill="#7b3fa6"/>
<line x1="358.2" y1="513.2" x2="494.6" y2="513.2" stroke="#b2436a" stroke-width="0.45" stroke-opacity="0.55"/>
<polygon points="358.20,513.20 358.20,513.20 358.65,513.20 359.10,513.20 359.55,513.20 360.00,512.91 360.45,513.20 360.90,513.20 361.35,513.20 361.80,513.16 362.25,513.20 362.70,512.87 363.15,513.20 363.60,513.20 364.05,513.20 364.50,513.20 364.95,512.82 365.40,513.20 365.85,512.89 366.30,513.20 366.75,513.20 367.20,513.20 367.65,512.50 368.10,513.20 368.55,513.20 369.00,513.20 369.45,513.05 369.90,513.20 370.35,512.86 370.80,513.10 371.25,513.08 371.70,512.35 372.15,511.94 372.60,512.93 373.05,512.36 373.50,513.19 373.95,512.70 374.40,513.14 374.85,513.20 375.30,513.01 375.75,513.20 376.20,513.20 376.65,513.20 377.10,513.20 377.55,512.96 378.00,513.20 378.45,513.20 378.90,511.46 379.35,512.93 379.80,513.20 380.25,513.01 380.70,512.80 381.15,512.88 381.60,513.20 382.05,513.20 382.50,513.20 382.95,513.20 383.40,513.20 383.85,513.20 384.30,513.02 384.75,513.10 385.20,513.20 385.65,513.20 386.10,513.20 386.55,513.20 387.00,513.20 387.45,513.20 387.90,513.20 388.35,513.03 388.80,513.04 389.25,513.20 389.70,513.13 390.15,513.20 390.60,513.20 391.05,512.42 391.50,513.01 391.95,513.09 392.40,512.76 392.85,513.20 393.30,513.20 393.75,513.20 394.20,513.20 394.65,513.20 395.10,513.20 395.55,513.09 396.00,513.10 396.45,512.85 396.90,513.20 397.35,513.20 397.80,512.81 398.25,513.20 398.70,513.20 399.15,513.20 399.60,513.20 400.05,512.46 400.50,512.28 400.95,513.20 401.40,513.18 401.85,513.09 402.30,512.94 402.75,513.20 403.20,513.20 403.65,513.20 404.10,513.19 404.55,513.20 405.00,513.20 405.45,513.20 405.90,513.20 406.35,513.10 406.80,513.01 407.25,513.20 407.70,513.20 408.15,511.94 408.60,512.49 409.05,513.20 409.50,513.20 409.95,513.20 410.40,513.20 410.85,513.20 411.30,513.20 411.75,513.20 412.20,513.20 412.65,513.20 413.10,512.55 413.55,513.20 414.00,512.47 414.45,513.20 414.90,513.17 415.35,512.93 415.80,513.06 416.25,513.20 416.70,512.47 417.15,513.20 417.60,513.20 418.05,513.12 418.50,513.20 418.95,513.11 419.40,513.20 419.85,513.20 420.30,513.20 420.75,513.05 421.20,513.20 421.65,513.20 422.10,513.20 422.55,513.20 423.00,513.20 423.45,513.08 423.90,513.14 424.35,513.20 424.80,513.20 425.25,512.62 425.70,513.20 426.15,513.20 426.60,512.70 427.05,513.20 427.50,512.15 427.95,513.20 428.40,512.10 428.85,513.20 429.30,513.20 429.75,513.20 430.20,513.18 430.65,513.20 431.10,513.05 431.55,513.12 432.00,513.20 432.45,513.19 432.90,513.20 433.35,513.20 433.80,513.08 434.25,513.20 434.70,512.46 435.15,513.20 435.60,512.85 436.05,513.20 436.50,512.89 436.95,512.94 437.40,513.20 437.85,513.20 438.30,513.20 438.75,513.20 439.20,513.20 439.65,513.20 440.10,513.20 440.55,512.70 441.00,513.20 441.45,513.20 441.90,512.18 442.35,513.10 442.80,513.20 443.25,513.00 443.70,513.20 444.15,512.86 444.60,512.46 445.05,513.20 445.50,512.86 445.95,513.06 446.40,513.20 446.85,513.20 447.30,513.02 447.75,512.82 448.20,513.20 448.65,513.20 449.10,513.20 449.55,512.69 450.00,513.13 450.45,512.92 450.90,511.45 451.35,509.65 451.80,512.06 452.25,513.05 452.70,513.17 453.15,513.20 453.60,511.88 454.05,513.20 454.50,513.20 454.95,513.20 455.40,513.03 455.85,512.88 456.30,513.20 456.75,513.20 457.20,512.57 457.65,513.20 458.10,513.20 458.55,513.18 459.00,513.09 459.45,512.58 459.90,510.30 460.35,511.72 460.80,512.99 461.25,513.07 461.70,513.00 462.15,513.20 462.60,513.20 463.05,513.20 463.50,513.20 463.95,513.20 464.40,513.20 464.85,513.20 465.30,513.13 465.75,512.88 466.20,513.20 466.65,513.17 467.10,512.88 467.55,512.34 468.00,510.56 468.45,512.34 468.90,513.07 469.35,513.17 469.80,513.00 470.25,513.20 470.70,513.20 471.15,513.20 471.60,513.20 472.05,513.01 472.50,513.17 472.95,513.20 473.40,513.20 473.85,513.01 474.30,512.94 474.75,513.20 475.20,512.71 475.65,513.20 476.10,512.27 476.55,512.03 477.00,513.20 477.45,512.57 477.90,513.03 478.35,513.15 478.80,512.93 479.25,512.36 479.70,513.15 480.15,513.06 480.60,512.88 481.05,513.20 481.50,513.20 481.95,511.85 482.40,512.95 482.85,513.20 483.30,513.20 483.75,513.20 484.20,512.94 484.65,512.67 485.10,512.94 485.55,512.72 486.00,513.20 486.45,513.20 486.90,512.97 487.35,512.87 487.80,513.20 488.25,511.77 488.70,513.20 489.15,512.08 489.60,513.20 490.05,512.90 490.50,513.20 490.95,513.20 491.40,513.20 491.85,513.20 492.30,513.20 492.75,513.20 493.20,513.20 493.65,512.91 494.10,513.20 494.55,513.20 494.60,513.20" fill="#b2436a"/>
<line x1="358.2" y1="523.8" x2="494.6" y2="523.8" stroke="#cf9e22" stroke-width="0.45" stroke-opacity="0.55"/>
<polygon points="358.20,523.80 358.20,523.80 358.65,523.62 359.10,522.55 359.55,523.80 360.00,523.80 360.45,523.41 360.90,523.80 361.35,522.55 361.80,523.80 362.25,523.80 362.70,523.80 363.15,523.80 363.60,523.78 364.05,523.47 364.50,523.80 364.95,523.61 365.40,523.59 365.85,523.80 366.30,523.80 366.75,523.80 367.20,523.80 367.65,523.80 368.10,523.80 368.55,523.80 369.00,523.80 369.45,523.07 369.90,522.90 370.35,523.80 370.80,523.62 371.25,523.32 371.70,523.52 372.15,523.80 372.60,523.78 373.05,523.80 373.50,523.80 373.95,523.31 374.40,523.17 374.85,523.80 375.30,523.80 375.75,523.80 376.20,523.80 376.65,522.85 377.10,523.80 377.55,523.61 378.00,523.80 378.45,523.73 378.90,523.80 379.35,523.80 379.80,523.56 380.25,522.04 380.70,523.07 381.15,523.80 381.60,523.80 382.05,522.12 382.50,523.76 382.95,523.80 383.40,523.78 383.85,523.73 384.30,523.28 384.75,522.82 385.20,522.72 385.65,522.52 386.10,523.32 386.55,523.47 387.00,523.79 387.45,523.80 387.90,523.80 388.35,523.80 388.80,523.80 389.25,523.80 389.70,523.76 390.15,523.80 390.60,523.80 391.05,523.80 391.50,523.80 391.95,523.80 392.40,523.80 392.85,523.80 393.30,523.80 393.75,523.80 394.20,523.80 394.65,523.80 395.10,523.80 395.55,523.80 396.00,523.80 396.45,523.80 396.90,523.80 397.35,523.80 397.80,523.80 398.25,523.36 398.70,523.80 399.15,523.51 399.60,523.80 400.05,523.79 400.50,523.45 400.95,523.80 401.40,523.80 401.85,522.61 402.30,523.80 402.75,523.80 403.20,523.80 403.65,523.80 404.10,523.80 404.55,523.72 405.00,523.80 405.45,523.62 405.90,523.30 406.35,523.80 406.80,523.80 407.25,523.80 407.70,523.80 408.15,523.72 408.60,523.80 409.05,523.80 409.50,523.80 409.95,523.80 410.40,523.80 410.85,523.80 411.30,523.80 411.75,523.80 412.20,523.80 412.65,523.80 413.10,523.80 413.55,523.80 414.00,523.80 414.45,523.80 414.90,523.80 415.35,523.80 415.80,523.80 416.25,523.80 416.70,523.80 417.15,523.80 417.60,523.80 418.05,523.48 418.50,523.65 418.95,523.38 419.40,523.22 419.85,523.80 420.30,523.42 420.75,523.69 421.20,523.80 421.65,523.80 422.10,523.72 422.55,523.60 423.00,523.80 423.45,523.80 423.90,523.80 424.35,523.57 424.80,523.80 425.25,523.78 425.70,523.80 426.15,523.80 426.60,522.02 427.05,523.23 427.50,523.80 427.95,523.80 428.40,523.80 428.85,523.80 429.30,523.80 429.75,523.80 430.20,523.80 430.65,523.80 431.10,523.80 431.55,523.77 432.00,523.79 432.45,523.80 432.90,523.57 433.35,523.80 433.80,523.38 434.25,523.74 434.70,523.80 435.15,523.75 435.60,523.78 436.05,523.80 436.50,523.43 436.95,522.79 437.40,523.29 437.85,523.71 438.30,523.80 438.75,523.80 439.20,523.80 439.65,523.80 440.10,523.80 440.55,523.80 441.00,523.75 441.45,523.80 441.90,523.74 442.35,523.25 442.80,523.71 443.25,523.19 443.70,523.74 444.15,523.80 444.60,523.79 445.05,523.77 445.50,523.74 445.95,523.55 446.40,522.64 446.85,522.55 447.30,522.30 447.75,522.85 448.20,523.66 448.65,523.74 449.10,523.74 449.55,523.50 450.00,523.12 450.45,519.90 450.90,520.20 451.35,518.84 451.80,521.92 452.25,523.54 452.70,523.72 453.15,523.06 453.60,523.75 454.05,523.53 454.50,522.30 454.95,522.14 455.40,522.03 455.85,523.33 456.30,523.70 456.75,523.78 457.20,523.60 457.65,523.79 458.10,523.75 458.55,523.65 459.00,523.30 459.45,520.67 459.90,519.01 460.35,519.77 460.80,518.74 461.25,522.74 461.70,522.73 462.15,523.73 462.60,523.30 463.05,523.80 463.50,523.65 463.95,523.51 464.40,523.09 464.85,523.70 465.30,523.37 465.75,519.86 466.20,517.21 466.65,517.50 467.10,518.45 467.55,522.53 468.00,520.97 468.45,515.06 468.90,520.01 469.35,515.42 469.80,517.28 470.25,521.98 470.70,523.10 471.15,521.97 471.60,518.57 472.05,518.87 472.50,515.12 472.95,517.94 473.40,516.56 473.85,520.78 474.30,523.21 474.75,522.50 475.20,520.65 475.65,520.82 476.10,519.18 476.55,520.26 477.00,520.48 477.45,523.22 477.90,523.53 478.35,523.49 478.80,523.77 479.25,523.79 479.70,523.80 480.15,523.00 480.60,523.80 481.05,523.80 481.50,523.53 481.95,523.80 482.40,523.57 482.85,523.80 483.30,523.62 483.75,523.37 484.20,523.49 484.65,523.80 485.10,523.80 485.55,523.80 486.00,523.75 486.45,523.63 486.90,523.35 487.35,523.65 487.80,523.80 488.25,523.80 488.70,523.17 489.15,523.08 489.60,523.71 490.05,523.56 490.50,523.80 490.95,523.80 491.40,523.54 491.85,523.80 492.30,523.80 492.75,523.80 493.20,523.43 493.65,523.77 494.10,523.80 494.55,523.80 494.60,523.80" fill="#cf9e22"/>
<line x1="358.2" y1="534.2" x2="494.6" y2="534.2" stroke="#aa8426" stroke-width="0.45" stroke-opacity="0.55"/>
<polygon points="358.20,534.20 358.20,534.13 358.65,533.60 359.10,534.16 359.55,534.20 360.00,533.97 360.45,534.20 360.90,533.43 361.35,533.80 361.80,534.20 362.25,534.20 362.70,534.20 363.15,533.96 363.60,534.20 364.05,534.20 364.50,534.20 364.95,533.15 365.40,534.20 365.85,534.20 366.30,533.98 366.75,532.84 367.20,534.17 367.65,534.20 368.10,533.24 368.55,534.20 369.00,533.98 369.45,533.97 369.90,534.15 370.35,533.89 370.80,532.78 371.25,532.95 371.70,534.00 372.15,534.03 372.60,534.19 373.05,533.61 373.50,533.77 373.95,533.73 374.40,534.20 374.85,534.20 375.30,533.55 375.75,534.04 376.20,534.20 376.65,533.88 377.10,534.20 377.55,534.20 378.00,533.47 378.45,534.20 378.90,534.20 379.35,534.20 379.80,534.20 380.25,533.22 380.70,534.20 381.15,534.02 381.60,534.19 382.05,534.20 382.50,533.40 382.95,534.20 383.40,534.20 383.85,533.95 384.30,534.00 384.75,533.78 385.20,533.05 385.65,534.20 386.10,533.99 386.55,534.20 387.00,534.20 387.45,533.81 387.90,534.20 388.35,533.83 388.80,533.84 389.25,534.20 389.70,532.41 390.15,533.88 390.60,533.72 391.05,534.20 391.50,531.87 391.95,534.10 392.40,533.79 392.85,534.20 393.30,534.20 393.75,534.20 394.20,534.20 394.65,534.18 395.10,534.20 395.55,534.20 396.00,534.20 396.45,533.89 396.90,534.08 397.35,534.20 397.80,533.71 398.25,534.05 398.70,534.20 399.15,533.87 399.60,533.81 400.05,534.20 400.50,534.20 400.95,534.20 401.40,534.20 401.85,534.18 402.30,534.20 402.75,534.20 403.20,533.44 403.65,533.89 404.10,534.20 404.55,534.20 405.00,532.62 405.45,534.20 405.90,533.44 406.35,533.99 406.80,533.72 407.25,534.11 407.70,534.14 408.15,533.61 408.60,534.20 409.05,534.20 409.50,533.92 409.95,534.20 410.40,534.20 410.85,534.20 411.30,533.15 411.75,534.20 412.20,533.83 412.65,533.87 413.10,533.40 413.55,533.93 414.00,533.92 414.45,534.20 414.90,534.20 415.35,534.20 415.80,534.20 416.25,534.20 416.70,532.84 417.15,534.20 417.60,534.16 418.05,534.18 418.50,534.08 418.95,534.20 419.40,534.20 419.85,534.20 420.30,534.20 420.75,534.07 421.20,534.20 421.65,533.45 422.10,533.83 422.55,534.20 423.00,533.68 423.45,534.20 423.90,534.08 424.35,534.20 424.80,534.20 425.25,534.03 425.70,534.20 426.15,534.20 426.60,533.98 427.05,533.55 427.50,533.81 427.95,532.76 428.40,534.20 428.85,534.20 429.30,534.13 429.75,534.20 430.20,534.20 430.65,534.02 431.10,534.15 431.55,534.11 432.00,532.88 432.45,534.20 432.90,533.67 433.35,534.20 433.80,533.46 434.25,534.20 434.70,532.92 435.15,534.20 435.60,533.92 436.05,534.20 436.50,534.20 436.95,534.20 437.40,534.20 437.85,534.18 438.30,534.20 438.75,534.20 439.20,532.65 439.65,533.93 440.10,533.70 440.55,534.20 441.00,534.20 441.45,534.01 441.90,534.19 442.35,534.20 442.80,534.20 443.25,534.20 443.70,533.24 444.15,534.14 444.60,534.17 445.05,534.20 445.50,534.12 445.95,533.80 446.40,534.20 446.85,534.20 447.30,534.20 447.75,534.16 448.20,534.19 448.65,533.08 449.10,533.41 449.55,534.17 450.00,534.06 450.45,533.70 450.90,531.13 451.35,529.10 451.80,533.24 452.25,533.98 452.70,533.14 453.15,534.19 453.60,534.20 454.05,532.52 454.50,534.20 454.95,534.20 455.40,533.49 455.85,534.20 456.30,534.09 456.75,534.01 457.20,534.18 457.65,534.05 458.10,534.19 458.55,534.12 459.00,533.89 459.45,532.84 459.90,528.27 460.35,531.08 460.80,533.07 461.25,534.05 461.70,533.36 462.15,533.65 462.60,534.20 463.05,533.80 463.50,533.92 463.95,533.78 464.40,533.79 464.85,533.89 465.30,533.79 465.75,534.13 466.20,534.20 466.65,533.93 467.10,533.80 467.55,533.75 468.00,532.52 468.45,532.27 468.90,529.88 469.35,532.98 469.80,534.08 470.25,534.15 470.70,533.89 471.15,533.64 471.60,532.70 472.05,532.23 472.50,532.57 472.95,533.91 473.40,534.15 473.85,533.82 474.30,534.20 474.75,533.82 475.20,534.01 475.65,534.20 476.10,534.20 476.55,533.62 477.00,534.20 477.45,534.15 477.90,534.20 478.35,534.20 478.80,533.18 479.25,533.86 479.70,534.20 480.15,534.20 480.60,534.11 481.05,534.20 481.50,534.19 481.95,534.17 482.40,533.07 482.85,533.88 483.30,534.20 483.75,533.44 484.20,534.20 484.65,534.20 485.10,534.20 485.55,532.86 486.00,534.20 486.45,534.20 486.90,533.04 487.35,534.20 487.80,534.05 488.25,534.20 488.70,534.00 489.15,534.05 489.60,533.57 490.05,533.61 490.50,534.20 490.95,533.76 491.40,534.20 491.85,534.11 492.30,534.17 492.75,534.20 493.20,532.21 493.65,533.80 494.10,533.98 494.55,533.80 494.60,534.20" fill="#aa8426"/>
<rect x="449.2" y="493.8" width="4.6" height="44.4" fill="#44a6d8" fill-opacity="0.68"/>
<rect x="457.7" y="493.8" width="4.6" height="44.4" fill="#44a6d8" fill-opacity="0.68"/>
<rect x="465.8" y="493.8" width="4.4" height="44.4" fill="#44a6d8" fill-opacity="0.68"/>
<text x="332.9" y="500.6" font-size="6.2" fill="#a274c4" textLength="23.6" lengthAdjust="spacingAndGlyphs">H3K27ac</text>
<text x="332.9" y="510.8" font-size="6.2" fill="#d0507c" textLength="14.4" lengthAdjust="spacingAndGlyphs">OBF1</text>
<text x="332.9" y="522.5" font-size="6.2" fill="#e2b24a" textLength="23.6" lengthAdjust="spacingAndGlyphs">H3K27ac</text>
<text x="332.9" y="532.6" font-size="6.2" fill="#c59a4e" textLength="14.4" lengthAdjust="spacingAndGlyphs">OBF1</text>
<polyline points="332.7,495 330.7,495 330.7,511.5" fill="none" stroke="#333" stroke-width="0.8" stroke-linejoin="round" />
<polyline points="332.7,517.3 330.7,517.3 330.7,532.3" fill="none" stroke="#333" stroke-width="0.8" stroke-linejoin="round" />
<text x="324.6" y="502.6" font-size="6" text-anchor="middle" fill="#222" textLength="10" lengthAdjust="spacingAndGlyphs" transform="rotate(-90 324.6 502.6)">Raji</text>
<text x="324.6" y="524.4" font-size="6" text-anchor="middle" fill="#222" textLength="21.5" lengthAdjust="spacingAndGlyphs" transform="rotate(-90 324.6 524.4)">SUDHL4</text>
<text x="7.6" y="577.3" font-size="14.5" font-weight="bold">G</text>
<text x="69.2" y="593.6" font-size="7.2" fill="#111" textLength="17.6" lengthAdjust="spacingAndGlyphs">20 kb</text>
<line x1="90.6" y1="591.3" x2="129.6" y2="591.3" stroke="#222" stroke-width="0.6" />
<line x1="90.6" y1="589.8" x2="90.6" y2="592.8" stroke="#222" stroke-width="0.6" />
<line x1="129.6" y1="589.8" x2="129.6" y2="592.8" stroke="#222" stroke-width="0.6" />
<text x="132.9" y="594.2" font-size="7.2" fill="#111" textLength="16.3" lengthAdjust="spacingAndGlyphs">hg19</text>
<text x="74" y="602.7" font-size="6.8" fill="#111" font-style="italic" textLength="13" lengthAdjust="spacingAndGlyphs">IRF4</text>
<line x1="92" y1="599.6" x2="129.6" y2="599.6" stroke="#111" stroke-width="0.7" />
<line x1="92" y1="599.6" x2="92" y2="597" stroke="#111" stroke-width="0.7" />
<line x1="92" y1="597" x2="95" y2="597" stroke="#111" stroke-width="0.7" />
<line x1="95" y1="598.6" x2="95" y2="600.6" stroke="#111" stroke-width="0.7" />
<line x1="98" y1="598.6" x2="98" y2="600.6" stroke="#111" stroke-width="0.7" />
<line x1="101" y1="598.6" x2="101" y2="600.6" stroke="#111" stroke-width="0.7" />
<line x1="104" y1="598.6" x2="104" y2="600.6" stroke="#111" stroke-width="0.7" />
<line x1="108" y1="598.6" x2="108" y2="600.6" stroke="#111" stroke-width="0.7" />
<line x1="112" y1="598.6" x2="112" y2="600.6" stroke="#111" stroke-width="0.7" />
<line x1="116" y1="598.6" x2="116" y2="600.6" stroke="#111" stroke-width="0.7" />
<rect x="121.3" y="598.5" width="8.3" height="2.2" fill="#111" />
<line x1="47" y1="615.8" x2="175.2" y2="615.8" stroke="#6f8a2e" stroke-width="0.45" stroke-opacity="0.55"/>
<polygon points="47.00,615.80 47.00,615.80 47.45,615.62 47.90,615.11 48.35,615.00 48.80,615.80 49.25,615.80 49.70,615.80 50.15,615.80 50.60,614.23 51.05,615.40 51.50,615.80 51.95,615.80 52.40,615.68 52.85,615.80 53.30,615.57 53.75,615.80 54.20,615.68 54.65,615.34 55.10,615.45 55.55,613.91 56.00,614.40 56.45,613.15 56.90,614.77 57.35,615.67 57.80,615.22 58.25,614.60 58.70,614.66 59.15,615.72 59.60,615.40 60.05,615.50 60.50,615.47 60.95,614.91 61.40,611.70 61.85,612.49 62.30,611.02 62.75,612.42 63.20,615.31 63.65,614.64 64.10,613.98 64.55,611.04 65.00,611.90 65.45,610.02 65.90,614.40 66.35,615.55 66.80,615.73 67.25,615.56 67.70,615.80 68.15,615.44 68.60,615.74 69.05,615.40 69.50,614.75 69.95,615.66 70.40,615.40 70.85,615.80 71.30,614.43 71.75,615.49 72.20,615.80 72.65,615.29 73.10,615.65 73.55,615.80 74.00,615.80 74.45,615.21 74.90,615.53 75.35,614.70 75.80,615.80 76.25,615.14 76.70,615.37 77.15,615.57 77.60,615.80 78.05,615.80 78.50,615.46 78.95,615.77 79.40,615.71 79.85,615.80 80.30,615.80 80.75,615.04 81.20,615.78 81.65,615.79 82.10,615.28 82.55,615.22 83.00,615.64 83.45,615.80 83.90,615.26 84.35,615.49 84.80,615.62 85.25,615.80 85.70,615.47 86.15,615.57 86.60,615.79 87.05,614.74 87.50,614.94 87.95,614.72 88.40,612.53 88.85,612.10 89.30,610.55 89.75,613.47 90.20,614.04 90.65,615.61 91.10,615.19 91.55,612.48 92.00,612.72 92.45,611.98 92.90,615.12 93.35,615.60 93.80,615.77 94.25,614.56 94.70,614.47 95.15,615.41 95.60,614.58 96.05,612.33 96.50,614.46 96.95,615.51 97.40,615.76 97.85,614.59 98.30,615.22 98.75,615.61 99.20,615.26 99.65,614.09 100.10,614.34 100.55,614.36 101.00,615.53 101.45,615.72 101.90,615.66 102.35,614.17 102.80,615.02 103.25,615.17 103.70,615.49 104.15,615.80 104.60,615.79 105.05,615.75 105.50,615.61 105.95,614.83 106.40,607.44 106.85,609.89 107.30,608.53 107.75,612.19 108.20,614.30 108.65,615.56 109.10,615.25 109.55,615.63 110.00,615.80 110.45,614.98 110.90,615.73 111.35,615.80 111.80,615.80 112.25,615.74 112.70,614.90 113.15,615.80 113.60,615.79 114.05,615.67 114.50,612.87 114.95,613.48 115.40,611.51 115.85,611.07 116.30,609.47 116.75,611.96 117.20,614.66 117.65,613.07 118.10,610.29 118.55,614.01 119.00,615.06 119.45,615.43 119.90,614.67 120.35,615.70 120.80,615.80 121.25,615.80 121.70,615.80 122.15,615.48 122.60,615.74 123.05,615.46 123.50,614.04 123.95,613.65 124.40,613.06 124.85,612.99 125.30,615.72 125.75,615.78 126.20,615.52 126.65,615.80 127.10,615.12 127.55,615.54 128.00,615.73 128.45,615.60 128.90,615.67 129.35,615.44 129.80,614.89 130.25,613.60 130.70,615.45 131.15,615.04 131.60,615.57 132.05,615.54 132.50,615.79 132.95,615.67 133.40,615.51 133.85,614.54 134.30,614.39 134.75,615.55 135.20,615.76 135.65,615.19 136.10,615.80 136.55,615.80 137.00,614.14 137.45,615.80 137.90,614.21 138.35,615.55 138.80,615.52 139.25,614.32 139.70,614.59 140.15,615.33 140.60,615.23 141.05,614.67 141.50,615.80 141.95,615.80 142.40,615.76 142.85,615.64 143.30,615.54 143.75,615.55 144.20,612.30 144.65,615.80 145.10,615.02 145.55,615.64 146.00,615.80 146.45,615.80 146.90,615.80 147.35,614.28 147.80,615.42 148.25,615.65 148.70,615.24 149.15,614.08 149.60,615.80 150.05,615.31 150.50,615.10 150.95,615.30 151.40,615.80 151.85,615.80 152.30,613.62 152.75,615.03 153.20,615.28 153.65,614.05 154.10,614.40 154.55,615.76 155.00,615.40 155.45,615.42 155.90,615.13 156.35,615.80 156.80,615.80 157.25,615.77 157.70,615.73 158.15,615.02 158.60,613.23 159.05,614.60 159.50,615.61 159.95,615.19 160.40,615.03 160.85,615.79 161.30,615.80 161.75,614.60 162.20,615.66 162.65,615.55 163.10,615.08 163.55,615.55 164.00,614.33 164.45,615.62 164.90,615.80 165.35,615.80 165.80,614.65 166.25,615.80 166.70,615.80 167.15,615.43 167.60,612.74 168.05,615.80 168.50,615.80 168.95,615.04 169.40,615.74 169.85,615.80 170.30,615.13 170.75,615.21 171.20,614.15 171.65,615.60 172.10,615.68 172.55,615.80 173.00,615.17 173.45,615.73 173.90,615.80 174.35,615.46 174.80,615.80 175.20,615.80" fill="#6f8a2e"/>
<line x1="47" y1="630.2" x2="175.2" y2="630.2" stroke="#d2743e" stroke-width="0.45" stroke-opacity="0.55"/>
<polygon points="47.00,630.20 47.00,630.20 47.45,630.20 47.90,630.20 48.35,629.22 48.80,630.20 49.25,630.20 49.70,630.20 50.15,629.72 50.60,629.61 51.05,630.15 51.50,629.89 51.95,629.02 52.40,629.55 52.85,629.89 53.30,630.19 53.75,629.91 54.20,630.20 54.65,630.20 55.10,630.20 55.55,629.46 56.00,630.20 56.45,630.20 56.90,630.20 57.35,630.20 57.80,630.20 58.25,629.59 58.70,630.20 59.15,629.37 59.60,630.20 60.05,630.16 60.50,630.20 60.95,629.98 61.40,630.08 61.85,630.15 62.30,629.85 62.75,628.82 63.20,626.50 63.65,626.07 64.10,626.50 64.55,629.29 65.00,630.09 65.45,630.18 65.90,630.20 66.35,630.20 66.80,630.20 67.25,629.95 67.70,630.20 68.15,630.20 68.60,630.20 69.05,630.13 69.50,630.20 69.95,630.20 70.40,629.90 70.85,630.15 71.30,630.20 71.75,630.20 72.20,629.81 72.65,630.20 73.10,630.20 73.55,630.20 74.00,629.49 74.45,630.20 74.90,630.20 75.35,630.20 75.80,629.89 76.25,630.20 76.70,630.20 77.15,630.20 77.60,629.73 78.05,630.13 78.50,629.87 78.95,630.20 79.40,629.87 79.85,630.20 80.30,630.20 80.75,630.20 81.20,629.76 81.65,629.83 82.10,630.20 82.55,629.87 83.00,630.20 83.45,630.09 83.90,630.20 84.35,629.75 84.80,629.89 85.25,630.20 85.70,629.24 86.15,630.20 86.60,630.20 87.05,630.12 87.50,630.20 87.95,629.98 88.40,630.12 88.85,629.97 89.30,629.05 89.75,627.60 90.20,626.83 90.65,628.17 91.10,629.85 91.55,630.00 92.00,629.34 92.45,629.87 92.90,629.98 93.35,630.07 93.80,630.20 94.25,630.11 94.70,630.10 95.15,630.20 95.60,630.20 96.05,630.20 96.50,629.73 96.95,630.05 97.40,630.20 97.85,630.20 98.30,629.23 98.75,630.06 99.20,629.89 99.65,630.04 100.10,630.20 100.55,630.14 101.00,630.20 101.45,630.20 101.90,630.20 102.35,630.20 102.80,629.61 103.25,630.20 103.70,629.52 104.15,630.20 104.60,630.03 105.05,630.19 105.50,630.14 105.95,629.83 106.40,628.46 106.85,629.27 107.30,629.83 107.75,630.17 108.20,630.17 108.65,630.20 109.10,629.47 109.55,629.75 110.00,630.20 110.45,630.20 110.90,630.10 111.35,629.86 111.80,630.20 112.25,630.20 112.70,629.77 113.15,630.20 113.60,630.20 114.05,630.20 114.50,630.19 114.95,630.15 115.40,629.91 115.85,628.63 116.30,629.14 116.75,630.04 117.20,630.07 117.65,630.20 118.10,628.63 118.55,630.20 119.00,630.20 119.45,629.87 119.90,630.20 120.35,630.20 120.80,630.12 121.25,629.75 121.70,629.71 122.15,630.20 122.60,629.50 123.05,630.20 123.50,630.20 123.95,630.05 124.40,628.30 124.85,630.20 125.30,629.77 125.75,630.20 126.20,630.20 126.65,630.20 127.10,629.84 127.55,629.95 128.00,630.15 128.45,629.96 128.90,628.44 129.35,629.80 129.80,629.69 130.25,630.20 130.70,630.20 131.15,630.20 131.60,629.32 132.05,630.13 132.50,630.20 132.95,630.20 133.40,630.20 133.85,630.20 134.30,630.20 134.75,629.80 135.20,630.20 135.65,629.75 136.10,630.20 136.55,630.11 137.00,630.20 137.45,630.20 137.90,630.20 138.35,630.18 138.80,630.20 139.25,630.16 139.70,630.20 140.15,630.10 140.60,630.20 141.05,630.20 141.50,630.12 141.95,630.00 142.40,630.02 142.85,630.20 143.30,629.65 143.75,630.20 144.20,628.98 144.65,630.06 145.10,630.20 145.55,630.20 146.00,630.20 146.45,630.07 146.90,630.20 147.35,630.20 147.80,630.20 148.25,630.20 148.70,630.20 149.15,630.20 149.60,629.84 150.05,629.84 150.50,630.20 150.95,630.20 151.40,630.02 151.85,630.20 152.30,630.20 152.75,630.20 153.20,630.20 153.65,630.07 154.10,629.98 154.55,630.20 155.00,630.20 155.45,628.99 155.90,630.20 156.35,630.20 156.80,630.14 157.25,630.20 157.70,630.16 158.15,630.08 158.60,630.20 159.05,630.12 159.50,630.20 159.95,630.20 160.40,630.20 160.85,630.20 161.30,630.20 161.75,630.20 162.20,630.20 162.65,630.20 163.10,628.63 163.55,630.11 164.00,630.07 164.45,630.20 164.90,630.20 165.35,630.20 165.80,630.20 166.25,630.20 166.70,630.20 167.15,630.20 167.60,630.20 168.05,630.20 168.50,630.20 168.95,629.11 169.40,630.20 169.85,630.20 170.30,630.20 170.75,630.20 171.20,629.99 171.65,630.20 172.10,630.20 172.55,630.20 173.00,630.20 173.45,630.20 173.90,630.20 174.35,630.20 174.80,630.20 175.20,630.20" fill="#d2743e"/>
<line x1="47" y1="644.6" x2="175.2" y2="644.6" stroke="#d2743e" stroke-width="0.45" stroke-opacity="0.55"/>
<polygon points="47.00,644.60 47.00,644.55 47.45,644.60 47.90,644.44 48.35,644.60 48.80,644.22 49.25,644.60 49.70,644.60 50.15,644.60 50.60,644.60 51.05,644.60 51.50,643.89 51.95,644.31 52.40,644.60 52.85,644.57 53.30,644.22 53.75,643.77 54.20,643.65 54.65,644.44 55.10,644.13 55.55,644.60 56.00,644.59 56.45,644.26 56.90,644.15 57.35,644.60 57.80,644.60 58.25,644.60 58.70,644.60 59.15,644.60 59.60,644.60 60.05,644.55 60.50,644.42 60.95,644.60 61.40,644.59 61.85,644.55 62.30,644.39 62.75,642.58 63.20,640.07 63.65,640.14 64.10,641.44 64.55,644.20 65.00,644.52 65.45,644.58 65.90,644.60 66.35,644.53 66.80,643.87 67.25,644.60 67.70,644.60 68.15,644.60 68.60,644.60 69.05,644.60 69.50,644.60 69.95,644.60 70.40,644.47 70.85,644.60 71.30,644.60 71.75,644.60 72.20,644.60 72.65,644.53 73.10,644.60 73.55,644.60 74.00,644.43 74.45,644.60 74.90,644.60 75.35,644.60 75.80,644.60 76.25,644.10 76.70,644.17 77.15,644.19 77.60,643.83 78.05,644.60 78.50,644.49 78.95,644.60 79.40,644.43 79.85,644.60 80.30,644.60 80.75,644.42 81.20,644.34 81.65,644.60 82.10,644.35 82.55,644.40 83.00,644.51 83.45,644.60 83.90,644.60 84.35,644.31 84.80,644.38 85.25,643.84 85.70,643.95 86.15,643.96 86.60,644.60 87.05,643.88 87.50,644.60 87.95,644.59 88.40,644.56 88.85,644.37 89.30,642.18 89.75,641.49 90.20,641.05 90.65,642.86 91.10,644.34 91.55,644.55 92.00,644.59 92.45,644.60 92.90,644.60 93.35,644.53 93.80,644.46 94.25,644.60 94.70,644.24 95.15,644.11 95.60,644.60 96.05,644.60 96.50,644.60 96.95,644.60 97.40,644.58 97.85,644.60 98.30,644.43 98.75,644.60 99.20,644.60 99.65,644.44 100.10,644.60 100.55,644.60 101.00,644.32 101.45,644.60 101.90,644.56 102.35,644.47 102.80,644.60 103.25,644.05 103.70,644.60 104.15,643.03 104.60,644.60 105.05,644.59 105.50,644.44 105.95,644.15 106.40,642.79 106.85,643.65 107.30,644.08 107.75,644.01 108.20,644.39 108.65,644.60 109.10,644.60 109.55,644.60 110.00,644.60 110.45,644.60 110.90,644.55 111.35,643.75 111.80,644.60 112.25,643.46 112.70,644.41 113.15,644.08 113.60,644.60 114.05,644.60 114.50,644.60 114.95,644.16 115.40,644.55 115.85,644.32 116.30,642.90 116.75,642.57 117.20,644.37 117.65,644.11 118.10,644.59 118.55,644.60 119.00,644.60 119.45,644.60 119.90,644.60 120.35,644.24 120.80,644.60 121.25,644.60 121.70,643.89 122.15,644.60 122.60,644.42 123.05,644.60 123.50,644.12 123.95,644.60 124.40,644.60 124.85,644.60 125.30,644.53 125.75,644.58 126.20,644.24 126.65,644.24 127.10,644.59 127.55,644.57 128.00,644.60 128.45,644.60 128.90,643.97 129.35,644.60 129.80,644.38 130.25,644.46 130.70,644.60 131.15,644.60 131.60,644.60 132.05,643.64 132.50,644.60 132.95,644.58 133.40,644.60 133.85,644.60 134.30,643.24 134.75,644.52 135.20,644.45 135.65,644.60 136.10,644.60 136.55,644.36 137.00,644.60 137.45,644.54 137.90,644.60 138.35,644.48 138.80,644.60 139.25,644.60 139.70,644.60 140.15,644.60 140.60,644.60 141.05,644.60 141.50,644.60 141.95,644.60 142.40,643.41 142.85,644.26 143.30,644.60 143.75,644.20 144.20,644.07 144.65,644.47 145.10,644.60 145.55,644.19 146.00,644.60 146.45,644.60 146.90,644.60 147.35,644.60 147.80,644.60 148.25,644.60 148.70,644.60 149.15,644.60 149.60,643.89 150.05,644.60 150.50,644.48 150.95,644.60 151.40,644.20 151.85,644.60 152.30,644.60 152.75,644.60 153.20,644.60 153.65,644.60 154.10,644.60 154.55,644.60 155.00,644.60 155.45,644.60 155.90,644.60 156.35,643.58 156.80,644.60 157.25,644.50 157.70,644.32 158.15,644.18 158.60,644.60 159.05,644.60 159.50,644.60 159.95,644.60 160.40,644.60 160.85,644.60 161.30,643.83 161.75,644.60 162.20,644.34 162.65,644.60 163.10,644.60 163.55,644.54 164.00,644.38 164.45,643.79 164.90,644.46 165.35,644.60 165.80,644.60 166.25,644.60 166.70,644.60 167.15,644.26 167.60,644.29 168.05,644.60 168.50,644.26 168.95,644.60 169.40,643.92 169.85,644.60 170.30,644.60 170.75,644.60 171.20,644.25 171.65,644.60 172.10,644.60 172.55,644.60 173.00,644.29 173.45,644.30 173.90,644.60 174.35,644.60 174.80,644.60 175.20,644.60" fill="#d2743e"/>
<rect x="60.2" y="605.6" width="7.5" height="44.8" fill="#44a6d8" fill-opacity="0.68"/>
<rect x="87.1" y="605.6" width="6.7" height="44.8" fill="#44a6d8" fill-opacity="0.68"/>
<text x="18.2" y="614.8" font-size="6.3" fill="#7f9250" textLength="23.6" lengthAdjust="spacingAndGlyphs">H3K27ac</text>
<text x="18.2" y="628.9" font-size="6.3" fill="#d87e58" textLength="28.7" lengthAdjust="spacingAndGlyphs">OBF1 rep1</text>
<text x="18.2" y="643.7" font-size="6.3" fill="#d87e58" textLength="28.7" lengthAdjust="spacingAndGlyphs">OBF1 rep2</text>
<text x="71" y="668.5" font-size="7.2" fill="#111" textLength="17.8" lengthAdjust="spacingAndGlyphs">20 kb</text>
<line x1="92.5" y1="666.3" x2="128" y2="666.3" stroke="#222" stroke-width="0.6" />
<line x1="92.5" y1="664.8" x2="92.5" y2="667.8" stroke="#222" stroke-width="0.6" />
<line x1="128" y1="664.8" x2="128" y2="667.8" stroke="#222" stroke-width="0.6" />
<text x="131" y="668.8" font-size="7.2" fill="#111" textLength="16.6" lengthAdjust="spacingAndGlyphs">hg19</text>
<text x="68.3" y="678.7" font-size="6.8" fill="#111" font-style="italic" textLength="16.6" lengthAdjust="spacingAndGlyphs">BCL6</text>
<line x1="89.5" y1="676" x2="131.3" y2="676" stroke="#111" stroke-width="0.7" />
<polygon points="88.5,676 91.3,674.7 91.3,677.3" fill="#111" />
<line x1="93" y1="675" x2="93" y2="677" stroke="#111" stroke-width="0.7" />
<line x1="96" y1="675" x2="96" y2="677" stroke="#111" stroke-width="0.7" />
<line x1="100" y1="675" x2="100" y2="677" stroke="#111" stroke-width="0.7" />
<line x1="104" y1="675" x2="104" y2="677" stroke="#111" stroke-width="0.7" />
<line x1="107" y1="675" x2="107" y2="677" stroke="#111" stroke-width="0.7" />
<circle cx="98.5" cy="676" r="1.1" fill="#111"/>
<line x1="131.3" y1="676" x2="131.3" y2="672" stroke="#111" stroke-width="0.7" />
<line x1="131.3" y1="672" x2="128.8" y2="672" stroke="#111" stroke-width="0.7" />
<line x1="47" y1="691.7" x2="175.2" y2="691.7" stroke="#6f8a2e" stroke-width="0.45" stroke-opacity="0.55"/>
<polygon points="47.00,691.70 47.00,691.36 47.45,690.94 47.90,691.53 48.35,690.26 48.80,691.55 49.25,691.62 49.70,691.70 50.15,690.88 50.60,691.70 51.05,691.70 51.50,691.55 51.95,691.70 52.40,690.37 52.85,691.53 53.30,691.70 53.75,691.50 54.20,691.70 54.65,691.70 55.10,691.42 55.55,691.70 56.00,691.70 56.45,691.70 56.90,691.47 57.35,691.36 57.80,691.38 58.25,691.70 58.70,691.70 59.15,691.70 59.60,690.33 60.05,691.42 60.50,690.73 60.95,691.56 61.40,691.70 61.85,691.17 62.30,691.55 62.75,691.61 63.20,691.25 63.65,690.85 64.10,691.70 64.55,691.41 65.00,691.37 65.45,691.70 65.90,691.70 66.35,691.68 66.80,691.70 67.25,691.70 67.70,691.34 68.15,691.39 68.60,691.61 69.05,691.18 69.50,691.66 69.95,691.70 70.40,691.70 70.85,691.58 71.30,690.51 71.75,691.64 72.20,691.70 72.65,691.47 73.10,691.70 73.55,691.70 74.00,691.70 74.45,690.63 74.90,691.18 75.35,691.70 75.80,691.70 76.25,691.70 76.70,691.57 77.15,691.35 77.60,691.01 78.05,691.70 78.50,691.06 78.95,691.70 79.40,689.64 79.85,691.16 80.30,691.22 80.75,689.32 81.20,690.28 81.65,691.46 82.10,690.99 82.55,691.69 83.00,690.81 83.45,690.83 83.90,691.68 84.35,689.80 84.80,691.70 85.25,691.70 85.70,691.55 86.15,691.49 86.60,691.70 87.05,691.64 87.50,690.70 87.95,691.70 88.40,691.61 88.85,691.70 89.30,690.62 89.75,691.25 90.20,691.54 90.65,690.45 91.10,690.60 91.55,691.57 92.00,691.64 92.45,691.31 92.90,691.68 93.35,691.50 93.80,691.20 94.25,691.70 94.70,691.32 95.15,691.61 95.60,690.07 96.05,691.70 96.50,691.03 96.95,687.36 97.40,690.65 97.85,691.70 98.30,691.50 98.75,691.06 99.20,691.43 99.65,691.55 100.10,691.61 100.55,691.70 101.00,690.16 101.45,691.46 101.90,691.70 102.35,691.70 102.80,691.70 103.25,691.70 103.70,691.35 104.15,691.70 104.60,691.46 105.05,691.27 105.50,691.65 105.95,691.70 106.40,691.70 106.85,691.22 107.30,691.70 107.75,691.20 108.20,691.64 108.65,691.64 109.10,691.40 109.55,690.44 110.00,688.34 110.45,689.97 110.90,690.91 111.35,690.81 111.80,690.39 112.25,688.83 112.70,688.69 113.15,688.37 113.60,689.60 114.05,689.14 114.50,691.04 114.95,690.81 115.40,688.86 115.85,689.44 116.30,686.96 116.75,687.38 117.20,691.05 117.65,690.95 118.10,688.64 118.55,684.71 119.00,688.21 119.45,684.71 119.90,688.90 120.35,690.87 120.80,690.99 121.25,688.86 121.70,688.16 122.15,688.40 122.60,685.50 123.05,690.44 123.50,691.20 123.95,690.17 124.40,685.09 124.85,685.10 125.30,683.10 125.75,686.81 126.20,691.02 126.65,691.32 127.10,690.63 127.55,687.47 128.00,687.24 128.45,685.46 128.90,690.31 129.35,691.36 129.80,690.59 130.25,688.31 130.70,685.22 131.15,684.64 131.60,685.35 132.05,690.50 132.50,691.39 132.95,691.17 133.40,688.98 133.85,687.82 134.30,685.83 134.75,688.22 135.20,690.85 135.65,690.77 136.10,688.98 136.55,686.12 137.00,688.77 137.45,684.72 137.90,688.94 138.35,690.99 138.80,691.03 139.25,688.39 139.70,684.99 140.15,685.10 140.60,685.35 141.05,690.75 141.50,688.96 141.95,691.25 142.40,690.27 142.85,690.09 143.30,689.35 143.75,690.09 144.20,691.57 144.65,690.61 145.10,691.69 145.55,689.82 146.00,691.70 146.45,691.70 146.90,691.70 147.35,691.70 147.80,691.56 148.25,691.44 148.70,691.70 149.15,691.66 149.60,691.08 150.05,691.32 150.50,691.70 150.95,691.08 151.40,691.70 151.85,691.70 152.30,691.70 152.75,691.65 153.20,691.70 153.65,691.70 154.10,690.78 154.55,691.54 155.00,691.70 155.45,691.64 155.90,691.70 156.35,691.70 156.80,691.44 157.25,691.49 157.70,691.60 158.15,691.60 158.60,691.35 159.05,690.75 159.50,691.61 159.95,691.18 160.40,691.70 160.85,691.59 161.30,691.70 161.75,691.70 162.20,691.70 162.65,691.55 163.10,691.58 163.55,690.17 164.00,691.70 164.45,691.47 164.90,690.68 165.35,691.63 165.80,691.39 166.25,691.70 166.70,691.70 167.15,691.54 167.60,691.53 168.05,691.70 168.50,691.70 168.95,690.76 169.40,691.56 169.85,691.70 170.30,690.89 170.75,691.70 171.20,691.41 171.65,690.72 172.10,691.36 172.55,691.70 173.00,691.70 173.45,690.95 173.90,691.70 174.35,691.53 174.80,690.45 175.20,691.70" fill="#6f8a2e"/>
<line x1="47" y1="706.2" x2="175.2" y2="706.2" stroke="#d2743e" stroke-width="0.45" stroke-opacity="0.55"/>
<polygon points="47.00,706.20 47.00,706.20 47.45,706.20 47.90,705.58 48.35,706.12 48.80,706.20 49.25,706.20 49.70,706.20 50.15,706.20 50.60,706.08 51.05,706.20 51.50,705.36 51.95,706.20 52.40,705.32 52.85,706.02 53.30,705.77 53.75,706.20 54.20,706.20 54.65,706.20 55.10,706.20 55.55,705.47 56.00,706.20 56.45,706.20 56.90,705.81 57.35,705.72 57.80,704.77 58.25,706.20 58.70,706.20 59.15,706.05 59.60,706.14 60.05,706.20 60.50,705.52 60.95,706.20 61.40,706.04 61.85,706.20 62.30,704.90 62.75,706.20 63.20,705.25 63.65,706.20 64.10,706.20 64.55,706.10 65.00,706.20 65.45,706.20 65.90,706.20 66.35,706.19 66.80,706.20 67.25,706.20 67.70,706.20 68.15,706.20 68.60,705.99 69.05,705.61 69.50,706.20 69.95,706.12 70.40,705.91 70.85,706.20 71.30,706.20 71.75,706.02 72.20,706.20 72.65,706.20 73.10,706.20 73.55,705.86 74.00,706.20 74.45,706.20 74.90,706.08 75.35,706.20 75.80,706.20 76.25,706.20 76.70,706.20 77.15,706.08 77.60,706.06 78.05,706.20 78.50,705.93 78.95,706.19 79.40,706.20 79.85,706.20 80.30,706.15 80.75,706.20 81.20,706.20 81.65,705.86 82.10,706.16 82.55,705.33 83.00,706.15 83.45,705.90 83.90,704.84 84.35,705.49 84.80,706.10 85.25,706.18 85.70,705.95 86.15,706.20 86.60,706.20 87.05,706.20 87.50,705.93 87.95,706.20 88.40,706.20 88.85,706.12 89.30,706.20 89.75,706.20 90.20,706.20 90.65,706.20 91.10,706.20 91.55,706.20 92.00,706.20 92.45,706.20 92.90,706.20 93.35,706.20 93.80,706.20 94.25,706.17 94.70,706.20 95.15,705.54 95.60,705.91 96.05,706.20 96.50,705.94 96.95,705.34 97.40,705.93 97.85,706.20 98.30,705.64 98.75,706.20 99.20,706.20 99.65,706.20 100.10,705.39 100.55,704.76 101.00,705.94 101.45,704.64 101.90,706.20 102.35,705.71 102.80,705.48 103.25,706.08 103.70,705.34 104.15,706.20 104.60,706.05 105.05,706.08 105.50,705.88 105.95,706.17 106.40,705.88 106.85,706.20 107.30,706.20 107.75,706.07 108.20,704.47 108.65,706.16 109.10,706.13 109.55,705.73 110.00,704.76 110.45,705.73 110.90,705.82 111.35,706.19 111.80,706.20 112.25,706.20 112.70,706.20 113.15,706.20 113.60,706.20 114.05,706.20 114.50,706.20 114.95,706.20 115.40,705.83 115.85,705.71 116.30,705.89 116.75,706.17 117.20,705.26 117.65,705.01 118.10,703.94 118.55,705.70 119.00,705.85 119.45,706.19 119.90,706.20 120.35,706.10 120.80,706.20 121.25,706.20 121.70,706.20 122.15,706.20 122.60,706.20 123.05,706.08 123.50,706.19 123.95,706.15 124.40,705.93 124.85,705.42 125.30,701.93 125.75,702.45 126.20,705.56 126.65,705.52 127.10,706.05 127.55,706.14 128.00,706.20 128.45,706.20 128.90,705.59 129.35,706.19 129.80,706.13 130.25,705.74 130.70,703.72 131.15,702.51 131.60,705.16 132.05,706.07 132.50,706.18 132.95,706.07 133.40,706.20 133.85,706.20 134.30,705.80 134.75,705.26 135.20,706.20 135.65,705.84 136.10,706.19 136.55,706.08 137.00,705.99 137.45,705.29 137.90,701.95 138.35,704.10 138.80,705.35 139.25,706.10 139.70,706.18 140.15,706.18 140.60,706.20 141.05,706.15 141.50,705.96 141.95,706.20 142.40,706.12 142.85,706.20 143.30,706.20 143.75,706.20 144.20,706.20 144.65,706.20 145.10,706.20 145.55,705.63 146.00,706.20 146.45,706.20 146.90,706.06 147.35,706.20 147.80,706.12 148.25,706.20 148.70,706.20 149.15,706.20 149.60,705.87 150.05,706.20 150.50,706.20 150.95,705.67 151.40,705.88 151.85,706.20 152.30,706.20 152.75,706.20 153.20,706.20 153.65,706.00 154.10,706.20 154.55,706.20 155.00,706.20 155.45,706.20 155.90,706.20 156.35,706.20 156.80,705.83 157.25,706.20 157.70,706.13 158.15,706.18 158.60,706.20 159.05,706.20 159.50,706.20 159.95,706.20 160.40,705.70 160.85,705.13 161.30,705.82 161.75,705.92 162.20,705.89 162.65,706.20 163.10,706.20 163.55,706.20 164.00,706.20 164.45,706.20 164.90,706.20 165.35,706.20 165.80,706.20 166.25,706.20 166.70,705.90 167.15,705.22 167.60,706.20 168.05,706.20 168.50,705.53 168.95,704.88 169.40,706.20 169.85,705.60 170.30,706.20 170.75,706.20 171.20,706.20 171.65,706.20 172.10,705.78 172.55,706.20 173.00,706.14 173.45,706.10 173.90,706.20 174.35,706.13 174.80,706.20 175.20,706.20" fill="#d2743e"/>
<line x1="47" y1="721" x2="175.2" y2="721" stroke="#d2743e" stroke-width="0.45" stroke-opacity="0.55"/>
<polygon points="47.00,721.00 47.00,721.00 47.45,720.66 47.90,721.00 48.35,721.00 48.80,721.00 49.25,720.69 49.70,721.00 50.15,720.31 50.60,721.00 51.05,720.73 51.50,720.98 51.95,721.00 52.40,721.00 52.85,720.97 53.30,721.00 53.75,721.00 54.20,720.39 54.65,720.09 55.10,720.85 55.55,721.00 56.00,720.50 56.45,721.00 56.90,721.00 57.35,720.84 57.80,721.00 58.25,721.00 58.70,721.00 59.15,721.00 59.60,721.00 60.05,721.00 60.50,721.00 60.95,721.00 61.40,721.00 61.85,721.00 62.30,720.59 62.75,720.98 63.20,720.91 63.65,720.39 64.10,719.87 64.55,720.75 65.00,720.96 65.45,720.88 65.90,720.99 66.35,721.00 66.80,721.00 67.25,721.00 67.70,721.00 68.15,721.00 68.60,721.00 69.05,721.00 69.50,721.00 69.95,721.00 70.40,720.84 70.85,720.14 71.30,721.00 71.75,721.00 72.20,721.00 72.65,721.00 73.10,721.00 73.55,721.00 74.00,721.00 74.45,721.00 74.90,721.00 75.35,721.00 75.80,721.00 76.25,721.00 76.70,721.00 77.15,721.00 77.60,721.00 78.05,721.00 78.50,721.00 78.95,720.92 79.40,720.04 79.85,720.99 80.30,721.00 80.75,721.00 81.20,721.00 81.65,719.22 82.10,720.41 82.55,720.28 83.00,719.44 83.45,720.49 83.90,720.92 84.35,720.98 84.80,720.45 85.25,721.00 85.70,721.00 86.15,720.98 86.60,721.00 87.05,720.62 87.50,720.65 87.95,721.00 88.40,721.00 88.85,721.00 89.30,720.74 89.75,721.00 90.20,721.00 90.65,721.00 91.10,719.80 91.55,721.00 92.00,720.98 92.45,721.00 92.90,720.08 93.35,721.00 93.80,720.59 94.25,721.00 94.70,721.00 95.15,721.00 95.60,721.00 96.05,720.75 96.50,721.00 96.95,720.89 97.40,721.00 97.85,720.29 98.30,721.00 98.75,720.70 99.20,721.00 99.65,721.00 100.10,721.00 100.55,721.00 101.00,721.00 101.45,721.00 101.90,721.00 102.35,721.00 102.80,721.00 103.25,721.00 103.70,721.00 104.15,721.00 104.60,720.90 105.05,721.00 105.50,721.00 105.95,721.00 106.40,721.00 106.85,721.00 107.30,720.89 107.75,721.00 108.20,720.70 108.65,721.00 109.10,721.00 109.55,720.80 110.00,720.77 110.45,720.37 110.90,721.00 111.35,720.92 111.80,721.00 112.25,721.00 112.70,721.00 113.15,721.00 113.60,720.92 114.05,721.00 114.50,721.00 114.95,721.00 115.40,720.94 115.85,720.74 116.30,720.91 116.75,720.73 117.20,720.58 117.65,719.81 118.10,716.87 118.55,720.50 119.00,720.91 119.45,720.62 119.90,721.00 120.35,720.48 120.80,721.00 121.25,721.00 121.70,721.00 122.15,720.67 122.60,721.00 123.05,721.00 123.50,720.56 123.95,720.96 124.40,720.48 124.85,720.31 125.30,714.98 125.75,717.66 126.20,720.43 126.65,720.84 127.10,720.97 127.55,720.93 128.00,721.00 128.45,720.80 128.90,721.00 129.35,719.54 129.80,720.61 130.25,720.69 130.70,718.87 131.15,717.85 131.60,720.03 132.05,720.89 132.50,720.98 132.95,719.97 133.40,720.93 133.85,720.95 134.30,720.52 134.75,721.00 135.20,720.35 135.65,721.00 136.10,720.32 136.55,720.83 137.00,720.66 137.45,719.94 137.90,717.04 138.35,718.90 138.80,720.64 139.25,720.68 139.70,720.98 140.15,721.00 140.60,721.00 141.05,720.84 141.50,720.34 141.95,721.00 142.40,720.69 142.85,720.67 143.30,721.00 143.75,720.16 144.20,720.82 144.65,721.00 145.10,721.00 145.55,721.00 146.00,720.98 146.45,721.00 146.90,720.72 147.35,721.00 147.80,720.92 148.25,720.92 148.70,721.00 149.15,721.00 149.60,721.00 150.05,720.19 150.50,720.83 150.95,720.73 151.40,720.98 151.85,721.00 152.30,720.84 152.75,720.85 153.20,721.00 153.65,720.65 154.10,720.84 154.55,721.00 155.00,720.64 155.45,719.89 155.90,720.50 156.35,721.00 156.80,720.79 157.25,721.00 157.70,721.00 158.15,720.97 158.60,721.00 159.05,721.00 159.50,721.00 159.95,721.00 160.40,720.84 160.85,721.00 161.30,721.00 161.75,720.98 162.20,721.00 162.65,721.00 163.10,720.51 163.55,720.92 164.00,721.00 164.45,721.00 164.90,720.84 165.35,721.00 165.80,720.82 166.25,721.00 166.70,721.00 167.15,721.00 167.60,719.44 168.05,721.00 168.50,720.51 168.95,721.00 169.40,721.00 169.85,721.00 170.30,720.13 170.75,719.90 171.20,721.00 171.65,720.96 172.10,719.72 172.55,721.00 173.00,721.00 173.45,721.00 173.90,721.00 174.35,721.00 174.80,720.42 175.20,721.00" fill="#d2743e"/>
<rect x="123.5" y="679.8" width="4" height="45.2" fill="#44a6d8" fill-opacity="0.68"/>
<rect x="129.4" y="679.8" width="3.5" height="45.2" fill="#44a6d8" fill-opacity="0.68"/>
<rect x="134.8" y="679.8" width="7" height="45.2" fill="#44a6d8" fill-opacity="0.68"/>
<text x="18.2" y="690.7" font-size="6.3" fill="#7f9250" textLength="23.6" lengthAdjust="spacingAndGlyphs">H3K27ac</text>
<text x="18.2" y="704.9" font-size="6.3" fill="#d87e58" textLength="28.7" lengthAdjust="spacingAndGlyphs">OBF1 rep1</text>
<text x="18.2" y="719.6" font-size="6.3" fill="#d87e58" textLength="28.7" lengthAdjust="spacingAndGlyphs">OBF1 rep2</text></svg>
</body></html>
